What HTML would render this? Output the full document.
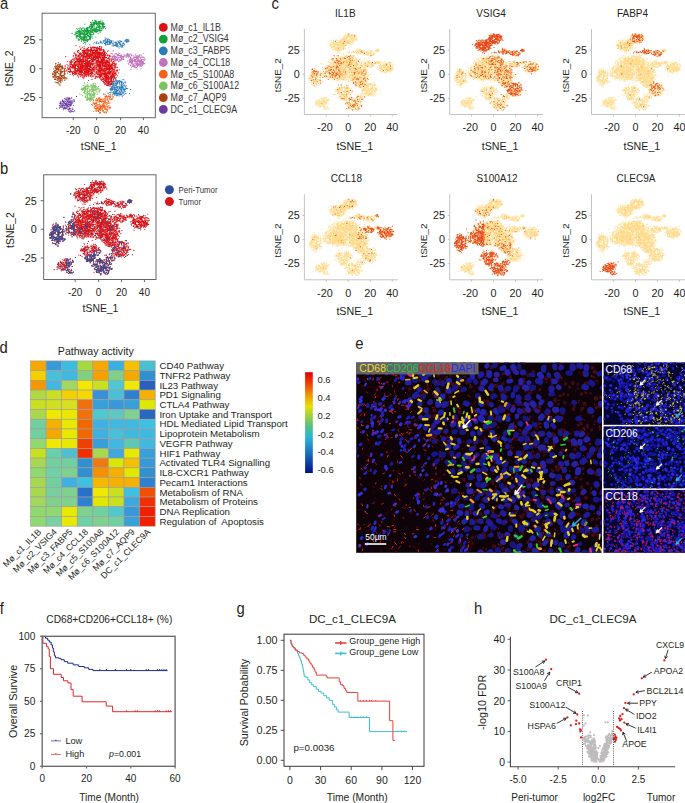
<!DOCTYPE html>
<html><head><meta charset="utf-8"><style>
html,body{margin:0;padding:0;background:#fff;}
svg{display:block;font-family:'Liberation Sans',sans-serif;}
</style></head><body>
<svg width="685" height="803" viewBox="0 0 685 803">
<defs>
<style>use{fill:none;stroke-linecap:round;vector-effect:non-scaling-stroke;}</style>
<path id="p_c1" d="M126 28h0M-3 150h0M29 0h0M-111 24h0M128 -77h0M37 -25h0M-196 -43h0M46 -50h0M18 -13h0M-99 154h0M-97 -60h0M48 -19h0M56 107h0M-46 127h0M68 114h0M105 83h0M103 22h0M-22 181h0M-108 152h0M-37 6h0M18 73h0M-173 90h0M-109 23h0M14 94h0M-122 186h0M-45 116h0M-37 78h0M-69 152h0M66 112h0M-138 17h0M-215 -27h0M-122 141h0M-9 133h0M-17 186h0M-66 118h0M-50 167h0M-98 10h0M-226 -48h0M-81 119h0M-48 173h0M-85 29h0M-65 107h0M116 -26h0M85 -85h0M-29 -39h0M151 7h0M-232 -29h0M-39 47h0M98 120h0M77 97h0M114 -151h0M-2 70h0M-73 7h0M-14 15h0M161 8h0M78 -75h0M-111 98h0M110 -80h0M-139 65h0M-149 114h0M35 -57h0M-91 130h0M100 -127h0M110 38h0M-13 -36h0M-226 22h0M-184 56h0M-55 57h0M-75 -50h0M105 -112h0M4 148h0M-79 -5h0M-18 99h0M-103 172h0M124 33h0M-97 103h0M-39 -13h0M113 81h0M0 13h0M41 121h0M109 9h0M-31 187h0M-197 31h0M156 -18h0M54 -11h0M63 73h0M106 6h0M67 119h0M-116 67h0M-89 103h0M-140 -23h0M-133 76h0M-168 115h0M10 -16h0M-208 25h0M-165 61h0M53 70h0M-23 -6h0M144 -67h0M-93 22h0M64 77h0M91 55h0M84 69h0M85 -119h0M-83 42h0M-91 3h0M127 4h0M-49 43h0M-139 76h0M-104 -30h0M49 61h0M-84 99h0M-49 86h0M65 -96h0M-60 90h0M-133 65h0M127 -85h0M77 -134h0M21 -21h0M-139 138h0M-89 19h0M-139 98h0M74 -3h0M53 60h0M60 -48h0M-1 140h0M-130 41h0M154 29h0M25 41h0M-149 79h0M117 -1h0M-50 -14h0M-123 26h0M19 36h0M-227 -4h0M-135 49h0M-181 -30h0M109 57h0M-60 46h0M-28 89h0M22 -55h0M72 -40h0M-106 60h0M-85 -9h0M-124 157h0M37 110h0M94 3h0M-128 43h0M18 103h0M-109 -5h0M-55 30h0M-34 -2h0M-128 65h0M-11 87h0M-210 33h0M-232 -24h0M-19 181h0M-129 13h0M46 30h0M-36 124h0M9 -49h0M2 35h0M72 -85h0M111 -46h0M-94 -1h0M-133 77h0M-57 -7h0M-47 85h0M75 -54h0M82 58h0M-92 80h0M-50 -41h0M152 57h0M-7 185h0M0 -67h0M0 177h0M-152 -3h0M10 -52h0M88 -78h0M-180 112h0M-110 71h0M-73 160h0M39 -47h0M-14 75h0M84 -74h0M-84 120h0M-126 53h0M-188 -24h0M-201 0h0M64 128h0M154 -114h0M29 -13h0M-40 142h0M84 -67h0M-188 -2h0M23 -57h0M68 59h0M11 -3h0M157 17h0M156 73h0M128 -71h0M-96 110h0M161 -41h0M78 71h0M25 3h0M0 -33h0M80 57h0M-131 119h0M-92 22h0M89 -61h0M78 142h0M166 74h0M-22 111h0M37 6h0M-134 2h0M52 141h0M22 101h0M-43 -38h0M82 22h0M-128 20h0M-149 8h0M17 22h0M-219 68h0M-34 147h0M-42 -46h0M-125 61h0M-159 83h0M54 86h0M-139 80h0M87 -94h0M71 -87h0M166 -46h0M0 169h0M-14 40h0M43 -3h0M-151 71h0M-13 157h0M109 -121h0M-147 55h0M-106 -43h0M-43 -9h0M5 131h0M-189 43h0M52 48h0M-158 -9h0M-4 91h0M-6 153h0M-70 -8h0M-152 101h0M63 47h0M47 101h0M-115 19h0M39 177h0M85 -10h0M-86 -36h0M-106 189h0M-159 -37h0M-244 23h0M101 -37h0M-33 81h0M71 3h0M105 -3h0M-152 156h0M-111 118h0M132 21h0M91 -130h0M-28 -66h0M-207 22h0M-36 -31h0M63 -60h0M-269 30h0M-124 64h0M87 -103h0M44 124h0M-142 -50h0M107 69h0M35 52h0M79 -87h0M-167 53h0M-132 -21h0M-66 60h0M98 53h0M-92 71h0M-55 72h0M27 -52h0M31 -25h0M51 68h0M12 37h0M83 -55h0M6 65h0M-133 70h0M-83 150h0M-94 53h0M-128 110h0M108 30h0M-123 60h0M-69 64h0M38 131h0M-46 54h0M45 7h0M-30 70h0M-189 -30h0M61 -220h0M-93 -34h0M-173 -19h0M-20 -52h0M47 -88h0M-104 62h0M-23 172h0M-28 64h0M69 -70h0M3 54h0M-26 93h0M3 182h0M-7 27h0M96 -114h0M-151 7h0M90 -73h0M91 88h0M-94 28h0M-132 125h0M-174 -12h0M9 124h0M174 -12h0M75 33h0M-97 -2h0M-162 67h0M120 -82h0M167 -77h0M170 -53h0M-106 -35h0M57 34h0M-95 21h0M113 27h0M-192 52h0M-123 21h0M39 77h0M-103 128h0M-70 -34h0M27 -19h0M-74 159h0M14 118h0M-91 167h0M69 -3h0M78 68h0M36 159h0M-165 42h0M-117 78h0M-68 21h0M-214 63h0M-149 -21h0M102 -32h0M13 172h0M63 -40h0M96 14h0M-178 37h0M-31 96h0M126 -158h0M44 -15h0M-14 -84h0M50 27h0M94 -128h0M-118 88h0M-183 62h0M-103 120h0M76 -87h0M-128 -52h0M-108 24h0M87 45h0M19 -11h0M30 171h0M-172 82h0M-123 -18h0M-60 17h0M37 -21h0M-79 70h0M74 101h0M-67 161h0M-44 96h0M-155 25h0M-53 103h0M42 83h0M-186 48h0M157 37h0M42 118h0M88 -1h0M-77 107h0M-117 -8h0M40 76h0M-105 -27h0M-118 78h0M-77 16h0M-175 -42h0M72 101h0M-41 -22h0M-87 128h0M88 -41h0M88 28h0M-73 27h0M90 -62h0M-161 24h0M72 -15h0M-226 5h0M-207 -49h0M-104 104h0M101 33h0M-106 22h0M151 -10h0M-133 -35h0M-103 8h0M-72 139h0M101 -95h0M-42 100h0M-60 17h0M122 -110h0M-71 -64h0M-43 79h0M-105 116h0M-141 -7h0M73 -63h0M-204 8h0M70 -15h0M-3 127h0M-127 -1h0M127 11h0M199 81h0M-91 36h0M-168 -24h0M-97 145h0M63 -55h0M-133 64h0M-1 110h0M112 -7h0M-20 76h0M10 135h0M-88 15h0M-57 -49h0M108 -37h0M75 -101h0M-132 103h0M26 -66h0M105 -47h0M-80 -40h0M144 -21h0M133 -52h0M143 -9h0M-52 145h0M135 25h0M134 -8h0M18 -8h0M-38 179h0M-16 -54h0M125 35h0M133 -64h0M-161 28h0M-193 19h0M152 25h0M36 -24h0M-80 114h0M52 67h0M143 -129h0M117 -69h0M-171 120h0M148 -51h0M10 -72h0M-120 85h0M-208 -29h0M-5 48h0M-51 -34h0M-124 35h0M158 5h0M-2 91h0M-78 26h0M68 129h0M-176 33h0M50 76h0M84 -72h0M112 108h0M-110 139h0M90 -41h0M-90 44h0M-86 -51h0M-72 23h0M189 -36h0M-58 103h0M62 27h0M-44 84h0M107 -19h0M-119 23h0M100 -92h0M-64 106h0M123 64h0M77 -57h0M152 -44h0M-104 -62h0M-84 144h0M-108 -13h0M-118 70h0M107 -4h0M-125 -28h0M102 -92h0M47 1h0M-85 137h0M54 43h0M-162 -6h0M-155 66h0M-73 153h0M-1 153h0M34 -64h0M13 -55h0M180 -61h0M-203 -41h0M4 -33h0M-57 157h0M-90 -5h0M160 -56h0M98 -1h0M36 -21h0M-67 112h0M-46 -9h0M10 161h0M-141 121h0M95 -10h0M-166 106h0M125 -63h0M-48 110h0M-173 61h0M37 67h0M122 -113h0M63 -90h0M-218 -20h0M75 19h0M-74 -59h0M-173 31h0M101 -69h0M68 59h0M124 73h0M85 -48h0M-147 -17h0M-43 -52h0M-188 5h0M124 129h0M-163 -15h0M-38 133h0M78 -17h0M-139 88h0M79 98h0M107 -42h0M136 10h0M112 -13h0M-31 112h0M52 -75h0M114 115h0M116 108h0M-117 -33h0M-122 118h0M69 -102h0M-78 119h0M-223 50h0M-61 118h0M50 -22h0M-253 38h0M12 112h0M-21 8h0M152 -10h0M-148 42h0M-192 40h0M137 37h0M151 -45h0M-98 82h0M146 -67h0M-151 78h0M142 56h0M-21 25h0M119 -8h0M72 35h0M-111 -42h0M134 28h0M-205 59h0M15 18h0M90 3h0M-160 -10h0M-123 109h0M109 39h0M-14 -47h0M44 -54h0M-34 -37h0M68 139h0M-7 91h0M-155 138h0M72 -38h0M63 -70h0M-90 -50h0M-121 159h0M57 28h0M-3 9h0M-76 59h0M-132 120h0M131 3h0M-138 -32h0M-144 189h0M110 6h0M104 61h0M-162 3h0M99 10h0M68 136h0M61 -11h0M79 -80h0M-179 129h0M-2 49h0M-183 -10h0M180 12h0M-126 59h0M-71 -17h0M126 -175h0M-62 -24h0M145 63h0M-20 106h0M138 -34h0M-9 117h0M-97 11h0M-102 103h0M-117 43h0M-66 -13h0M-8 161h0M166 -107h0M115 -114h0M-17 -10h0M-65 -7h0M-118 63h0M-27 44h0M-132 76h0M52 46h0M-92 158h0M-34 43h0M72 3h0M-56 151h0M81 113h0M-65 37h0M-113 160h0M-141 10h0M-133 35h0M58 44h0M63 21h0M1 106h0M86 -58h0M128 32h0M-126 26h0M-21 128h0M40 -63h0M106 85h0M3 -6h0M103 56h0M-33 -9h0M98 88h0M67 -46h0M74 -103h0M-164 25h0M-176 200h0M44 100h0M23 134h0M118 -135h0M116 -11h0M-189 29h0M-40 42h0M-37 161h0M34 -73h0M33 25h0M-90 -28h0M-1 104h0M-56 118h0M-202 30h0M168 -17h0M147 -85h0M-62 -4h0M111 -11h0M-245 -21h0M70 -100h0M60 98h0M-118 -30h0M-129 -3h0M-176 -31h0M-43 170h0M-174 58h0M17 -46h0M-24 131h0M83 46h0M-227 -33h0M-110 16h0M1 106h0M-39 -93h0M111 -28h0M-86 45h0M72 -21h0M-98 95h0M53 -110h0M-161 87h0M-121 120h0M-80 22h0M61 165h0M-38 -19h0M43 43h0M-37 129h0M41 -38h0M-179 27h0M15 177h0M-156 44h0M-163 65h0M152 -64h0M-68 -3h0M-148 94h0M126 -105h0M24 -74h0M123 -105h0M-73 33h0M92 -146h0M106 48h0M-119 96h0M-13 -1h0M32 -24h0M27 120h0M-81 85h0M-70 -31h0M-154 117h0M-83 -28h0M-56 -43h0M-104 -71h0M161 23h0M24 144h0M-30 -67h0M58 157h0M-22 106h0M25 161h0M103 -132h0M70 17h0M22 164h0M46 143h0M-147 36h0M-117 59h0M145 80h0M5 37h0M17 -17h0M-78 -40h0M28 -4h0M137 81h0M84 -89h0M-23 131h0M-68 -58h0M-229 16h0M-90 85h0M84 20h0M143 -36h0M23 165h0M125 -102h0M104 -9h0M98 13h0M-109 91h0M109 -46h0M-53 -6h0M-127 -38h0M28 157h0M-137 30h0M-97 79h0M82 -21h0M-179 119h0M-68 32h0M149 -28h0M-4 60h0M21 12h0M-72 -3h0M-74 19h0M130 4h0M-109 103h0M29 114h0M23 107h0M-246 -5h0M126 41h0M8 -19h0M-29 69h0M61 17h0M127 -127h0M-215 60h0M95 -84h0M121 -101h0M47 -7h0M25 193h0M-23 21h0M-65 93h0M6 88h0M-83 38h0M-7 -80h0M-155 63h0M-104 -30h0M-103 44h0M-3 105h0M-100 -10h0M53 -39h0M25 -38h0M138 -141h0M14 23h0M114 -5h0M30 144h0M44 112h0M-110 111h0M-87 73h0M-76 -46h0M-114 10h0M-47 162h0M-138 17h0M26 34h0M16 19h0M-123 -19h0M95 62h0M-200 -27h0M39 58h0M-57 -50h0M-127 79h0M-69 -2h0M-13 129h0M-4 150h0M-134 -45h0M3 -46h0M-153 -16h0M54 38h0M-102 43h0M119 -53h0M8 97h0M-27 157h0M-78 -43h0M-135 58h0M98 -75h0M-62 63h0M84 11h0M-59 69h0M-232 -27h0M-62 154h0M8 105h0M80 39h0M-115 -9h0M111 -81h0M-63 99h0M76 123h0M-162 20h0M-88 2h0M-30 74h0M122 -106h0M-31 -59h0M-152 8h0M-156 -73h0M-46 53h0M5 -75h0M74 -32h0M-76 69h0M25 162h0M-142 -59h0M-120 44h0M43 138h0M-81 175h0M-7 126h0M153 -61h0M-93 138h0M-32 139h0M73 -18h0M-169 42h0M145 61h0M33 -70h0M67 -5h0M118 -1h0M-1 12h0M-192 11h0M107 -134h0M94 25h0M13 53h0M-99 138h0M-128 20h0M-180 55h0M128 35h0M81 -16h0M111 27h0M-223 -10h0M-88 121h0M38 85h0M-146 34h0M-179 18h0M-225 -14h0M22 13h0M-53 188h0M-22 109h0M-185 81h0M88 -108h0M-73 -55h0M101 -25h0M50 -1h0M-38 10h0M133 -44h0M29 46h0M105 -128h0M1 65h0M28 125h0M-193 -40h0M-48 39h0M-37 137h0M-76 -33h0M49 135h0M67 122h0M123 32h0M68 21h0M-123 83h0M11 98h0M-94 61h0M-48 124h0M93 151h0M-6 -63h0M-115 5h0M-88 -60h0M-13 97h0M94 -116h0M55 -36h0M5 43h0M-172 61h0M-130 -26h0M67 58h0M-90 132h0M55 -36h0M-61 159h0M-226 53h0M-99 102h0M-216 52h0M62 51h0M36 47h0M-113 -62h0M16 -69h0M10 59h0M11 -37h0M-180 -35h0M70 -18h0M-36 60h0M54 143h0M-109 75h0M109 40h0M-126 -61h0M-14 3h0M-2 99h0M-53 -58h0M-47 87h0M-47 -29h0M-133 7h0M-165 144h0M-126 8h0M-72 -32h0M-50 124h0M146 196h0M-38 -32h0M155 -74h0M46 81h0M31 -59h0M-134 -19h0M-22 145h0M11 153h0M-71 166h0M-136 83h0M-206 83h0M-240 -6h0M-68 163h0M54 54h0M-192 -43h0M3 103h0M40 160h0M47 132h0M-29 160h0M-129 20h0M-42 125h0M-72 57h0M37 22h0M99 -38h0M54 66h0M-209 12h0M-55 33h0M-50 152h0M90 -75h0M166 -40h0M110 -12h0M-44 118h0M67 -27h0M-60 1h0M-59 88h0M145 45h0M69 15h0M-93 32h0M-14 57h0M148 -111h0M-10 106h0M-55 -22h0M61 92h0M-162 38h0M32 -11h0M49 86h0M30 -64h0M-8 92h0M-59 -47h0M70 21h0M127 -136h0M-67 118h0M-167 95h0M-200 10h0M-115 161h0M-98 44h0M-43 -55h0M-185 91h0M-176 -50h0M-11 111h0M20 78h0M72 -21h0M-226 57h0M152 -27h0M72 92h0M-114 152h0M87 -141h0M76 47h0M122 -109h0M140 -70h0M-76 33h0M-200 69h0M-6 157h0M4 135h0M162 -44h0M92 -80h0M-98 65h0M-88 121h0M-64 51h0M66 76h0M166 46h0M137 -80h0M-154 53h0M34 26h0M-190 15h0M23 13h0M-77 48h0M-104 -21h0M123 34h0M-104 -25h0M-114 132h0M-119 31h0M68 -47h0M61 -116h0M67 -51h0M-83 -16h0M-173 -42h0M-61 108h0M16 -37h0M-176 -21h0M-185 -50h0M73 -2h0M6 74h0M-106 44h0M-134 -16h0M-177 64h0M105 1h0M-51 -64h0M-18 136h0M-128 -18h0M138 -46h0M52 64h0M93 4h0M-112 -8h0M45 -42h0M-150 -17h0M113 46h0M-153 90h0M88 35h0M-150 -16h0M-151 81h0M-206 -41h0M-132 -11h0M-63 96h0M103 90h0M103 -82h0M-36 70h0M-159 20h0M60 -19h0M-191 51h0M49 98h0M-16 -23h0M26 53h0M123 -69h0M-197 83h0M-119 153h0M137 -51h0M-139 24h0M16 75h0M-133 -17h0M4 131h0M130 67h0M30 168h0M35 75h0M36 74h0M-228 -24h0M-35 25h0M64 147h0M-211 9h0M126 -35h0M-72 142h0M49 139h0M-190 73h0M112 81h0M-86 105h0M-69 -6h0M86 97h0M83 -60h0M46 42h0M72 -53h0M-51 140h0M-71 49h0M-181 16h0M-120 8h0M11 142h0M-163 -55h0M-52 148h0M113 -32h0M26 -53h0M49 -62h0M19 121h0M-52 168h0M-74 131h0M128 -82h0M-199 114h0M87 -112h0M20 132h0M-107 40h0M35 -46h0M-200 10h0M-71 85h0M3 10h0M63 -61h0M140 -110h0M19 -30h0M68 80h0M7 31h0M-88 -24h0M33 27h0M-264 104h0M-188 11h0M114 -26h0M-25 144h0M-100 64h0M42 -37h0M128 -3h0M88 66h0M-160 38h0M46 -51h0M82 17h0M-129 -16h0M-182 99h0M77 -96h0M46 60h0M-149 30h0M-48 25h0M2 172h0M-23 155h0M92 -30h0M-47 -28h0M37 -71h0M40 73h0M4 20h0M14 85h0M-133 37h0M55 41h0M-68 154h0M-50 15h0M-77 109h0M45 -2h0M-191 -36h0M74 -54h0M-151 11h0M-73 119h0M82 -59h0M-62 -14h0M32 41h0M72 99h0M96 71h0M58 62h0M62 1h0M-102 129h0M-4 32h0M73 -50h0M25 135h0M-150 17h0M40 -46h0M52 -94h0M-187 87h0M-139 -18h0M141 -69h0M21 11h0M-224 -24h0M144 -104h0M-65 157h0M110 11h0M72 89h0M-132 -36h0M-99 -60h0M-219 70h0M-114 116h0M-27 -21h0M124 18h0M43 -44h0M45 11h0M-163 -18h0M6 163h0M22 119h0M114 47h0M-191 142h0M-88 16h0M97 62h0M101 19h0M57 -47h0M54 96h0M-83 133h0M-117 -65h0M39 5h0M64 30h0M-179 -13h0M-96 28h0M-244 28h0M83 5h0M-122 47h0M56 -9h0M103 35h0M70 42h0M-37 184h0M25 140h0M4 94h0M-70 46h0M151 -75h0M-156 158h0M-31 -1h0M131 -73h0M21 -11h0M-79 70h0M145 -46h0M3 162h0M93 -91h0M139 14h0M-100 -8h0M-20 169h0M-115 74h0M12 142h0M5 180h0M36 137h0M-36 136h0M87 76h0M-10 145h0M2 141h0M-88 10h0M3 -4h0M144 -57h0M-227 4h0M41 166h0M-25 104h0M-115 8h0M-87 52h0M22 101h0M-118 4h0M154 43h0M-137 22h0M142 79h0M79 -43h0M-138 -27h0M9 112h0M3 116h0M-44 40h0M-77 -30h0M-36 58h0M154 44h0M13 120h0M-58 122h0M52 59h0M-145 88h0M-144 34h0M-68 185h0M32 15h0M20 62h0M5 114h0M54 14h0M34 138h0M134 -20h0M-144 -37h0M110 17h0M20 44h0M138 -36h0M-42 -16h0M165 38h0M-148 -29h0M90 53h0M33 3h0M42 -12h0M-23 115h0M94 113h0M19 4h0M-219 20h0M-76 93h0M-108 -6h0M28 115h0M-115 -6h0M-82 16h0M51 77h0M115 -93h0M-111 30h0M35 37h0M19 27h0M98 -22h0M-182 28h0M67 15h0M109 -37h0M-191 32h0M112 -122h0M43 54h0M0 50h0M57 -88h0M-103 121h0M73 55h0M71 -78h0M-61 131h0M76 50h0M-31 -6h0M27 134h0M127 81h0M-9 95h0M41 -103h0M-131 131h0M-110 139h0M120 -127h0M58 -86h0M164 -29h0M-9 153h0M111 -29h0M-22 119h0M-128 -18h0M86 32h0M57 77h0M-184 40h0M-5 14h0M-58 7h0M-148 102h0M30 122h0M-73 155h0M104 155h0M2 165h0M29 53h0M43 189h0M-79 71h0M-83 156h0M-54 108h0M49 -13h0M23 18h0M3 107h0M33 131h0M-4 -36h0M-193 130h0M-20 21h0M78 5h0M-79 4h0M72 -124h0M-50 127h0M-170 44h0M67 145h0M-156 11h0M47 37h0M132 -112h0M-59 159h0M39 -95h0M61 91h0M33 95h0M83 134h0M-117 16h0M-79 65h0M118 -67h0M-198 14h0M-114 81h0M-87 5h0M-235 -2h0M-81 149h0M82 -73h0M49 -38h0M-97 32h0M-40 144h0M77 43h0M94 54h0M106 -123h0M-101 154h0M56 -98h0M94 -72h0M30 142h0M155 -41h0M21 21h0M-83 -13h0M-94 -18h0M-112 132h0M-104 148h0M71 -36h0M-12 141h0M44 -89h0M-124 3h0M-173 86h0M-140 70h0M91 -129h0M-59 22h0M113 -74h0M62 82h0M-245 0h0M-151 91h0M3 154h0M-52 16h0M148 -64h0M-85 145h0M103 -83h0M94 53h0M-142 39h0M-122 -74h0M-19 -12h0M74 22h0M-185 28h0M-71 -21h0M-271 6h0M-152 156h0M-99 103h0M-164 76h0M-78 78h0M15 142h0M1 136h0M105 35h0M120 -27h0M117 -5h0M99 -43h0M61 149h0M-59 -5h0M-247 8h0M-108 173h0M12 74h0M15 128h0M-81 54h0M-92 58h0M-124 12h0M9 125h0M175 -10h0M74 100h0M21 175h0M-72 127h0M-92 100h0M-144 50h0M-77 -16h0M98 -74h0M-23 133h0M-133 -17h0M26 28h0M60 -82h0M59 154h0M60 -88h0M60 74h0M155 -38h0M31 -37h0M85 -57h0M-141 17h0M96 -144h0M-19 130h0M81 -33h0M-147 132h0M126 19h0M37 88h0M-37 129h0M-149 -2h0M27 25h0M-6 179h0M47 -14h0M-102 -51h0M66 -64h0M-55 132h0M9 151h0M5 128h0M54 165h0M150 7h0M58 -109h0M179 -16h0M133 -58h0M-187 -49h0M-197 20h0M25 56h0M55 -38h0M-175 1h0M13 114h0M6 74h0M-65 3h0M34 -88h0M154 -82h0M181 -11h0M11 27h0M60 -26h0M-76 171h0M107 -49h0M-127 -2h0M-151 109h0M-97 132h0M-53 -9h0M-41 158h0M97 28h0M41 -43h0M-162 70h0M-35 130h0M67 98h0M139 46h0M-269 18h0M-172 30h0M-121 -32h0M127 -95h0M126 -55h0M-74 -4h0M137 -72h0M-24 -12h0M15 146h0M-33 181h0M53 35h0M-1 31h0M-54 90h0M-44 78h0M-104 135h0M-65 161h0M137 0h0M-12 94h0M-110 43h0M117 -93h0M80 -63h0M-181 39h0M13 137h0M49 22h0M0 -34h0M-203 19h0M-152 77h0M24 123h0M-95 -23h0M-218 9h0M40 -91h0M-135 55h0M-123 -30h0M17 57h0M30 -57h0M-250 64h0M7 37h0M-193 36h0M-224 52h0M36 49h0M31 190h0M-76 -47h0M-65 -39h0M-70 62h0M130 -101h0M0 -39h0M-145 131h0M96 119h0M141 -124h0M-65 -34h0M51 -38h0M-52 -64h0M-108 151h0M109 71h0M-10 180h0M105 -86h0M-118 89h0M-83 34h0M155 31h0M-116 119h0M38 58h0M81 -55h0M33 98h0M108 -42h0M56 -7h0M159 18h0M-5 -18h0M-231 6h0M79 46h0M57 -88h0M-76 31h0M-191 40h0M28 109h0M-200 -20h0M97 -71h0M22 30h0M30 38h0M76 3h0M3 117h0M-137 11h0M-177 -9h0M19 136h0M-56 119h0M-56 160h0M53 118h0M100 -92h0M106 -60h0M55 135h0M-159 -63h0M-178 100h0M68 -26h0M-45 157h0M-49 11h0M99 -142h0M-191 35h0M-40 -71h0M-79 67h0M-114 144h0M-53 24h0M33 91h0M97 -6h0M163 -31h0M-79 153h0M-135 4h0M-155 107h0M-85 13h0M-132 14h0M-95 101h0M-142 79h0M-1 -23h0M43 -44h0M-54 44h0M83 57h0M62 130h0M-37 119h0M-202 33h0M142 155h0M-77 14h0M-129 -13h0M-102 130h0M25 -27h0M142 -109h0M76 -71h0M112 -29h0M88 25h0M-28 98h0M44 -6h0M-98 -30h0M36 -31h0M-79 59h0M-128 7h0M-114 18h0M-189 -3h0M20 74h0M-182 -1h0M-32 126h0M-55 -39h0M18 63h0M13 33h0M25 -80h0M19 100h0M71 28h0M54 113h0M30 118h0M-199 108h0M-27 90h0M8 133h0M45 74h0M37 168h0M66 54h0M-37 -46h0M-43 64h0M-142 126h0M48 94h0M-63 -23h0M-92 -34h0M-68 -20h0M119 32h0M-159 -31h0M65 31h0M-88 114h0M-178 37h0M-199 -62h0M-169 -40h0M66 155h0M110 5h0M-33 181h0M52 -42h0M43 -1h0M111 22h0M28 144h0M-46 121h0M55 103h0M88 6h0M117 22h0M-127 36h0M26 175h0M53 36h0M106 -122h0M29 104h0M-102 -40h0M33 125h0M29 41h0M144 -93h0M-101 101h0M143 -54h0M-87 -67h0M-38 66h0M14 127h0M15 87h0M-84 19h0M-103 -27h0M4 130h0M-37 79h0M42 186h0M14 -21h0M-30 81h0M93 36h0M-148 63h0M-101 0h0M-136 104h0M118 -140h0M-63 27h0M-12 83h0M23 97h0M144 -58h0M123 -37h0M10 68h0M-21 143h0M197 -9h0M83 -73h0M-45 92h0M25 -56h0M-129 111h0M62 47h0M126 -19h0M137 37h0M-55 13h0M-124 40h0M67 -123h0M68 104h0M110 40h0M114 -9h0M-56 52h0M-26 188h0M-204 36h0M132 -135h0M-72 95h0M-88 5h0M176 -26h0M71 64h0M-124 -1h0M-149 54h0M-76 133h0M-165 2h0M-138 -3h0M136 -2h0M-20 181h0M-64 121h0M-33 -40h0M-228 28h0M134 49h0M144 -125h0M56 53h0M-115 -48h0M-18 126h0M-150 -47h0M59 92h0M10 105h0M-31 68h0M139 57h0M132 107h0M-80 -35h0M-229 64h0M-140 -9h0M38 68h0M-24 161h0M-151 153h0M-39 37h0M-39 112h0M123 87h0M-29 77h0M-40 106h0M-72 22h0M-63 -11h0M79 46h0M-93 31h0M74 -33h0M-80 -42h0M163 -89h0M98 -10h0M-213 42h0M-173 36h0M-37 39h0M120 -134h0M41 57h0M40 4h0M73 90h0M-74 117h0M-46 168h0M-168 54h0M-60 124h0M-28 6h0M-4 -2h0M149 -3h0M-17 110h0M-140 77h0M-115 66h0M-171 -38h0M145 -72h0M-112 158h0M98 4h0M-90 -14h0M-139 28h0M-94 135h0M109 -49h0M-93 -39h0M-50 113h0M47 46h0M-22 84h0M-146 -48h0M-127 11h0M-44 7h0M-155 7h0M-102 140h0M-40 76h0M109 -107h0M-71 41h0M-169 42h0M82 -4h0M142 -44h0M-77 44h0M119 8h0M-16 22h0M-114 63h0M19 -18h0M24 -48h0M-45 -39h0M-194 47h0M35 19h0M-26 12h0M85 -142h0M-127 32h0M120 -24h0M-96 86h0M153 -75h0M128 -94h0M-58 19h0M-59 20h0M-165 17h0M16 -16h0M6 48h0M78 -111h0M-121 -54h0M28 -22h0M-204 81h0M-155 40h0M98 -74h0M-208 15h0M-123 -20h0M168 12h0M-115 122h0M8 99h0M137 -18h0M-64 66h0M-114 -80h0M62 117h0M-31 33h0M-16 139h0M-97 29h0M-175 62h0M143 -56h0M105 -113h0M-99 14h0M-8 -69h0M50 116h0M-144 -24h0M-34 66h0M27 10h0M-115 107h0M-146 126h0M17 177h0M-144 7h0M67 106h0M-136 -68h0M124 -80h0M-5 80h0M98 -27h0M-170 64h0M29 64h0M-91 22h0M80 21h0M130 4h0M-114 54h0M109 -112h0M58 124h0M98 -62h0M-238 -25h0M24 186h0M29 -53h0M-135 128h0M-162 67h0M17 127h0M16 103h0M-25 58h0M14 117h0M131 -24h0M-68 -46h0M-94 -47h0M-75 110h0M-110 -81h0M96 -140h0M94 -53h0M43 -64h0M-3 61h0M34 4h0M-40 139h0M116 -41h0M-102 41h0M-34 89h0M-75 138h0M-79 93h0M167 -80h0M128 -131h0M68 -69h0M-185 -5h0M-220 36h0M31 42h0M51 42h0M-58 94h0M95 -121h0M-164 152h0M120 -34h0M-59 44h0M-136 168h0M-49 -37h0M130 -37h0M-14 163h0M-184 -8h0M39 -6h0M-84 138h0M58 52h0M112 -138h0M156 37h0M-154 -43h0M-105 128h0M-53 70h0M-89 -7h0M-7 150h0M-223 -18h0M-189 55h0M-33 125h0M-19 97h0M21 104h0M85 -104h0M-33 -34h0M-232 41h0M-108 -12h0M-98 71h0M-160 6h0M107 116h0M-69 -102h0M90 27h0M42 -13h0M-116 -13h0M84 131h0M39 167h0M72 142h0M-172 35h0M-205 -30h0M42 -55h0M-120 -20h0M-95 36h0M-91 132h0M-104 158h0M-139 0h0M-187 -17h0M-50 35h0M-25 132h0M-207 18h0M-70 -32h0M-58 207h0M-95 38h0M153 23h0M69 -135h0M110 18h0M-24 101h0M-6 105h0M-36 154h0M-215 75h0M-88 60h0M-86 -34h0M-77 119h0M29 17h0M-98 68h0M-67 -42h0M50 -17h0M85 -95h0M-86 120h0M-247 11h0M81 -125h0M-181 9h0M78 115h0M-56 -65h0M104 96h0M3 115h0M68 22h0M28 96h0M-36 -3h0M-152 76h0M-222 37h0M-24 139h0M-159 -27h0M-190 129h0M-72 106h0M42 170h0M109 106h0M29 -69h0M-91 -9h0M127 -93h0M31 -37h0M-137 166h0M103 -147h0M-112 63h0M-148 -6h0M-75 -16h0M90 -7h0M76 34h0M-59 71h0M8 -47h0M-228 41h0M-189 23h0M-71 136h0M101 -124h0M167 33h0M-136 -51h0M108 -1h0M63 -123h0M-81 39h0M-146 52h0M32 59h0M-116 -10h0M-121 0h0M-125 -35h0M-68 0h0M63 52h0M-103 147h0M84 -10h0M115 -3h0M-13 70h0M102 -65h0M-147 69h0M-26 42h0M82 -15h0M-62 118h0M101 -105h0M145 27h0M120 17h0M-103 24h0M49 30h0M-116 131h0M75 -33h0M-55 33h0M-62 102h0M-7 109h0M-75 178h0M-48 182h0M-32 99h0M-203 19h0M-78 -18h0M-15 45h0M19 125h0M9 187h0M-81 139h0M86 -69h0M11 124h0M72 -113h0M98 -80h0M23 137h0M64 94h0M45 68h0M91 -101h0M-70 26h0M-49 -15h0M-155 -45h0M36 27h0M-134 177h0M-127 54h0M105 -35h0M-173 69h0M20 94h0M-179 -42h0M82 -49h0M100 49h0M-81 167h0M-203 27h0M64 70h0M123 27h0M-91 106h0M127 33h0"/><path id="p_c2" d="M30 347h0M-20 319h0M-114 305h0M-38 403h0M-1 355h0M-146 272h0M-3 344h0M-12 389h0M-76 303h0M-20 387h0M27 362h0M-10 321h0M-8 389h0M-11 392h0M-6 274h0M-131 297h0M-136 280h0M-117 299h0M-93 331h0M-85 274h0M-99 330h0M-116 270h0M-86 326h0M27 386h0M-79 285h0M-36 417h0M57 349h0M9 322h0M1 320h0M23 399h0M-104 291h0M-2 402h0M-90 269h0M62 364h0M-61 267h0M24 368h0M-72 354h0M-19 324h0M-27 308h0M-82 331h0M-39 319h0M21 358h0M-31 362h0M-80 292h0M-86 339h0M-145 318h0M34 391h0M-134 267h0M17 382h0M-149 313h0M31 316h0M-117 251h0M-71 356h0M28 315h0M-129 319h0M-102 243h0M-89 294h0M-98 243h0M-140 307h0M-112 298h0M48 392h0M-112 254h0M27 365h0M-23 400h0M-55 280h0M-110 263h0M-47 318h0M-26 297h0M-36 319h0M-97 297h0M-64 295h0M-140 353h0M-70 352h0M-157 246h0M-48 318h0M-14 352h0M19 353h0M-128 275h0M-187 298h0M13 393h0M-45 382h0M-181 310h0M17 407h0M-72 253h0M-142 256h0M-160 279h0M-84 353h0M-106 324h0M-131 321h0M-161 307h0M71 363h0M-106 301h0M4 395h0M-79 350h0M-69 328h0M-50 315h0M51 369h0M-122 310h0M-81 299h0M-141 313h0M-102 260h0M24 396h0M-184 293h0M5 386h0M-68 333h0M38 382h0M18 337h0M-31 329h0M-155 292h0M-43 313h0M-26 334h0M-84 335h0M-100 285h0M-109 274h0M-165 324h0M-88 274h0M-77 343h0M-113 246h0M-96 289h0M-79 289h0M5 398h0M1 315h0M8 338h0M-56 329h0M-78 341h0M-20 378h0M-105 273h0M-18 338h0M-137 318h0M-164 276h0M21 369h0M61 379h0M-80 355h0M11 393h0M-102 289h0M17 329h0M13 389h0M-29 387h0M-38 315h0M-62 301h0M-134 268h0M-168 289h0M-74 245h0M-42 311h0M-67 331h0M65 359h0M-177 305h0M-175 318h0M-56 371h0M51 372h0M-113 218h0M21 365h0M-88 320h0M-79 300h0M-49 269h0M-17 337h0M-21 340h0M-70 321h0M-21 350h0M-143 288h0M-102 267h0M-28 376h0M-47 292h0M-38 295h0M-130 304h0M-76 254h0M24 376h0M-115 321h0M-49 292h0M-148 297h0M-13 332h0M12 339h0M48 398h0M-149 318h0M-139 296h0M-85 329h0M-118 270h0M-43 358h0M24 333h0M-158 321h0M-61 277h0M-155 254h0M-27 392h0M-85 241h0M-50 351h0M-4 343h0M-127 343h0M-116 275h0M-3 407h0M-72 287h0M-8 393h0M-86 275h0M-112 276h0M-121 306h0M-39 384h0M15 389h0M-8 327h0M-19 381h0M-59 330h0M-41 351h0M-54 294h0M-81 274h0M-11 415h0M-1 342h0M51 366h0M-7 327h0M40 391h0M-18 387h0M-86 348h0M-43 294h0M-31 335h0M-101 304h0M-85 263h0M-52 285h0M-112 329h0M-33 376h0M66 364h0M-13 393h0M19 357h0M-60 366h0M-41 279h0M-130 269h0M15 410h0M-150 349h0M-56 334h0M-167 321h0M-90 251h0M-35 315h0M-62 264h0M-91 348h0M-22 334h0M-99 248h0M-116 323h0M-153 312h0M-103 313h0M1 353h0M-116 279h0M-92 229h0M-120 331h0M-41 330h0M-96 214h0M-151 298h0M-34 371h0M49 384h0M-174 278h0M-105 229h0M33 397h0M1 380h0M-48 402h0M-141 277h0M-101 340h0M14 395h0M-117 300h0M-105 342h0M-170 277h0M2 407h0M-75 334h0M-66 289h0M-148 248h0M-147 335h0M-51 292h0M-32 330h0M28 349h0M27 340h0M-5 394h0M-112 240h0M15 357h0M-62 362h0M25 397h0M-2 397h0M-52 401h0M19 388h0M22 394h0M-141 302h0M-109 289h0M-113 247h0M-54 323h0M-122 304h0M-11 346h0M-144 270h0M67 387h0M25 330h0M-4 332h0M61 395h0M35 367h0M-17 333h0M56 397h0M-80 312h0M-48 366h0M38 392h0M55 390h0M51 373h0M-40 359h0M-39 349h0M9 388h0M-106 262h0M-178 294h0M-126 253h0M67 365h0M-128 251h0M-132 303h0M44 331h0M-210 305h0M-79 339h0M-71 311h0M-61 362h0M-1 359h0M-45 346h0M52 395h0M-148 333h0M-171 305h0M9 323h0M-108 260h0M-135 261h0M-30 361h0M-165 341h0M-83 319h0M-40 318h0M-100 385h0M-99 313h0M-79 236h0M-12 410h0M-20 318h0M-20 367h0M-37 295h0M-171 287h0M-16 403h0M-109 352h0M-140 286h0M-115 295h0M36 367h0M-54 279h0M-142 327h0M-37 363h0M-80 340h0M-74 319h0M-76 339h0M-7 338h0M-151 308h0M-5 317h0M-53 250h0M-2 382h0M-22 396h0M-63 308h0M42 381h0M-144 278h0M-28 338h0M-174 265h0M-127 260h0M-116 352h0M-33 356h0M45 337h0M-72 286h0M-132 338h0M57 366h0M-74 251h0M-98 230h0M-52 382h0M-50 270h0M20 408h0M-114 304h0M-35 322h0M-17 344h0M-95 323h0M2 389h0M-129 238h0M41 349h0M37 361h0M-113 321h0M-98 245h0M-18 395h0M-149 281h0M-65 310h0M-85 302h0M-6 416h0M-170 348h0M-54 262h0M77 348h0M-121 352h0M-65 316h0M11 367h0M-28 401h0M-115 304h0M-46 378h0M-54 335h0M-10 328h0M-87 335h0M-167 275h0M-17 336h0M-99 271h0M-145 292h0M-101 279h0M-95 246h0M-36 338h0M-160 289h0M-83 250h0M43 380h0M-14 411h0M48 413h0M9 330h0M-83 272h0M-100 251h0M-124 313h0M3 339h0M-46 380h0M-53 321h0M29 318h0M-120 330h0M-143 252h0M34 391h0M-16 402h0M-27 382h0M-54 320h0M-34 370h0M29 407h0M1 326h0M13 304h0M-43 314h0M-28 309h0M-74 327h0M-130 305h0M-60 308h0M-63 351h0M10 340h0M-53 300h0M-54 260h0M-116 331h0M-71 280h0M-14 418h0M-51 380h0M-106 329h0M49 362h0M-93 273h0M47 401h0M-95 297h0M5 358h0M-28 339h0M20 388h0M-27 329h0M-94 248h0M-88 330h0M-92 246h0M-88 330h0M-166 310h0M-23 375h0M55 357h0M-60 260h0M-1 327h0M-108 277h0M-63 309h0M21 378h0M-116 248h0M-37 370h0M53 384h0M-43 359h0M-46 374h0M32 333h0M-140 282h0M-56 259h0M46 346h0M-76 321h0M19 359h0M-80 332h0M-119 251h0M-84 340h0M36 413h0M-78 306h0M31 360h0M-13 405h0M-88 274h0M-63 317h0M30 409h0M-131 346h0M-102 251h0M15 386h0M-153 329h0M-148 285h0M-5 315h0M-61 269h0M-38 357h0M-144 329h0M-36 265h0M-15 352h0M-52 350h0M-45 369h0M-39 356h0M20 374h0M-82 311h0M-167 286h0M-89 308h0M-56 275h0M-136 280h0M-50 297h0M-110 326h0M-42 391h0M15 356h0M51 384h0M25 399h0M52 376h0M-85 332h0M8 373h0M-163 304h0M-87 272h0M-150 329h0M27 408h0M-83 356h0M-32 385h0M-37 337h0M-87 271h0M-26 389h0M-139 289h0M-92 246h0M-64 281h0M-108 315h0M-91 278h0M45 390h0M-103 291h0M-54 308h0M-128 252h0M-140 285h0M-112 263h0M-64 252h0M2 354h0M-122 265h0M58 390h0M-16 334h0M-95 245h0M-104 326h0M-119 299h0M-131 332h0M-45 344h0M-25 344h0M-87 299h0M-59 356h0M-17 327h0M34 329h0M-47 341h0M-134 262h0M-98 263h0M-158 263h0M-49 334h0M23 358h0M-49 386h0"/><path id="p_c3" d="M120 -209h0M239 -190h0M241 -222h0M191 -187h0M180 -116h0M150 -126h0M179 -184h0M185 -153h0M171 -131h0M184 -207h0M187 -110h0M245 -195h0M131 -173h0M171 -150h0M175 -133h0M217 -125h0M198 -115h0M177 -103h0M174 -185h0M216 -146h0M209 -202h0M201 -201h0M164 -189h0M219 -241h0M124 -186h0M154 -208h0M155 -223h0M195 -119h0M158 -100h0M173 -216h0M173 -223h0M216 -223h0M135 -181h0M174 -221h0M231 -175h0M171 -161h0M213 -116h0M160 -198h0M234 -96h0M146 -128h0M225 -205h0M187 -185h0M151 -200h0M190 -113h0M178 -190h0M181 -228h0M162 -174h0M162 -123h0M213 -193h0M142 -208h0M209 -184h0M177 -188h0M137 -125h0M200 -210h0M212 -122h0M201 -199h0M197 -201h0M142 -179h0M267 -171h0M196 -169h0M168 -174h0M127 -121h0M183 -171h0M138 -166h0M207 -180h0M153 -216h0M230 -128h0M166 -141h0M206 -219h0M196 -164h0M138 -134h0M236 -150h0M134 -122h0M246 -158h0M198 -200h0M162 -218h0M213 -110h0M165 -147h0M143 -199h0M168 -192h0M243 -173h0M175 -159h0M211 -163h0M182 -185h0M181 -166h0M194 -223h0M185 -216h0M147 -203h0M195 -126h0M127 -164h0M223 -160h0M129 -167h0M146 -158h0M252 -147h0M250 -214h0M228 -162h0M233 -201h0M154 -139h0M218 -157h0M177 -233h0M209 -183h0M196 -160h0M125 -193h0M219 -166h0M224 -207h0M247 -122h0M168 -232h0M117 -181h0M161 -207h0M208 -137h0M232 -211h0M150 -170h0M203 -110h0M170 -214h0M167 -199h0M167 -141h0M171 -147h0M212 -153h0M160 -87h0M292 -179h0M208 -158h0M215 -147h0M158 -145h0M173 -108h0M182 -230h0M188 -212h0M131 -152h0M177 -195h0M215 -154h0M211 -148h0M254 -172h0M199 -101h0M233 -177h0M226 -182h0M231 -142h0M189 -106h0M152 -186h0M160 -175h0M194 -164h0M179 -131h0M206 -211h0M115 -225h0M175 -211h0M98 -211h0M204 -219h0M163 -131h0M195 -133h0M195 -226h0M200 -104h0M113 -135h0M218 -136h0M123 -193h0M215 -218h0M210 -160h0M180 -155h0M144 -135h0M193 -104h0M225 -171h0M150 -151h0M188 -184h0M155 -162h0M136 -176h0M209 -166h0M167 -185h0M135 -157h0M249 -159h0M237 -188h0M134 -177h0M211 -147h0M217 -185h0M113 -206h0M153 -180h0M157 -171h0M246 -113h0M214 -129h0M221 -212h0M192 -236h0M180 -156h0M216 -185h0M281 -216h0M205 -175h0M171 -203h0M222 -116h0M164 -128h0M120 -246h0M213 -110h0M243 -181h0M249 -156h0M242 -176h0M166 -97h0M165 -203h0M258 -173h0M149 -155h0M165 -131h0M186 -218h0M196 -216h0M227 -231h0M180 -113h0M138 -115h0M214 -190h0M136 -185h0M142 -147h0M132 -207h0M148 -216h0M141 -220h0M192 -178h0M208 -186h0M155 -227h0M174 -234h0M247 -177h0M141 -144h0M202 -160h0M174 -118h0M141 -149h0M161 -129h0M173 -185h0M256 -170h0M230 -182h0M189 -104h0M212 -226h0M117 -173h0M202 -174h0M223 -151h0M180 -123h0M205 -226h0M167 -127h0M129 -168h0M225 -95h0M168 -177h0M139 -164h0M218 -197h0M192 -192h0M182 -171h0M193 -222h0M158 -209h0M155 -178h0M207 -112h0M198 -150h0M163 -178h0M126 -178h0M123 -178h0M240 -141h0M168 -105h0M163 -163h0M235 -121h0M238 -192h0M212 -177h0M180 -216h0M185 -213h0"/><path id="p_c3t" d="M125 237h0M79 209h0M34 239h0M204 222h0M196 223h0M115 227h0M176 209h0M171 212h0M183 220h0M35 232h0M49 221h0M218 204h0M212 188h0M14 219h0M238 210h0M196 229h0M168 217h0M126 224h0M81 257h0M115 217h0M90 209h0M205 237h0M65 241h0M-4 223h0M78 203h0M109 216h0M71 218h0M89 258h0M93 239h0M214 234h0M-1 218h0M80 222h0M60 232h0M168 222h0M110 219h0M111 237h0M225 219h0M41 230h0M218 206h0M101 237h0M172 191h0M101 256h0M199 243h0M222 197h0M144 213h0M220 191h0M31 225h0M141 240h0M200 211h0M77 212h0M100 240h0M119 224h0M106 228h0M170 202h0M1 223h0M36 226h0M234 219h0M141 211h0M208 202h0M184 200h0M112 211h0M90 237h0M183 201h0M199 217h0M169 193h0M18 223h0M182 188h0M227 225h0M159 201h0M90 225h0M89 230h0M128 234h0M87 226h0M139 218h0M168 222h0M163 224h0M110 225h0M175 215h0M164 228h0M57 231h0M67 219h0M128 235h0M168 224h0M194 179h0M129 225h0M95 215h0M157 200h0M237 205h0M46 220h0M88 228h0M123 224h0M117 228h0M200 192h0M91 241h0M113 238h0M198 209h0M226 202h0M211 187h0M100 211h0M132 222h0M184 195h0M155 204h0M96 253h0M187 226h0M74 252h0M167 223h0M201 216h0M204 235h0M95 244h0M77 240h0M208 208h0M130 241h0M114 231h0M181 199h0M116 213h0M73 266h0M74 250h0M-16 229h0M169 231h0M180 214h0M66 245h0M74 230h0M160 223h0M162 231h0M201 194h0M222 198h0M126 223h0M129 229h0M226 204h0M122 244h0M211 190h0M183 219h0M101 209h0M202 213h0M3 235h0M78 229h0M189 237h0M57 242h0M96 244h0M139 220h0M150 228h0M184 217h0M148 201h0M215 237h0M111 211h0M117 229h0M82 226h0M211 187h0M209 237h0M216 204h0M113 248h0M166 202h0M-28 216h0M105 231h0M93 230h0M133 199h0M181 239h0M109 250h0M224 188h0M160 209h0M85 239h0"/><path id="p_c3r" d="M276 248h0M258 228h0M275 238h0M254 254h0M276 247h0M243 244h0M243 235h0M252 243h0M263 255h0M262 245h0M261 233h0M251 249h0M254 234h0M271 249h0M269 235h0M258 237h0M266 237h0M257 255h0M271 234h0"/><path id="p_c4" d="M263 107h0M183 109h0M320 33h0M185 112h0M165 68h0M295 52h0M356 30h0M344 12h0M411 93h0M261 107h0M402 101h0M340 32h0M387 100h0M391 62h0M339 106h0M291 52h0M262 115h0M380 -1h0M391 102h0M382 82h0M328 42h0M412 78h0M353 90h0M253 100h0M208 92h0M140 98h0M173 95h0M354 32h0M188 122h0M281 114h0M231 106h0M235 123h0M406 42h0M391 41h0M368 117h0M371 27h0M377 42h0M299 86h0M355 47h0M211 71h0M347 112h0M364 38h0M307 22h0M371 17h0M307 85h0M178 123h0M223 100h0M330 127h0M356 100h0M282 120h0M176 119h0M382 61h0M216 84h0M351 41h0M288 77h0M398 51h0M202 67h0M283 75h0M343 91h0M379 45h0M370 121h0M289 26h0M296 70h0M335 10h0M385 66h0M356 67h0M361 62h0M207 116h0M411 73h0M271 100h0M383 19h0M349 32h0M162 87h0M216 88h0M295 29h0M334 71h0M344 31h0M186 136h0M378 92h0M281 113h0M359 35h0M186 94h0M397 38h0M288 73h0M313 20h0M276 125h0M175 122h0M386 51h0M216 100h0M371 119h0M220 105h0M348 93h0M351 83h0M314 72h0M366 51h0M309 45h0M350 46h0M230 83h0M182 123h0M310 61h0M355 99h0M304 42h0M270 120h0M357 86h0M377 26h0M332 98h0M301 50h0M327 58h0M240 116h0M262 126h0M137 102h0M299 14h0M380 30h0M363 65h0M290 29h0M163 98h0M215 103h0M302 49h0M188 62h0M333 79h0M305 63h0M319 24h0M370 67h0M271 46h0M315 93h0M363 106h0M212 116h0M265 124h0M184 98h0M213 113h0M179 112h0M344 62h0M208 95h0M293 93h0M371 99h0M401 45h0M216 117h0M355 95h0M384 52h0M339 9h0M342 102h0M292 128h0M165 107h0M175 120h0M354 45h0M395 40h0M317 41h0M201 75h0M314 116h0M186 112h0M319 91h0M393 57h0M353 21h0M352 110h0M297 122h0M357 106h0M344 32h0M180 74h0M334 100h0M151 94h0M145 112h0M278 68h0M301 114h0M349 19h0M344 59h0M403 133h0M349 71h0M190 116h0M335 117h0M307 21h0M351 54h0M318 90h0M288 98h0M133 93h0M300 75h0M235 123h0M411 44h0M341 60h0M348 24h0M355 49h0M327 69h0M309 74h0M399 63h0M381 43h0M163 90h0M156 105h0M347 94h0M233 80h0M385 73h0M369 58h0M208 108h0M138 91h0M153 85h0M112 96h0M320 69h0M138 108h0M217 118h0M360 65h0M371 72h0M197 65h0M298 65h0M291 91h0M353 98h0M162 102h0M351 44h0M362 35h0M331 63h0M205 103h0M164 79h0M290 87h0M288 53h0M182 69h0M289 85h0M337 54h0M294 79h0M181 88h0M394 54h0M227 89h0M381 61h0M318 94h0M306 54h0M329 11h0M215 83h0M398 40h0M244 114h0M211 82h0M375 62h0M393 50h0M314 32h0M258 123h0M415 80h0M121 88h0M278 108h0M373 102h0M355 27h0M401 79h0M349 40h0M324 78h0M266 66h0M335 43h0M325 20h0M168 102h0M159 83h0M348 35h0M365 74h0M359 65h0M284 105h0M365 42h0M273 114h0M222 105h0M283 80h0M352 108h0M169 128h0M254 112h0M356 75h0M357 28h0M329 77h0M150 103h0M294 -6h0M201 99h0M341 40h0M327 99h0M199 113h0M184 82h0M298 115h0M194 99h0M361 101h0M399 97h0M168 96h0M179 114h0M400 64h0M385 99h0M182 122h0M198 132h0M367 47h0M231 103h0M372 33h0M329 57h0M210 81h0M313 28h0M223 82h0M216 104h0M311 38h0M311 78h0M329 42h0M321 31h0M374 30h0M141 83h0M358 68h0M304 43h0M160 131h0M381 34h0M335 96h0M230 96h0M400 65h0M381 54h0M323 95h0M349 62h0M170 77h0M340 67h0M361 80h0M204 103h0M404 49h0M386 81h0M320 107h0M389 31h0M136 128h0M352 88h0M394 81h0M153 118h0M259 127h0M347 -3h0M360 110h0M315 35h0M222 105h0M350 97h0M333 81h0M373 55h0M242 106h0M289 53h0M376 62h0M331 25h0M343 42h0M149 110h0M321 15h0M203 116h0M194 114h0M149 118h0M294 95h0M342 83h0M339 46h0M280 53h0M391 26h0M383 117h0M272 113h0M292 100h0M309 62h0M225 100h0M371 70h0M351 35h0M152 88h0M172 77h0M282 59h0M347 60h0M324 75h0M182 112h0M303 60h0M379 94h0M353 22h0M299 43h0M275 38h0M243 113h0M366 113h0M268 133h0M154 68h0M325 79h0M301 65h0M338 96h0M175 79h0M381 72h0M264 120h0M401 41h0M396 41h0M323 64h0M321 25h0M380 78h0M152 99h0M292 33h0M379 29h0M332 27h0M171 130h0M273 109h0M159 78h0M375 38h0M363 73h0M291 63h0M399 59h0"/><path id="p_c5" d="M83 -349h0M89 -248h0M37 -320h0M70 -291h0M43 -288h0M15 -311h0M24 -251h0M86 -242h0M42 -348h0M-4 -368h0M120 -332h0M52 -284h0M45 -323h0M92 -269h0M84 -233h0M-21 -333h0M56 -308h0M10 -333h0M75 -329h0M81 -346h0M-30 -279h0M74 -283h0M-1 -344h0M99 -289h0M42 -349h0M-29 -295h0M4 -280h0M79 -382h0M51 -284h0M90 -351h0M-8 -303h0M24 -350h0M66 -324h0M8 -315h0M50 -342h0M101 -216h0M74 -262h0M91 -257h0M-33 -314h0M11 -346h0M9 -263h0M88 -328h0M-2 -319h0M131 -265h0M25 -282h0M39 -265h0M29 -267h0M28 -326h0M63 -327h0M124 -267h0M-51 -265h0M-1 -301h0M85 -323h0M97 -324h0M107 -249h0M-13 -326h0M63 -378h0M23 -283h0M21 -358h0M81 -269h0M-8 -355h0M18 -367h0M71 -294h0M111 -338h0M44 -278h0M65 -348h0M-22 -306h0M39 -286h0M32 -316h0M11 -274h0M33 -378h0M-1 -258h0M133 -226h0M66 -335h0M64 -285h0M76 -333h0M52 -284h0M77 -349h0M-10 -322h0M30 -337h0M98 -293h0M29 -282h0M48 -347h0M73 -302h0M76 -251h0M29 -332h0M61 -327h0M17 -355h0M-7 -264h0M32 -357h0M78 -272h0M33 -265h0M-17 -301h0M98 -242h0M26 -377h0M58 -299h0M13 -349h0M87 -310h0M57 -364h0M21 -248h0M75 -242h0M15 -259h0M41 -348h0M26 -311h0M-43 -310h0M77 -274h0M125 -261h0M105 -238h0M91 -360h0M104 -236h0M54 -370h0M37 -347h0M111 -335h0M76 -351h0M6 -364h0M54 -313h0M136 -261h0M22 -274h0M83 -292h0M-18 -310h0M-4 -315h0M74 -328h0M26 -330h0M2 -305h0M37 -332h0M49 -362h0M22 -258h0M93 -269h0M88 -356h0M8 -335h0M93 -244h0M15 -360h0M73 -220h0M98 -339h0M44 -328h0M72 -368h0M55 -322h0M33 -265h0M29 -387h0M118 -339h0M58 -283h0M3 -335h0M118 -243h0M-18 -341h0M28 -306h0M67 -272h0M61 -295h0M108 -255h0M-9 -342h0M-4 -355h0M21 -271h0M45 -343h0M-33 -317h0M56 -334h0M21 -346h0M71 -293h0M136 -236h0M56 -303h0M22 -293h0M72 -237h0M96 -271h0M57 -268h0M29 -258h0M-31 -297h0M85 -238h0M-5 -358h0M-30 -297h0M27 -379h0M50 -329h0M73 -328h0M96 -353h0M48 -354h0M2 -294h0M67 -380h0M104 -239h0M-6 -343h0M-8 -296h0M-10 -277h0M49 -320h0M57 -328h0M8 -316h0M114 -261h0M143 -243h0M39 -329h0M97 -278h0M29 -340h0M2 -347h0M19 -286h0M121 -237h0M90 -372h0M1 -260h0M-24 -295h0M29 -323h0M31 -272h0M29 -353h0M75 -352h0M71 -319h0M119 -225h0M69 -312h0M82 -238h0M33 -341h0M-23 -301h0M87 -303h0M-2 -368h0M13 -326h0M99 -269h0M31 -280h0M35 -282h0M59 -318h0M16 -370h0M-24 -369h0M70 -316h0M72 -326h0M69 -255h0M35 -333h0M-2 -324h0M114 -269h0M141 -250h0M10 -364h0M0 -275h0M45 -266h0M-27 -273h0M79 -293h0M46 -305h0M115 -295h0M-10 -297h0M52 -280h0M41 -326h0M104 -284h0M113 -343h0M-29 -263h0M96 -270h0M105 -300h0M109 -241h0M59 -363h0M17 -332h0M73 -345h0M34 -362h0M47 -283h0M105 -233h0M6 -273h0M84 -234h0M106 -320h0M30 -345h0M89 -368h0M39 -329h0M6 -343h0M43 -289h0M2 -277h0M97 -333h0M56 -260h0M58 -310h0M84 -380h0M93 -303h0M10 -271h0M47 -339h0"/><path id="p_c6" d="M-61 -214h0M-47 -216h0M-64 -264h0M-10 -155h0M-49 -260h0M-51 -148h0M-109 -166h0M-80 -226h0M-32 -253h0M-19 -231h0M-26 -153h0M-81 -172h0M-31 -176h0M11 -162h0M-89 -200h0M-63 -272h0M-47 -195h0M-46 -216h0M-61 -224h0M-35 -221h0M-76 -266h0M-57 -232h0M-104 -191h0M-37 -259h0M-21 -215h0M-85 -274h0M-39 -245h0M-83 -176h0M-99 -244h0M-45 -237h0M-94 -212h0M-107 -184h0M-131 -179h0M-56 -242h0M-21 -158h0M-89 -183h0M-78 -237h0M-60 -185h0M-60 -270h0M-78 -267h0M-7 -140h0M-91 -155h0M-18 -246h0M10 -199h0M-9 -186h0M-78 -204h0M-31 -177h0M-80 -222h0M-24 -133h0M-61 -265h0M-91 -225h0M-34 -256h0M-77 -143h0M-145 -219h0M-75 -228h0M-100 -131h0M-48 -161h0M-38 -139h0M0 -184h0M-114 -165h0M-32 -231h0M-37 -155h0M-116 -172h0M-80 -184h0M-99 -211h0M-10 -147h0M-25 -184h0M-2 -200h0M-31 -188h0M-58 -258h0M-6 -182h0M-9 -165h0M-42 -264h0M10 -217h0M-48 -140h0M-46 -252h0M-80 -241h0M-104 -209h0M-2 -199h0M-77 -206h0M-39 -229h0M-17 -184h0M10 -219h0M-72 -259h0M-28 -150h0M-130 -184h0M-110 -206h0M-30 -147h0M-50 -219h0M-77 -199h0M-86 -260h0M-20 -149h0M-94 -250h0M-62 -253h0M-44 -201h0M-42 -159h0M-95 -164h0M-76 -168h0M20 -203h0M-83 -212h0M-92 -174h0M-56 -250h0M-39 -164h0M-92 -236h0M3 -222h0M-62 -226h0M28 -178h0M9 -177h0M0 -174h0M-34 -181h0M-50 -222h0M-24 -153h0M-71 -150h0M-5 -172h0M-46 -274h0M-24 -160h0M-103 -191h0M-103 -199h0M-36 -227h0M-30 -184h0M-59 -197h0M-39 -182h0M-22 -189h0M-51 -188h0M-24 -201h0M-39 -169h0M-23 -247h0M-104 -121h0M-67 -220h0M-46 -178h0M-49 -274h0M-51 -256h0M-29 -172h0M-27 -213h0M-45 -241h0M-94 -155h0M-15 -240h0M-9 -217h0M-126 -168h0M-56 -231h0M-44 -146h0M16 -155h0M-27 -149h0M-66 -261h0M11 -165h0M-5 -200h0M-101 -173h0M-78 -155h0M-19 -150h0M-119 -233h0M-19 -147h0M-66 -267h0M-79 -172h0M-56 -185h0M-27 -142h0M23 -194h0M-57 -225h0M29 -188h0M-38 -153h0M-93 -158h0M-77 -273h0M-7 -154h0M-4 -185h0M-13 -179h0M-98 -189h0M-35 -197h0M-119 -185h0M-20 -162h0M-101 -184h0M-98 -161h0M-13 -217h0M-111 -206h0M-65 -174h0M-13 -127h0M-41 -172h0M-28 -244h0M-76 -140h0M-113 -180h0M-104 -161h0M-27 -126h0M-78 -194h0M-54 -257h0M-36 -265h0M-120 -177h0M-53 -259h0M-100 -162h0M-132 -222h0M-52 -226h0M-68 -160h0M-37 -182h0M-95 -184h0M-23 -149h0M-101 -217h0M-126 -176h0M-25 -207h0M-21 -207h0M18 -175h0M-58 -201h0M-109 -173h0M-13 -151h0M-27 -229h0M-32 -228h0M14 -169h0M-36 -199h0M-67 -259h0M-74 -248h0M-77 -121h0M-54 -256h0M-66 -220h0M-83 -252h0M-80 -268h0M-70 -195h0M-51 -227h0M-53 -223h0M-55 -284h0M-77 -173h0M-16 -178h0M-42 -250h0M-69 -216h0M-75 -210h0M-34 -183h0M-18 -225h0M-76 -258h0M-48 -268h0M-28 -219h0M-23 -226h0M-95 -178h0M-102 -150h0M-29 -232h0M-94 -150h0M-1 -159h0M-23 -197h0M-87 -144h0M-93 -239h0M-40 -185h0M-63 -153h0M-94 -151h0M-53 -230h0M-55 -258h0M-77 -200h0M-83 -157h0M-115 -146h0M-51 -218h0M-24 -175h0M-73 -211h0M-14 -164h0M-30 -224h0M-100 -196h0M-83 -228h0M-122 -172h0M-34 -160h0"/><path id="p_c7" d="M-346 -49h0M-355 -115h0M-346 -16h0M-353 5h0M-330 -67h0M-312 -5h0M-283 -85h0M-369 -24h0M-291 -2h0M-266 2h0M-327 -17h0M-355 -58h0M-257 -13h0M-312 14h0M-357 -48h0M-324 14h0M-304 -12h0M-364 -72h0M-329 33h0M-372 -48h0M-352 -91h0M-349 -33h0M-375 -70h0M-288 -24h0M-333 31h0M-277 -62h0M-302 -72h0M-355 -48h0M-326 -9h0M-347 16h0M-348 -36h0M-295 -66h0M-310 36h0M-302 6h0M-345 2h0M-291 -77h0M-293 -104h0M-333 5h0M-346 18h0M-299 20h0M-260 -89h0M-254 -82h0M-364 -36h0M-293 10h0M-329 20h0M-328 -70h0M-312 -57h0M-346 47h0M-276 -99h0M-327 -97h0M-270 -98h0M-299 11h0M-286 5h0M-314 -45h0M-302 -78h0M-329 -120h0M-331 -1h0M-326 0h0M-311 -22h0M-319 -106h0M-270 -18h0M-319 -63h0M-274 -12h0M-338 -69h0M-358 -32h0M-311 -113h0M-321 -131h0M-275 -49h0M-326 -43h0M-358 -17h0M-338 14h0M-304 -66h0M-292 -27h0M-333 26h0M-339 -65h0M-315 27h0M-305 -121h0M-375 -38h0M-306 -10h0M-319 17h0M-316 19h0M-368 -69h0M-313 -24h0M-360 -35h0M-327 40h0M-277 -77h0M-372 -77h0M-330 35h0M-327 54h0M-330 -20h0M-322 15h0M-339 3h0M-299 -22h0M-307 -113h0M-313 -94h0M-303 20h0M-312 -108h0M-283 -20h0M-339 -26h0M-271 -47h0M-376 -46h0M-263 -23h0M-354 -17h0M-351 44h0M-377 -52h0M-303 -76h0M-289 9h0M-345 18h0M-305 -4h0M-348 -9h0M-330 -76h0M-327 -82h0M-353 -36h0M-317 -46h0M-342 -7h0M-338 -88h0M-297 17h0M-282 -72h0M-348 -62h0M-310 -45h0M-308 -41h0M-314 -17h0M-353 11h0M-337 30h0M-347 -76h0M-274 -34h0M-332 -35h0M-346 -16h0M-356 -73h0M-263 -79h0M-346 -20h0M-339 -7h0M-350 8h0M-274 -72h0M-312 45h0M-306 -22h0M-276 -2h0M-271 -80h0M-317 35h0M-283 -57h0M-287 -58h0M-332 -85h0M-291 25h0M-305 -95h0M-311 -53h0M-334 25h0M-321 -81h0M-304 -56h0M-295 -58h0M-310 -35h0M-338 1h0M-311 -101h0M-297 -32h0M-296 23h0M-293 20h0M-346 -120h0M-271 -49h0M-322 -68h0M-312 -39h0M-315 12h0M-322 -87h0M-315 -142h0M-304 -28h0M-291 13h0M-343 -72h0M-347 19h0M-359 -25h0M-358 18h0M-337 -119h0M-353 32h0M-340 -89h0M-307 -61h0M-300 -87h0M-374 -39h0M-335 -22h0M-331 -7h0M-361 -62h0M-278 -66h0M-331 -129h0M-355 -86h0M-302 -88h0M-319 -3h0M-314 23h0M-350 -32h0M-298 9h0M-339 -93h0M-275 -24h0M-342 -7h0M-307 -77h0M-358 -26h0M-332 -86h0M-363 -57h0M-275 -83h0M-311 -40h0M-317 -107h0M-320 -75h0M-314 21h0M-355 -60h0M-324 7h0M-308 24h0M-351 -36h0M-304 -42h0M-320 -72h0M-353 -40h0M-352 -93h0M-309 -85h0M-319 -80h0M-321 21h0M-329 19h0M-271 -41h0M-291 -89h0M-280 -75h0M-305 -39h0M-315 -83h0M-309 18h0M-362 -59h0M-335 -28h0M-310 -141h0M-279 -44h0M-307 -5h0M-292 2h0M-273 -16h0M-323 -111h0M-360 -93h0M-323 -110h0M-350 -65h0M-355 -18h0M-295 -67h0M-337 -101h0M-312 -85h0M-312 -111h0M-299 -59h0M-305 -85h0M-366 -2h0M-302 -99h0M-345 -37h0M-313 17h0M-338 -34h0M-249 -38h0M-363 -46h0M-305 -30h0M-345 0h0M-346 23h0M-274 -7h0"/><path id="p_dc" d="M-217 -291h0M-269 -313h0M-294 -270h0M-252 -337h0M-232 -351h0M-315 -301h0M-260 -263h0M-219 -306h0M-278 -321h0M-208 -355h0M-217 -254h0M-226 -293h0M-318 -341h0M-308 -284h0M-306 -308h0M-219 -281h0M-266 -310h0M-220 -370h0M-232 -371h0M-220 -286h0M-285 -281h0M-250 -284h0M-254 -310h0M-303 -299h0M-233 -292h0M-278 -339h0M-277 -299h0M-291 -281h0M-226 -261h0M-304 -309h0M-257 -338h0M-287 -291h0M-243 -306h0M-245 -304h0M-257 -312h0M-285 -354h0M-280 -306h0M-232 -348h0M-308 -289h0M-269 -299h0M-282 -321h0M-241 -365h0M-247 -260h0M-288 -280h0M-272 -317h0M-272 -346h0M-267 -342h0M-294 -326h0M-267 -281h0M-244 -282h0M-242 -325h0M-230 -320h0M-304 -293h0M-314 -319h0M-226 -359h0M-307 -296h0M-283 -286h0M-193 -272h0M-230 -264h0M-215 -285h0M-240 -305h0M-204 -341h0M-282 -307h0M-233 -262h0M-226 -277h0M-259 -300h0M-306 -292h0M-246 -326h0M-311 -296h0M-266 -299h0M-243 -294h0M-204 -284h0M-192 -282h0M-341 -344h0M-310 -301h0M-266 -308h0M-318 -321h0M-281 -344h0M-284 -341h0M-256 -303h0M-238 -327h0M-305 -315h0M-315 -302h0M-223 -308h0M-267 -347h0M-241 -266h0M-218 -320h0M-234 -305h0M-259 -315h0M-242 -288h0M-191 -279h0M-199 -372h0M-253 -270h0M-210 -273h0M-217 -362h0M-298 -336h0M-237 -253h0M-271 -318h0M-216 -300h0M-293 -280h0M-290 -306h0M-250 -314h0M-229 -306h0M-273 -294h0M-243 -309h0M-261 -315h0M-296 -316h0M-239 -351h0M-233 -255h0M-293 -320h0M-227 -317h0M-230 -346h0M-234 -310h0M-216 -307h0M-312 -295h0M-238 -347h0M-224 -304h0M-276 -321h0M-231 -283h0M-264 -286h0M-221 -344h0M-230 -279h0M-234 -347h0M-254 -291h0M-203 -351h0M-199 -317h0M-259 -267h0M-194 -265h0M-234 -332h0M-246 -317h0M-264 -265h0M-212 -251h0M-212 -372h0M-221 -320h0M-283 -291h0M-274 -334h0M-245 -327h0M-265 -309h0M-261 -253h0M-289 -336h0M-311 -333h0M-247 -251h0M-277 -279h0M-206 -297h0M-241 -366h0M-226 -377h0M-245 -352h0M-305 -328h0M-172 -240h0M-275 -259h0M-252 -322h0M-259 -325h0M-222 -309h0M-281 -284h0M-235 -288h0M-268 -333h0M-256 -344h0M-242 -275h0M-288 -317h0M-291 -301h0M-204 -287h0M-262 -307h0M-204 -370h0M-253 -279h0M-305 -315h0M-293 -283h0M-209 -273h0M-245 -301h0M-237 -259h0M-189 -365h0M-242 -329h0"/><path id="p_peri" d="M-217 -291h0M-47 -216h0M18 -13h0M83 -349h0M-355 -115h0M89 -248h0M37 -320h0M-64 -264h0M120 -209h0M-3 344h0M-49 -260h0M241 -222h0M276 248h0M70 -291h0M-85 29h0M258 228h0M15 -311h0M-346 -16h0M24 -251h0M-13 -36h0M86 -242h0M42 -348h0M-184 56h0M-353 5h0M-19 -231h0M-330 -67h0M-4 -368h0M-312 -5h0M-81 -172h0M-197 31h0M52 -284h0M45 -323h0M106 6h0M-369 -24h0M-140 -23h0M84 69h0M-63 -272h0M-266 2h0M-327 -17h0M-21 -333h0M-257 -13h0M56 -308h0M-46 -216h0M10 -333h0M81 -346h0M-227 -4h0M-181 -30h0M-30 -279h0M187 -110h0M-219 -306h0M-312 14h0M74 -283h0M-61 -224h0M254 254h0M-357 -48h0M-278 -321h0M-208 -355h0M-210 33h0M-232 -24h0M-1 -344h0M99 -289h0M-304 -12h0M49 221h0M-364 -72h0M-35 -221h0M-329 33h0M-226 -293h0M42 -349h0M-76 -266h0M-57 -232h0M-180 112h0M-372 -48h0M-352 -91h0M-29 -295h0M-201 0h0M-349 -33h0M4 -280h0M-375 -70h0M68 59h0M-288 -24h0M-21 -215h0M-85 -274h0M-39 -245h0M-83 -176h0M-43 -38h0M-34 147h0M-89 294h0M-333 31h0M79 -382h0M-277 -62h0M51 -284h0M177 -103h0M-302 -72h0M-355 -48h0M-99 -244h0M-112 254h0M-326 -9h0M-56 -242h0M-159 -37h0M-244 23h0M-219 -281h0M105 -3h0M-8 -303h0M-269 30h0M24 -350h0M-347 16h0M66 -324h0M-348 -36h0M-66 60h0M8 -315h0M-295 -66h0M-78 -237h0M50 -342h0M-173 -19h0M74 -262h0M-220 -370h0M-310 36h0M-60 -270h0M-78 -267h0M195 -119h0M91 -257h0M-7 -140h0M91 88h0M-18 -246h0M-33 -314h0M-302 6h0M11 -346h0M10 -199h0M-345 2h0M-291 -77h0M9 -263h0M-220 -286h0M-192 52h0M88 -328h0M-9 -186h0M173 -216h0M-346 18h0M243 244h0M135 -181h0M78 68h0M-250 -284h0M-2 -319h0M-299 20h0M-214 63h0M25 -282h0M-260 -89h0M96 14h0M39 -265h0M-233 -292h0M243 235h0M-254 -82h0M87 45h0M29 -267h0M28 -326h0M-364 -36h0M-186 48h0M157 37h0M-293 10h0M-329 20h0M124 -267h0M-328 -70h0M-161 24h0M-291 -281h0M-226 5h0M-226 -261h0M160 -198h0M234 -96h0M-1 -301h0M-103 8h0M85 -323h0M-276 -99h0M-327 -97h0M97 -324h0M107 -249h0M-270 -98h0M-91 36h0M63 -378h0M-299 11h0M-61 -265h0M-257 -338h0M105 -47h0M-34 -256h0M-16 -54h0M125 35h0M-286 5h0M-314 -45h0M-208 -29h0M81 -269h0M-75 -228h0M-302 -78h0M-108 -13h0M71 -294h0M-73 153h0M-329 -120h0M34 -64h0M13 -55h0M-331 -1h0M44 -278h0M65 -348h0M-243 -306h0M-245 -304h0M182 123h0M-326 0h0M122 -113h0M32 -316h0M-311 -22h0M-319 -106h0M11 -274h0M-188 5h0M-270 -18h0M-1 -258h0M-319 -63h0M-274 -12h0M116 108h0M-338 -69h0M66 -335h0M-192 40h0M-358 -32h0M-311 -113h0M-321 -131h0M-275 -49h0M119 -8h0M76 -333h0M-111 -42h0M-205 59h0M-232 -348h0M-358 -17h0M-338 14h0M-304 -66h0M79 -80h0M230 -128h0M-292 -27h0M52 -284h0M166 -141h0M-10 -322h0M-333 26h0M-241 -365h0M-339 -65h0M-315 27h0M-305 -121h0M30 -337h0M-375 -38h0M-58 -258h0M98 -293h0M29 -282h0M-247 -260h0M-306 -10h0M48 -347h0M-319 17h0M-316 19h0M29 -332h0M-6 -182h0M61 -327h0M98 88h0M1 223h0M-368 -69h0M-313 -24h0M-202 30h0M-115 321h0M-360 -35h0M-327 40h0M10 -217h0M-80 22h0M-179 27h0M36 226h0M-277 -77h0M-139 296h0M-118 270h0M17 -355h0M-80 -241h0M32 -357h0M-372 -77h0M78 -272h0M-104 -71h0M-2 -199h0M-272 -346h0M-330 35h0M-39 -229h0M-327 54h0M33 -265h0M-17 -301h0M98 -242h0M-72 -259h0M182 -185h0M-229 16h0M-330 -20h0M98 13h0M-244 -282h0M26 -377h0M58 -299h0M-242 -325h0M13 -349h0M87 -310h0M-50 -219h0M57 -364h0M-322 15h0M-230 -320h0M-246 -5h0M21 -248h0M-339 3h0M75 -242h0M15 -259h0M41 -348h0M-23 21h0M26 -311h0M-299 -22h0M-307 -113h0M127 -164h0M-313 -94h0M-303 20h0M-312 -108h0M129 -167h0M-43 -310h0M-86 -260h0M-283 -20h0M-339 -26h0M263 255h0M-200 -27h0M105 -238h0M-271 -47h0M-376 -46h0M-94 -250h0M-62 -253h0M-226 -359h0M199 217h0M-193 -272h0M262 245h0M20 -203h0M-354 -17h0M-230 -264h0M54 -370h0M37 -347h0M111 -335h0M-152 8h0M76 -351h0M-215 -285h0M218 -157h0M-240 -305h0M6 -364h0M-377 -52h0M54 -313h0M-303 -76h0M-289 9h0M118 -1h0M136 -261h0M-192 11h0M-345 18h0M-305 -4h0M-348 -9h0M22 -274h0M38 85h0M125 -193h0M-18 -310h0M-330 -76h0M168 -232h0M-4 -315h0M-92 -236h0M-327 -82h0M74 -328h0M3 -222h0M-353 -36h0M28 -178h0M9 -177h0M26 -330h0M150 -170h0M-50 -222h0M-317 -46h0M-342 -7h0M2 -305h0M-338 -88h0M-226 53h0M-297 17h0M-246 -326h0M-46 -274h0M37 -332h0M-216 52h0M36 47h0M49 -362h0M-282 -72h0M22 -258h0M93 -269h0M-348 -62h0M88 -356h0M8 -335h0M-311 -296h0M-133 7h0M-243 -294h0M-126 8h0M261 233h0M15 -360h0M-206 83h0M-310 -45h0M-308 -41h0M251 249h0M-192 -43h0M73 -220h0M208 -158h0M-314 -17h0M98 -339h0M-5 394h0M-29 160h0M44 -328h0M72 -368h0M37 22h0M55 -322h0M-204 -284h0M254 234h0M29 -387h0M-192 -282h0M118 -339h0M-162 38h0M22 394h0M-337 30h0M58 -283h0M-24 -201h0M-318 -321h0M-347 -76h0M-274 -34h0M271 249h0M-226 57h0M-200 69h0M118 -243h0M-284 -341h0M-23 -247h0M-190 15h0M-77 48h0M123 34h0M-18 -341h0M-49 -274h0M-51 -256h0M-27 -213h0M182 -230h0M61 -295h0M-45 -241h0M-241 -266h0M-346 -16h0M-191 51h0M-356 -73h0M-263 -79h0M131 -152h0M-346 -20h0M269 235h0M-133 -17h0M-228 -24h0M-211 9h0M-234 -305h0M-190 73h0M-339 -7h0M-181 16h0M-15 -240h0M-210 305h0M19 121h0M-274 -72h0M-200 10h0M-9 -217h0M-264 104h0M-312 45h0M-126 -168h0M-4 -355h0M-306 -22h0M-56 -231h0M-191 -279h0M-276 -2h0M-271 -80h0M-182 99h0M-317 35h0M-283 -57h0M-23 155h0M-199 -372h0M-287 -58h0M-332 -85h0M21 -271h0M-291 25h0M-305 -95h0M115 -225h0M-191 -36h0M-5 -200h0M-311 -53h0M-334 25h0M-321 -81h0M98 -211h0M-33 -317h0M-304 -56h0M-139 -18h0M-295 -58h0M-310 -35h0M-224 -24h0M56 -334h0M21 -346h0M71 -293h0M136 -236h0M-219 70h0M56 -303h0M-191 142h0M-244 28h0M22 -293h0M-237 -253h0M-216 -300h0M23 -194h0M-311 -101h0M-57 -225h0M-297 -32h0M2 141h0M29 -258h0M-296 23h0M-227 4h0M-346 -120h0M-31 -297h0M3 116h0M-5 -358h0M-271 -49h0M-77 -273h0M150 -151h0M27 -379h0M-312 -39h0M-148 -29h0M-13 -179h0M-82 16h0M258 237h0M-229 -306h0M50 -329h0M-191 32h0M73 -328h0M-273 -294h0M-243 -309h0M57 -88h0M-315 12h0M-322 -87h0M-296 -316h0M96 -353h0M48 -354h0M2 -294h0M-304 -28h0M67 -380h0M135 -157h0M-128 -18h0M-184 40h0M-239 -351h0M-291 13h0M-343 -72h0M104 -239h0M-227 -317h0M-6 -343h0M-8 -296h0M-347 19h0M-230 -346h0M3 107h0M-193 130h0M-359 -25h0M-10 -277h0M-216 -307h0M118 -67h0M49 -320h0M-238 -347h0M113 -206h0M57 -328h0M-13 -217h0M8 -316h0M-353 32h0M97 -278h0M-340 -89h0M-307 -61h0M2 -347h0M-300 -87h0M-231 -283h0M-247 8h0M-374 -39h0M-335 -22h0M-85 302h0M-28 -244h0M19 -286h0M-331 -7h0M-361 -62h0M-133 -17h0M121 -237h0M90 -372h0M-278 -66h0M-331 -129h0M-221 -344h0M-187 -49h0M205 -175h0M-175 1h0M-230 -279h0M-234 -347h0M-355 -86h0M-302 -88h0M-121 -32h0M-319 -3h0M-24 -295h0M-314 23h0M120 -246h0M-36 -265h0M29 -323h0M-350 -32h0M-250 64h0M-224 52h0M31 190h0M-203 -351h0M-53 -259h0M-199 -317h0M-298 9h0M155 31h0M31 -272h0M29 -353h0M75 -352h0M-231 6h0M71 -319h0M-275 -24h0M-177 -9h0M-342 -7h0M-307 -77h0M129 229h0M-358 -26h0M-191 35h0M-52 -226h0M82 -238h0M-332 -86h0M-363 -57h0M-275 -83h0M-202 33h0M-77 14h0M-194 -265h0M-28 98h0M-128 7h0M-311 -40h0M-189 -3h0M-234 -332h0M-317 -107h0M25 -80h0M-199 108h0M-25 -207h0M-320 -75h0M266 237h0M-314 21h0M227 -231h0M-199 -62h0M-23 -301h0M-21 -207h0M18 -175h0M-355 -60h0M117 22h0M-324 7h0M-212 -251h0M-212 -372h0M-103 -27h0M-2 -368h0M-351 -36h0M136 -185h0M-304 -42h0M-320 -72h0M118 -140h0M-32 -228h0M-353 -40h0M-67 -259h0M13 -326h0M-74 -248h0M-352 -93h0M-309 -85h0M-245 -327h0M99 -269h0M16 -370h0M-18 126h0M-319 -80h0M-54 -256h0M-321 21h0M-329 19h0M-229 64h0M-271 -41h0M-291 -89h0M70 -316h0M-83 -252h0M72 -326h0M-280 -75h0M-80 -268h0M-305 -39h0M36 413h0M-247 -251h0M-315 -83h0M35 -333h0M-51 -227h0M-53 -223h0M-206 -297h0M-309 18h0M-2 -324h0M-362 -59h0M-335 -28h0M-55 -284h0M-90 -14h0M141 -250h0M-241 -366h0M10 -364h0M-226 -377h0M-42 -250h0M-310 -141h0M-75 -210h0M-245 -352h0M-307 -5h0M-18 -225h0M79 -293h0M-292 2h0M-194 47h0M-273 -16h0M-323 -111h0M-76 -258h0M209 237h0M46 -305h0M115 -295h0M216 204h0M-48 -268h0M-10 -297h0M-204 81h0M-208 15h0M-172 -240h0M-360 -93h0M-323 -110h0M141 -149h0M-23 -226h0M-95 -178h0M52 -280h0M-144 7h0M173 -185h0M-5 80h0M-29 -232h0M-350 -65h0M41 -326h0M58 124h0M104 -284h0M-23 -197h0M-295 -67h0M-93 -239h0M113 -343h0M-29 -263h0M96 -270h0M105 -300h0M-222 -309h0M109 -241h0M-312 -85h0M-94 -151h0M-53 -230h0M59 -363h0M-184 -8h0M-299 -59h0M-223 -18h0M223 -151h0M-232 41h0M-55 -258h0M257 255h0M39 167h0M-205 -30h0M47 -283h0M-305 -85h0M-256 -344h0M-242 -275h0M-207 18h0M-95 38h0M-366 -2h0M-288 -317h0M271 234h0M-51 -218h0M106 -320h0M30 -345h0M-302 -99h0M89 -368h0M39 -329h0M-345 -37h0M-313 17h0M-190 129h0M43 -289h0M2 -277h0M97 -333h0M-30 -224h0M56 -260h0M401 41h0M58 -310h0M155 -178h0M-338 -34h0M-189 23h0M84 -380h0M-249 -38h0M-204 -370h0M-363 -46h0M93 -303h0M-305 -30h0M102 -65h0M123 -178h0M-245 -301h0M-345 0h0M-103 24h0M-83 -228h0M10 -271h0M-237 -259h0M-189 -365h0M-155 -45h0M-346 23h0M-274 -7h0M180 -216h0M-203 27h0"/><path id="h_IL1B" d="M320 33h0M-215 -27h0M-122 141h0M-50 167h0M43 -288h0M-109 -166h0M-232 -29h0M110 -80h0M35 -57h0M42 -348h0M105 -112h0M-79 -5h0M52 -284h0M-266 2h0M-89 19h0M10 -333h0M117 -1h0M-124 157h0M-11 87h0M-304 -12h0M-329 33h0M0 177h0M-188 -2h0M-131 119h0M-333 31h0M63 47h0M-106 189h0M-159 -37h0M-111 118h0M63 -60h0M-123 60h0M-104 62h0M-302 6h0M-97 -2h0M170 -53h0M-178 37h0M94 -128h0M-118 78h0M124 -267h0M-51 -265h0M-133 -35h0M101 -95h0M-346 47h0M-270 -98h0M10 135h0M135 25h0M-8 -355h0M-110 139h0M348 93h0M47 1h0M-162 -6h0M-1 153h0M111 237h0M-331 -1h0M-141 121h0M-326 0h0M-311 -22h0M-188 5h0M-163 -15h0M-1 -258h0M-319 -63h0M-274 -12h0M137 37h0M76 -333h0M-205 59h0M-121 159h0M-358 -17h0M-338 14h0M-144 189h0M104 61h0M-102 103h0M-333 26h0M-339 -65h0M119 224h0M-306 -10h0M29 -332h0M-37 161h0M48 398h0M78 -272h0M141 211h0M384 52h0M-90 85h0M125 -102h0M58 -299h0M21 -248h0M-77 -199h0M47 -7h0M53 -39h0M-114 10h0M-47 162h0M77 -274h0M-123 -19h0M-153 -16h0M-232 -27h0M-351 44h0M122 -106h0M111 -335h0M-152 8h0M-142 -59h0M-169 42h0M38 85h0M-146 34h0M83 -292h0M-18 -310h0M-38 10h0M9 -177h0M-317 -46h0M-90 132h0M-226 53h0M-180 -35h0M-109 75h0M-2 99h0M54 54h0M-22 -189h0M148 -111h0M217 118h0M-190 15h0M61 -116h0M-356 -73h0M137 -51h0M-35 25h0M-190 73h0M-86 105h0M83 -60h0M72 -53h0M-274 -72h0M-334 25h0M-33 -317h0M21 -346h0M45 11h0M151 -75h0M145 -46h0M-20 169h0M-227 4h0M-293 20h0M54 14h0M-219 20h0M50 -329h0M57 -88h0M41 -103h0M-83 156h0M-132 338h0M-156 11h0M39 -95h0M-97 32h0M30 142h0M143 -243h0M39 -329h0M-152 156h0M99 -43h0M12 74h0M-6 416h0M-133 -17h0M85 -57h0M-141 17h0M-149 -2h0M133 -58h0M-175 1h0M-127 -2h0M-314 23h0M-152 77h0M-95 -23h0M51 -38h0M-10 180h0M201 194h0M3 117h0M-56 119h0M-54 320h0M69 -312h0M-191 35h0M82 -238h0M33 -341h0M-102 130h0M-182 -1h0M-92 -34h0M-199 -62h0M88 6h0M-308 24h0M386 81h0M-67 -259h0M132 -135h0M-77 -121h0M-124 -1h0M-115 -48h0M-321 21h0M-24 -369h0M69 -255h0M149 -3h0M114 -269h0M-115 66h0M119 8h0M-307 -5h0M-273 -16h0M-165 17h0M6 48h0M137 -18h0M-75 110h0M113 -343h0M-337 -101h0M-102 41h0M-164 152h0M172 77h0M-108 -12h0M84 131h0M89 -368h0M-152 76h0M-345 -37h0M2 -277h0M-249 -38h0M63 -123h0M-116 -10h0M-121 0h0M-13 70h0M10 -271h0M9 187h0M-47 341h0M-173 69h0"/><path id="m_IL1B" d="M83 -349h0M-64 -264h0M66 112h0M-138 17h0M-51 -148h0M-10 321h0M161 8h0M86 -242h0M-26 -153h0M113 81h0M-4 -368h0M92 -269h0M-208 25h0M-165 61h0M-49 43h0M154 29h0M-30 -279h0M-85 -9h0M42 -349h0M-349 -33h0M79 -382h0M51 -284h0M-107 -184h0M-244 23h0M-8 -303h0M-128 110h0M8 -315h0M50 -342h0M-173 -19h0M343 91h0M120 -82h0M-345 2h0M27 -19h0M-2 -319h0M96 14h0M-103 120h0M-60 17h0M-293 10h0M-87 128h0M107 -249h0M-13 -326h0M63 -378h0M359 35h0M162 -123h0M158 5h0M-2 91h0M-145 -219h0M-90 44h0M77 -57h0M180 -61h0M41 230h0M10 161h0M-22 -306h0M122 -113h0M-218 -20h0M33 -378h0M-148 42h0M-192 40h0M-123 109h0M-155 138h0M-132 120h0M-138 -32h0M-126 59h0M138 -134h0M115 -114h0M72 3h0M-102 267h0M-56 118h0M147 -85h0M70 -100h0M1 106h0M152 -64h0M123 -105h0M-7 -264h0M-80 -241h0M32 -357h0M-119 96h0M10 -219h0M-327 54h0M-53 -6h0M26 -377h0M-50 -219h0M-72 -3h0M-215 60h0M75 -242h0M15 -259h0M-339 -26h0M8 97h0M54 -370h0M-60 366h0M-377 -52h0M-1 12h0M-305 -4h0M22 13h0M-115 5h0M-130 -26h0M2 -305h0M-71 -150h0M-46 -274h0M-216 52h0M88 -356h0M8 -335h0M-50 124h0M-136 83h0M55 -322h0M29 -387h0M-51 -188h0M145 45h0M118 -339h0M-353 11h0M153 85h0M271 249h0M-200 69h0M-23 -247h0M67 219h0M-104 -121h0M-332 -35h0M351 44h0M-27 -213h0M-45 -241h0M205 103h0M188 -212h0M103 -82h0M-36 70h0M-197 83h0M-119 153h0M-94 -155h0M-259 -315h0M19 121h0M140 -110h0M-264 104h0M-4 -355h0M-129 -16h0M-332 -85h0M21 -271h0M82 -59h0M-5 -200h0M-19 -150h0M215 83h0M56 -334h0M-37 295h0M244 114h0M-88 16h0M-122 47h0M29 -188h0M90 53h0M-76 93h0M43 54h0M58 -86h0M-22 119h0M249 -159h0M-4 -36h0M49 -320h0M-81 149h0M-111 -206h0M3 154h0M74 22h0M-13 -127h0M15 142h0M-300 -87h0M-331 -7h0M-77 -16h0M-23 133h0M90 -372h0M-331 -129h0M5 128h0M-27 -126h0M182 122h0M137 0h0M80 -63h0M-181 39h0M40 -91h0M-224 52h0M-118 89h0M-231 6h0M-137 11h0M-342 -7h0M-307 -77h0M-53 24h0M-85 13h0M-54 260h0M-63 -23h0M-159 -31h0M-178 37h0M111 22h0M26 175h0M42 186h0M139 220h0M13 -326h0M31 -280h0M59 -318h0M70 -316h0M73 90h0M-74 117h0M-93 -39h0M242 106h0M-69 -216h0M149 110h0M-76 -258h0M-28 -219h0M383 117h0M52 -280h0M-29 -232h0M-170 64h0M-94 -150h0M109 -112h0M-94 -47h0M105 -300h0M-94 -151h0M59 -363h0M21 104h0M-56 -65h0M-36 -3h0M29 -69h0M103 -147h0M58 -310h0M-62 102h0M235 -121h0M-346 23h0"/><path id="h_VSIG4" d="M30 347h0M79 209h0M-20 319h0M-114 305h0M-38 403h0M68 114h0M-1 355h0M-3 344h0M-12 389h0M-173 90h0M239 -190h0M34 239h0M241 -222h0M191 -187h0M-215 -27h0M-17 186h0M276 248h0M-76 303h0M-98 10h0M180 -116h0M-48 173h0M27 362h0M150 -126h0M-10 321h0M151 7h0M275 238h0M-8 389h0M-11 392h0M-6 274h0M-2 70h0M161 8h0M-131 297h0M-136 280h0M110 38h0M-117 299h0M-93 331h0M-85 274h0M-99 330h0M86 -242h0M-86 326h0M115 227h0M27 386h0M391 102h0M113 81h0M-79 285h0M0 13h0M176 209h0M-312 -5h0M57 349h0M328 42h0M-116 67h0M84 -233h0M1 320h0M23 399h0M53 70h0M-104 291h0M-2 402h0M208 92h0M-90 269h0M171 -131h0M-61 267h0M24 368h0M184 -207h0M-72 354h0M354 32h0M-19 324h0M-46 -216h0M25 41h0M35 232h0M-27 308h0M187 -110h0M-82 331h0M22 -55h0M406 42h0M254 254h0M-39 319h0M-128 65h0M21 358h0M-31 362h0M49 221h0M-86 339h0M111 -46h0M-145 318h0M14 219h0M131 -173h0M-134 267h0M17 382h0M39 -47h0M68 59h0M171 -150h0M-149 313h0M161 -41h0M0 -33h0M31 316h0M-117 251h0M-92 22h0M-71 356h0M28 315h0M52 141h0M217 -125h0M-102 243h0M-89 294h0M54 86h0M198 -115h0M79 -382h0M364 38h0M238 210h0M177 -103h0M-13 157h0M-140 307h0M48 392h0M-112 254h0M39 177h0M196 229h0M27 365h0M330 127h0M132 21h0M168 217h0M-23 400h0M356 100h0M-110 263h0M87 -103h0M-47 318h0M-26 297h0M-36 319h0M107 69h0M-97 297h0M-64 295h0M-140 353h0M-70 352h0M-157 246h0M-48 318h0M-14 352h0M124 -186h0M-128 275h0M6 65h0M-187 298h0M108 30h0M13 393h0M-45 382h0M126 224h0M61 -220h0M-181 310h0M17 407h0M-72 253h0M-160 279h0M155 -223h0M-84 353h0M-131 321h0M-161 307h0M351 41h0M195 -119h0M71 363h0M4 395h0M-79 350h0M-302 6h0M-69 328h0M-50 315h0M-291 -77h0M51 369h0M57 34h0M205 237h0M158 -100h0M-122 310h0M-81 299h0M216 -223h0M243 244h0M135 -181h0M-4 223h0M-141 313h0M96 14h0M78 203h0M50 27h0M-102 260h0M30 171h0M231 -175h0M207 116h0M24 396h0M411 73h0M71 218h0M-44 96h0M-53 103h0M42 118h0M-184 293h0M89 258h0M-68 333h0M-105 -27h0M38 382h0M93 239h0M72 101h0M18 337h0M-41 -22h0M-31 329h0M213 -116h0M-155 292h0M160 -198h0M101 33h0M-43 313h0M146 -128h0M-26 334h0M214 234h0M151 -200h0M190 -113h0M63 -55h0M-57 -49h0M105 -47h0M-84 335h0M18 -8h0M-38 179h0M60 232h0M-100 285h0M276 125h0M142 -208h0M-109 274h0M-165 324h0M216 100h0M-88 274h0M-77 343h0M84 -72h0M-113 246h0M90 -41h0M-96 289h0M200 -210h0M-79 289h0M47 1h0M5 398h0M110 219h0M212 -122h0M-155 66h0M-1 153h0M1 315h0M225 219h0M8 338h0M-56 329h0M-78 341h0M41 230h0M-20 378h0M-105 273h0M-18 338h0M-137 318h0M366 51h0M-164 276h0M201 -199h0M197 -201h0M21 369h0M350 46h0M61 379h0M182 123h0M39 -286h0M-80 355h0M11 393h0M-102 289h0M17 329h0M172 191h0M-139 88h0M136 10h0M270 120h0M-29 387h0M-38 315h0M196 -169h0M-78 119h0M152 -10h0M183 -171h0M332 98h0M138 -166h0M72 35h0M-74 245h0M-42 311h0M-14 -47h0M207 -180h0M153 -216h0M-34 -37h0M240 116h0M57 28h0M144 213h0M-67 331h0M-175 318h0M-56 371h0M380 30h0M220 191h0M363 65h0M51 372h0M61 -11h0M-113 218h0M21 365h0M-183 -10h0M230 -128h0M-20 106h0M141 240h0M-9 117h0M196 -164h0M-88 320h0M200 211h0M-79 300h0M138 -134h0M236 -150h0M-49 269h0M-17 337h0M77 212h0M100 240h0M-21 350h0M-143 288h0M319 24h0M81 113h0M119 224h0M-102 267h0M-47 292h0M-38 295h0M-130 304h0M106 228h0M162 -218h0M170 202h0M61 -327h0M-33 -9h0M1 223h0M24 376h0M74 -103h0M116 -11h0M33 25h0M-115 321h0M111 -11h0M60 98h0M-49 292h0M-148 297h0M-327 40h0M12 339h0M165 -147h0M48 398h0M36 226h0M252 243h0M-149 318h0M-139 296h0M-85 329h0M-118 270h0M234 219h0M32 -24h0M-43 358h0M24 333h0M-158 321h0M-61 277h0M-27 392h0M-85 241h0M-39 -229h0M22 164h0M243 -173h0M-117 59h0M-50 351h0M-4 343h0M-127 343h0M-116 275h0M211 -163h0M-3 407h0M-72 287h0M-8 393h0M-86 275h0M143 -36h0M194 -223h0M185 -216h0M342 102h0M-112 276h0M-121 306h0M-39 384h0M57 -364h0M21 12h0M195 -126h0M184 200h0M61 17h0M-8 327h0M-19 381h0M-59 330h0M-41 351h0M-81 274h0M127 -164h0M90 237h0M223 -160h0M138 -141h0M-11 415h0M-87 73h0M-43 -310h0M-1 342h0M146 -158h0M263 255h0M51 366h0M-7 327h0M40 391h0M-18 387h0M-86 348h0M199 217h0M297 122h0M169 193h0M119 -53h0M-43 294h0M-31 335h0M252 -147h0M-27 157h0M228 -162h0M262 245h0M159 201h0M-354 -17h0M-101 304h0M154 -139h0M-85 263h0M-52 285h0M-112 329h0M-33 376h0M66 364h0M122 -106h0M-13 393h0M19 357h0M-60 366h0M334 100h0M-41 279h0M-32 139h0M15 410h0M-150 349h0M-56 334h0M-192 11h0M107 -134h0M196 -160h0M-167 321h0M87 226h0M-90 251h0M125 -193h0M-91 348h0M83 -292h0M-22 334h0M-99 248h0M-153 312h0M247 -122h0M1 353h0M168 -232h0M-116 279h0M117 -181h0M28 125h0M-96 214h0M123 32h0M-151 298h0M26 -330h0M-34 371h0M49 384h0M163 224h0M110 225h0M-174 278h0M-105 229h0M33 397h0M318 90h0M150 -170h0M1 380h0M203 -110h0M-48 402h0M-141 277h0M14 395h0M-117 300h0M-105 342h0M-170 277h0M2 407h0M170 -214h0M36 47h0M49 -362h0M341 60h0M109 40h0M-66 289h0M88 -356h0M-148 248h0M348 24h0M93 -244h0M171 -147h0M355 49h0M-51 292h0M-38 -32h0M-32 330h0M28 349h0M11 153h0M309 74h0M-136 83h0M251 249h0M208 -158h0M-5 394h0M-42 125h0M164 228h0M54 66h0M15 357h0M254 234h0M-62 362h0M29 -387h0M25 397h0M158 -145h0M-2 397h0M-52 401h0M369 58h0M118 -339h0M19 388h0M22 394h0M-141 302h0M32 -11h0M-109 289h0M271 249h0M-113 247h0M152 -27h0M-54 323h0M-122 304h0M217 118h0M67 219h0M-154 53h0M-11 346h0M-144 270h0M28 -306h0M-332 -35h0M128 235h0M-119 31h0M67 387h0M25 330h0M-4 332h0M-173 -42h0M61 395h0M35 367h0M-17 333h0M173 -108h0M56 397h0M-80 312h0M-48 366h0M38 392h0M-112 -8h0M45 -42h0M331 63h0M188 -212h0M55 390h0M51 373h0M-40 359h0M-36 70h0M-39 349h0M-106 262h0M-178 294h0M168 224h0M-133 -17h0M-126 253h0M67 365h0M64 147h0M215 -154h0M-190 73h0M-120 8h0M-128 251h0M113 -32h0M-132 303h0M44 331h0M337 54h0M-210 305h0M128 -82h0M-79 339h0M87 -112h0M20 132h0M-71 311h0M-61 362h0M3 10h0M63 -61h0M140 -110h0M254 -172h0M-1 359h0M-45 346h0M7 31h0M-88 -24h0M233 -177h0M226 -182h0M52 395h0M231 -142h0M189 -106h0M46 -51h0M152 -186h0M2 172h0M381 61h0M160 -175h0M194 -164h0M179 -131h0M-171 305h0M9 323h0M237 205h0M-108 260h0M46 220h0M32 41h0M-135 261h0M-30 361h0M-165 341h0M-83 319h0M-40 318h0M56 -334h0M-99 313h0M-79 236h0M-12 410h0M204 -219h0M200 192h0M91 241h0M163 -131h0M-20 318h0M113 238h0M-20 367h0M-37 295h0M195 -133h0M97 62h0M-171 287h0M103 35h0M4 94h0M-16 403h0M145 -46h0M226 202h0M195 -226h0M211 187h0M-109 352h0M200 -104h0M113 -135h0M-140 286h0M-115 295h0M218 -136h0M36 137h0M123 -193h0M87 76h0M100 211h0M-38 -153h0M215 -218h0M210 -160h0M355 27h0M36 367h0M41 166h0M180 -155h0M-25 104h0M-54 279h0M142 79h0M132 222h0M-142 327h0M-37 363h0M154 44h0M-80 340h0M-74 319h0M150 -151h0M-76 339h0M20 62h0M-7 338h0M-151 308h0M134 -20h0M-144 -37h0M188 -184h0M-5 317h0M90 53h0M-53 250h0M42 -12h0M-2 382h0M-22 396h0M187 226h0M258 237h0M136 -176h0M-63 308h0M74 252h0M42 381h0M-144 278h0M167 223h0M-28 338h0M-174 265h0M283 80h0M-127 260h0M-119 -185h0M-116 352h0M-184 40h0M204 235h0M95 244h0M249 -159h0M-58 7h0M-33 356h0M237 -188h0M134 -177h0M-73 155h0M45 337h0M-72 286h0M-8 -296h0M77 240h0M57 366h0M72 -124h0M132 -112h0M-74 251h0M-98 230h0M357 28h0M211 -147h0M114 231h0M-52 382h0M-50 270h0M20 408h0M-114 304h0M106 -123h0M-35 322h0M-17 344h0M-95 323h0M2 389h0M73 266h0M-129 238h0M41 349h0M37 361h0M-113 321h0M153 -180h0M-98 245h0M246 -113h0M-149 281h0M-65 310h0M-85 302h0M-6 416h0M361 101h0M-170 348h0M214 -129h0M-54 262h0M77 348h0M-23 133h0M221 -212h0M-121 352h0M96 -144h0M81 -33h0M27 25h0M192 -236h0M-65 316h0M180 -156h0M216 -185h0M-55 132h0M11 367h0M150 7h0M-28 401h0M205 -175h0M-115 304h0M-197 20h0M169 231h0M-46 378h0M171 -203h0M41 -43h0M-54 335h0M-10 328h0M-87 335h0M-17 336h0M-99 271h0M164 -128h0M-12 94h0M74 230h0M117 -93h0M-101 279h0M213 -110h0M-95 246h0M-36 338h0M40 -91h0M162 231h0M-160 289h0M-83 250h0M-14 411h0M48 413h0M9 330h0M-83 272h0M-100 251h0M-124 313h0M249 -156h0M3 339h0M75 -352h0M-46 380h0M56 -7h0M201 194h0M311 38h0M-120 330h0M-143 252h0M34 391h0M-16 402h0M-27 382h0M-54 320h0M-56 160h0M100 -92h0M29 407h0M1 326h0M-178 100h0M165 -203h0M-85 13h0M258 -173h0M-28 309h0M-74 327h0M-54 44h0M-130 305h0M-60 308h0M226 204h0M62 130h0M-53 300h0M165 -131h0M-54 260h0M-114 18h0M-116 331h0M-32 126h0M-71 280h0M-14 418h0M-106 329h0M49 362h0M8 133h0M196 -216h0M47 401h0M-95 297h0M-43 64h0M266 237h0M101 209h0M227 -231h0M66 155h0M5 358h0M-21 -207h0M55 103h0M78 229h0M20 388h0M-27 329h0M-94 248h0M-92 246h0M-88 330h0M-166 310h0M386 81h0M-23 375h0M-60 260h0M214 -190h0M-1 327h0M136 -185h0M96 244h0M-353 -40h0M-21 143h0M197 -9h0M-63 309h0M139 220h0M132 -207h0M67 -123h0M21 378h0M148 -216h0M-165 2h0M-116 248h0M347 -3h0M-37 370h0M-46 374h0M-140 282h0M-56 259h0M150 228h0M46 346h0M139 57h0M184 217h0M-76 321h0M19 359h0M-24 161h0M-80 332h0M-119 251h0M148 201h0M222 105h0M36 413h0M111 211h0M-78 306h0M120 -134h0M41 57h0M31 360h0M-13 405h0M-88 274h0M30 409h0M-131 346h0M-102 251h0M109 -49h0M174 -234h0M15 386h0M-153 329h0M-148 285h0M-42 -250h0M-61 269h0M-38 357h0M331 25h0M343 42h0M-36 265h0M142 -44h0M117 229h0M-15 352h0M-52 350h0M82 226h0M-45 369h0M-39 356h0M216 204h0M20 374h0M-155 40h0M166 202h0M-123 -20h0M-82 311h0M8 99h0M-167 286h0M62 117h0M-28 216h0M-89 308h0M280 53h0M-56 275h0M161 -129h0M29 64h0M-50 297h0M41 -326h0M58 124h0M-110 326h0M-42 391h0M15 356h0M51 384h0M25 399h0M52 376h0M-85 332h0M34 4h0M8 373h0M-163 304h0M-87 272h0M256 -170h0M230 -182h0M-220 36h0M-150 329h0M27 408h0M-83 356h0M-32 385h0M189 -104h0M117 -173h0M-37 337h0M202 -174h0M181 239h0M112 -138h0M-7 150h0M172 77h0M-87 271h0M-223 -18h0M180 -123h0M-189 55h0M-26 389h0M-139 289h0M-19 97h0M-92 246h0M-116 -13h0M84 131h0M257 255h0M72 142h0M-64 281h0M225 -95h0M-91 278h0M-104 158h0M45 390h0M139 -164h0M353 22h0M-103 291h0M-54 308h0M-128 252h0M-86 -34h0M271 234h0M-140 285h0M-112 263h0M85 -95h0M-64 252h0M-181 9h0M193 -222h0M-159 -27h0M-122 265h0M29 -69h0M58 390h0M90 -7h0M158 -209h0M-16 334h0M163 -178h0M-95 245h0M-104 326h0M123 -178h0M240 -141h0M-26 42h0M168 -105h0M-119 299h0M-131 332h0M101 -105h0M145 27h0M120 17h0M-45 344h0M-25 344h0M-87 299h0M-59 356h0M224 188h0M-17 327h0M34 329h0M-32 99h0M238 -192h0M-47 341h0M-134 262h0M91 -101h0M212 -177h0M-98 263h0M-158 263h0M159 78h0M375 38h0M-49 334h0M185 -213h0M23 358h0M85 239h0M-49 386h0"/><path id="m_VSIG4" d="M128 -77h0M-47 -216h0M105 83h0M103 22h0M196 223h0M258 228h0M391 62h0M-111 98h0M15 -311h0M-91 130h0M339 106h0M-75 -50h0M-36 417h0M-168 115h0M-208 25h0M62 364h0M10 -333h0M154 29h0M81 -346h0M-123 26h0M-135 49h0M72 -40h0M-80 292h0M2 35h0M72 -85h0M391 41h0M34 391h0M42 -349h0M152 57h0M0 -67h0M211 71h0M-43 -38h0M-333 31h0M276 247h0M201 -201h0M-55 280h0M19 353h0M154 -208h0M382 61h0M-142 256h0M-106 301h0M81 257h0M115 217h0M379 45h0M113 27h0M296 70h0M29 -267h0M-329 20h0M171 -161h0M88 28h0M234 -96h0M225 -205h0M334 71h0M-127 -1h0M199 81h0M178 -190h0M-1 218h0M181 -228h0M-120 85h0M386 51h0M-90 44h0M102 -92h0M230 83h0M-319 -106h0M85 -48h0M-188 5h0M13 389h0M79 98h0M304 42h0M-1 -258h0M-62 301h0M101 256h0M127 -121h0M151 -45h0M68 139h0M65 359h0M-177 305h0M-162 3h0M290 29h0M206 -219h0M-21 340h0M166 -107h0M-70 321h0M52 46h0M305 63h0M-28 376h0M58 44h0M1 106h0M106 85h0M-76 254h0M72 -21h0M43 43h0M-13 -1h0M-70 -31h0M-56 -43h0M143 -199h0M141 211h0M182 -185h0M181 -166h0M292 128h0M28 157h0M-30 -147h0M-97 79h0M-54 294h0M44 112h0M77 -274h0M182 188h0M-83 -212h0M-30 74h0M218 -157h0M13 53h0M128 35h0M-225 -14h0M-116 323h0M-103 313h0M-22 109h0M101 -25h0M-120 331h0M49 135h0M-13 97h0M55 -36h0M-75 334h0M-126 -61h0M8 -335h0M-47 -29h0M292 -179h0M15 -360h0M385 73h0M61 92h0M72 92h0M118 -243h0M93 4h0M-151 81h0M-159 20h0M177 -195h0M126 -35h0M-51 140h0M128 -3h0M-4 -355h0M-276 -2h0M-148 333h0M-48 25h0M115 -225h0M175 -211h0M-62 -14h0M-119 -233h0M-114 116h0M124 18h0M43 -44h0M211 82h0M-79 -172h0M151 -75h0M324 78h0M266 66h0M335 43h0M144 -135h0M193 -104h0M155 -162h0M-115 -6h0M-111 30h0M98 -22h0M109 -37h0M43 54h0M0 50h0M71 -78h0M201 216h0M2 -294h0M167 -185h0M-132 338h0M150 103h0M217 -185h0M-235 -2h0M62 82h0M327 99h0M148 -64h0M157 -171h0M-18 395h0M399 97h0M11 27h0M-162 70h0M67 98h0M-167 275h0M160 223h0M-76 -47h0M-108 151h0M-298 9h0M155 31h0M79 46h0M29 318h0M-34 370h0M13 304h0M-43 314h0M112 -29h0M88 25h0M-98 -30h0M20 74h0M144 -93h0M-88 330h0M136 128h0M59 -318h0M-140 -9h0M-80 -42h0M-2 -324h0M-112 158h0M376 62h0M128 -94h0M202 -160h0M28 -22h0M-175 62h0M173 -185h0M93 230h0M-114 54h0M-94 -47h0M95 -121h0M-59 44h0M212 -226h0M-89 -7h0M218 -197h0M110 18h0M192 -192h0M366 113h0M29 17h0M8 -47h0M58 -310h0M155 -178h0M93 -303h0M160 209h0"/><path id="h_FABP4" d="M30 347h0M79 209h0M-38 403h0M-1 355h0M-12 389h0M295 52h0M196 223h0M27 362h0M27 386h0M176 209h0M-36 417h0M57 349h0M62 364h0M35 232h0M-82 331h0M-61 -224h0M21 358h0M49 221h0M218 204h0M14 219h0M171 -150h0M175 -133h0M238 210h0M27 365h0M-23 400h0M-64 295h0M19 353h0M13 393h0M126 224h0M17 407h0M90 209h0M158 -100h0M65 241h0M29 -267h0M71 218h0M-53 103h0M5 386h0M171 -161h0M38 382h0M146 -128h0M214 234h0M80 222h0M181 -228h0M168 222h0M5 398h0M212 -122h0M225 219h0M65 -348h0M201 -199h0M142 -179h0M172 191h0M-29 387h0M127 -121h0M199 243h0M220 191h0M230 -128h0M31 225h0M166 -141h0M141 240h0M198 -200h0M-28 376h0M1 223h0M24 376h0M-13 332h0M234 219h0M24 333h0M141 211h0M-27 392h0M147 -203h0M195 -126h0M184 200h0M112 211h0M90 237h0M223 -160h0M-11 415h0M129 -167h0M183 201h0M18 223h0M-33 376h0M19 357h0M87 226h0M219 -166h0M168 222h0M208 -137h0M49 384h0M33 397h0M1 380h0M14 395h0M167 -141h0M160 -87h0M28 349h0M-5 394h0M164 228h0M15 357h0M254 234h0M215 -147h0M158 -145h0M-2 397h0M22 394h0M57 231h0M67 219h0M-144 270h0M61 395h0M56 397h0M177 -195h0M211 -148h0M194 179h0M44 331h0M95 215h0M-1 359h0M199 -101h0M157 200h0M52 395h0M152 -186h0M160 -175h0M237 205h0M204 -219h0M91 241h0M163 -131h0M113 238h0M-20 367h0M195 -133h0M226 202h0M100 211h0M180 -155h0M144 -135h0M155 204h0M74 252h0M42 381h0M-28 338h0M249 -159h0M77 240h0M57 366h0M130 241h0M181 199h0M116 213h0M2 389h0M73 266h0M41 349h0M-18 395h0M-6 416h0M-16 229h0M169 231h0M180 214h0M-17 336h0M74 230h0M120 -246h0M-36 338h0M162 231h0M48 413h0M3 339h0M-16 402h0M126 223h0M-34 370h0M29 407h0M165 -203h0M-142 79h0M226 204h0M10 340h0M149 -155h0M211 190h0M183 219h0M202 213h0M3 235h0M180 -113h0M78 229h0M189 237h0M-23 375h0M138 -115h0M57 242h0M96 244h0M-138 -3h0M32 333h0M139 57h0M19 359h0M111 211h0M-63 317h0M174 -234h0M15 386h0M-38 357h0M-15 352h0M82 226h0M211 187h0M209 237h0M216 204h0M113 248h0M202 -160h0M166 202h0M-28 216h0M141 -149h0M105 231h0M51 384h0M8 373h0M-32 385h0M189 -104h0M181 239h0M223 -151h0M180 -123h0M205 -226h0M-26 389h0M129 -168h0M139 -164h0M218 -197h0M-16 334h0M198 -150h0M240 -141h0M-25 344h0M-59 356h0M224 188h0"/><path id="m_FABP4" d="M204 222h0M-76 303h0M23 399h0M-48 318h0M51 68h0M195 -119h0M4 395h0M115 217h0M173 -223h0M243 244h0M243 235h0M213 -116h0M190 -113h0M-1 218h0M60 232h0M-88 274h0M137 -125h0M218 206h0M-168 289h0M138 -166h0M-74 245h0M-56 371h0M-88 320h0M77 212h0M-148 297h0M48 398h0M36 226h0M208 202h0M199 217h0M227 225h0M159 201h0M-13 393h0M111 27h0M125 -193h0M224 -207h0M-116 279h0M-48 402h0M171 -147h0M-178 294h0M-45 346h0M46 220h0M-19 -150h0M-99 313h0M-12 410h0M211 187h0M-140 286h0M36 367h0M20 44h0M96 253h0M167 223h0M-174 265h0M-33 356h0M-72 286h0M114 231h0M60 -82h0M205 -175h0M222 198h0M258 -173h0M-60 308h0M-14 418h0M122 244h0M49 362h0M-108 277h0M-37 370h0M184 217h0M-13 405h0M30 409h0M174 -118h0M15 356h0M-40 139h0M-150 329h0M27 408h0M39 -6h0M39 -329h0M123 -178h0M109 250h0M235 -121h0"/><path id="h_CCL18" d="M30 347h0M320 33h0M165 68h0M295 52h0M261 107h0M151 7h0M340 32h0M387 100h0M161 8h0M-93 331h0M262 115h0M380 -1h0M391 102h0M382 82h0M412 78h0M208 92h0M185 -153h0M140 98h0M354 32h0M281 114h0M254 254h0M-86 339h0M391 41h0M34 391h0M368 117h0M14 219h0M371 27h0M299 86h0M211 71h0M307 22h0M178 123h0M132 21h0M356 100h0M176 119h0M382 61h0M216 84h0M351 41h0M398 51h0M202 67h0M283 75h0M10 -199h0M379 45h0M370 121h0M243 244h0M296 70h0M335 10h0M385 66h0M361 62h0M349 32h0M295 29h0M334 71h0M151 -200h0M186 136h0M378 92h0M313 20h0M276 125h0M175 122h0M220 105h0M123 64h0M348 93h0M351 83h0M111 237h0M314 72h0M309 45h0M270 120h0M301 50h0M262 126h0M137 102h0M299 14h0M380 30h0M363 65h0M290 29h0M31 225h0M302 49h0M-21 350h0M333 79h0M319 24h0M-133 35h0M265 124h0M83 46h0M213 113h0M208 95h0M355 95h0M339 9h0M165 107h0M175 120h0M354 45h0M15 389h0M201 75h0M186 112h0M263 255h0M352 110h0M297 122h0M262 245h0M90 225h0M151 94h0M145 112h0M278 68h0M349 19h0M403 133h0M335 117h0M139 218h0M168 222h0M26 -330h0M318 90h0M288 98h0M5 43h0M14 395h0M300 75h0M411 44h0M-147 335h0M327 69h0M27 340h0M399 63h0M156 105h0M347 94h0M385 73h0M369 58h0M208 108h0M153 85h0M112 96h0M320 69h0M138 108h0M360 65h0M371 72h0M298 65h0M291 91h0M162 102h0M93 4h0M362 35h0M331 63h0M205 103h0M164 79h0M103 90h0M103 -82h0M211 -148h0M182 69h0M289 85h0M337 54h0M294 79h0M181 88h0M88 66h0M394 54h0M227 89h0M381 61h0M46 220h0M-135 261h0M329 11h0M398 40h0M114 47h0M211 82h0M101 19h0M393 50h0M83 5h0M195 -226h0M415 80h0M278 108h0M100 211h0M401 79h0M324 78h0M266 66h0M348 35h0M365 74h0M258 237h0M222 105h0M283 80h0M135 -157h0M356 75h0M208 208h0M-132 338h0M329 77h0M150 103h0M327 99h0M199 113h0M194 99h0M-6 416h0M361 101h0M399 97h0M179 114h0M192 -236h0M150 7h0M97 28h0M367 47h0M120 -246h0M231 103h0M329 57h0M313 28h0M223 82h0M96 119h0M3 339h0M216 104h0M311 38h0M311 78h0M-342 -7h0M29 407h0M358 68h0M381 54h0M101 209h0M119 32h0M349 62h0M110 5h0M361 80h0M204 103h0M88 6h0M404 49h0M386 81h0M320 107h0M389 31h0M-124 40h0M347 -3h0M132 107h0M360 110h0M315 35h0M-24 161h0M222 105h0M149 110h0M294 95h0M339 46h0M280 53h0M391 26h0M383 117h0M272 113h0M292 100h0M309 62h0M225 100h0M152 88h0M282 59h0M347 60h0M379 94h0M299 43h0M366 113h0M271 234h0M154 68h0M338 96h0M381 72h0M401 41h0M396 41h0M207 -112h0M321 25h0M152 99h0M63 -123h0M379 29h0M171 130h0M273 109h0M-47 341h0M363 73h0M291 63h0M399 59h0"/><path id="m_CCL18" d="M241 -222h0M402 101h0M275 238h0M339 106h0M291 52h0M-79 285h0M0 13h0M176 209h0M328 42h0M65 -96h0M154 29h0M-324 14h0M238 210h0M371 17h0M-70 352h0M343 91h0M65 241h0M96 14h0M87 45h0M207 116h0M271 100h0M89 258h0M18 337h0M160 -198h0M152 25h0M-109 274h0M4 -33h0M218 206h0M-245 -304h0M168 -174h0M332 98h0M222 197h0M220 191h0M215 103h0M236 -150h0M-179 27h0M179 112h0M293 93h0M371 99h0M-155 254h0M-121 306h0M314 116h0M18 223h0M180 74h0M301 114h0M-56 334h0M349 71h0M-76 -33h0M307 21h0M341 60h0M251 249h0M58 -283h0M138 91h0M-104 -21h0M351 44h0M95 215h0M52 395h0M-62 -14h0M215 83h0M91 241h0M124 18h0M314 32h0M145 -46h0M-311 -101h0M-20 169h0M-25 104h0M-5 -358h0M110 17h0M284 105h0M365 42h0M273 114h0M130 241h0M-10 -277h0M184 82h0M-77 -16h0M169 231h0M166 -97h0M30 38h0M142 155h0M-182 -1h0M-55 -39h0M196 -216h0M340 67h0M5 358h0M28 144h0M-84 19h0M136 128h0M394 81h0M-149 54h0M-315 -83h0M343 42h0M-82 311h0M105 231h0M94 -53h0M133 199h0M-94 -151h0M181 239h0M-154 -43h0M182 112h0M153 23h0M109 106h0M175 79h0M264 120h0M155 -178h0M380 78h0M-95 245h0M185 -213h0M100 49h0"/><path id="h_S100A12" d="M-346 -49h0M-61 -214h0M-111 24h0M-196 -43h0M-97 -60h0M89 -248h0M37 -320h0M56 107h0M-64 -264h0M103 22h0M-108 152h0M-173 90h0M-49 -260h0M-138 17h0M-51 -148h0M70 -291h0M-76 303h0M-80 -226h0M78 -75h0M15 -311h0M-139 65h0M-346 -16h0M-149 114h0M86 -242h0M-226 22h0M42 -348h0M-32 -253h0M-353 5h0M-19 -231h0M-330 -67h0M-312 -5h0M-283 -85h0M120 -332h0M-81 -172h0M-197 31h0M52 -284h0M92 -269h0M-31 -176h0M11 -162h0M-369 -24h0M84 -233h0M-133 76h0M-168 115h0M-208 25h0M144 -67h0M-89 -200h0M-291 -2h0M-63 -272h0M-266 2h0M-327 -17h0M-139 76h0M-47 -195h0M-104 -30h0M-355 -58h0M-21 -333h0M-139 138h0M-257 -13h0M56 -308h0M-46 -216h0M10 -333h0M75 -329h0M281 114h0M-50 -14h0M-123 26h0M-227 -4h0M-181 -30h0M-30 -279h0M-312 14h0M74 -283h0M-106 60h0M-61 -224h0M-357 -48h0M-128 43h0M-128 65h0M-210 33h0M-324 14h0M-232 -24h0M-1 -344h0M-304 -12h0M72 -85h0M-364 -72h0M-35 -221h0M-329 33h0M0 -67h0M-152 -3h0M10 -52h0M88 -78h0M-104 -191h0M-180 112h0M-110 71h0M-372 -48h0M-352 -91h0M-29 -295h0M-126 53h0M-188 -24h0M-201 0h0M-349 -33h0M4 -280h0M-375 -70h0M-37 -259h0M-288 -24h0M-134 2h0M-39 -245h0M-83 -176h0M-128 20h0M-149 8h0M-219 68h0M-333 31h0M79 -382h0M-151 71h0M51 -284h0M-302 -72h0M-98 243h0M-355 -48h0M5 131h0M-189 43h0M-112 298h0M-99 -244h0M-45 -237h0M-158 -9h0M-152 101h0M63 47h0M-115 19h0M-107 -184h0M90 -351h0M-326 -9h0M-56 -242h0M-106 189h0M-159 -37h0M-244 23h0M-21 -158h0M-152 156h0M-111 118h0M-8 -303h0M-269 30h0M-347 16h0M-89 -183h0M-142 -50h0M66 -324h0M-132 -21h0M-348 -36h0M-133 70h0M8 -315h0M-295 -66h0M-78 -237h0M-189 -30h0M101 -216h0M74 -262h0M-60 -185h0M-310 36h0M-104 62h0M-161 307h0M-60 -270h0M-78 -267h0M91 -257h0M90 -73h0M-7 -140h0M-132 125h0M-174 -12h0M-91 -155h0M-18 -246h0M-302 6h0M283 75h0M11 -346h0M9 -263h0M-106 -35h0M-95 21h0M-123 21h0M88 -328h0M-293 -104h0M-333 5h0M-81 299h0M-346 18h0M-2 -319h0M-299 20h0M131 -265h0M-117 78h0M-149 -21h0M25 -282h0M126 -158h0M-254 -82h0M-183 62h0M335 10h0M63 -327h0M-364 -36h0M42 83h0M-186 48h0M-80 -222h0M-293 10h0M-329 20h0M-175 -42h0M124 -267h0M-328 -70h0M-161 24h0M-226 5h0M-312 -57h0M-51 -265h0M-207 -49h0M-104 104h0M-1 -301h0M-106 22h0M-103 8h0M-346 47h0M-276 -99h0M-141 -7h0M97 -324h0M-204 8h0M107 -249h0M-13 -326h0M-127 -1h0M-270 -98h0M199 81h0M63 -378h0M23 -283h0M-299 11h0M-91 -225h0M75 -101h0M-34 -256h0M134 -8h0M-286 5h0M-161 28h0M36 -24h0M143 -129h0M-314 -45h0M117 -69h0M21 -358h0M-77 -143h0M148 -51h0M10 -72h0M81 -269h0M-124 35h0M-176 33h0M-8 -355h0M-145 -219h0M-75 -228h0M-110 139h0M-302 -78h0M-100 -131h0M100 -92h0M-104 -62h0M-48 -161h0M-108 -13h0M-118 70h0M-125 -28h0M71 -294h0M-38 -139h0M0 -184h0M111 -338h0M-329 -120h0M-203 -41h0M-331 -1h0M44 -278h0M65 -348h0M-22 -306h0M-141 121h0M-37 -155h0M-326 0h0M-173 61h0M39 -286h0M32 -316h0M63 -90h0M-218 -20h0M-311 -22h0M-74 -59h0M-173 31h0M101 -69h0M-80 -184h0M11 -274h0M-99 -211h0M33 -378h0M-270 -18h0M-10 -147h0M-31 112h0M-1 -258h0M-319 -63h0M-274 -12h0M-117 -33h0M-122 118h0M133 -226h0M-223 50h0M-338 -69h0M-134 268h0M66 -335h0M137 37h0M-358 -32h0M-98 82h0M-311 -113h0M64 -285h0M-151 78h0M-321 -131h0M-275 -49h0M-326 -43h0M76 -333h0M-111 -42h0M-205 59h0M-160 -10h0M-123 109h0M-3 9h0M-358 -17h0M-338 14h0M-162 3h0M-304 -66h0M-292 -27h0M52 -284h0M77 -349h0M-10 -322h0M-333 26h0M-339 -65h0M-118 63h0M-132 76h0M-315 27h0M-143 288h0M-305 -121h0M30 -337h0M-375 -38h0M-141 10h0M29 -282h0M86 -58h0M-306 -10h0M-38 295h0M73 -302h0M-319 17h0M-316 19h0M76 -251h0M29 -332h0M-6 -182h0M-76 254h0M61 -327h0M67 -46h0M-313 -24h0M-164 25h0M-176 200h0M-202 30h0M147 -85h0M-245 -21h0M-176 -31h0M-174 58h0M-360 -35h0M-227 -33h0M-327 40h0M-86 45h0M-13 332h0M-161 87h0M-121 120h0M-179 27h0M-46 -252h0M-163 65h0M-277 -77h0M-148 94h0M17 -355h0M-7 -264h0M-80 -241h0M32 -357h0M-119 96h0M-372 -77h0M-104 -209h0M-104 -71h0M-330 35h0M25 161h0M-77 -206h0M-39 -229h0M10 -219h0M-327 54h0M33 -265h0M98 -242h0M-72 -259h0M-68 -58h0M-28 -150h0M-229 16h0M143 -36h0M-330 -20h0M-130 -184h0M-110 -206h0M-127 -38h0M-30 -147h0M-137 30h0M58 -299h0M-179 119h0M13 -349h0M87 -310h0M57 -364h0M-322 15h0M-109 103h0M23 107h0M21 -248h0M-77 -199h0M-215 60h0M75 -242h0M15 -259h0M41 -348h0M26 -311h0M-299 -22h0M-307 -113h0M-155 63h0M-104 -30h0M-313 -94h0M-110 111h0M-312 -108h0M-76 -46h0M-43 -310h0M-114 10h0M-86 -260h0M77 -274h0M-138 17h0M-123 -19h0M-20 -149h0M-271 -47h0M-376 -46h0M-44 -201h0M-134 -45h0M-42 -159h0M-102 43h0M91 -360h0M104 -236h0M-95 -164h0M-135 58h0M-76 -168h0M-232 -27h0M-354 -17h0M-351 44h0M-92 -174h0M-115 -9h0M54 -370h0M-162 20h0M37 -347h0M122 -106h0M111 -335h0M-152 8h0M76 -351h0M-142 -59h0M-120 44h0M153 -61h0M-377 -52h0M54 -313h0M-303 -76h0M-289 9h0M-192 11h0M-345 18h0M-39 -164h0M-305 -4h0M-99 138h0M-180 55h0M-348 -9h0M22 -274h0M-146 34h0M-179 18h0M83 -292h0M-99 248h0M-18 -310h0M-330 -76h0M-4 -315h0M-92 -236h0M-327 -82h0M208 -137h0M74 -328h0M3 -222h0M-62 -226h0M-353 -36h0M28 -178h0M9 -177h0M-123 83h0M26 -330h0M-34 -181h0M150 -170h0M-50 -222h0M-317 -46h0M-342 -7h0M-172 61h0M-24 -153h0M2 -305h0M-338 -88h0M-226 53h0M-46 -274h0M-24 -160h0M-103 -191h0M-216 52h0M49 -362h0M-103 -199h0M22 -258h0M93 -269h0M-109 75h0M-36 -227h0M-126 -61h0M-2 99h0M88 -356h0M-30 -184h0M93 -244h0M-126 8h0M-134 -19h0M15 -360h0M-71 166h0M-136 83h0M-310 -45h0M-308 -41h0M-314 -17h0M-129 20h0M72 -368h0M33 -265h0M-59 -197h0M-39 -182h0M-209 12h0M29 -387h0M-22 -189h0M118 -339h0M-162 38h0M-353 11h0M30 -64h0M58 -283h0M-67 118h0M-167 95h0M3 -335h0M-347 -76h0M-43 -55h0M-226 57h0M-114 152h0M140 -70h0M-200 69h0M118 -243h0M-23 -247h0M-154 53h0M-144 270h0M-104 -21h0M-18 -341h0M28 -306h0M-332 -35h0M-104 -25h0M-114 132h0M-119 31h0M68 -47h0M-67 -220h0M-173 -42h0M-46 -178h0M-49 -274h0M-176 -21h0M-106 44h0M-51 -256h0M-29 -172h0M-27 -213h0M-128 -18h0M61 -295h0M-45 -241h0M-153 90h0M-150 -16h0M103 90h0M-159 20h0M-356 -73h0M-263 -79h0M-197 83h0M-346 -20h0M-178 294h0M-119 153h0M-139 24h0M-133 -17h0M-94 -155h0M-228 -24h0M108 -255h0M-211 9h0M83 -60h0M-120 8h0M-15 -240h0M-163 -55h0M-274 -72h0M-9 -342h0M-107 40h0M68 80h0M-264 104h0M-312 45h0M-100 64h0M-126 -168h0M-4 -355h0M-56 -231h0M-160 38h0M-44 -146h0M46 -51h0M-276 -2h0M16 -155h0M-271 -80h0M-317 35h0M-283 -57h0M-27 -149h0M-287 -58h0M-332 -85h0M21 -271h0M45 -343h0M-291 25h0M-305 -95h0M-66 -261h0M-191 -36h0M11 -165h0M-311 -53h0M-321 -81h0M-78 -155h0M-150 17h0M-33 -317h0M-304 -56h0M141 -69h0M-295 -58h0M-19 -150h0M-224 -24h0M56 -334h0M144 -104h0M21 -346h0M-12 410h0M-132 -36h0M71 -293h0M-19 -147h0M-338 1h0M56 -303h0M-163 -18h0M-191 142h0M101 19h0M-117 -65h0M-179 -13h0M-66 -267h0M-122 47h0M22 -293h0M-56 -185h0M-156 158h0M-27 -142h0M23 -194h0M-311 -101h0M-100 -8h0M-57 -225h0M-297 -32h0M-20 169h0M-115 74h0M72 -237h0M29 -188h0M96 -271h0M29 -258h0M-296 23h0M-115 8h0M-293 20h0M-118 4h0M-346 -120h0M85 -238h0M-93 -158h0M-5 -358h0M-271 -49h0M-30 -297h0M-322 -68h0M27 -379h0M-312 -39h0M-7 -154h0M-53 250h0M-108 -6h0M-111 30h0M50 -329h0M73 -328h0M-103 121h0M-315 12h0M-322 -87h0M96 -353h0M41 -103h0M48 -354h0M-131 131h0M2 -294h0M-304 -28h0M-128 -18h0M-119 -185h0M-184 40h0M-291 13h0M-343 -72h0M104 -239h0M-6 -343h0M-8 -296h0M-347 19h0M49 -13h0M33 131h0M-193 130h0M-117 16h0M-20 -162h0M-114 81h0M-98 -161h0M49 -320h0M-358 18h0M57 -328h0M-13 -217h0M-101 154h0M8 -316h0M-337 -119h0M-353 32h0M114 -261h0M-173 86h0M-140 70h0M91 -129h0M143 -243h0M-151 91h0M39 -329h0M148 -64h0M-122 -74h0M97 -278h0M-340 -89h0M-185 28h0M-271 6h0M-41 -172h0M29 -340h0M-152 156h0M2 -347h0M-300 -87h0M-247 8h0M-374 -39h0M-335 -22h0M-28 -244h0M-76 -140h0M-361 -62h0M121 -237h0M90 -372h0M-278 -66h0M1 -260h0M-149 -2h0M-102 -51h0M-331 -129h0M-55 132h0M-355 -86h0M-54 335h0M-302 -88h0M-269 18h0M-172 30h0M-121 -32h0M-319 -3h0M-33 181h0M-104 135h0M-314 23h0M-110 43h0M-181 39h0M49 22h0M-54 -257h0M-203 19h0M-152 77h0M29 -323h0M-135 55h0M-350 -32h0M-250 64h0M-193 36h0M-224 52h0M-145 131h0M-108 151h0M-298 9h0M-118 89h0M31 -272h0M-116 119h0M29 -353h0M71 -319h0M-339 -93h0M-275 -24h0M-200 -20h0M-137 11h0M119 -225h0M-100 -162h0M-132 -222h0M-342 -7h0M-307 -77h0M-159 -63h0M-178 100h0M99 -142h0M69 -312h0M-358 -26h0M-52 -226h0M82 -238h0M33 -341h0M-68 -160h0M-332 -86h0M-28 309h0M-275 -83h0M-142 79h0M-202 33h0M-129 -13h0M-311 -40h0M-189 -3h0M-317 -107h0M-182 -1h0M-71 280h0M-14 418h0M-101 -217h0M-126 -176h0M-320 -75h0M-142 126h0M-314 21h0M-23 -301h0M-169 -40h0M-21 -207h0M-355 -60h0M-127 36h0M-324 7h0M144 -93h0M-101 101h0M-109 -173h0M-13 -151h0M-103 -27h0M-2 -368h0M-351 -36h0M-304 -42h0M118 -140h0M-32 -228h0M14 -169h0M83 -73h0M-36 -199h0M-67 -259h0M13 -326h0M-77 -121h0M-352 -93h0M-309 -85h0M-124 -1h0M-149 54h0M-165 2h0M99 -269h0M31 -280h0M35 -282h0M-64 121h0M-228 28h0M59 -318h0M-115 -48h0M-150 -47h0M-319 -80h0M-54 -256h0M-329 19h0M-229 64h0M-271 -41h0M-291 -89h0M-140 -9h0M-24 -369h0M70 -316h0M-83 -252h0M72 -326h0M-151 153h0M-280 -75h0M69 -255h0M-80 -268h0M-63 -11h0M-305 -39h0M-213 42h0M-78 306h0M-173 36h0M-315 -83h0M35 -333h0M-70 -195h0M-53 -223h0M-17 110h0M-309 18h0M114 -269h0M-335 -28h0M-55 -284h0M-77 -173h0M-171 -38h0M145 -72h0M-139 28h0M-16 -178h0M141 -250h0M10 -364h0M-102 140h0M109 -107h0M-169 42h0M-310 -141h0M-279 -44h0M-69 -216h0M-75 -210h0M-27 -273h0M-307 -5h0M-34 -183h0M-18 -225h0M79 -293h0M-292 2h0M-194 47h0M-323 -111h0M46 -305h0M-48 -268h0M-165 17h0M-121 -54h0M-10 -297h0M-155 40h0M-123 -20h0M-115 122h0M-360 -93h0M-323 -110h0M141 -149h0M-28 -219h0M-23 -226h0M-95 -178h0M-175 62h0M-144 -24h0M272 113h0M-102 -150h0M52 -280h0M-144 7h0M-136 -68h0M-29 -232h0M98 -27h0M-350 -65h0M-355 -18h0M-94 -150h0M-114 54h0M41 -326h0M-238 -25h0M104 -284h0M-1 -159h0M-135 128h0M-162 67h0M-295 -67h0M-93 -239h0M-110 -81h0M113 -343h0M-29 -263h0M43 -64h0M-337 -101h0M96 -270h0M-40 -185h0M128 -131h0M-87 272h0M109 -241h0M-63 -153h0M-185 -5h0M-312 -85h0M-94 -151h0M-53 -230h0M59 -363h0M-184 -8h0M-154 -43h0M-312 -111h0M-105 128h0M-299 -59h0M17 -332h0M-87 271h0M-223 -18h0M-189 55h0M85 -104h0M-232 41h0M-108 -12h0M-55 -258h0M-116 -13h0M-77 -200h0M-83 -157h0M-91 132h0M-104 158h0M-139 0h0M34 -362h0M47 -283h0M-305 -85h0M-115 -146h0M105 -233h0M168 -177h0M-50 35h0M-207 18h0M6 -273h0M-366 -2h0M-51 -218h0M84 -234h0M106 -320h0M-98 68h0M-302 -99h0M89 -368h0M39 -329h0M6 -343h0M-24 -175h0M-345 -37h0M-313 17h0M-159 -27h0M-190 129h0M43 -289h0M-73 -211h0M2 -277h0M-137 166h0M97 -333h0M103 -147h0M-14 -164h0M-30 -224h0M-148 -6h0M56 -260h0M-338 -34h0M-189 23h0M84 -380h0M-249 -38h0M-146 52h0M-363 -46h0M-121 0h0M-125 -35h0M-103 147h0M-305 -30h0M-100 -196h0M-116 131h0M10 -271h0M-134 262h0M-70 26h0M-122 -172h0M-155 -45h0M-134 177h0M-127 54h0M-346 23h0M-274 -7h0M-173 69h0M-179 -42h0M-34 -160h0M-203 27h0"/><path id="m_S100A12" d="M126 28h0M-355 -115h0M-109 23h0M-109 -166h0M-232 -29h0M100 -127h0M380 -1h0M412 78h0M-165 61h0M85 -119h0M74 -3h0M99 -289h0M9 -49h0M-57 -232h0M377 42h0M80 57h0M-125 61h0M-277 -62h0M63 -60h0M154 -208h0M38 131h0M50 -342h0M-160 279h0M47 -88h0M96 -114h0M-33 -314h0M-97 -2h0M90 209h0M-345 2h0M-192 52h0M39 -265h0M19 -11h0M-184 293h0M-42 100h0M-24 -133h0M-61 -265h0M133 -52h0M-38 179h0M-84 144h0M110 219h0M-105 273h0M-116 -172h0M-319 -106h0M-147 -17h0M-163 -15h0M-25 -184h0M138 -166h0M-155 138h0M-97 11h0M-102 103h0M-58 -258h0M98 -293h0M48 -347h0M-368 -69h0M74 -103h0M118 -135h0M33 25h0M-43 170h0M-148 297h0M-98 95h0M24 -74h0M92 -146h0M161 23h0M-61 277h0M-155 254h0M137 81h0M-50 -219h0M-339 3h0M25 193h0M26 34h0M125 -261h0M-339 -26h0M154 -139h0M66 364h0M-46 53h0M-56 334h0M-92 229h0M1 65h0M-115 5h0M-141 277h0M14 395h0M-113 -62h0M-282 -72h0M8 -335h0M-206 83h0M44 -328h0M-51 -188h0M138 91h0M-200 10h0M-98 44h0M-176 -50h0M-64 51h0M-11 346h0M-315 -302h0M61 -116h0M-151 81h0M-346 -16h0M137 -51h0M46 42h0M226 -182h0M-73 119h0M-5 -200h0M73 -50h0M-101 -173h0M-139 -18h0M6 163h0M-79 -172h0M145 -46h0M3 162h0M12 142h0M2 141h0M57 -268h0M-31 -297h0M132 222h0M-148 -29h0M-219 20h0M-98 -189h0M120 -127h0M-54 108h0M-359 -25h0M-79 65h0M-101 -184h0M-111 -206h0M184 82h0M-307 -61h0M99 -43h0M60 -82h0M-27 -126h0M-127 -2h0M30 -57h0M31 190h0M105 -86h0M-191 40h0M-191 35h0M18 63h0M-23 -149h0M25 -80h0M54 113h0M-95 297h0M-308 24h0M143 -54h0M-38 66h0M-212 -372h0M87 -303h0M-148 63h0M-12 83h0M-204 36h0M-74 -248h0M176 -26h0M-245 -327h0M-321 21h0M-362 -59h0M-140 77h0M-114 63h0M-273 -16h0M-96 86h0M115 -295h0M-204 81h0M168 12h0M96 -140h0M94 -53h0M105 -300h0M-102 41h0M-19 97h0M225 -95h0M-95 36h0M81 -125h0M-91 -9h0M58 -310h0M-71 136h0M108 -1h0M93 -303h0M84 -10h0M168 -105h0M-345 0h0M-48 182h0"/><path id="h_CLEC9A" d="M-217 -291h0M-269 -313h0M-294 -270h0M-252 -337h0M-232 -351h0M-315 -301h0M-219 -306h0M-278 -321h0M-208 -355h0M-217 -254h0M-226 -293h0M-318 -341h0M-308 -284h0M-219 -281h0M-266 -310h0M-220 -370h0M-232 -371h0M-220 -286h0M-285 -281h0M-250 -284h0M-254 -310h0M-303 -299h0M-233 -292h0M-278 -339h0M-277 -299h0M-291 -281h0M-226 -261h0M-304 -309h0M-257 -338h0M-287 -291h0M-243 -306h0M-245 -304h0M-257 -312h0M-280 -306h0M-232 -348h0M-308 -289h0M-269 -299h0M-282 -321h0M-241 -365h0M-288 -280h0M-272 -317h0M-272 -346h0M-267 -342h0M-294 -326h0M-267 -281h0M-244 -282h0M-242 -325h0M-230 -320h0M-314 -319h0M-307 -296h0M-283 -286h0M-193 -272h0M-230 -264h0M-204 -341h0M-282 -307h0M-233 -262h0M-226 -277h0M-259 -300h0M-306 -292h0M-246 -326h0M-311 -296h0M-266 -299h0M-243 -294h0M-204 -284h0M-192 -282h0M-341 -344h0M-310 -301h0M-266 -308h0M-318 -321h0M-281 -344h0M-284 -341h0M-305 -315h0M-315 -302h0M-223 -308h0M-267 -347h0M-241 -266h0M-218 -320h0M-234 -305h0M-259 -315h0M-242 -288h0M-191 -279h0M-199 -372h0M-253 -270h0M-217 -362h0M-237 -253h0M-271 -318h0M-216 -300h0M-293 -280h0M-290 -306h0M-250 -314h0M-229 -306h0M-261 -315h0M-296 -316h0M-239 -351h0M-233 -255h0M-293 -320h0M-227 -317h0M-230 -346h0M-234 -310h0M-216 -307h0M-312 -295h0M-238 -347h0M-224 -304h0M-276 -321h0M-231 -283h0M-264 -286h0M-221 -344h0M-230 -279h0M-234 -347h0M-254 -291h0M-203 -351h0M-199 -317h0M-259 -267h0M-194 -265h0M-234 -332h0M-246 -317h0M-264 -265h0M-212 -251h0M-212 -372h0M-283 -291h0M-274 -334h0M-245 -327h0M-261 -253h0M-289 -336h0M-311 -333h0M-277 -279h0M-206 -297h0M-241 -366h0M-226 -377h0M-245 -352h0M-305 -328h0M-172 -240h0M-275 -259h0M-259 -325h0M-222 -309h0M-235 -288h0M-268 -333h0M-256 -344h0M-242 -275h0M-288 -317h0M-291 -301h0M-204 -287h0M-262 -307h0M-204 -370h0M-253 -279h0M-305 -315h0M-293 -283h0M-209 -273h0M-245 -301h0M-237 -259h0M-189 -365h0M-242 -329h0"/><path id="m_CLEC9A" d="M-260 -263h0M-306 -308h0M-345 2h0M-247 -260h0M-304 -293h0M-226 -359h0M-101 304h0M-215 -285h0M-240 -305h0M-60 1h0M-347 -76h0M-298 -336h0M-273 -294h0M-5 14h0M23 18h0M55 135h0M-221 -320h0M-247 -251h0M-252 -322h0M-281 -284h0M-181 9h0"/>
</defs>
<rect width="685" height="803" fill="#fff"/>
<text transform="matrix(0.86 0 0 1 0.0 9.0)" font-size="17.2" fill="#231f20">a</text><use href="#p_c1" transform="matrix(0.11680 0 0 -0.11560 96.6 68.7)" stroke="#dc0f14" stroke-width="10"/><use href="#p_c2" transform="matrix(0.11680 0 0 -0.11560 96.6 68.7)" stroke="#13a03a" stroke-width="10"/><use href="#p_c3" transform="matrix(0.11680 0 0 -0.11560 96.6 68.7)" stroke="#2b7bb6" stroke-width="10"/><use href="#p_c3t" transform="matrix(0.11680 0 0 -0.11560 96.6 68.7)" stroke="#2b7bb6" stroke-width="10"/><use href="#p_c3r" transform="matrix(0.11680 0 0 -0.11560 96.6 68.7)" stroke="#2b7bb6" stroke-width="10"/><use href="#p_c4" transform="matrix(0.11680 0 0 -0.11560 96.6 68.7)" stroke="#c274bd" stroke-width="10"/><use href="#p_c5" transform="matrix(0.11680 0 0 -0.11560 96.6 68.7)" stroke="#f0621a" stroke-width="10"/><use href="#p_c6" transform="matrix(0.11680 0 0 -0.11560 96.6 68.7)" stroke="#7cc463" stroke-width="10"/><use href="#p_c7" transform="matrix(0.11680 0 0 -0.11560 96.6 68.7)" stroke="#a9420f" stroke-width="10"/><use href="#p_dc" transform="matrix(0.11680 0 0 -0.11560 96.6 68.7)" stroke="#6b3a9e" stroke-width="10"/><rect x="42.1" y="13.2" width="113.2" height="104.5" fill="none" stroke="#5a5657" stroke-width="0.9"/><line x1="39.1" y1="39.8" x2="42.1" y2="39.8" stroke="#5a5657" stroke-width="0.9"/><text x="35.5" y="43.6" font-size="10.8" text-anchor="end" fill="#231f20">25</text><line x1="39.1" y1="68.7" x2="42.1" y2="68.7" stroke="#5a5657" stroke-width="0.9"/><text x="35.5" y="72.5" font-size="10.8" text-anchor="end" fill="#231f20">0</text><line x1="39.1" y1="97.6" x2="42.1" y2="97.6" stroke="#5a5657" stroke-width="0.9"/><text x="35.5" y="101.4" font-size="10.8" text-anchor="end" fill="#231f20">-25</text><line x1="73.3" y1="117.7" x2="73.3" y2="120.2" stroke="#5a5657" stroke-width="0.9"/><text x="73.3" y="134.2" font-size="10" text-anchor="middle" fill="#231f20">-20</text><line x1="96.6" y1="117.7" x2="96.6" y2="120.2" stroke="#5a5657" stroke-width="0.9"/><text x="96.6" y="134.2" font-size="10" text-anchor="middle" fill="#231f20">0</text><line x1="120.6" y1="117.7" x2="120.6" y2="120.2" stroke="#5a5657" stroke-width="0.9"/><text x="120.6" y="134.2" font-size="10" text-anchor="middle" fill="#231f20">20</text><line x1="143.4" y1="117.7" x2="143.4" y2="120.2" stroke="#5a5657" stroke-width="0.9"/><text x="143.4" y="134.2" font-size="10" text-anchor="middle" fill="#231f20">40</text><text x="98.7" y="149.5" font-size="10.4" text-anchor="middle" fill="#231f20">tSNE_1</text><text transform="translate(12.6 68.3) rotate(-90)" font-size="10.4" text-anchor="middle" fill="#231f20">tSNE_2</text><circle cx="163.3" cy="27.4" r="4.4" fill="#dc0f14"/><text transform="matrix(0.872 0 0 1 170.6 30.7)" font-size="10.2" fill="#3a3637">Mø_c1_IL1B</text><circle cx="163.3" cy="39.1" r="4.4" fill="#13a03a"/><text transform="matrix(0.872 0 0 1 170.6 42.4)" font-size="10.2" fill="#3a3637">Mø_c2_VSIG4</text><circle cx="163.3" cy="50.8" r="4.4" fill="#2b7bb6"/><text transform="matrix(0.872 0 0 1 170.6 54.1)" font-size="10.2" fill="#3a3637">Mø_c3_FABP5</text><circle cx="163.3" cy="62.5" r="4.4" fill="#c274bd"/><text transform="matrix(0.872 0 0 1 170.6 65.8)" font-size="10.2" fill="#3a3637">Mø_c4_CCL18</text><circle cx="163.3" cy="74.2" r="4.4" fill="#f0621a"/><text transform="matrix(0.872 0 0 1 170.6 77.5)" font-size="10.2" fill="#3a3637">Mø_c5_S100A8</text><circle cx="163.3" cy="86.0" r="4.4" fill="#7cc463"/><text transform="matrix(0.872 0 0 1 170.6 89.2)" font-size="10.2" fill="#3a3637">Mø_c6_S100A12</text><circle cx="163.3" cy="97.7" r="4.4" fill="#a9420f"/><text transform="matrix(0.872 0 0 1 170.6 101.0)" font-size="10.2" fill="#3a3637">Mø_c7_AQP9</text><circle cx="163.3" cy="109.4" r="4.4" fill="#6b3a9e"/><text transform="matrix(0.872 0 0 1 170.6 112.7)" font-size="10.2" fill="#3a3637">DC_c1_CLEC9A</text><text transform="matrix(0.86 0 0 1 -0.1 173.8)" font-size="17.2" fill="#231f20">b</text><use href="#p_c1" transform="matrix(0.12560 0 0 -0.11670 97.1 229.5)" stroke="#d7161b" stroke-width="10"/><use href="#p_c2" transform="matrix(0.12560 0 0 -0.11670 97.1 229.5)" stroke="#d7161b" stroke-width="10"/><use href="#p_c3" transform="matrix(0.12560 0 0 -0.11670 97.1 229.5)" stroke="#d7161b" stroke-width="10"/><use href="#p_c3t" transform="matrix(0.12560 0 0 -0.11670 97.1 229.5)" stroke="#d7161b" stroke-width="10"/><use href="#p_c3r" transform="matrix(0.12560 0 0 -0.11670 97.1 229.5)" stroke="#d7161b" stroke-width="10"/><use href="#p_c4" transform="matrix(0.12560 0 0 -0.11670 97.1 229.5)" stroke="#d7161b" stroke-width="10"/><use href="#p_c5" transform="matrix(0.12560 0 0 -0.11670 97.1 229.5)" stroke="#d7161b" stroke-width="10"/><use href="#p_c6" transform="matrix(0.12560 0 0 -0.11670 97.1 229.5)" stroke="#d7161b" stroke-width="10"/><use href="#p_c7" transform="matrix(0.12560 0 0 -0.11670 97.1 229.5)" stroke="#d7161b" stroke-width="10"/><use href="#p_dc" transform="matrix(0.12560 0 0 -0.11670 97.1 229.5)" stroke="#d7161b" stroke-width="10"/><use href="#p_peri" transform="matrix(0.12560 0 0 -0.11670 97.1 229.5)" stroke="#2a4d98" stroke-width="10"/><rect x="43.7" y="174.8" width="112.3" height="104.7" fill="none" stroke="#5a5657" stroke-width="0.9"/><line x1="40.7" y1="200.7" x2="43.7" y2="200.7" stroke="#5a5657" stroke-width="0.9"/><text x="36.7" y="204.5" font-size="10.8" text-anchor="end" fill="#231f20">25</text><line x1="40.7" y1="229.2" x2="43.7" y2="229.2" stroke="#5a5657" stroke-width="0.9"/><text x="36.7" y="233.0" font-size="10.8" text-anchor="end" fill="#231f20">0</text><line x1="40.7" y1="258.0" x2="43.7" y2="258.0" stroke="#5a5657" stroke-width="0.9"/><text x="36.7" y="261.8" font-size="10.8" text-anchor="end" fill="#231f20">-25</text><line x1="75.2" y1="279.5" x2="75.2" y2="282.0" stroke="#5a5657" stroke-width="0.9"/><text x="75.2" y="296.0" font-size="10" text-anchor="middle" fill="#231f20">-20</text><line x1="98.6" y1="279.5" x2="98.6" y2="282.0" stroke="#5a5657" stroke-width="0.9"/><text x="98.6" y="296.0" font-size="10" text-anchor="middle" fill="#231f20">0</text><line x1="121.5" y1="279.5" x2="121.5" y2="282.0" stroke="#5a5657" stroke-width="0.9"/><text x="121.5" y="296.0" font-size="10" text-anchor="middle" fill="#231f20">20</text><line x1="144.4" y1="279.5" x2="144.4" y2="282.0" stroke="#5a5657" stroke-width="0.9"/><text x="144.4" y="296.0" font-size="10" text-anchor="middle" fill="#231f20">40</text><text x="100.5" y="311.5" font-size="10.4" text-anchor="middle" fill="#231f20">tSNE_1</text><text transform="translate(13.6 230.0) rotate(-90)" font-size="10.4" text-anchor="middle" fill="#231f20">tSNE_2</text><circle cx="169.4" cy="189.8" r="4.5" fill="#2a4d98"/><circle cx="169.4" cy="201.6" r="4.5" fill="#d7161b"/><text transform="matrix(0.82 0 0 1 178.6 192.9)" font-size="9.6" fill="#3a3637">Peri-Tumor</text><text transform="matrix(0.82 0 0 1 178.6 204.6)" font-size="9.6" fill="#3a3637">Tumor</text><text transform="matrix(0.86 0 0 1 271.5 9.0)" font-size="17.2" fill="#231f20">c</text><use href="#p_c1" transform="matrix(0.10650 0 0 -0.09510 349.40000000000003 73.6)" stroke="#fedb88" stroke-width="9"/><use href="#p_c2" transform="matrix(0.10650 0 0 -0.09510 349.40000000000003 73.6)" stroke="#fedb88" stroke-width="9"/><use href="#p_c3" transform="matrix(0.10650 0 0 -0.09510 349.40000000000003 73.6)" stroke="#fedb88" stroke-width="9"/><use href="#p_c3t" transform="matrix(0.10650 0 0 -0.09510 349.40000000000003 73.6)" stroke="#fedb88" stroke-width="9"/><use href="#p_c3r" transform="matrix(0.10650 0 0 -0.09510 349.40000000000003 73.6)" stroke="#fedb88" stroke-width="9"/><use href="#p_c4" transform="matrix(0.10650 0 0 -0.09510 349.40000000000003 73.6)" stroke="#fedb88" stroke-width="9"/><use href="#p_c5" transform="matrix(0.10650 0 0 -0.09510 349.40000000000003 73.6)" stroke="#fedb88" stroke-width="9"/><use href="#p_c6" transform="matrix(0.10650 0 0 -0.09510 349.40000000000003 73.6)" stroke="#fedb88" stroke-width="9"/><use href="#p_c7" transform="matrix(0.10650 0 0 -0.09510 349.40000000000003 73.6)" stroke="#fedb88" stroke-width="9"/><use href="#p_dc" transform="matrix(0.10650 0 0 -0.09510 349.40000000000003 73.6)" stroke="#fedb88" stroke-width="9"/><use href="#m_IL1B" transform="matrix(0.10650 0 0 -0.09510 349.40000000000003 73.6)" stroke="#fba850" stroke-width="11"/><use href="#h_IL1B" transform="matrix(0.10650 0 0 -0.09510 349.40000000000003 73.6)" stroke="#e8461e" stroke-width="11"/><path d="M304.40000000000003 29.0V114.5H397.8" fill="none" stroke="#bdbbbb" stroke-width="0.9"/><line x1="302.40000000000003" y1="50.199999999999996" x2="304.40000000000003" y2="50.199999999999996" stroke="#bdbbbb" stroke-width="0.9"/><text x="299.8" y="53.9" font-size="10.8" text-anchor="end" fill="#231f20">25</text><line x1="302.40000000000003" y1="74.3" x2="304.40000000000003" y2="74.3" stroke="#bdbbbb" stroke-width="0.9"/><text x="299.8" y="78.0" font-size="10.8" text-anchor="end" fill="#231f20">0</text><line x1="302.40000000000003" y1="98.4" x2="304.40000000000003" y2="98.4" stroke="#bdbbbb" stroke-width="0.9"/><text x="299.8" y="102.1" font-size="10.8" text-anchor="end" fill="#231f20">-25</text><line x1="326.3" y1="114.5" x2="326.3" y2="116.5" stroke="#bdbbbb" stroke-width="0.9"/><text x="324.9" y="131.4" font-size="10.8" text-anchor="middle" fill="#231f20">-20</text><line x1="348.3" y1="114.5" x2="348.3" y2="116.5" stroke="#bdbbbb" stroke-width="0.9"/><text x="348.3" y="131.4" font-size="10.8" text-anchor="middle" fill="#231f20">0</text><line x1="370.3" y1="114.5" x2="370.3" y2="116.5" stroke="#bdbbbb" stroke-width="0.9"/><text x="370.3" y="131.4" font-size="10.8" text-anchor="middle" fill="#231f20">20</text><line x1="392.3" y1="114.5" x2="392.3" y2="116.5" stroke="#bdbbbb" stroke-width="0.9"/><text x="392.3" y="131.4" font-size="10.8" text-anchor="middle" fill="#231f20">40</text><text x="354.8" y="149.8" font-size="10.7" text-anchor="middle" fill="#231f20">tSNE_1</text><text transform="translate(281.4 75.3) rotate(-90)" font-size="9.9" text-anchor="middle" fill="#231f20">tSNE_2</text><text transform="matrix(0.88 0 0 1 345.3 17.0)" font-size="11.4" text-anchor="middle" fill="#231f20">IL1B</text><use href="#p_c1" transform="matrix(0.10650 0 0 -0.09510 494.70000000000005 73.6)" stroke="#fedb88" stroke-width="9"/><use href="#p_c2" transform="matrix(0.10650 0 0 -0.09510 494.70000000000005 73.6)" stroke="#fedb88" stroke-width="9"/><use href="#p_c3" transform="matrix(0.10650 0 0 -0.09510 494.70000000000005 73.6)" stroke="#fedb88" stroke-width="9"/><use href="#p_c3t" transform="matrix(0.10650 0 0 -0.09510 494.70000000000005 73.6)" stroke="#fedb88" stroke-width="9"/><use href="#p_c3r" transform="matrix(0.10650 0 0 -0.09510 494.70000000000005 73.6)" stroke="#fedb88" stroke-width="9"/><use href="#p_c4" transform="matrix(0.10650 0 0 -0.09510 494.70000000000005 73.6)" stroke="#fedb88" stroke-width="9"/><use href="#p_c5" transform="matrix(0.10650 0 0 -0.09510 494.70000000000005 73.6)" stroke="#fedb88" stroke-width="9"/><use href="#p_c6" transform="matrix(0.10650 0 0 -0.09510 494.70000000000005 73.6)" stroke="#fedb88" stroke-width="9"/><use href="#p_c7" transform="matrix(0.10650 0 0 -0.09510 494.70000000000005 73.6)" stroke="#fedb88" stroke-width="9"/><use href="#p_dc" transform="matrix(0.10650 0 0 -0.09510 494.70000000000005 73.6)" stroke="#fedb88" stroke-width="9"/><use href="#m_VSIG4" transform="matrix(0.10650 0 0 -0.09510 494.70000000000005 73.6)" stroke="#fba850" stroke-width="11"/><use href="#h_VSIG4" transform="matrix(0.10650 0 0 -0.09510 494.70000000000005 73.6)" stroke="#e8461e" stroke-width="11"/><path d="M449.70000000000005 29.0V114.5H543.1" fill="none" stroke="#bdbbbb" stroke-width="0.9"/><line x1="447.70000000000005" y1="50.199999999999996" x2="449.70000000000005" y2="50.199999999999996" stroke="#bdbbbb" stroke-width="0.9"/><text x="445.1" y="53.9" font-size="10.8" text-anchor="end" fill="#231f20">25</text><line x1="447.70000000000005" y1="74.3" x2="449.70000000000005" y2="74.3" stroke="#bdbbbb" stroke-width="0.9"/><text x="445.1" y="78.0" font-size="10.8" text-anchor="end" fill="#231f20">0</text><line x1="447.70000000000005" y1="98.4" x2="449.70000000000005" y2="98.4" stroke="#bdbbbb" stroke-width="0.9"/><text x="445.1" y="102.1" font-size="10.8" text-anchor="end" fill="#231f20">-25</text><line x1="471.6" y1="114.5" x2="471.6" y2="116.5" stroke="#bdbbbb" stroke-width="0.9"/><text x="470.2" y="131.4" font-size="10.8" text-anchor="middle" fill="#231f20">-20</text><line x1="493.6" y1="114.5" x2="493.6" y2="116.5" stroke="#bdbbbb" stroke-width="0.9"/><text x="493.6" y="131.4" font-size="10.8" text-anchor="middle" fill="#231f20">0</text><line x1="515.6" y1="114.5" x2="515.6" y2="116.5" stroke="#bdbbbb" stroke-width="0.9"/><text x="515.6" y="131.4" font-size="10.8" text-anchor="middle" fill="#231f20">20</text><line x1="537.6" y1="114.5" x2="537.6" y2="116.5" stroke="#bdbbbb" stroke-width="0.9"/><text x="537.6" y="131.4" font-size="10.8" text-anchor="middle" fill="#231f20">40</text><text x="500.1" y="149.8" font-size="10.7" text-anchor="middle" fill="#231f20">tSNE_1</text><text transform="translate(426.7 75.3) rotate(-90)" font-size="9.9" text-anchor="middle" fill="#231f20">tSNE_2</text><text transform="matrix(0.88 0 0 1 491.1 17.0)" font-size="11.4" text-anchor="middle" fill="#231f20">VSIG4</text><use href="#p_c1" transform="matrix(0.10650 0 0 -0.09510 636.5 73.6)" stroke="#fedb88" stroke-width="9"/><use href="#p_c2" transform="matrix(0.10650 0 0 -0.09510 636.5 73.6)" stroke="#fedb88" stroke-width="9"/><use href="#p_c3" transform="matrix(0.10650 0 0 -0.09510 636.5 73.6)" stroke="#fedb88" stroke-width="9"/><use href="#p_c3t" transform="matrix(0.10650 0 0 -0.09510 636.5 73.6)" stroke="#fedb88" stroke-width="9"/><use href="#p_c3r" transform="matrix(0.10650 0 0 -0.09510 636.5 73.6)" stroke="#fedb88" stroke-width="9"/><use href="#p_c4" transform="matrix(0.10650 0 0 -0.09510 636.5 73.6)" stroke="#fedb88" stroke-width="9"/><use href="#p_c5" transform="matrix(0.10650 0 0 -0.09510 636.5 73.6)" stroke="#fedb88" stroke-width="9"/><use href="#p_c6" transform="matrix(0.10650 0 0 -0.09510 636.5 73.6)" stroke="#fedb88" stroke-width="9"/><use href="#p_c7" transform="matrix(0.10650 0 0 -0.09510 636.5 73.6)" stroke="#fedb88" stroke-width="9"/><use href="#p_dc" transform="matrix(0.10650 0 0 -0.09510 636.5 73.6)" stroke="#fedb88" stroke-width="9"/><use href="#m_FABP4" transform="matrix(0.10650 0 0 -0.09510 636.5 73.6)" stroke="#fba850" stroke-width="11"/><use href="#h_FABP4" transform="matrix(0.10650 0 0 -0.09510 636.5 73.6)" stroke="#e8461e" stroke-width="11"/><path d="M591.5 29.0V114.5H684.9" fill="none" stroke="#bdbbbb" stroke-width="0.9"/><line x1="589.5" y1="50.199999999999996" x2="591.5" y2="50.199999999999996" stroke="#bdbbbb" stroke-width="0.9"/><text x="586.9" y="53.9" font-size="10.8" text-anchor="end" fill="#231f20">25</text><line x1="589.5" y1="74.3" x2="591.5" y2="74.3" stroke="#bdbbbb" stroke-width="0.9"/><text x="586.9" y="78.0" font-size="10.8" text-anchor="end" fill="#231f20">0</text><line x1="589.5" y1="98.4" x2="591.5" y2="98.4" stroke="#bdbbbb" stroke-width="0.9"/><text x="586.9" y="102.1" font-size="10.8" text-anchor="end" fill="#231f20">-25</text><line x1="613.4" y1="114.5" x2="613.4" y2="116.5" stroke="#bdbbbb" stroke-width="0.9"/><text x="612.0" y="131.4" font-size="10.8" text-anchor="middle" fill="#231f20">-20</text><line x1="635.4" y1="114.5" x2="635.4" y2="116.5" stroke="#bdbbbb" stroke-width="0.9"/><text x="635.4" y="131.4" font-size="10.8" text-anchor="middle" fill="#231f20">0</text><line x1="657.4" y1="114.5" x2="657.4" y2="116.5" stroke="#bdbbbb" stroke-width="0.9"/><text x="657.4" y="131.4" font-size="10.8" text-anchor="middle" fill="#231f20">20</text><line x1="679.4" y1="114.5" x2="679.4" y2="116.5" stroke="#bdbbbb" stroke-width="0.9"/><text x="679.4" y="131.4" font-size="10.8" text-anchor="middle" fill="#231f20">40</text><text x="641.9" y="149.8" font-size="10.7" text-anchor="middle" fill="#231f20">tSNE_1</text><text transform="translate(568.5 75.3) rotate(-90)" font-size="9.9" text-anchor="middle" fill="#231f20">tSNE_2</text><text transform="matrix(0.88 0 0 1 632.5 17.0)" font-size="11.4" text-anchor="middle" fill="#231f20">FABP4</text><use href="#p_c1" transform="matrix(0.10650 0 0 -0.09510 349.40000000000003 238.9)" stroke="#fedb88" stroke-width="9"/><use href="#p_c2" transform="matrix(0.10650 0 0 -0.09510 349.40000000000003 238.9)" stroke="#fedb88" stroke-width="9"/><use href="#p_c3" transform="matrix(0.10650 0 0 -0.09510 349.40000000000003 238.9)" stroke="#fedb88" stroke-width="9"/><use href="#p_c3t" transform="matrix(0.10650 0 0 -0.09510 349.40000000000003 238.9)" stroke="#fedb88" stroke-width="9"/><use href="#p_c3r" transform="matrix(0.10650 0 0 -0.09510 349.40000000000003 238.9)" stroke="#fedb88" stroke-width="9"/><use href="#p_c4" transform="matrix(0.10650 0 0 -0.09510 349.40000000000003 238.9)" stroke="#fedb88" stroke-width="9"/><use href="#p_c5" transform="matrix(0.10650 0 0 -0.09510 349.40000000000003 238.9)" stroke="#fedb88" stroke-width="9"/><use href="#p_c6" transform="matrix(0.10650 0 0 -0.09510 349.40000000000003 238.9)" stroke="#fedb88" stroke-width="9"/><use href="#p_c7" transform="matrix(0.10650 0 0 -0.09510 349.40000000000003 238.9)" stroke="#fedb88" stroke-width="9"/><use href="#p_dc" transform="matrix(0.10650 0 0 -0.09510 349.40000000000003 238.9)" stroke="#fedb88" stroke-width="9"/><use href="#m_CCL18" transform="matrix(0.10650 0 0 -0.09510 349.40000000000003 238.9)" stroke="#fba850" stroke-width="11"/><use href="#h_CCL18" transform="matrix(0.10650 0 0 -0.09510 349.40000000000003 238.9)" stroke="#e8461e" stroke-width="11"/><path d="M304.40000000000003 194.3V279.8H397.8" fill="none" stroke="#bdbbbb" stroke-width="0.9"/><line x1="302.40000000000003" y1="215.5" x2="304.40000000000003" y2="215.5" stroke="#bdbbbb" stroke-width="0.9"/><text x="299.8" y="219.2" font-size="10.8" text-anchor="end" fill="#231f20">25</text><line x1="302.40000000000003" y1="239.6" x2="304.40000000000003" y2="239.6" stroke="#bdbbbb" stroke-width="0.9"/><text x="299.8" y="243.3" font-size="10.8" text-anchor="end" fill="#231f20">0</text><line x1="302.40000000000003" y1="263.7" x2="304.40000000000003" y2="263.7" stroke="#bdbbbb" stroke-width="0.9"/><text x="299.8" y="267.4" font-size="10.8" text-anchor="end" fill="#231f20">-25</text><line x1="326.3" y1="279.8" x2="326.3" y2="281.8" stroke="#bdbbbb" stroke-width="0.9"/><text x="324.9" y="296.7" font-size="10.8" text-anchor="middle" fill="#231f20">-20</text><line x1="348.3" y1="279.8" x2="348.3" y2="281.8" stroke="#bdbbbb" stroke-width="0.9"/><text x="348.3" y="296.7" font-size="10.8" text-anchor="middle" fill="#231f20">0</text><line x1="370.3" y1="279.8" x2="370.3" y2="281.8" stroke="#bdbbbb" stroke-width="0.9"/><text x="370.3" y="296.7" font-size="10.8" text-anchor="middle" fill="#231f20">20</text><line x1="392.3" y1="279.8" x2="392.3" y2="281.8" stroke="#bdbbbb" stroke-width="0.9"/><text x="392.3" y="296.7" font-size="10.8" text-anchor="middle" fill="#231f20">40</text><text x="354.8" y="315.1" font-size="10.7" text-anchor="middle" fill="#231f20">tSNE_1</text><text transform="translate(281.4 240.6) rotate(-90)" font-size="9.9" text-anchor="middle" fill="#231f20">tSNE_2</text><text transform="matrix(0.88 0 0 1 346.4 182.3)" font-size="11.4" text-anchor="middle" fill="#231f20">CCL18</text><use href="#p_c1" transform="matrix(0.10650 0 0 -0.09510 494.70000000000005 238.9)" stroke="#fedb88" stroke-width="9"/><use href="#p_c2" transform="matrix(0.10650 0 0 -0.09510 494.70000000000005 238.9)" stroke="#fedb88" stroke-width="9"/><use href="#p_c3" transform="matrix(0.10650 0 0 -0.09510 494.70000000000005 238.9)" stroke="#fedb88" stroke-width="9"/><use href="#p_c3t" transform="matrix(0.10650 0 0 -0.09510 494.70000000000005 238.9)" stroke="#fedb88" stroke-width="9"/><use href="#p_c3r" transform="matrix(0.10650 0 0 -0.09510 494.70000000000005 238.9)" stroke="#fedb88" stroke-width="9"/><use href="#p_c4" transform="matrix(0.10650 0 0 -0.09510 494.70000000000005 238.9)" stroke="#fedb88" stroke-width="9"/><use href="#p_c5" transform="matrix(0.10650 0 0 -0.09510 494.70000000000005 238.9)" stroke="#fedb88" stroke-width="9"/><use href="#p_c6" transform="matrix(0.10650 0 0 -0.09510 494.70000000000005 238.9)" stroke="#fedb88" stroke-width="9"/><use href="#p_c7" transform="matrix(0.10650 0 0 -0.09510 494.70000000000005 238.9)" stroke="#fedb88" stroke-width="9"/><use href="#p_dc" transform="matrix(0.10650 0 0 -0.09510 494.70000000000005 238.9)" stroke="#fedb88" stroke-width="9"/><use href="#m_S100A12" transform="matrix(0.10650 0 0 -0.09510 494.70000000000005 238.9)" stroke="#fba850" stroke-width="11"/><use href="#h_S100A12" transform="matrix(0.10650 0 0 -0.09510 494.70000000000005 238.9)" stroke="#e8461e" stroke-width="11"/><path d="M449.70000000000005 194.3V279.8H543.1" fill="none" stroke="#bdbbbb" stroke-width="0.9"/><line x1="447.70000000000005" y1="215.5" x2="449.70000000000005" y2="215.5" stroke="#bdbbbb" stroke-width="0.9"/><text x="445.1" y="219.2" font-size="10.8" text-anchor="end" fill="#231f20">25</text><line x1="447.70000000000005" y1="239.6" x2="449.70000000000005" y2="239.6" stroke="#bdbbbb" stroke-width="0.9"/><text x="445.1" y="243.3" font-size="10.8" text-anchor="end" fill="#231f20">0</text><line x1="447.70000000000005" y1="263.7" x2="449.70000000000005" y2="263.7" stroke="#bdbbbb" stroke-width="0.9"/><text x="445.1" y="267.4" font-size="10.8" text-anchor="end" fill="#231f20">-25</text><line x1="471.6" y1="279.8" x2="471.6" y2="281.8" stroke="#bdbbbb" stroke-width="0.9"/><text x="470.2" y="296.7" font-size="10.8" text-anchor="middle" fill="#231f20">-20</text><line x1="493.6" y1="279.8" x2="493.6" y2="281.8" stroke="#bdbbbb" stroke-width="0.9"/><text x="493.6" y="296.7" font-size="10.8" text-anchor="middle" fill="#231f20">0</text><line x1="515.6" y1="279.8" x2="515.6" y2="281.8" stroke="#bdbbbb" stroke-width="0.9"/><text x="515.6" y="296.7" font-size="10.8" text-anchor="middle" fill="#231f20">20</text><line x1="537.6" y1="279.8" x2="537.6" y2="281.8" stroke="#bdbbbb" stroke-width="0.9"/><text x="537.6" y="296.7" font-size="10.8" text-anchor="middle" fill="#231f20">40</text><text x="500.1" y="315.1" font-size="10.7" text-anchor="middle" fill="#231f20">tSNE_1</text><text transform="translate(426.7 240.6) rotate(-90)" font-size="9.9" text-anchor="middle" fill="#231f20">tSNE_2</text><text transform="matrix(0.88 0 0 1 497.0 182.3)" font-size="11.4" text-anchor="middle" fill="#231f20">S100A12</text><use href="#p_c1" transform="matrix(0.10650 0 0 -0.09510 636.5 238.9)" stroke="#fedb88" stroke-width="9"/><use href="#p_c2" transform="matrix(0.10650 0 0 -0.09510 636.5 238.9)" stroke="#fedb88" stroke-width="9"/><use href="#p_c3" transform="matrix(0.10650 0 0 -0.09510 636.5 238.9)" stroke="#fedb88" stroke-width="9"/><use href="#p_c3t" transform="matrix(0.10650 0 0 -0.09510 636.5 238.9)" stroke="#fedb88" stroke-width="9"/><use href="#p_c3r" transform="matrix(0.10650 0 0 -0.09510 636.5 238.9)" stroke="#fedb88" stroke-width="9"/><use href="#p_c4" transform="matrix(0.10650 0 0 -0.09510 636.5 238.9)" stroke="#fedb88" stroke-width="9"/><use href="#p_c5" transform="matrix(0.10650 0 0 -0.09510 636.5 238.9)" stroke="#fedb88" stroke-width="9"/><use href="#p_c6" transform="matrix(0.10650 0 0 -0.09510 636.5 238.9)" stroke="#fedb88" stroke-width="9"/><use href="#p_c7" transform="matrix(0.10650 0 0 -0.09510 636.5 238.9)" stroke="#fedb88" stroke-width="9"/><use href="#p_dc" transform="matrix(0.10650 0 0 -0.09510 636.5 238.9)" stroke="#fedb88" stroke-width="9"/><use href="#m_CLEC9A" transform="matrix(0.10650 0 0 -0.09510 636.5 238.9)" stroke="#fba850" stroke-width="11"/><use href="#h_CLEC9A" transform="matrix(0.10650 0 0 -0.09510 636.5 238.9)" stroke="#e8461e" stroke-width="11"/><path d="M591.5 194.3V279.8H684.9" fill="none" stroke="#bdbbbb" stroke-width="0.9"/><line x1="589.5" y1="215.5" x2="591.5" y2="215.5" stroke="#bdbbbb" stroke-width="0.9"/><text x="586.9" y="219.2" font-size="10.8" text-anchor="end" fill="#231f20">25</text><line x1="589.5" y1="239.6" x2="591.5" y2="239.6" stroke="#bdbbbb" stroke-width="0.9"/><text x="586.9" y="243.3" font-size="10.8" text-anchor="end" fill="#231f20">0</text><line x1="589.5" y1="263.7" x2="591.5" y2="263.7" stroke="#bdbbbb" stroke-width="0.9"/><text x="586.9" y="267.4" font-size="10.8" text-anchor="end" fill="#231f20">-25</text><line x1="613.4" y1="279.8" x2="613.4" y2="281.8" stroke="#bdbbbb" stroke-width="0.9"/><text x="612.0" y="296.7" font-size="10.8" text-anchor="middle" fill="#231f20">-20</text><line x1="635.4" y1="279.8" x2="635.4" y2="281.8" stroke="#bdbbbb" stroke-width="0.9"/><text x="635.4" y="296.7" font-size="10.8" text-anchor="middle" fill="#231f20">0</text><line x1="657.4" y1="279.8" x2="657.4" y2="281.8" stroke="#bdbbbb" stroke-width="0.9"/><text x="657.4" y="296.7" font-size="10.8" text-anchor="middle" fill="#231f20">20</text><line x1="679.4" y1="279.8" x2="679.4" y2="281.8" stroke="#bdbbbb" stroke-width="0.9"/><text x="679.4" y="296.7" font-size="10.8" text-anchor="middle" fill="#231f20">40</text><text x="641.9" y="315.1" font-size="10.7" text-anchor="middle" fill="#231f20">tSNE_1</text><text transform="translate(568.5 240.6) rotate(-90)" font-size="9.9" text-anchor="middle" fill="#231f20">tSNE_2</text><text transform="matrix(0.88 0 0 1 636.0 182.3)" font-size="11.4" text-anchor="middle" fill="#231f20">CLEC9A</text><text transform="matrix(0.86 0 0 1 -0.6 352.7)" font-size="17.2" fill="#231f20">d</text><text x="95.8" y="354.5" font-size="10.6" text-anchor="middle" fill="#231f20">Pathway activity</text><rect x="30.50" y="360.90" width="15.59" height="9.72" fill="#f5a800" stroke="#a09c9c" stroke-width="0.6"/><rect x="46.09" y="360.90" width="15.59" height="9.72" fill="#3a9ad8" stroke="#a09c9c" stroke-width="0.6"/><rect x="61.67" y="360.90" width="15.59" height="9.72" fill="#3cbce0" stroke="#a09c9c" stroke-width="0.6"/><rect x="77.26" y="360.90" width="15.59" height="9.72" fill="#a8d840" stroke="#a09c9c" stroke-width="0.6"/><rect x="92.85" y="360.90" width="15.59" height="9.72" fill="#f5a800" stroke="#a09c9c" stroke-width="0.6"/><rect x="108.44" y="360.90" width="15.59" height="9.72" fill="#3ab0e0" stroke="#a09c9c" stroke-width="0.6"/><rect x="124.02" y="360.90" width="15.59" height="9.72" fill="#f5c000" stroke="#a09c9c" stroke-width="0.6"/><rect x="139.61" y="360.90" width="15.59" height="9.72" fill="#48c0d0" stroke="#a09c9c" stroke-width="0.6"/><rect x="30.50" y="370.62" width="15.59" height="9.72" fill="#f5d000" stroke="#a09c9c" stroke-width="0.6"/><rect x="46.09" y="370.62" width="15.59" height="9.72" fill="#48c0d8" stroke="#a09c9c" stroke-width="0.6"/><rect x="61.67" y="370.62" width="15.59" height="9.72" fill="#40b8e0" stroke="#a09c9c" stroke-width="0.6"/><rect x="77.26" y="370.62" width="15.59" height="9.72" fill="#80d080" stroke="#a09c9c" stroke-width="0.6"/><rect x="92.85" y="370.62" width="15.59" height="9.72" fill="#f5a000" stroke="#a09c9c" stroke-width="0.6"/><rect x="108.44" y="370.62" width="15.59" height="9.72" fill="#80d088" stroke="#a09c9c" stroke-width="0.6"/><rect x="124.02" y="370.62" width="15.59" height="9.72" fill="#f5a800" stroke="#a09c9c" stroke-width="0.6"/><rect x="139.61" y="370.62" width="15.59" height="9.72" fill="#3090d0" stroke="#a09c9c" stroke-width="0.6"/><rect x="30.50" y="380.35" width="15.59" height="9.72" fill="#f59800" stroke="#a09c9c" stroke-width="0.6"/><rect x="46.09" y="380.35" width="15.59" height="9.72" fill="#40b8e0" stroke="#a09c9c" stroke-width="0.6"/><rect x="61.67" y="380.35" width="15.59" height="9.72" fill="#a0d860" stroke="#a09c9c" stroke-width="0.6"/><rect x="77.26" y="380.35" width="15.59" height="9.72" fill="#f5e800" stroke="#a09c9c" stroke-width="0.6"/><rect x="92.85" y="380.35" width="15.59" height="9.72" fill="#c8e020" stroke="#a09c9c" stroke-width="0.6"/><rect x="108.44" y="380.35" width="15.59" height="9.72" fill="#50c8d0" stroke="#a09c9c" stroke-width="0.6"/><rect x="124.02" y="380.35" width="15.59" height="9.72" fill="#f0e800" stroke="#a09c9c" stroke-width="0.6"/><rect x="139.61" y="380.35" width="15.59" height="9.72" fill="#2860c0" stroke="#a09c9c" stroke-width="0.6"/><rect x="30.50" y="390.07" width="15.59" height="9.72" fill="#b0d840" stroke="#a09c9c" stroke-width="0.6"/><rect x="46.09" y="390.07" width="15.59" height="9.72" fill="#c8e020" stroke="#a09c9c" stroke-width="0.6"/><rect x="61.67" y="390.07" width="15.59" height="9.72" fill="#f5d000" stroke="#a09c9c" stroke-width="0.6"/><rect x="77.26" y="390.07" width="15.59" height="9.72" fill="#f5d800" stroke="#a09c9c" stroke-width="0.6"/><rect x="92.85" y="390.07" width="15.59" height="9.72" fill="#3890d8" stroke="#a09c9c" stroke-width="0.6"/><rect x="108.44" y="390.07" width="15.59" height="9.72" fill="#48c0d8" stroke="#a09c9c" stroke-width="0.6"/><rect x="124.02" y="390.07" width="15.59" height="9.72" fill="#3080d0" stroke="#a09c9c" stroke-width="0.6"/><rect x="139.61" y="390.07" width="15.59" height="9.72" fill="#f5b000" stroke="#a09c9c" stroke-width="0.6"/><rect x="30.50" y="399.79" width="15.59" height="9.72" fill="#c8e020" stroke="#a09c9c" stroke-width="0.6"/><rect x="46.09" y="399.79" width="15.59" height="9.72" fill="#d0e020" stroke="#a09c9c" stroke-width="0.6"/><rect x="61.67" y="399.79" width="15.59" height="9.72" fill="#d8e020" stroke="#a09c9c" stroke-width="0.6"/><rect x="77.26" y="399.79" width="15.59" height="9.72" fill="#f07010" stroke="#a09c9c" stroke-width="0.6"/><rect x="92.85" y="399.79" width="15.59" height="9.72" fill="#38a0d8" stroke="#a09c9c" stroke-width="0.6"/><rect x="108.44" y="399.79" width="15.59" height="9.72" fill="#3898d8" stroke="#a09c9c" stroke-width="0.6"/><rect x="124.02" y="399.79" width="15.59" height="9.72" fill="#38a0d8" stroke="#a09c9c" stroke-width="0.6"/><rect x="139.61" y="399.79" width="15.59" height="9.72" fill="#e0e800" stroke="#a09c9c" stroke-width="0.6"/><rect x="30.50" y="409.52" width="15.59" height="9.72" fill="#a8d850" stroke="#a09c9c" stroke-width="0.6"/><rect x="46.09" y="409.52" width="15.59" height="9.72" fill="#f0e800" stroke="#a09c9c" stroke-width="0.6"/><rect x="61.67" y="409.52" width="15.59" height="9.72" fill="#e8e800" stroke="#a09c9c" stroke-width="0.6"/><rect x="77.26" y="409.52" width="15.59" height="9.72" fill="#f07010" stroke="#a09c9c" stroke-width="0.6"/><rect x="92.85" y="409.52" width="15.59" height="9.72" fill="#50c8d0" stroke="#a09c9c" stroke-width="0.6"/><rect x="108.44" y="409.52" width="15.59" height="9.72" fill="#60c8c0" stroke="#a09c9c" stroke-width="0.6"/><rect x="124.02" y="409.52" width="15.59" height="9.72" fill="#80d090" stroke="#a09c9c" stroke-width="0.6"/><rect x="139.61" y="409.52" width="15.59" height="9.72" fill="#2868c0" stroke="#a09c9c" stroke-width="0.6"/><rect x="30.50" y="419.24" width="15.59" height="9.72" fill="#70d0a0" stroke="#a09c9c" stroke-width="0.6"/><rect x="46.09" y="419.24" width="15.59" height="9.72" fill="#f5b000" stroke="#a09c9c" stroke-width="0.6"/><rect x="61.67" y="419.24" width="15.59" height="9.72" fill="#e8e800" stroke="#a09c9c" stroke-width="0.6"/><rect x="77.26" y="419.24" width="15.59" height="9.72" fill="#f06800" stroke="#a09c9c" stroke-width="0.6"/><rect x="92.85" y="419.24" width="15.59" height="9.72" fill="#40b0e0" stroke="#a09c9c" stroke-width="0.6"/><rect x="108.44" y="419.24" width="15.59" height="9.72" fill="#40b8e0" stroke="#a09c9c" stroke-width="0.6"/><rect x="124.02" y="419.24" width="15.59" height="9.72" fill="#40b8e0" stroke="#a09c9c" stroke-width="0.6"/><rect x="139.61" y="419.24" width="15.59" height="9.72" fill="#40c0e0" stroke="#a09c9c" stroke-width="0.6"/><rect x="30.50" y="428.96" width="15.59" height="9.72" fill="#70d0a0" stroke="#a09c9c" stroke-width="0.6"/><rect x="46.09" y="428.96" width="15.59" height="9.72" fill="#f5a800" stroke="#a09c9c" stroke-width="0.6"/><rect x="61.67" y="428.96" width="15.59" height="9.72" fill="#e8e800" stroke="#a09c9c" stroke-width="0.6"/><rect x="77.26" y="428.96" width="15.59" height="9.72" fill="#f06800" stroke="#a09c9c" stroke-width="0.6"/><rect x="92.85" y="428.96" width="15.59" height="9.72" fill="#40b0e0" stroke="#a09c9c" stroke-width="0.6"/><rect x="108.44" y="428.96" width="15.59" height="9.72" fill="#48c0d8" stroke="#a09c9c" stroke-width="0.6"/><rect x="124.02" y="428.96" width="15.59" height="9.72" fill="#40b8e0" stroke="#a09c9c" stroke-width="0.6"/><rect x="139.61" y="428.96" width="15.59" height="9.72" fill="#40b8e0" stroke="#a09c9c" stroke-width="0.6"/><rect x="30.50" y="438.69" width="15.59" height="9.72" fill="#90d870" stroke="#a09c9c" stroke-width="0.6"/><rect x="46.09" y="438.69" width="15.59" height="9.72" fill="#f0e800" stroke="#a09c9c" stroke-width="0.6"/><rect x="61.67" y="438.69" width="15.59" height="9.72" fill="#e8e800" stroke="#a09c9c" stroke-width="0.6"/><rect x="77.26" y="438.69" width="15.59" height="9.72" fill="#f04000" stroke="#a09c9c" stroke-width="0.6"/><rect x="92.85" y="438.69" width="15.59" height="9.72" fill="#38a0d8" stroke="#a09c9c" stroke-width="0.6"/><rect x="108.44" y="438.69" width="15.59" height="9.72" fill="#40b8e0" stroke="#a09c9c" stroke-width="0.6"/><rect x="124.02" y="438.69" width="15.59" height="9.72" fill="#60c8b0" stroke="#a09c9c" stroke-width="0.6"/><rect x="139.61" y="438.69" width="15.59" height="9.72" fill="#40b8e0" stroke="#a09c9c" stroke-width="0.6"/><rect x="30.50" y="448.41" width="15.59" height="9.72" fill="#c8e020" stroke="#a09c9c" stroke-width="0.6"/><rect x="46.09" y="448.41" width="15.59" height="9.72" fill="#68d0a8" stroke="#a09c9c" stroke-width="0.6"/><rect x="61.67" y="448.41" width="15.59" height="9.72" fill="#50c0d0" stroke="#a09c9c" stroke-width="0.6"/><rect x="77.26" y="448.41" width="15.59" height="9.72" fill="#f03000" stroke="#a09c9c" stroke-width="0.6"/><rect x="92.85" y="448.41" width="15.59" height="9.72" fill="#a8d850" stroke="#a09c9c" stroke-width="0.6"/><rect x="108.44" y="448.41" width="15.59" height="9.72" fill="#40a8e0" stroke="#a09c9c" stroke-width="0.6"/><rect x="124.02" y="448.41" width="15.59" height="9.72" fill="#e8e800" stroke="#a09c9c" stroke-width="0.6"/><rect x="139.61" y="448.41" width="15.59" height="9.72" fill="#38a0d8" stroke="#a09c9c" stroke-width="0.6"/><rect x="30.50" y="458.14" width="15.59" height="9.72" fill="#a8d850" stroke="#a09c9c" stroke-width="0.6"/><rect x="46.09" y="458.14" width="15.59" height="9.72" fill="#70d0a0" stroke="#a09c9c" stroke-width="0.6"/><rect x="61.67" y="458.14" width="15.59" height="9.72" fill="#70d0a0" stroke="#a09c9c" stroke-width="0.6"/><rect x="77.26" y="458.14" width="15.59" height="9.72" fill="#3090d0" stroke="#a09c9c" stroke-width="0.6"/><rect x="92.85" y="458.14" width="15.59" height="9.72" fill="#f07810" stroke="#a09c9c" stroke-width="0.6"/><rect x="108.44" y="458.14" width="15.59" height="9.72" fill="#d8e800" stroke="#a09c9c" stroke-width="0.6"/><rect x="124.02" y="458.14" width="15.59" height="9.72" fill="#f5c000" stroke="#a09c9c" stroke-width="0.6"/><rect x="139.61" y="458.14" width="15.59" height="9.72" fill="#3898d8" stroke="#a09c9c" stroke-width="0.6"/><rect x="30.50" y="467.86" width="15.59" height="9.72" fill="#90d870" stroke="#a09c9c" stroke-width="0.6"/><rect x="46.09" y="467.86" width="15.59" height="9.72" fill="#70d0a8" stroke="#a09c9c" stroke-width="0.6"/><rect x="61.67" y="467.86" width="15.59" height="9.72" fill="#80d090" stroke="#a09c9c" stroke-width="0.6"/><rect x="77.26" y="467.86" width="15.59" height="9.72" fill="#3090d0" stroke="#a09c9c" stroke-width="0.6"/><rect x="92.85" y="467.86" width="15.59" height="9.72" fill="#f59000" stroke="#a09c9c" stroke-width="0.6"/><rect x="108.44" y="467.86" width="15.59" height="9.72" fill="#f5b000" stroke="#a09c9c" stroke-width="0.6"/><rect x="124.02" y="467.86" width="15.59" height="9.72" fill="#e0e800" stroke="#a09c9c" stroke-width="0.6"/><rect x="139.61" y="467.86" width="15.59" height="9.72" fill="#3090d0" stroke="#a09c9c" stroke-width="0.6"/><rect x="30.50" y="477.58" width="15.59" height="9.72" fill="#a8d850" stroke="#a09c9c" stroke-width="0.6"/><rect x="46.09" y="477.58" width="15.59" height="9.72" fill="#70d0a0" stroke="#a09c9c" stroke-width="0.6"/><rect x="61.67" y="477.58" width="15.59" height="9.72" fill="#40b0e0" stroke="#a09c9c" stroke-width="0.6"/><rect x="77.26" y="477.58" width="15.59" height="9.72" fill="#40c0e0" stroke="#a09c9c" stroke-width="0.6"/><rect x="92.85" y="477.58" width="15.59" height="9.72" fill="#f5b800" stroke="#a09c9c" stroke-width="0.6"/><rect x="108.44" y="477.58" width="15.59" height="9.72" fill="#f5b000" stroke="#a09c9c" stroke-width="0.6"/><rect x="124.02" y="477.58" width="15.59" height="9.72" fill="#f5b000" stroke="#a09c9c" stroke-width="0.6"/><rect x="139.61" y="477.58" width="15.59" height="9.72" fill="#3080d0" stroke="#a09c9c" stroke-width="0.6"/><rect x="30.50" y="487.31" width="15.59" height="9.72" fill="#a8d850" stroke="#a09c9c" stroke-width="0.6"/><rect x="46.09" y="487.31" width="15.59" height="9.72" fill="#78d0a0" stroke="#a09c9c" stroke-width="0.6"/><rect x="61.67" y="487.31" width="15.59" height="9.72" fill="#80d090" stroke="#a09c9c" stroke-width="0.6"/><rect x="77.26" y="487.31" width="15.59" height="9.72" fill="#2870c8" stroke="#a09c9c" stroke-width="0.6"/><rect x="92.85" y="487.31" width="15.59" height="9.72" fill="#f0e800" stroke="#a09c9c" stroke-width="0.6"/><rect x="108.44" y="487.31" width="15.59" height="9.72" fill="#c8e020" stroke="#a09c9c" stroke-width="0.6"/><rect x="124.02" y="487.31" width="15.59" height="9.72" fill="#40c0e0" stroke="#a09c9c" stroke-width="0.6"/><rect x="139.61" y="487.31" width="15.59" height="9.72" fill="#f05000" stroke="#a09c9c" stroke-width="0.6"/><rect x="30.50" y="497.03" width="15.59" height="9.72" fill="#a0d860" stroke="#a09c9c" stroke-width="0.6"/><rect x="46.09" y="497.03" width="15.59" height="9.72" fill="#80d090" stroke="#a09c9c" stroke-width="0.6"/><rect x="61.67" y="497.03" width="15.59" height="9.72" fill="#80d090" stroke="#a09c9c" stroke-width="0.6"/><rect x="77.26" y="497.03" width="15.59" height="9.72" fill="#3080d0" stroke="#a09c9c" stroke-width="0.6"/><rect x="92.85" y="497.03" width="15.59" height="9.72" fill="#e0e800" stroke="#a09c9c" stroke-width="0.6"/><rect x="108.44" y="497.03" width="15.59" height="9.72" fill="#c8e020" stroke="#a09c9c" stroke-width="0.6"/><rect x="124.02" y="497.03" width="15.59" height="9.72" fill="#40a8e0" stroke="#a09c9c" stroke-width="0.6"/><rect x="139.61" y="497.03" width="15.59" height="9.72" fill="#f03000" stroke="#a09c9c" stroke-width="0.6"/><rect x="30.50" y="506.75" width="15.59" height="9.72" fill="#90d870" stroke="#a09c9c" stroke-width="0.6"/><rect x="46.09" y="506.75" width="15.59" height="9.72" fill="#90d870" stroke="#a09c9c" stroke-width="0.6"/><rect x="61.67" y="506.75" width="15.59" height="9.72" fill="#e8e800" stroke="#a09c9c" stroke-width="0.6"/><rect x="77.26" y="506.75" width="15.59" height="9.72" fill="#80d090" stroke="#a09c9c" stroke-width="0.6"/><rect x="92.85" y="506.75" width="15.59" height="9.72" fill="#70d0a0" stroke="#a09c9c" stroke-width="0.6"/><rect x="108.44" y="506.75" width="15.59" height="9.72" fill="#50c8d0" stroke="#a09c9c" stroke-width="0.6"/><rect x="124.02" y="506.75" width="15.59" height="9.72" fill="#3898d8" stroke="#a09c9c" stroke-width="0.6"/><rect x="139.61" y="506.75" width="15.59" height="9.72" fill="#f02000" stroke="#a09c9c" stroke-width="0.6"/><rect x="30.50" y="516.48" width="15.59" height="9.72" fill="#90d870" stroke="#a09c9c" stroke-width="0.6"/><rect x="46.09" y="516.48" width="15.59" height="9.72" fill="#78d0a0" stroke="#a09c9c" stroke-width="0.6"/><rect x="61.67" y="516.48" width="15.59" height="9.72" fill="#e8e800" stroke="#a09c9c" stroke-width="0.6"/><rect x="77.26" y="516.48" width="15.59" height="9.72" fill="#70d0a8" stroke="#a09c9c" stroke-width="0.6"/><rect x="92.85" y="516.48" width="15.59" height="9.72" fill="#80d090" stroke="#a09c9c" stroke-width="0.6"/><rect x="108.44" y="516.48" width="15.59" height="9.72" fill="#70d0a0" stroke="#a09c9c" stroke-width="0.6"/><rect x="124.02" y="516.48" width="15.59" height="9.72" fill="#38a0d8" stroke="#a09c9c" stroke-width="0.6"/><rect x="139.61" y="516.48" width="15.59" height="9.72" fill="#f02000" stroke="#a09c9c" stroke-width="0.6"/><text x="159.4" y="369.1" font-size="9.7" fill="#231f20" xml:space="preserve">CD40 Pathway</text><text x="159.4" y="378.8" font-size="9.7" fill="#231f20" xml:space="preserve">TNFR2 Pathway</text><text x="159.4" y="388.5" font-size="9.7" fill="#231f20" xml:space="preserve">IL23 Pathway</text><text x="159.4" y="398.2" font-size="9.7" fill="#231f20" xml:space="preserve">PD1 Signaling</text><text x="159.4" y="408.0" font-size="9.7" fill="#231f20" xml:space="preserve">CTLA4 Pathway</text><text x="159.4" y="417.7" font-size="9.7" fill="#231f20" xml:space="preserve">Iron Uptake and Transport</text><text x="159.4" y="427.4" font-size="9.7" fill="#231f20" xml:space="preserve">HDL Mediated Lipid Transport</text><text x="159.4" y="437.1" font-size="9.7" fill="#231f20" xml:space="preserve">Lipoprotein Metabolism</text><text x="159.4" y="446.9" font-size="9.7" fill="#231f20" xml:space="preserve">VEGFR Pathway</text><text x="159.4" y="456.6" font-size="9.7" fill="#231f20" xml:space="preserve">HIF1 Pathway</text><text x="159.4" y="466.3" font-size="9.7" fill="#231f20" xml:space="preserve">Activated TLR4 Signalling</text><text x="159.4" y="476.0" font-size="9.7" fill="#231f20" xml:space="preserve">IL8-CXCR1 Pathway</text><text x="159.4" y="485.7" font-size="9.7" fill="#231f20" xml:space="preserve">Pecam1 Interactions</text><text x="159.4" y="495.5" font-size="9.7" fill="#231f20" xml:space="preserve">Metabolism of RNA</text><text x="159.4" y="505.2" font-size="9.7" fill="#231f20" xml:space="preserve">Metabolism of Proteins</text><text x="159.4" y="514.9" font-size="9.7" fill="#231f20" xml:space="preserve">DNA Replication</text><text x="159.4" y="524.6" font-size="9.7" fill="#231f20" xml:space="preserve">Regulation of  Apoptosis</text><text transform="translate(41.8 532.5) rotate(-45)" font-size="8.8" text-anchor="end" fill="#231f20">Mø_c1_IL1B</text><text transform="translate(57.4 532.5) rotate(-45)" font-size="8.8" text-anchor="end" fill="#231f20">Mø_c2_VSIG4</text><text transform="translate(73.0 532.5) rotate(-45)" font-size="8.8" text-anchor="end" fill="#231f20">Mø_c3_FABP5</text><text transform="translate(88.6 532.5) rotate(-45)" font-size="8.8" text-anchor="end" fill="#231f20">Mø_c4_CCL18</text><text transform="translate(104.1 532.5) rotate(-45)" font-size="8.8" text-anchor="end" fill="#231f20">Mø_c5_S100A8</text><text transform="translate(119.7 532.5) rotate(-45)" font-size="8.8" text-anchor="end" fill="#231f20">Mø_c6_S100A12</text><text transform="translate(135.3 532.5) rotate(-45)" font-size="8.8" text-anchor="end" fill="#231f20">Mø_c7_AQP9</text><text transform="translate(150.9 532.5) rotate(-45)" font-size="8.8" text-anchor="end" fill="#231f20">DC_c1_CLEC9A</text><defs><linearGradient id="jet" x1="0" y1="0" x2="0" y2="1"><stop offset="0" stop-color="#e00000"/><stop offset="0.1" stop-color="#f03800"/><stop offset="0.22" stop-color="#f59000"/><stop offset="0.34" stop-color="#e8e000"/><stop offset="0.44" stop-color="#98d040"/><stop offset="0.54" stop-color="#50c080"/><stop offset="0.64" stop-color="#28b8d8"/><stop offset="0.8" stop-color="#1870c0"/><stop offset="1" stop-color="#00108c"/></linearGradient></defs><rect x="305.1" y="372.2" width="7.7" height="100.8" fill="url(#jet)"/><text x="317.4" y="382.7" font-size="9.5" fill="#231f20">0.6</text><text x="317.4" y="400.9" font-size="9.5" fill="#231f20">0.4</text><text x="317.4" y="419.4" font-size="9.5" fill="#231f20">0.2</text><text x="317.4" y="437.7" font-size="9.5" fill="#231f20">-0.2</text><text x="317.4" y="455.3" font-size="9.5" fill="#231f20">-0.4</text><text x="317.4" y="473.0" font-size="9.5" fill="#231f20">-0.6</text><text transform="matrix(0.86 0 0 1 355.3 349.4)" font-size="17.2" fill="#231f20">e</text><defs><clipPath id="ecl"><rect x="356.2" y="362.5" width="245.8" height="190.3"/></clipPath><clipPath id="ecl1"><rect x="603.6" y="362.5" width="81.4" height="62.3"/></clipPath><clipPath id="ecl2"><rect x="603.6" y="426.4" width="81.4" height="61.9"/></clipPath><clipPath id="ecl3"><rect x="603.6" y="489.9" width="81.4" height="62.9"/></clipPath></defs><rect x="356.2" y="362.5" width="245.8" height="190.3" fill="#0e0309"/><defs><filter id="eblur" x="0" y="0" width="1" height="1"><feGaussianBlur stdDeviation="0.5"/></filter></defs><g clip-path="url(#ecl)"><g filter="url(#eblur)"><path d="M509.1 432.7l0.0 0.0M549.9 490.1l0.0 0.0M569.4 387.0l0.0 0.0M404.3 374.3l0.0 0.0M587.5 427.3l0.0 0.0M478.7 377.5l0.0 0.0M525.9 504.2l0.0 0.0M548.6 447.7l0.0 0.0M529.6 515.3l0.0 0.0M447.5 379.8l0.0 0.0M479.0 388.0l0.0 0.0M569.3 508.3l0.0 0.0M446.0 391.7l0.0 0.0M586.3 514.7l0.0 0.0M484.9 438.1l0.0 0.0M470.9 499.1l0.0 0.0M498.3 362.9l0.0 0.0M533.7 492.5l0.0 0.0M500.0 421.2l0.0 0.0M575.1 494.9l0.0 0.0M586.3 523.7l0.0 0.0M587.6 509.5l0.0 0.0M530.4 500.0l0.0 0.0M554.3 435.4l0.0 0.0M582.3 408.7l0.0 0.0M597.3 534.7l0.0 0.0M453.5 422.0l0.0 0.0M470.3 363.8l0.0 0.0M420.9 395.0l0.0 0.0M524.8 470.6l0.0 0.0M527.6 387.8l0.0 0.0M541.1 417.3l0.0 0.0M528.6 386.6l0.0 0.0M498.7 477.7l0.0 0.0M580.9 479.0l0.0 0.0M552.7 404.6l0.0 0.0M488.6 404.1l0.0 0.0M512.4 472.9l0.0 0.0M558.2 380.6l0.0 0.0M472.1 376.8l0.0 0.0M552.8 470.9l0.0 0.0M488.6 535.7l0.0 0.0M429.2 374.3l0.0 0.0M472.8 474.1l0.0 0.0M502.9 383.4l0.0 0.0M463.5 479.2l0.0 0.0M552.5 433.6l0.0 0.0M491.6 367.1l0.0 0.0M555.9 368.4l0.0 0.0M563.4 430.1l0.0 0.0M524.6 466.1l0.0 0.0M475.5 491.8l0.0 0.0M594.3 533.8l0.0 0.0M430.6 439.5l0.0 0.0M470.6 471.9l0.0 0.0M421.5 391.3l0.0 0.0M547.3 540.5l0.0 0.0M533.7 526.1l0.0 0.0M504.4 479.6l0.0 0.0M458.7 453.0l0.0 0.0M588.3 410.3l0.0 0.0M581.5 487.1l0.0 0.0M459.0 392.2l0.0 0.0M515.6 513.1l0.0 0.0M525.9 443.3l0.0 0.0M517.7 385.7l0.0 0.0M539.9 389.6l0.0 0.0M527.7 542.4l0.0 0.0M538.4 527.4l0.0 0.0M540.2 490.3l0.0 0.0M474.8 411.5l0.0 0.0M553.9 446.3l0.0 0.0M459.3 426.8l0.0 0.0M539.7 406.8l0.0 0.0M442.5 400.1l0.0 0.0M475.1 445.5l0.0 0.0M546.7 541.2l0.0 0.0M516.6 417.5l0.0 0.0M472.4 537.6l0.0 0.0M587.1 536.9l0.0 0.0M504.7 373.0l0.0 0.0M552.3 447.5l0.0 0.0M530.2 417.3l0.0 0.0M517.0 488.3l0.0 0.0M448.9 391.4l0.0 0.0M597.0 519.2l0.0 0.0M587.4 425.4l0.0 0.0M519.3 466.3l0.0 0.0M512.3 478.6l0.0 0.0M481.8 381.8l0.0 0.0M580.3 423.6l0.0 0.0M511.2 519.0l0.0 0.0M557.0 373.7l0.0 0.0M454.7 438.3l0.0 0.0M599.5 514.0l0.0 0.0M538.7 423.5l0.0 0.0M493.9 422.9l0.0 0.0M574.2 508.0l0.0 0.0M562.2 530.2l0.0 0.0M472.2 543.7l0.0 0.0M560.4 395.7l0.0 0.0M509.4 490.8l0.0 0.0M554.4 521.9l0.0 0.0M450.3 397.6l0.0 0.0M596.6 525.9l0.0 0.0M499.0 515.2l0.0 0.0M563.7 394.1l0.0 0.0M493.4 512.5l0.0 0.0M471.2 512.4l0.0 0.0M593.0 450.6l0.0 0.0M483.8 400.4l0.0 0.0M519.3 497.9l0.0 0.0M419.3 380.4l0.0 0.0M523.5 504.8l0.0 0.0M581.1 423.6l0.0 0.0M419.3 386.1l0.0 0.0M519.8 430.0l0.0 0.0M498.1 443.5l0.0 0.0M533.8 408.6l0.0 0.0M511.4 467.8l0.0 0.0M532.5 451.7l0.0 0.0M522.5 529.6l0.0 0.0M544.4 550.9l0.0 0.0M548.4 490.9l0.0 0.0M502.8 373.9l0.0 0.0M595.4 450.5l0.0 0.0M562.7 449.6l0.0 0.0M505.0 523.1l0.0 0.0M449.9 452.7l0.0 0.0M500.0 406.2l0.0 0.0M495.7 479.7l0.0 0.0M541.2 537.0l0.0 0.0M592.9 416.2l0.0 0.0M428.3 389.5l0.0 0.0M563.7 546.6l0.0 0.0M501.4 541.7l0.0 0.0M470.4 529.1l0.0 0.0M524.1 363.0l0.0 0.0M577.5 472.3l0.0 0.0M528.8 381.4l0.0 0.0M589.0 533.0l0.0 0.0M567.2 478.8l0.0 0.0M563.3 438.2l0.0 0.0M477.2 520.4l0.0 0.0M519.5 523.8l0.0 0.0M564.6 402.6l0.0 0.0M576.3 476.9l0.0 0.0M578.3 425.2l0.0 0.0M406.4 374.2l0.0 0.0M549.6 413.2l0.0 0.0M533.7 513.1l0.0 0.0M509.4 432.5l0.0 0.0M562.4 417.5l0.0 0.0M526.9 482.0l0.0 0.0M523.8 408.8l0.0 0.0M520.4 398.2l0.0 0.0M468.3 489.0l0.0 0.0M551.9 535.5l0.0 0.0M583.1 468.5l0.0 0.0M486.9 529.6l0.0 0.0M462.0 427.2l0.0 0.0M451.9 383.8l0.0 0.0M574.5 406.5l0.0 0.0M546.8 414.2l0.0 0.0M488.1 429.0l0.0 0.0M455.2 411.8l0.0 0.0M527.9 507.2l0.0 0.0M505.9 485.5l0.0 0.0M572.6 365.4l0.0 0.0M570.0 546.1l0.0 0.0" stroke="#4a0c1c" stroke-width="3.5" stroke-linecap="round" fill="none" opacity="0.7"/><path d="M519.1 414.9l0.0 0.0M500.7 421.2l0.0 0.0M570.1 483.6l0.0 0.0M492.7 483.7l0.0 0.0M514.4 429.5l0.0 0.0M452.2 457.2l0.0 0.0M505.1 477.2l0.0 0.0M521.7 461.1l0.0 0.0M596.9 380.8l0.0 0.0M491.2 368.0l0.0 0.0M577.9 506.3l0.0 0.0M489.3 417.3l0.0 0.0M502.2 490.6l0.0 0.0M574.4 432.1l0.0 0.0M579.7 415.9l0.0 0.0M523.2 530.5l0.0 0.0M507.1 396.6l0.0 0.0M547.9 442.7l0.0 0.0M523.8 435.8l0.0 0.0M555.0 529.5l0.0 0.0M507.9 482.2l0.0 0.0M505.7 460.0l0.0 0.0M469.6 452.9l0.0 0.0M502.4 549.1l0.0 0.0M576.9 546.0l0.0 0.0M535.1 544.7l0.0 0.0M523.6 514.2l0.0 0.0M473.5 371.2l0.0 0.0M549.5 534.2l0.0 0.0M597.2 447.9l0.0 0.0M481.9 516.7l0.0 0.0M590.9 493.1l0.0 0.0M427.1 382.9l0.0 0.0M586.2 392.8l0.0 0.0M465.1 376.6l0.0 0.0M570.3 498.8l0.0 0.0M523.9 378.5l0.0 0.0M577.8 384.1l0.0 0.0M431.4 430.8l0.0 0.0M547.6 540.2l0.0 0.0M467.3 483.0l0.0 0.0M539.7 470.0l0.0 0.0M495.8 490.0l0.0 0.0M525.4 481.1l0.0 0.0M511.3 447.2l0.0 0.0M587.7 453.4l0.0 0.0M523.4 444.0l0.0 0.0M601.0 371.5l0.0 0.0M489.8 427.7l0.0 0.0M458.0 438.8l0.0 0.0M427.6 387.7l0.0 0.0M589.6 444.1l0.0 0.0M556.4 412.8l0.0 0.0M497.9 407.5l0.0 0.0M551.6 384.2l0.0 0.0M558.0 440.0l0.0 0.0M586.8 366.1l0.0 0.0M453.1 362.6l0.0 0.0M517.1 473.6l0.0 0.0M502.7 542.4l0.0 0.0M545.1 365.7l0.0 0.0M544.0 521.2l0.0 0.0M583.2 407.7l0.0 0.0M566.4 497.9l0.0 0.0M539.8 548.4l0.0 0.0M515.5 472.0l0.0 0.0M459.1 495.8l0.0 0.0M499.3 419.9l0.0 0.0M474.5 433.1l0.0 0.0M440.7 372.3l0.0 0.0M472.1 408.1l0.0 0.0M536.1 446.3l0.0 0.0M580.9 502.7l0.0 0.0M551.4 552.0l0.0 0.0M419.5 377.0l0.0 0.0M558.0 497.4l0.0 0.0M558.4 404.5l0.0 0.0M565.5 450.6l0.0 0.0M469.8 523.8l0.0 0.0M532.3 386.1l0.0 0.0M502.7 487.1l0.0 0.0M481.5 471.2l0.0 0.0M511.2 469.8l0.0 0.0M522.1 405.0l0.0 0.0M554.0 388.4l0.0 0.0M557.4 385.5l0.0 0.0M544.1 366.3l0.0 0.0M498.3 427.3l0.0 0.0M599.0 475.2l0.0 0.0M441.8 458.9l0.0 0.0M535.5 551.2l0.0 0.0M465.9 510.7l0.0 0.0M467.6 403.6l0.0 0.0M457.9 418.9l0.0 0.0M542.2 419.3l0.0 0.0M600.7 471.0l0.0 0.0M559.2 376.3l0.0 0.0M478.3 371.3l0.0 0.0M496.4 506.6l0.0 0.0M452.2 493.1l0.0 0.0M541.3 449.1l0.0 0.0M487.5 477.5l0.0 0.0M511.1 467.8l0.0 0.0M467.5 381.2l0.0 0.0M497.0 396.4l0.0 0.0M538.3 406.8l0.0 0.0M410.1 375.0l0.0 0.0M543.0 401.5l0.0 0.0M496.5 419.9l0.0 0.0M439.8 451.7l0.0 0.0M438.0 375.2l0.0 0.0M543.7 463.8l0.0 0.0M581.5 462.1l0.0 0.0M554.9 401.3l0.0 0.0M547.9 423.2l0.0 0.0M519.6 531.6l0.0 0.0M438.2 418.6l0.0 0.0M543.1 448.3l0.0 0.0M486.8 496.2l0.0 0.0M591.1 488.3l0.0 0.0M535.5 439.2l0.0 0.0M500.5 545.2l0.0 0.0M543.9 451.7l0.0 0.0M557.8 490.2l0.0 0.0M590.4 393.2l0.0 0.0M515.7 473.4l0.0 0.0M551.2 488.7l0.0 0.0M590.5 468.9l0.0 0.0M535.7 540.3l0.0 0.0M526.5 431.0l0.0 0.0M440.0 379.7l0.0 0.0M503.5 411.3l0.0 0.0M519.5 402.9l0.0 0.0M575.6 477.7l0.0 0.0M523.1 487.7l0.0 0.0M556.1 474.9l0.0 0.0M530.4 484.4l0.0 0.0M444.3 474.6l0.0 0.0M587.3 527.8l0.0 0.0M464.5 481.0l0.0 0.0M583.0 373.1l0.0 0.0M468.0 443.7l0.0 0.0M563.4 521.2l0.0 0.0M487.2 484.5l0.0 0.0M532.6 421.4l0.0 0.0" stroke="#4a0c1c" stroke-width="3.0" stroke-linecap="round" fill="none" opacity="0.7"/><path d="M557.0 467.0l0.0 0.0M424.3 378.3l0.0 0.0M526.4 511.1l0.0 0.0M433.7 437.7l0.0 0.0M450.8 391.7l0.0 0.0M572.8 383.1l0.0 0.0M455.9 502.8l0.0 0.0M581.1 432.0l0.0 0.0M578.0 528.1l0.0 0.0M483.7 533.8l0.0 0.0M464.9 403.4l0.0 0.0M542.5 497.0l0.0 0.0M561.1 467.8l0.0 0.0M480.1 433.3l0.0 0.0M522.5 452.8l0.0 0.0M582.7 490.0l0.0 0.0M576.3 445.6l0.0 0.0M531.1 480.5l0.0 0.0M508.4 414.4l0.0 0.0M538.6 550.8l0.0 0.0M541.1 536.5l0.0 0.0M495.2 470.1l0.0 0.0M496.3 385.8l0.0 0.0M536.1 483.2l0.0 0.0M459.4 412.6l0.0 0.0M584.6 403.7l0.0 0.0M494.1 435.3l0.0 0.0M528.7 548.7l0.0 0.0M531.5 510.3l0.0 0.0M432.2 426.9l0.0 0.0M440.3 397.8l0.0 0.0M595.9 398.6l0.0 0.0M468.6 368.0l0.0 0.0M542.8 492.9l0.0 0.0M592.5 367.7l0.0 0.0M434.5 410.4l0.0 0.0M434.3 415.9l0.0 0.0M508.6 508.6l0.0 0.0M467.0 382.3l0.0 0.0M586.0 383.4l0.0 0.0M483.3 429.5l0.0 0.0M529.7 393.5l0.0 0.0M471.3 459.2l0.0 0.0M446.3 378.0l0.0 0.0M427.2 414.1l0.0 0.0M598.5 471.1l0.0 0.0M497.5 438.5l0.0 0.0M501.6 394.6l0.0 0.0M524.2 410.9l0.0 0.0M503.9 535.7l0.0 0.0M554.1 435.4l0.0 0.0M535.5 445.8l0.0 0.0M528.3 375.3l0.0 0.0M527.2 389.2l0.0 0.0M432.3 435.8l0.0 0.0M559.0 504.1l0.0 0.0M491.8 415.2l0.0 0.0M538.8 527.5l0.0 0.0M493.9 546.2l0.0 0.0M600.3 428.4l0.0 0.0M557.5 469.6l0.0 0.0M483.7 492.5l0.0 0.0M596.6 407.5l0.0 0.0M522.0 516.5l0.0 0.0M493.1 419.1l0.0 0.0M483.0 384.4l0.0 0.0M479.8 513.5l0.0 0.0M586.0 497.8l0.0 0.0M595.2 371.9l0.0 0.0M470.3 461.8l0.0 0.0M542.7 486.2l0.0 0.0M454.5 421.8l0.0 0.0M593.7 472.5l0.0 0.0M492.9 460.6l0.0 0.0M516.1 371.1l0.0 0.0M474.6 522.3l0.0 0.0" stroke="#4a0c1c" stroke-width="4.5" stroke-linecap="round" fill="none" opacity="0.7"/><path d="M406.5 467.9l0.0 0.0M402.9 380.2l0.0 0.0M393.0 481.7l0.0 0.0M373.8 372.7l0.0 0.0M466.6 546.6l0.0 0.0M395.5 540.9l0.0 0.0M373.6 491.6l0.0 0.0M386.3 547.8l0.0 0.0M381.8 436.5l0.0 0.0M380.2 416.8l0.0 0.0M436.0 471.9l0.0 0.0M382.7 447.8l0.0 0.0M367.4 531.6l0.0 0.0M365.0 375.4l0.0 0.0M364.3 412.5l0.0 0.0M386.2 371.1l0.0 0.0M425.5 503.7l0.0 0.0M376.7 453.7l0.0 0.0M376.3 406.2l0.0 0.0M410.8 475.9l0.0 0.0M422.4 461.6l0.0 0.0M398.0 505.0l0.0 0.0M373.0 431.2l0.0 0.0M458.6 542.1l0.0 0.0M363.3 388.6l0.0 0.0M450.8 528.1l0.0 0.0M379.2 457.6l0.0 0.0M383.9 411.0l0.0 0.0M412.4 540.6l0.0 0.0M374.6 503.8l0.0 0.0M384.4 485.5l0.0 0.0M369.0 536.9l0.0 0.0M374.2 387.6l0.0 0.0M372.9 408.9l0.0 0.0M365.4 527.6l0.0 0.0M385.0 443.6l0.0 0.0M429.1 518.4l0.0 0.0M390.1 485.3l0.0 0.0M419.7 498.0l0.0 0.0M361.0 399.0l0.0 0.0M389.3 483.5l0.0 0.0M408.4 512.2l0.0 0.0M445.4 549.4l0.0 0.0M401.7 434.4l0.0 0.0M449.6 512.4l0.0 0.0M369.2 449.3l0.0 0.0M375.0 498.0l0.0 0.0M470.6 543.8l0.0 0.0M392.0 375.8l0.0 0.0M375.1 432.8l0.0 0.0M370.4 462.4l0.0 0.0M369.5 386.9l0.0 0.0M385.5 435.6l0.0 0.0M369.1 392.3l0.0 0.0M358.4 456.1l0.0 0.0M449.1 491.1l0.0 0.0M441.3 530.0l0.0 0.0M364.3 376.8l0.0 0.0" stroke="#3a0610" stroke-width="2.0" stroke-linecap="round" fill="none" opacity="0.7"/><path d="M501.6 407.3l0.0 0.0M461.9 390.6l0.0 0.0M470.8 386.7l0.0 0.0M576.4 367.6l0.0 0.0M534.9 456.4l0.0 0.0M455.5 409.1l0.0 0.0M538.5 466.4l0.0 0.0M549.5 532.8l0.0 0.0M593.0 535.2l0.0 0.0M532.8 515.6l0.0 0.0M509.2 430.5l0.0 0.0M552.7 511.7l0.0 0.0M514.7 427.2l0.0 0.0M468.0 444.0l0.0 0.0M584.6 439.9l0.0 0.0M501.8 463.4l0.0 0.0M492.4 481.3l0.0 0.0M591.5 430.0l0.0 0.0M539.5 541.9l0.0 0.0M464.0 460.2l0.0 0.0M417.0 366.5l0.0 0.0M497.6 454.4l0.0 0.0M486.5 475.5l0.0 0.0M521.1 370.4l0.0 0.0M584.0 428.7l0.0 0.0M492.1 390.0l0.0 0.0M540.4 544.7l0.0 0.0M587.5 483.6l0.0 0.0M543.0 401.0l0.0 0.0M431.6 428.3l0.0 0.0M596.5 474.3l0.0 0.0M441.5 429.0l0.0 0.0M530.1 403.2l0.0 0.0M563.1 413.4l0.0 0.0M442.4 437.6l0.0 0.0M554.8 458.0l0.0 0.0M573.4 409.3l0.0 0.0M599.9 406.7l0.0 0.0M498.0 460.2l0.0 0.0M491.5 426.6l0.0 0.0M429.4 440.0l0.0 0.0M484.3 537.1l0.0 0.0M522.7 533.6l0.0 0.0M601.6 546.8l0.0 0.0M554.0 444.0l0.0 0.0M578.0 419.6l0.0 0.0M541.3 503.6l0.0 0.0M568.5 440.4l0.0 0.0M536.4 427.4l0.0 0.0M475.8 520.7l0.0 0.0M573.6 500.8l0.0 0.0M437.4 401.2l0.0 0.0M523.0 380.2l0.0 0.0M499.1 462.9l0.0 0.0M600.8 397.3l0.0 0.0M480.5 483.5l0.0 0.0M440.5 430.0l0.0 0.0M534.8 407.7l0.0 0.0M459.3 407.7l0.0 0.0M424.7 393.5l0.0 0.0M543.3 524.7l0.0 0.0M545.5 450.2l0.0 0.0M447.2 437.4l0.0 0.0M516.4 491.9l0.0 0.0M549.0 552.1l0.0 0.0M568.0 547.6l0.0 0.0M504.3 392.1l0.0 0.0M561.3 430.0l0.0 0.0M472.9 447.8l0.0 0.0M591.6 506.0l0.0 0.0M586.2 520.9l0.0 0.0M458.5 445.4l0.0 0.0M404.8 371.2l0.0 0.0M492.8 509.9l0.0 0.0M456.4 384.7l0.0 0.0M588.8 412.5l0.0 0.0M468.1 490.7l0.0 0.0M577.9 513.9l0.0 0.0M509.9 504.7l0.0 0.0M467.0 425.2l0.0 0.0M483.4 499.5l0.0 0.0M473.8 523.0l0.0 0.0M527.2 479.7l0.0 0.0M517.3 524.8l0.0 0.0M551.3 488.4l0.0 0.0M580.0 441.1l0.0 0.0M487.8 401.3l0.0 0.0M462.7 493.6l0.0 0.0M518.5 439.5l0.0 0.0M530.2 441.6l0.0 0.0M537.6 395.3l0.0 0.0M581.5 493.4l0.0 0.0M494.4 508.4l0.0 0.0M438.1 375.0l0.0 0.0M557.0 552.5l0.0 0.0M485.1 485.1l0.0 0.0M581.1 394.0l0.0 0.0M533.5 371.4l0.0 0.0M579.6 531.1l0.0 0.0M566.1 461.9l0.0 0.0M487.0 518.2l0.0 0.0M551.5 379.4l0.0 0.0M494.4 491.6l0.0 0.0M520.8 516.3l0.0 0.0M475.1 447.8l0.0 0.0M517.1 547.7l0.0 0.0M486.3 414.3l0.0 0.0M420.1 368.0l0.0 0.0M540.1 450.8l0.0 0.0M595.9 397.9l0.0 0.0M469.7 465.8l0.0 0.0M452.7 384.3l0.0 0.0M409.8 389.1l0.0 0.0M586.6 436.8l0.0 0.0M511.7 516.4l0.0 0.0M510.3 376.8l0.0 0.0M517.3 388.1l0.0 0.0M542.4 378.3l0.0 0.0M528.1 432.3l0.0 0.0M527.4 510.4l0.0 0.0M542.1 378.3l0.0 0.0M590.7 382.1l0.0 0.0M489.7 498.2l0.0 0.0M538.9 515.9l0.0 0.0M460.0 468.2l0.0 0.0M447.4 442.3l0.0 0.0M523.9 381.8l0.0 0.0M555.2 399.5l0.0 0.0M419.9 412.9l0.0 0.0M433.4 372.8l0.0 0.0M525.4 386.7l0.0 0.0M574.9 449.7l0.0 0.0M557.0 479.3l0.0 0.0M439.6 392.3l0.0 0.0M426.4 369.1l0.0 0.0M548.7 539.4l0.0 0.0M560.9 365.3l0.0 0.0M518.5 387.6l0.0 0.0M565.5 384.0l0.0 0.0M481.1 441.0l0.0 0.0M592.4 519.2l0.0 0.0M600.9 493.1l0.0 0.0M464.6 365.3l0.0 0.0M544.3 530.0l0.0 0.0M546.0 379.1l0.0 0.0M551.1 512.3l0.0 0.0" stroke="#4a0c1c" stroke-width="4.0" stroke-linecap="round" fill="none" opacity="0.7"/><path d="M405.9 534.0l0.0 0.0M433.5 504.6l0.0 0.0M391.6 409.0l0.0 0.0M421.9 512.8l0.0 0.0M397.6 475.6l0.0 0.0M366.4 514.5l0.0 0.0M445.7 487.8l0.0 0.0M458.4 512.1l0.0 0.0M428.6 520.1l0.0 0.0M396.8 405.9l0.0 0.0M403.3 404.5l0.0 0.0M375.7 442.2l0.0 0.0M422.5 425.1l0.0 0.0M400.8 389.1l0.0 0.0M428.3 531.1l0.0 0.0M375.9 465.8l0.0 0.0M399.2 470.4l0.0 0.0M387.9 415.8l0.0 0.0M361.4 398.1l0.0 0.0M429.6 530.7l0.0 0.0M389.0 470.4l0.0 0.0M402.9 414.6l0.0 0.0M391.0 379.5l0.0 0.0M447.8 531.8l0.0 0.0M371.1 550.1l0.0 0.0M387.1 419.5l0.0 0.0M414.2 531.5l0.0 0.0" stroke="#3a0610" stroke-width="1.5" stroke-linecap="round" fill="none" opacity="0.7"/><path d="M405.5 428.3l0.0 0.0M378.1 395.4l0.0 0.0M409.6 422.5l0.0 0.0M364.9 430.9l0.0 0.0M418.6 544.0l0.0 0.0M386.6 469.5l0.0 0.0M435.1 529.3l0.0 0.0M389.3 363.8l0.0 0.0M391.0 373.6l0.0 0.0M387.0 512.9l0.0 0.0M363.4 414.4l0.0 0.0M440.4 478.3l0.0 0.0M362.1 552.0l0.0 0.0M379.8 533.6l0.0 0.0M412.9 460.5l0.0 0.0M418.6 429.9l0.0 0.0M393.5 519.2l0.0 0.0M470.4 546.3l0.0 0.0M362.0 386.3l0.0 0.0M411.2 512.9l0.0 0.0M404.8 483.5l0.0 0.0M367.1 454.9l0.0 0.0M373.6 446.1l0.0 0.0M434.8 479.9l0.0 0.0" stroke="#3a0610" stroke-width="3.0" stroke-linecap="round" fill="none" opacity="0.7"/><path d="M527.6 427.1l0.0 0.0M413.1 369.9l0.0 0.0M568.1 395.1l0.0 0.0M537.9 478.6l0.0 0.0M581.2 447.8l0.0 0.0M503.3 405.6l0.0 0.0M434.2 436.2l0.0 0.0M581.7 386.9l0.0 0.0M512.2 406.0l0.0 0.0M560.5 364.8l0.0 0.0M500.6 378.0l0.0 0.0M588.8 384.4l0.0 0.0M445.6 394.5l0.0 0.0M474.4 440.1l0.0 0.0M437.0 383.4l0.0 0.0M499.3 437.0l0.0 0.0M499.6 519.4l0.0 0.0M525.4 413.6l0.0 0.0M458.1 421.7l0.0 0.0M485.9 548.9l0.0 0.0M535.6 443.1l0.0 0.0M515.5 439.9l0.0 0.0M553.7 499.7l0.0 0.0M545.3 416.7l0.0 0.0M561.1 367.0l0.0 0.0M516.2 479.4l0.0 0.0M581.7 530.0l0.0 0.0M556.0 377.5l0.0 0.0M489.6 421.6l0.0 0.0M550.7 536.1l0.0 0.0M451.6 483.3l0.0 0.0M579.5 372.5l0.0 0.0M549.5 417.1l0.0 0.0M578.7 525.4l0.0 0.0M520.3 433.6l0.0 0.0M594.2 377.2l0.0 0.0M450.2 438.5l0.0 0.0M515.2 482.1l0.0 0.0M447.3 444.8l0.0 0.0M585.9 386.3l0.0 0.0M491.0 531.5l0.0 0.0M426.8 390.2l0.0 0.0M572.9 510.2l0.0 0.0M581.0 410.5l0.0 0.0M522.7 386.3l0.0 0.0M486.9 401.6l0.0 0.0M473.6 391.6l0.0 0.0M486.5 370.6l0.0 0.0M482.8 455.9l0.0 0.0M595.1 421.4l0.0 0.0M496.0 550.7l0.0 0.0M437.8 440.3l0.0 0.0M487.0 516.8l0.0 0.0M405.5 369.7l0.0 0.0M482.1 421.4l0.0 0.0M476.1 453.3l0.0 0.0M508.6 528.7l0.0 0.0M450.2 375.8l0.0 0.0M596.5 546.7l0.0 0.0M530.3 386.5l0.0 0.0M549.1 513.9l0.0 0.0M496.4 409.2l0.0 0.0M539.9 410.6l0.0 0.0M448.3 371.6l0.0 0.0M544.0 455.2l0.0 0.0M517.5 540.2l0.0 0.0M468.5 529.2l0.0 0.0M570.5 433.9l0.0 0.0M474.7 411.3l0.0 0.0" stroke="#4a0c1c" stroke-width="2.5" stroke-linecap="round" fill="none" opacity="0.7"/><path d="M395.5 552.1l0.0 0.0M391.6 451.0l0.0 0.0M427.6 514.5l0.0 0.0M390.1 479.9l0.0 0.0M385.7 442.1l0.0 0.0M375.8 392.8l0.0 0.0M387.6 433.8l0.0 0.0M447.8 538.9l0.0 0.0M402.0 462.4l0.0 0.0M445.0 481.6l0.0 0.0M364.8 366.1l0.0 0.0M407.7 405.0l0.0 0.0M431.4 544.3l0.0 0.0M368.8 529.9l0.0 0.0M364.3 542.8l0.0 0.0M443.7 541.6l0.0 0.0M386.5 435.8l0.0 0.0M440.8 471.5l0.0 0.0M448.1 528.8l0.0 0.0M389.4 483.3l0.0 0.0M407.4 507.7l0.0 0.0M440.0 507.8l0.0 0.0M392.1 549.5l0.0 0.0M427.4 528.5l0.0 0.0M363.6 413.1l0.0 0.0M406.4 527.2l0.0 0.0M373.6 373.9l0.0 0.0M374.1 537.2l0.0 0.0M360.2 403.0l0.0 0.0M438.3 479.3l0.0 0.0M414.9 547.1l0.0 0.0M381.4 550.4l0.0 0.0M386.4 382.6l0.0 0.0M358.8 509.7l0.0 0.0M404.8 440.2l0.0 0.0M435.0 486.1l0.0 0.0M454.2 510.0l0.0 0.0M377.5 402.9l0.0 0.0M398.1 471.1l0.0 0.0M406.4 387.9l0.0 0.0M368.3 442.7l0.0 0.0M374.1 405.2l0.0 0.0M452.2 502.2l0.0 0.0M361.4 408.3l0.0 0.0M450.8 522.7l0.0 0.0M407.9 395.9l0.0 0.0M412.8 546.3l0.0 0.0M356.3 458.0l0.0 0.0" stroke="#3a0610" stroke-width="2.5" stroke-linecap="round" fill="none" opacity="0.7"/><path d="M404.2 358.8l-1.9 1.3M565.2 359.1l0.2 1.0M487.3 365.4l-0.9 1.0M515.1 371.9l1.7 0.8M495.1 379.7l1.3 0.3M511.0 380.9l-2.4 0.4M529.2 382.7l-0.6 0.1M538.4 396.8l0.9 0.7M525.6 404.0l1.5 1.0M474.7 419.5l1.2 2.1M517.0 415.8l0.0 0.9M457.2 446.3l-2.1 1.1M534.1 463.9l0.7 0.6M566.6 462.6l0.6 1.4M477.6 470.2l1.1 0.1M497.9 492.7l-0.8 0.5M523.3 492.6l-1.2 1.4M584.3 491.4l-1.3 1.4M594.1 492.5l0.3 1.4M517.9 497.1l1.7 0.4M500.1 506.5l1.7 0.4M530.3 544.8l0.0 1.4M546.1 542.0l-1.8 1.7" stroke="#2424ac" stroke-width="4.5" stroke-linecap="round" fill="none"/><path d="M418.8 357.2l0.3 2.0M586.6 366.9l-0.4 1.8M496.3 374.6l0.7 0.0M409.0 382.6l-1.5 0.1M554.0 381.6l1.0 0.0M481.3 388.6l0.7 0.1M442.7 396.1l0.0 0.7M507.4 418.1l0.6 1.2M542.1 416.1l-1.4 2.0M511.8 425.9l-1.1 2.2M587.7 439.3l-1.5 0.6M509.9 453.0l0.0 0.6M518.1 469.2l-2.6 0.0M551.7 475.2l1.2 0.5M520.2 483.6l0.6 0.3M533.1 537.8l-1.0 0.9M534.4 550.4l1.6 1.0" stroke="#2020a2" stroke-width="5.5" stroke-linecap="round" fill="none"/><path d="M431.0 357.2l-0.3 2.5M463.8 360.4l-0.5 0.2M533.2 357.0l-0.6 1.0M594.8 359.0l1.1 0.6M550.2 403.8l0.1 0.9M600.6 403.8l2.1 0.3M527.7 409.1l0.8 1.0M529.3 426.8l-1.9 1.5M494.0 438.6l0.4 0.5M580.0 441.6l-0.1 1.5M448.0 446.7l0.6 0.3M575.3 463.6l-1.2 1.0M498.6 478.3l-0.8 1.9M571.8 482.4l0.5 0.2M505.8 490.0l-1.2 0.7M585.2 506.2l0.7 0.0M459.4 512.7l1.2 0.4M502.8 542.0l0.7 0.2" stroke="#2424ac" stroke-width="5.5" stroke-linecap="round" fill="none"/><path d="M438.4 359.4l-0.7 1.7M590.7 382.5l1.9 1.6M516.0 388.1l-0.5 1.9M493.9 395.8l-0.8 0.9M547.6 411.2l-0.5 0.8M533.9 433.9l-0.4 0.3M598.2 441.1l-0.6 2.0M452.5 471.0l0.2 1.1M522.0 478.8l0.7 2.0M577.9 499.5l-0.2 0.7M595.5 499.5l1.6 0.2M562.5 528.0l1.0 2.0M566.5 551.9l-0.3 1.5" stroke="#18188a" stroke-width="5.5" stroke-linecap="round" fill="none"/><path d="M454.3 357.9l1.0 2.0M398.3 365.9l-0.3 0.7M554.5 365.9l0.3 1.8M413.3 373.0l-1.0 0.6M420.1 402.9l-0.3 1.7M430.5 401.7l-1.0 0.9M491.0 404.6l0.6 0.3M465.7 418.8l-0.7 0.8M425.8 426.6l-0.5 1.5M433.9 425.0l-0.3 0.9M577.0 433.1l-0.4 1.0M606.2 484.3l-1.7 0.0M547.8 498.2l0.4 0.4M559.0 521.3l1.6 1.8M604.8 528.9l-1.2 1.1M573.7 536.7l-0.6 1.1M550.7 550.6l-0.3 1.4" stroke="#1c1c96" stroke-width="5.0" stroke-linecap="round" fill="none"/><path d="M474.6 357.0l-0.7 1.7M505.4 358.5l1.0 2.1M435.0 381.9l2.3 1.1M455.4 387.3l-0.7 1.6M517.5 401.4l1.3 1.3M562.5 410.3l-0.0 0.7M605.7 408.4l0.8 1.1M498.5 417.8l2.0 1.1M441.5 454.6l1.5 0.1M552.3 454.9l0.3 0.8M505.6 463.0l-0.6 2.0M559.0 476.6l-0.6 1.1M454.8 490.8l-0.8 0.1M527.2 498.9l-1.5 0.5M602.5 508.0l-0.4 0.4M546.2 514.6l0.4 0.4M467.0 529.2l-0.9 0.3M493.2 527.1l0.7 0.3M481.4 536.6l-1.2 0.1M500.2 535.5l-0.0 0.6M512.6 544.5l1.0 1.0M497.5 550.1l0.6 0.8" stroke="#16167e" stroke-width="6.0" stroke-linecap="round" fill="none"/><path d="M482.7 358.6l0.1 1.3M488.6 359.1l2.1 1.1M452.7 364.9l1.7 0.9M460.3 379.6l-2.0 0.8M552.8 394.0l-2.4 0.3M535.6 424.4l-1.8 0.4M506.0 432.5l-0.9 1.1M509.5 440.4l0.5 0.2M546.5 439.4l-0.4 1.4M507.5 445.5l-0.1 1.8M560.9 453.1l-0.5 0.8M607.7 467.8l1.4 0.1M505.1 475.9l1.8 0.2M458.0 498.5l-1.1 1.6M584.5 534.2l1.1 1.2M583.9 551.9l2.0 0.7" stroke="#18188a" stroke-width="4.5" stroke-linecap="round" fill="none"/><path d="M499.0 357.7l-0.5 0.4M436.0 364.0l1.3 0.3M513.1 366.9l0.7 1.6M489.2 373.0l0.0 1.9M485.0 381.5l-1.4 1.4M448.4 389.5l0.3 1.4M607.4 395.7l0.8 1.8M532.3 403.4l1.4 1.5M495.6 410.8l1.5 1.0M437.8 419.5l-0.9 1.9M453.3 423.7l-0.5 0.8M469.2 424.3l-0.6 0.5M573.5 441.1l1.1 2.0M540.8 447.4l2.2 0.0M485.2 455.8l-0.9 0.9M536.7 484.6l-1.7 1.1M470.9 491.2l-1.5 0.3M572.8 514.2l-1.8 1.8M480.6 552.3l-1.4 1.8" stroke="#2020a2" stroke-width="6.0" stroke-linecap="round" fill="none"/><path d="M516.5 358.1l-0.4 2.0M443.7 366.0l0.8 0.4M543.8 367.5l-0.2 2.5M579.0 365.4l1.7 1.0M429.8 373.6l-1.9 1.0M465.5 403.2l1.7 0.7M426.0 409.9l-0.0 0.5M519.4 410.7l1.0 0.6M525.3 431.3l-0.8 1.6M523.9 460.9l0.3 0.5M564.2 469.5l0.1 0.7M598.7 471.0l0.9 2.3M479.1 476.4l0.3 2.5M484.0 484.8l-1.5 0.5M543.1 492.3l0.5 0.1M552.1 499.9l1.7 0.5M481.7 505.9l0.6 0.8M539.7 505.7l1.6 0.0M591.8 507.7l0.8 0.1M479.9 521.1l0.9 0.2M596.6 529.7l-2.5 0.3M602.9 534.4l-0.7 0.2" stroke="#1c1c96" stroke-width="5.5" stroke-linecap="round" fill="none"/><path d="M522.4 360.3l-0.6 0.6M495.3 365.2l-1.3 0.7M443.4 382.5l-0.8 1.5M475.2 381.0l0.8 1.4M464.3 389.4l-1.4 0.4M602.2 387.7l2.4 0.7M423.4 396.1l-0.2 1.1M428.7 416.2l-2.4 0.4M445.8 419.4l-1.3 0.3M455.1 416.7l-0.9 0.4M524.9 418.1l2.1 0.9M494.5 424.2l-1.9 1.4M463.3 432.2l-1.7 0.3M434.6 441.3l-0.5 0.0M469.7 441.5l-0.9 0.4M476.5 440.2l-1.1 1.9M485.6 441.3l-0.5 1.7M531.2 446.3l-1.6 0.2M601.8 448.8l-1.3 1.7M446.8 462.0l1.1 1.5M463.5 462.7l1.1 1.7M517.8 461.2l-0.7 0.6M602.0 478.7l1.9 1.4M501.4 485.5l0.6 1.2M551.6 492.1l0.4 0.3M466.5 497.6l-0.8 0.2M477.5 497.3l-0.3 0.8M537.4 500.5l-0.8 1.5M524.2 506.2l0.8 1.6M493.0 515.6l2.3 0.6M553.2 513.7l-2.5 0.2M510.5 527.8l-0.0 1.7M516.1 535.7l0.8 1.1" stroke="#16167e" stroke-width="5.0" stroke-linecap="round" fill="none"/><path d="M539.3 357.7l-1.0 0.8M507.4 372.0l0.2 0.7M539.8 374.6l1.2 1.7M525.1 387.4l1.6 0.8M438.1 403.0l0.1 1.7M483.3 412.0l-0.5 0.7M556.4 409.7l-1.4 0.1M480.5 417.9l1.6 1.6M555.5 439.3l0.2 1.1M466.2 455.7l1.8 0.8M495.4 456.5l-2.0 0.5M498.4 461.6l1.0 0.1M542.9 463.4l0.4 2.5M578.3 470.0l-0.5 2.3M558.8 489.8l1.5 0.1M558.0 505.3l1.1 1.6" stroke="#2424ac" stroke-width="6.0" stroke-linecap="round" fill="none"/><path d="M551.9 358.5l-0.0 1.8M519.2 366.2l0.2 1.3M531.0 374.5l2.3 0.4M451.9 452.8l0.0 1.6M538.0 454.9l-0.6 1.8M437.7 460.5l-1.8 1.8M594.6 461.9l1.3 0.6M573.9 490.6l-1.0 0.5M582.0 529.5l0.1 1.1M491.7 535.0l-1.4 0.2M580.1 543.8l-0.4 0.4M507.8 550.1l1.4 0.3" stroke="#16167e" stroke-width="4.5" stroke-linecap="round" fill="none"/><path d="M556.9 359.7l0.9 0.7M418.2 365.9l-1.5 0.6M604.9 364.5l1.4 1.1M414.6 379.4l0.2 1.0M527.5 397.1l0.9 0.7M502.1 409.3l-2.1 0.8M459.4 424.9l0.7 1.6M431.2 431.3l0.3 0.9M521.2 438.6l0.3 0.5M488.0 448.8l0.2 0.9M529.1 454.6l1.2 1.9M578.5 454.9l-0.6 0.7M482.2 461.1l0.0 2.4M484.2 468.9l1.0 0.8M504.3 471.0l-0.3 2.5M517.5 477.0l2.2 1.3M504.3 499.2l2.5 0.0M537.6 514.7l1.8 1.7M520.8 527.9l1.1 1.1M591.9 549.7l-0.7 1.2" stroke="#18188a" stroke-width="6.0" stroke-linecap="round" fill="none"/><path d="M576.9 356.9l-1.6 1.0M419.7 389.3l-0.9 1.0M437.5 389.2l0.2 1.7M512.9 394.3l-0.1 1.9M443.9 438.7l-0.5 1.0M477.0 454.9l-1.4 1.1M528.5 485.1l0.2 1.3M553.5 483.3l-1.5 0.3M568.5 490.1l-0.1 2.3M462.7 506.0l-2.5 0.3M567.6 504.6l-1.0 0.3M511.8 514.1l-1.1 1.1" stroke="#1e1e9a" stroke-width="4.5" stroke-linecap="round" fill="none"/><path d="M603.3 356.6l-1.8 0.5M561.5 367.3l-0.8 0.6M518.4 396.9l0.3 1.5M600.3 418.7l-0.8 2.1M566.7 433.3l-1.1 1.1M560.2 463.5l1.6 0.6M480.4 493.6l0.7 0.1M587.7 514.4l-2.0 1.1M472.0 521.2l0.4 1.5M498.4 520.6l1.4 0.9M475.7 527.9l2.2 0.2M548.8 534.3l-0.7 0.2M555.8 542.1l-0.5 0.7M604.4 542.0l-0.3 1.0M490.8 551.3l-1.6 1.0M523.5 552.8l1.9 1.1" stroke="#1e1e9a" stroke-width="5.0" stroke-linecap="round" fill="none"/><path d="M457.6 367.8l-0.3 0.6M585.6 373.1l0.4 1.1M537.9 381.0l2.3 0.9M584.3 386.8l1.8 0.5M503.5 396.5l0.4 1.5M590.3 410.0l1.1 1.0M542.3 433.7l-1.8 0.2M536.9 441.7l-1.1 1.5M604.2 440.8l-2.2 0.9M583.1 448.3l-0.6 0.2M518.9 453.4l-0.2 0.9M572.0 455.6l1.3 0.7M584.3 460.3l-1.9 1.5M602.4 463.0l1.5 0.8M485.7 499.8l0.6 0.3M502.6 513.0l1.0 0.6M530.0 514.7l-0.6 0.4M488.7 521.9l1.6 1.7M525.5 523.1l1.5 0.9M547.9 521.3l1.5 2.0M536.9 528.7l1.2 0.5M566.5 534.5l-0.1 1.2" stroke="#1c1c96" stroke-width="6.0" stroke-linecap="round" fill="none"/><path d="M469.0 367.4l0.2 2.0M449.6 380.3l-1.1 0.4M582.6 433.6l-1.5 1.3M599.3 454.7l0.4 1.3M460.6 471.2l0.5 0.8M568.4 476.3l-0.6 1.0M516.5 507.3l0.3 0.6M466.9 513.2l-0.1 0.8M487.4 511.9l-1.2 0.6M465.7 520.4l-2.0 1.5M583.8 521.6l-0.8 1.7" stroke="#2020a2" stroke-width="5.0" stroke-linecap="round" fill="none"/><path d="M504.1 367.7l-2.1 0.8M472.2 374.6l0.2 2.6M520.9 380.4l-0.0 2.5M558.5 387.1l0.7 0.4M480.6 403.3l0.9 1.1M513.3 408.7l-0.9 1.4M546.1 423.8l0.5 2.4M538.9 470.1l-0.3 0.5M545.6 470.8l-0.9 0.4M562.8 500.2l-1.6 1.1M577.3 506.0l1.7 0.1M475.2 513.4l1.2 0.6M514.5 521.3l0.9 1.1M577.9 549.4l-0.5 1.4" stroke="#2424ac" stroke-width="5.0" stroke-linecap="round" fill="none"/><path d="M572.5 366.5l0.1 1.8M481.2 374.3l-0.5 0.7M556.9 374.8l1.0 1.7M424.0 378.9l1.3 0.2M551.4 388.6l0.0 0.9M445.8 403.9l-2.0 1.2M557.3 418.5l2.5 0.4M596.4 484.0l0.3 0.8M516.9 492.7l0.4 1.0M604.9 515.2l1.0 0.9M570.0 527.6l-1.3 1.6M517.6 550.5l0.2 1.5" stroke="#1e1e9a" stroke-width="6.0" stroke-linecap="round" fill="none"/><path d="M403.0 373.6l0.4 0.6M469.1 379.9l0.1 0.8M508.5 388.4l-1.2 0.6M533.4 387.4l-1.9 0.9M477.6 395.5l0.4 0.8M490.2 417.6l0.6 0.7M516.3 434.3l-0.5 1.2M549.3 448.3l-1.1 1.9M453.7 462.0l-1.3 0.3M471.7 477.3l-1.6 0.3M478.0 484.0l0.5 0.9M471.3 505.6l-0.1 2.3M602.6 522.8l1.3 0.5M561.8 544.8l-0.9 0.0" stroke="#16167e" stroke-width="5.5" stroke-linecap="round" fill="none"/><path d="M420.3 374.0l2.1 1.3M567.8 372.9l2.6 0.3M601.4 373.2l-2.5 0.7M605.8 379.0l-1.2 1.9M508.4 404.9l-1.3 1.7M573.7 402.3l0.8 0.3M550.3 419.0l-2.0 1.1M577.8 418.8l2.2 0.0M605.1 424.8l0.2 0.5M455.2 431.8l-1.4 0.1M560.1 432.3l0.1 1.2M527.0 438.0l0.0 2.2M435.5 453.8l-1.6 0.8M590.3 454.6l-1.3 1.7M605.7 456.5l0.6 0.9M471.4 460.6l0.7 0.8M548.7 461.1l2.4 0.1M511.2 468.5l0.3 0.8M488.4 493.2l1.6 1.3M533.8 493.1l0.8 2.2M505.1 521.9l-1.7 0.9M534.8 519.5l-0.9 0.2M597.0 544.5l-1.0 0.8" stroke="#18188a" stroke-width="5.0" stroke-linecap="round" fill="none"/><path d="M523.7 372.3l-1.0 0.3M491.5 386.5l-0.8 1.7M500.4 387.3l0.6 1.6M416.4 394.6l-1.7 1.6M441.5 412.2l-1.1 0.4M487.3 425.4l-1.9 0.7M520.2 423.4l0.5 0.6M438.3 431.5l-2.0 0.9M472.7 433.3l0.2 0.7M479.6 432.1l0.1 0.5M491.8 432.5l0.7 0.1M549.1 434.2l0.7 0.9M472.6 449.1l-1.0 0.0M526.1 446.3l0.0 0.9M592.8 449.1l-1.1 1.5M467.2 467.6l-1.3 0.8M493.3 468.9l-0.5 0.5M528.3 470.4l1.6 1.1M589.6 471.4l1.5 0.7M603.0 491.4l0.1 1.1M494.4 497.4l1.0 0.6M512.8 499.2l0.6 1.4M604.2 497.4l-1.3 1.9M562.4 513.5l0.1 2.3M587.0 528.2l0.5 1.7M602.2 552.4l-1.9 0.7" stroke="#1e1e9a" stroke-width="5.5" stroke-linecap="round" fill="none"/><path d="M548.6 374.5l0.3 1.2M536.4 410.6l1.4 0.6M552.5 424.9l1.6 2.0M446.3 430.8l-0.8 0.8M450.9 441.3l-0.7 0.0M458.8 454.3l-1.6 2.0M512.8 486.2l-1.3 0.5M506.4 505.1l2.4 0.1M520.3 545.2l-1.4 1.3" stroke="#1c1c96" stroke-width="4.5" stroke-linecap="round" fill="none"/><path d="M436.0 395.9l0.7 0.1M541.6 401.7l-1.0 1.6M478.0 409.9l0.2 1.6M420.4 417.1l2.4 0.9M458.9 440.1l0.5 1.9M503.5 438.2l1.8 1.1M468.7 484.8l-1.0 0.6M598.5 512.7l0.2 0.5M486.2 527.5l-0.9 2.4M506.8 534.1l1.4 0.5M540.0 534.3l-0.1 1.2" stroke="#2020a2" stroke-width="4.5" stroke-linecap="round" fill="none"/><path d="M454.3 519.7l2.1 -1.5M384.4 398.6l0.3 -2.1M417.2 499.4l0.3 -2.2M465.1 551.2l1.4 -2.1M438.1 484.5l0.2 -1.7M403.8 447.4l1.4 -2.1M394.5 399.8l0.9 -1.9M399.0 403.6l1.1 -1.8M408.4 442.1l0.3 -0.6M414.1 472.2l0.8 -0.4M433.8 504.6l0.3 -1.7M452.7 530.5l1.5 -1.8M364.5 473.8l1.7 -0.9M448.8 530.3l1.6 -1.4M354.7 368.0l1.4 -0.9M382.1 412.8l1.1 -0.6M423.5 446.0l1.2 -1.2M358.1 407.6l0.5 -0.9M378.9 516.1l2.3 -1.2M409.2 398.7l1.1 -0.7M463.0 547.0l1.2 -0.6M467.3 535.3l0.3 -0.6M355.3 450.0l1.2 -2.0M358.3 382.9l1.0 -0.7M355.0 380.2l0.3 -1.0M407.0 406.1l1.7 -1.2M425.9 475.3l1.4 -0.7M445.9 491.4l1.0 -0.8M451.3 506.5l1.8 -1.3M444.2 544.7l1.0 -0.7" stroke="#2222b8" stroke-width="2.5" stroke-linecap="round" fill="none"/><path d="M355.4 405.0l0.6 -0.6M396.0 436.8l0.6 -1.8M394.1 403.0l0.3 -0.9M377.5 409.9l0.6 -0.4M445.4 486.6l0.6 -0.7M465.4 550.3l1.3 -1.1M408.1 408.1l0.3 -0.7M422.6 470.9l0.7 -0.7M388.7 493.4l0.8 -0.6M372.8 461.8l1.0 -2.0M396.4 512.6l1.5 -1.1M386.4 469.4l0.1 -1.3M428.5 446.5l0.1 -1.0M420.6 475.6l0.1 -1.1M400.5 425.0l0.8 -1.2M393.9 505.1l1.8 -1.6M441.1 483.7l0.4 -1.7M401.8 446.6l0.1 -0.7M415.5 425.5l0.1 -0.9M390.0 476.0l0.3 -0.7M367.4 554.5l0.7 -0.4" stroke="#3030dc" stroke-width="2.5" stroke-linecap="round" fill="none"/><path d="M359.6 411.2l0.6 -0.5M449.6 550.6l0.2 -0.9M362.8 432.2l0.7 -0.7M382.0 366.1l0.4 -0.5M372.8 434.3l0.6 -0.9M387.3 368.2l0.9 -1.9M398.8 417.3l1.2 -0.7M361.2 538.5l0.9 -0.8M430.6 528.8l0.7 -0.6M416.2 436.1l1.6 -0.9M372.4 405.9l0.1 -0.7M385.3 467.3l0.3 -1.1M402.4 379.0l1.1 -0.9M356.9 380.1l0.6 -0.9M363.3 364.3l2.0 -1.3M360.1 399.1l1.4 -1.7M375.4 433.2l2.1 -1.5" stroke="#2a2ad2" stroke-width="3.0" stroke-linecap="round" fill="none"/><path d="M435.1 488.8l0.2 -1.0M355.4 395.8l0.7 -0.4M356.9 367.0l0.9 -2.4M370.8 471.2l0.2 -1.6M379.9 364.9l2.2 -1.3M423.7 438.8l0.4 -0.5M414.9 438.3l1.5 -1.4M394.4 380.9l1.3 -0.8M421.8 467.5l0.8 -0.4" stroke="#1c1ca6" stroke-width="2.0" stroke-linecap="round" fill="none"/><path d="M353.9 401.0l0.5 -0.7M433.6 465.1l0.5 -0.9M447.6 544.9l0.7 -1.3M380.5 409.9l0.9 -1.4M382.0 431.0l1.0 -1.3M385.0 488.2l0.8 -2.3M427.4 536.9l0.7 -0.9M451.8 541.2l0.4 -1.8M400.7 378.1l0.4 -2.3M414.1 447.2l0.7 -1.5M381.2 387.9l0.8 -0.9M371.0 456.0l0.2 -2.2M394.1 370.1l0.9 -0.8M381.4 431.9l1.0 -1.1M400.4 443.9l0.2 -2.1M457.8 516.8l0.4 -0.2M381.9 431.7l0.2 -0.8M419.0 440.8l0.3 -1.1M407.4 400.8l0.1 -0.8M375.2 409.7l0.8 -2.2M379.1 536.2l0.6 -0.9M395.0 372.9l0.6 -0.6M382.1 420.8l0.2 -1.4M415.6 495.4l2.0 -1.0M376.1 444.0l0.3 -1.2M374.6 523.8l0.9 -2.0M456.4 536.6l1.9 -1.7M383.8 532.9l1.2 -1.5M452.0 530.7l0.2 -1.3" stroke="#2a2ad2" stroke-width="2.5" stroke-linecap="round" fill="none"/><path d="M372.1 529.3l0.7 -2.1M367.1 373.8l0.2 -0.8M436.7 547.0l0.9 -0.8M365.1 467.9l0.4 -0.4M441.7 523.1l0.5 -1.1M370.5 363.2l1.4 -1.4M369.7 378.9l0.2 -0.7M418.6 458.2l0.3 -2.2M447.5 521.0l1.9 -1.5M446.3 504.7l1.6 -1.0M404.4 450.2l0.4 -0.5M359.7 411.3l0.8 -0.9M435.3 517.6l1.0 -1.5M393.2 373.4l1.2 -0.8M442.4 528.2l0.9 -0.8M360.2 444.8l0.7 -0.7M379.6 404.2l1.1 -0.5M386.7 373.8l0.6 -1.2M434.8 494.5l0.2 -0.7M364.8 489.5l0.6 -0.4M354.2 436.5l0.4 -1.5M381.7 455.1l0.1 -0.7M372.4 426.1l0.5 -1.9M403.0 402.0l2.1 -1.5M437.0 553.2l0.4 -2.2M354.6 395.1l0.5 -0.6M381.0 416.1l1.8 -1.4M380.3 367.6l0.4 -2.1M414.0 468.7l0.7 -1.5M366.8 544.7l0.6 -1.1" stroke="#2222b8" stroke-width="3.0" stroke-linecap="round" fill="none"/><path d="M451.5 503.7l0.1 -1.1M441.2 510.3l1.7 -1.4M443.4 511.3l0.1 -0.9M367.0 427.5l0.6 -1.1M383.0 399.4l0.5 -0.6M360.4 402.0l0.7 -1.5M454.6 555.7l0.4 -0.6M385.3 410.4l0.1 -0.5M447.4 490.8l0.2 -1.0M359.2 494.8l2.1 -1.4M419.1 426.3l2.1 -1.1M359.5 546.0l0.3 -0.4M439.6 510.6l1.8 -1.6M368.0 373.4l0.8 -1.9M391.9 409.8l0.6 -0.6M371.9 423.5l0.6 -0.9M418.3 503.0l0.2 -1.7M453.8 504.6l0.7 -1.0M380.1 410.3l1.1 -1.6M415.1 536.8l0.6 -0.4M436.4 494.9l0.2 -0.8M368.9 364.3l0.6 -1.5M457.5 531.3l0.2 -0.8" stroke="#3030dc" stroke-width="3.0" stroke-linecap="round" fill="none"/><path d="M409.5 406.2l0.4 -0.5M408.7 450.9l0.2 -0.7M365.0 385.5l1.1 -2.0M404.8 402.6l0.2 -1.6M391.7 487.4l0.3 -1.8M384.7 434.9l0.5 -0.2M425.2 463.7l0.9 -0.8M399.6 462.9l1.4 -1.0M417.3 514.6l0.6 -0.5M367.3 507.5l0.2 -2.5M354.5 384.0l0.5 -0.9M354.8 397.0l0.1 -1.0M383.2 384.1l1.2 -0.6M375.0 529.0l0.7 -1.7M418.0 428.3l1.8 -0.9" stroke="#3030dc" stroke-width="2.0" stroke-linecap="round" fill="none"/><path d="M361.5 421.9l0.5 -0.4M357.6 456.2l0.6 -0.6M428.4 459.0l0.9 -1.4M449.8 528.1l0.1 -0.7M426.0 490.2l2.1 -1.5M464.2 543.6l1.0 -1.9M439.1 537.0l0.7 -2.1M387.7 534.7l0.4 -1.3M353.4 429.6l0.3 -1.0M371.3 420.6l0.7 -1.6M395.7 380.4l0.5 -1.8M379.6 422.5l1.9 -1.5M453.7 503.8l0.5 -0.5M411.8 417.8l1.9 -1.1M459.4 542.9l0.3 -2.4M392.5 430.3l1.5 -0.7M403.0 388.9l0.3 -0.7M389.6 530.9l0.3 -0.7M412.4 456.9l1.1 -1.1" stroke="#1c1ca6" stroke-width="2.5" stroke-linecap="round" fill="none"/><path d="M439.1 495.5l1.5 -1.4M391.2 362.8l0.2 -0.6M436.3 519.0l0.8 -0.6M425.3 490.3l0.9 -0.8M410.3 511.3l0.5 -1.1M455.1 520.9l0.6 -1.7M396.4 421.6l0.8 -0.5M382.7 519.1l2.1 -1.1M449.3 539.7l1.4 -0.8M402.7 378.8l0.4 -1.5M374.1 531.3l1.4 -1.5M372.9 431.8l0.4 -0.4" stroke="#2222b8" stroke-width="2.0" stroke-linecap="round" fill="none"/><path d="M374.2 417.8l0.8 -1.0M374.3 473.1l1.2 -1.9M426.1 507.2l0.4 -0.5M386.4 421.7l0.3 -2.0M451.4 547.8l1.0 -0.6M444.7 526.4l0.3 -0.6M427.1 517.7l0.6 -0.6M366.9 373.6l0.8 -1.2M389.7 407.5l1.7 -1.7M367.5 406.6l0.4 -2.0M410.9 399.6l0.3 -0.6M407.4 418.4l1.5 -1.2M377.3 379.7l0.5 -1.3M372.7 534.6l0.4 -1.0M452.1 506.0l1.6 -1.4M386.8 437.5l0.1 -0.8M461.6 536.2l0.1 -1.0M401.1 439.1l1.1 -0.7M410.1 401.9l0.3 -0.5M371.7 418.5l0.7 -0.5M378.0 365.7l0.7 -1.9M361.1 404.6l0.6 -0.7M407.8 423.6l1.9 -1.3M378.1 444.1l1.7 -1.8M378.5 436.7l1.4 -0.9M384.0 531.5l0.2 -0.5M461.4 551.0l0.2 -1.9M353.8 424.6l0.2 -1.8M371.1 408.2l1.7 -1.8M411.1 439.1l0.7 -0.6M374.9 406.0l0.4 -2.2M396.8 368.2l0.8 -2.4M391.2 464.2l0.6 -0.7" stroke="#1c1ca6" stroke-width="3.0" stroke-linecap="round" fill="none"/><path d="M410.1 405.1l1.5 -1.8M353.7 364.5l0.4 -1.7M423.4 554.3l1.1 -1.5M434.4 487.1l1.2 -1.4M440.4 535.6l1.3 -1.2M436.0 487.0l0.6 -1.9M367.6 370.2l1.0 -0.6M400.7 450.6l0.7 -0.4M354.0 424.0l2.3 -1.2M438.6 555.7l0.3 -0.5M400.4 423.9l0.5 -0.7M444.4 512.9l1.4 -1.5M409.2 402.7l0.2 -0.6M442.9 533.7l1.1 -1.1M459.9 540.6l0.2 -2.0M426.6 441.3l1.5 -1.6M405.8 423.0l1.2 -1.5M371.5 415.5l0.3 -0.6" stroke="#2a2ad2" stroke-width="2.0" stroke-linecap="round" fill="none"/><path d="M574.9 512.4l-0.8 0.7M568.8 515.2l0.9 1.0M570.3 470.6l-0.9 0.9M416.6 388.6l-0.3 0.4M599.9 505.6l0.6 0.9M512.2 453.4l-0.5 -0.7M534.4 455.7l-0.2 -1.0M519.3 491.4l-0.2 0.7M585.0 392.1l0.1 0.5M545.5 543.9l0.4 -0.3M557.7 494.0l-0.5 -0.3M491.2 534.0l0.0 -0.1M480.9 536.0l-0.4 -0.6M509.1 535.0l0.9 0.3M542.7 465.2l-0.0 0.4M600.6 465.2l0.4 -0.7M503.8 547.4l-0.9 0.3M446.3 390.2l-0.4 -0.2M528.0 499.3l0.0 -0.3M504.0 541.1l-0.8 0.5M432.3 403.7l-0.9 -0.4M538.0 420.6l0.1 -0.0M490.9 433.5l-0.9 0.6M446.7 426.0l-0.7 -0.8M498.4 544.4l-0.0 -0.8M569.9 490.5l0.1 -0.8M534.9 548.7l0.3 0.7M557.1 519.9l-0.2 -0.6M511.1 455.0l1.0 -0.7M483.2 548.0l0.4 -0.1M461.0 386.7l0.4 0.2M576.3 507.9l-0.6 -1.0M458.7 481.8l-0.2 -0.6M590.2 469.1l-0.9 -0.2M463.3 454.9l-0.6 0.8M568.5 460.5l0.0 0.5M594.6 513.5l-0.5 -0.2M525.2 402.9l0.1 0.5M585.2 531.6l0.1 0.9M598.8 517.5l0.6 1.0M458.2 386.0l0.9 0.5M477.1 416.3l-0.7 0.9M462.1 509.7l-0.0 -0.4M490.3 402.9l0.9 -0.8M470.9 410.7l0.1 -0.5M584.9 430.2l-0.5 -0.8M418.2 400.6l-0.6 -0.1M535.1 512.3l0.6 -1.0M561.8 377.9l-0.2 0.8M434.3 407.1l-1.0 0.9M482.8 371.3l0.2 0.2M503.5 521.7l0.9 0.3M480.9 385.1l-0.8 -0.3M511.3 521.2l-0.9 -0.6M436.1 436.7l-0.1 -0.3M496.0 420.1l-0.7 -0.8M513.8 509.5l0.3 0.0M531.5 467.4l-0.0 0.9M539.5 515.1l0.5 -0.2M511.3 445.2l-0.6 0.1M434.7 439.3l0.0 -1.0M550.2 497.6l-0.2 0.5M526.8 529.4l-0.0 0.8M540.1 407.9l0.2 0.6M535.5 433.1l-0.9 -0.2M523.0 387.8l-0.4 0.5M471.9 404.4l-0.4 -0.6M562.3 480.0l0.4 -0.3M440.3 435.4l-0.7 -0.7M473.7 517.5l0.4 0.2M499.6 477.9l0.5 -0.2M531.2 391.1l-0.1 -0.7M550.4 549.0l0.4 0.1M463.9 441.2l-0.1 0.8M511.7 552.2l-0.8 0.3M505.0 505.8l-0.9 -0.7M491.8 390.4l0.3 0.5M486.7 469.9l0.8 0.5M517.5 544.4l-0.3 -0.6M589.0 433.4l-0.8 0.9M530.7 471.6l0.2 0.7M537.0 434.3l-0.7 0.8M541.8 538.6l1.0 0.7M457.2 371.0l-0.5 0.4M515.3 533.2l0.0 -0.7M555.5 411.3l-0.8 0.2M540.2 490.4l-0.0 0.4M566.8 451.7l0.4 0.4M558.5 399.9l0.4 0.7M456.7 477.1l-0.4 0.9M476.1 535.6l-0.8 0.9M577.0 532.0l0.2 0.9M470.8 496.4l-0.9 0.3M596.5 540.6l0.9 -1.0M538.4 511.3l-0.7 -0.7M528.4 540.1l0.0 0.3M432.9 447.2l-0.5 -0.9M565.3 430.2l-0.6 -0.4M492.0 512.1l0.5 0.4M527.6 471.1l-0.1 0.8M565.8 456.3l0.6 -1.0M431.6 427.3l0.9 0.2M514.1 538.3l-0.8 -0.5M593.5 460.0l-0.2 -0.9M436.6 391.1l0.1 -0.2M497.0 377.5l-0.6 0.3M494.7 379.8l0.9 -0.9M429.5 417.4l0.6 -0.2M514.0 486.8l-0.1 -0.5M561.8 377.3l-0.8 0.2M494.9 463.1l0.7 -0.4M552.7 460.7l-0.4 0.9M558.4 429.9l0.8 -0.0M584.7 370.5l0.5 0.5M457.4 500.7l1.0 -0.7M568.4 542.6l0.4 0.9M479.8 433.8l0.3 0.2M516.9 537.5l1.0 -0.1M425.6 411.9l0.8 0.2M513.3 447.4l-0.7 0.9M485.4 376.3l-0.1 0.4M518.4 541.4l0.4 0.5M551.3 468.9l0.7 0.9M441.3 381.7l0.0 0.8M575.4 549.9l-0.1 0.7M504.4 442.4l0.9 0.2M506.5 522.5l-0.6 -0.9M582.8 419.0l0.4 0.2M549.4 411.1l-0.9 -0.5M577.5 546.3l-0.1 -0.0M448.3 441.3l-0.7 -0.6M557.9 530.5l-0.2 0.7M495.3 486.4l0.2 0.4M508.5 409.5l-0.1 -0.5M537.8 453.3l-0.1 0.4M447.4 460.0l0.1 0.6M418.3 377.9l0.6 -0.3M471.6 413.9l-0.4 -0.2M599.7 512.3l-1.0 -0.6M573.4 509.4l0.1 0.6M451.1 382.0l-0.6 0.6M493.0 474.3l0.5 -0.2M483.7 454.9l-0.0 0.5M528.9 438.7l0.1 0.8M575.4 390.7l0.2 0.2M514.0 502.1l-0.3 0.6M467.6 475.3l0.4 -0.7M574.6 501.3l0.2 -0.1M547.1 382.1l-0.8 0.3M569.3 504.2l-0.9 0.4M432.6 437.6l-0.6 -0.2M489.5 435.2l0.2 -0.7M534.2 501.8l0.1 -0.6M502.8 416.0l0.7 0.6M558.4 373.3l-0.5 0.5M583.4 473.7l-0.0 0.4M496.1 375.5l-0.4 -0.7M475.2 427.1l-0.8 -0.1M490.5 458.4l0.9 -0.9M470.0 457.4l-0.4 0.8M572.4 442.8l-0.5 0.8M523.2 481.7l-0.8 -0.6M518.4 464.6l-0.2 0.5M520.6 401.8l0.7 0.6M477.6 442.6l-0.8 -0.1M537.9 447.7l-0.7 -0.4M561.1 499.2l-0.2 0.4M578.8 400.3l0.8 -0.0M520.7 493.6l0.7 -0.3M493.5 441.7l0.5 -0.3M597.3 489.1l-0.1 -0.5M594.7 404.2l-0.6 0.5M433.7 409.9l-0.2 -0.0M580.6 526.7l-0.2 0.8M579.5 517.2l0.8 -1.0M521.7 484.8l-0.6 0.2M584.2 375.6l-0.8 0.1M516.3 478.5l0.5 -0.6M511.0 450.0l-0.4 -0.5M578.9 402.8l-0.3 -0.6M469.4 509.4l1.0 0.9M538.6 548.7l-0.8 0.4M519.1 440.1l0.3 -0.9M427.9 385.4l-0.9 0.9M430.2 436.1l-0.5 0.3M551.6 482.9l-0.2 -1.0M573.5 455.8l-1.0 -0.5M457.8 504.4l0.6 -0.7M539.7 520.9l-0.5 -0.8M583.8 494.4l-0.7 0.8M525.2 391.7l-0.6 0.2M507.7 481.8l0.0 0.7M532.2 518.7l-0.9 1.0M456.0 399.7l-0.3 0.6M430.7 416.7l0.2 -0.6M427.5 384.8l-0.2 -0.8M503.6 448.9l0.8 0.2M430.7 386.1l1.0 -0.3M475.2 402.3l0.5 -0.3M498.6 528.3l-0.5 0.1M469.9 486.9l-0.4 -0.8M523.5 466.7l0.0 0.4M468.3 395.8l0.4 -0.9M494.6 466.4l0.5 0.6M513.6 438.7l1.0 -0.7M564.8 422.7l0.6 0.4M538.9 433.8l-0.6 -0.2M449.0 401.3l-0.7 0.0M507.3 462.5l0.7 0.7M469.3 486.1l0.3 -0.4M458.5 391.6l0.2 -0.6M443.0 404.3l0.4 -0.1M518.9 402.2l-0.2 -0.5M592.3 534.9l0.3 0.5M466.9 507.5l-0.0 -0.7M545.5 466.4l0.5 -0.7M529.4 461.9l1.0 -0.1M548.0 462.9l-0.6 -0.3M587.0 527.7l0.8 -0.1M432.1 407.3l0.6 0.4M556.1 548.2l0.5 -0.6M420.5 416.9l-0.4 1.0M525.7 422.3l-0.3 -0.1M548.3 415.0l-1.0 -0.6M584.2 526.1l0.3 0.8M599.4 426.8l0.5 -1.0M515.7 426.5l1.0 0.9M578.5 520.9l-0.5 0.7M413.7 386.7l0.3 -0.7M435.7 436.3l0.2 -0.3M540.9 423.4l-0.9 0.2M523.5 411.6l0.1 0.6M498.9 400.5l0.7 -0.1M440.0 457.3l-0.4 0.3M541.6 435.7l1.0 -0.8M529.4 484.5l-0.4 1.0M523.7 432.2l-0.3 -1.0M544.2 481.3l-0.3 0.3M423.7 402.2l0.2 0.1M472.9 411.1l0.3 -0.9M420.9 371.1l0.8 0.8M592.0 375.3l-0.2 0.9M491.0 427.7l-0.6 -0.1M542.1 491.7l0.3 -0.5M514.2 371.4l-0.5 0.3M577.6 389.2l0.8 -0.6M569.4 527.9l0.9 -0.6M510.1 540.1l-0.3 0.4M550.2 394.7l0.5 -0.3M552.4 524.2l-0.8 0.4M507.5 473.3l-1.0 -0.7M497.8 532.5l-0.1 0.9M495.8 486.7l0.5 -0.5M562.5 473.3l-0.4 -0.4M453.6 480.1l0.7 0.5M482.8 551.0l0.4 0.9M514.9 425.9l0.2 -0.8M527.5 550.4l-0.8 -0.5M574.3 550.9l0.4 0.6M492.5 384.0l-0.5 -0.8M470.2 396.6l-1.0 0.0M593.8 371.5l-0.4 0.9M470.8 385.0l-0.9 -1.0M468.1 511.2l-0.3 0.7M584.3 456.2l-0.8 -0.8M590.6 444.1l-0.4 -0.7M532.3 467.2l-0.7 0.4M596.2 531.0l0.2 0.1M461.1 380.3l-0.2 -0.7M544.7 550.3l0.6 -0.1M455.3 419.5l0.5 0.4M564.1 431.6l0.4 0.1M593.8 423.9l0.9 0.9M593.4 453.4l0.5 0.9M543.7 443.7l0.7 -0.7M505.0 410.0l-0.9 0.5M529.9 420.4l-0.8 -0.3M465.0 463.9l0.7 0.3M588.0 462.2l-0.8 -0.4M449.9 371.7l-0.8 0.8M516.6 512.3l0.8 -0.9M445.6 470.6l-0.1 -0.1M498.2 544.8l0.8 -0.0M513.6 410.2l-0.4 -0.9M502.5 386.3l-0.0 -0.0M474.3 478.1l0.2 -0.5M440.3 436.8l0.9 -0.8M483.4 523.2l0.5 -1.0M453.3 417.1l0.1 0.5M529.0 492.9l0.8 0.0M462.0 449.1l0.4 -0.6M535.6 444.5l-0.2 -0.3M480.3 519.8l-0.1 -0.2M570.7 531.6l0.9 0.5M495.1 384.5l-0.1 0.4M499.8 532.3l-0.9 0.5M534.3 462.8l-0.4 -0.3M584.4 420.0l0.6 0.4M525.0 399.5l1.0 0.1M470.4 458.1l-0.5 -0.7M494.0 467.5l-0.2 -0.6M571.1 477.7l0.6 0.6M555.0 466.5l0.9 0.8M436.9 443.5l-0.3 -1.0M419.5 405.9l0.2 -0.1M559.0 534.2l-0.3 -0.6M414.7 389.7l-0.8 0.7M543.8 447.7l-0.5 0.6M505.7 432.7l-0.8 -0.4M468.4 419.8l0.5 0.5M481.0 450.5l-0.3 0.4M451.4 428.7l0.1 0.1M582.5 415.8l0.1 0.1M484.8 534.9l-0.6 0.9M441.5 446.0l0.2 0.2M470.3 447.5l0.8 -0.2" stroke="#8a0c1c" stroke-width="1.0" stroke-linecap="round" fill="none"/><path d="M437.0 480.8l-1.9 0.6M371.5 420.3l-0.8 -0.5M383.5 503.1l-2.2 1.2M366.5 460.9l2.1 -1.8M364.4 524.4l-0.7 0.5M409.6 546.7l0.4 -0.9M409.7 432.5l-0.5 1.6M413.8 470.9l1.2 1.6M383.4 405.3l1.5 -0.5M377.3 422.1l0.9 -1.8M376.1 415.9l-1.1 0.3M405.5 409.8l2.0 -0.7M386.3 382.0l2.1 0.1M381.6 406.1l1.0 0.2M369.3 371.9l-1.4 -1.9M395.7 395.4l0.6 1.2M359.9 415.9l1.7 -1.7M407.6 426.1l0.5 1.1M402.9 517.3l0.9 1.2M423.9 480.2l0.7 -0.6M380.3 488.6l2.1 0.8M386.3 435.4l0.7 -2.0M367.4 526.3l1.9 -0.8M418.6 495.4l1.5 1.2M361.7 485.5l-1.4 -1.9M357.3 408.7l-1.8 0.5M415.5 419.8l-0.8 0.9M434.7 484.9l-1.5 1.1M356.9 530.2l-0.0 0.5M402.5 472.5l0.6 0.7M453.3 516.1l-2.0 1.5M375.2 462.6l1.3 1.8M392.6 374.6l1.3 1.1M377.1 533.2l-1.1 -1.0M417.4 527.3l-0.6 -0.4M468.0 542.8l1.7 -0.7M379.1 421.3l-1.3 0.7M463.3 548.6l-0.2 -0.4M385.1 395.4l-0.7 -1.7M416.1 438.4l-1.8 -1.4M389.5 545.0l0.4 0.4M424.7 489.7l-0.0 0.8M420.0 433.0l0.5 0.5M382.5 473.9l2.2 -0.9M397.4 462.7l0.1 -1.8M362.6 448.0l-0.2 1.3M398.8 548.2l1.5 -2.0M359.1 524.9l-2.0 -1.3M433.1 519.8l0.2 1.3M395.4 526.4l-1.5 1.6M388.7 533.7l1.2 -1.5M460.1 524.4l-1.4 -1.4M381.6 417.6l-0.1 -1.3M405.0 424.1l-0.2 0.6M356.5 404.6l0.5 -0.4M367.1 425.1l1.8 0.7M390.9 437.7l1.6 -0.5M409.5 421.3l-0.8 0.2M392.6 386.7l-0.3 -1.6M395.9 506.2l-0.7 0.2M392.0 483.2l1.9 -1.6M448.7 503.7l-0.3 0.6M374.0 502.1l-1.4 1.6M392.2 480.5l1.2 1.9M392.7 401.3l0.4 0.7M414.3 425.2l-0.4 -0.8" stroke="#b01020" stroke-width="1.0" stroke-linecap="round" fill="none"/><path d="M512.7 438.1l-0.4 1.0M571.8 445.3l-0.0 0.5M439.4 421.8l0.9 -0.5M578.2 464.9l0.2 -0.5M561.4 451.9l-0.5 0.6M419.6 396.3l-0.8 -0.3M499.8 538.0l-0.2 -0.7M443.5 423.4l-0.3 -0.2M591.5 376.1l0.6 0.4M513.5 405.5l0.9 -0.1M508.1 414.4l0.5 0.8M458.7 492.4l0.9 0.6M550.6 416.3l0.8 0.2M564.1 436.4l-0.9 -0.4M586.4 449.0l-0.1 0.1M540.8 427.4l-0.8 -0.3M498.3 516.6l0.8 -0.6M524.4 469.7l-0.9 0.2M436.6 381.8l-0.9 1.0M419.6 408.8l0.3 0.3M505.6 551.1l0.3 -0.6M498.6 456.2l-0.5 -0.7M528.2 411.0l0.8 -0.7M459.8 408.1l-0.6 0.1M475.5 410.9l-0.6 -0.5M433.0 393.0l-0.3 0.7M537.6 410.1l0.9 -0.2M541.7 466.4l-0.9 -1.0M446.1 433.2l-0.1 -0.0M543.6 533.4l-0.7 -0.6M561.5 466.8l-0.5 1.0M473.6 495.2l0.2 -0.8M513.8 423.0l-0.4 0.2M436.4 397.3l-0.5 0.1M436.4 396.4l0.2 -0.1M560.9 479.6l0.6 -0.8" stroke="#8a0c1c" stroke-width="1.5" stroke-linecap="round" fill="none"/><path d="M383.3 405.2l1.1 1.5M415.2 511.3l-1.1 -1.7M367.8 436.1l-0.8 -2.1M426.0 440.2l-1.4 -1.2M453.7 519.3l0.4 0.8M381.9 522.6l-0.0 -1.2M381.8 383.7l-0.3 -0.7M408.1 404.3l0.9 -2.0M412.0 411.2l-1.5 1.3M387.2 373.4l-1.1 1.5M433.9 537.2l2.0 0.3M387.3 435.6l1.0 1.8M451.3 542.7l-1.4 0.4M408.3 409.8l-0.5 -2.1M372.3 430.1l1.6 0.6M373.7 402.8l0.3 -1.7M360.5 478.8l-1.0 -0.9M391.8 412.0l-2.1 -1.2M364.2 403.7l1.4 1.9M402.5 541.3l1.0 0.9M449.3 516.6l-1.7 -1.0M448.6 515.1l-1.5 0.8M367.0 470.7l-0.7 0.7M427.2 512.6l-1.6 1.9M399.0 498.8l0.9 1.4M380.9 540.9l-0.9 1.9M360.3 432.3l0.4 -0.2M425.7 516.5l-2.1 1.5M394.5 411.5l1.4 0.5M441.0 500.0l2.0 -0.2M360.7 528.7l-0.3 -1.1M378.7 515.9l2.2 -0.3M398.3 378.9l-0.3 -1.8M357.6 427.6l1.0 1.5M367.7 439.3l1.2 1.1M451.0 533.0l1.5 -1.5M435.8 474.7l0.3 -1.3M379.0 525.0l1.1 0.8M419.2 477.8l-0.5 -0.4M443.1 506.5l-0.0 0.6M413.3 498.6l-0.0 -0.8M391.1 411.4l1.8 -1.1M407.6 452.3l-1.7 -0.4M381.4 486.3l0.4 0.2M431.5 488.7l-0.2 -1.6M440.3 504.3l0.5 -1.5M395.8 529.6l-2.2 -0.1M381.2 377.3l-2.0 1.6M388.0 395.9l-1.7 0.7M454.3 534.6l-1.0 2.1M414.7 424.7l0.1 -1.1M369.9 456.0l0.5 -0.2M398.7 473.0l1.7 1.7M401.7 543.5l-0.1 -1.6M411.1 432.4l-2.0 1.5M434.2 487.8l1.7 0.6M423.4 505.2l0.6 1.8M423.8 499.5l0.2 -0.6M459.2 520.9l-1.4 1.3M395.1 504.1l1.2 -0.2M375.1 432.7l-2.0 0.1M357.2 419.7l0.6 -1.2M433.9 465.4l-0.8 -1.6M460.4 539.8l0.4 2.2M365.6 512.7l2.0 0.7M374.4 394.8l0.7 -0.5M387.8 452.0l-1.7 0.1M391.4 509.4l0.7 -0.6M413.9 468.1l-0.9 1.3M448.2 523.2l-1.2 1.5M393.3 471.1l0.4 -0.7M405.3 392.3l0.5 0.5M358.6 420.6l-1.6 0.2M397.8 478.8l-0.4 2.2M454.4 528.6l2.0 -1.2M410.8 507.3l-1.7 -0.0M370.4 524.2l-2.0 2.0M364.5 415.8l0.1 -2.0M431.6 515.2l1.8 -1.3M402.6 473.0l0.1 -0.3M423.9 449.6l2.1 1.2M430.1 506.5l-2.2 1.1M395.8 422.4l1.1 -0.2M431.1 479.8l1.8 -0.5M399.5 435.0l1.6 0.9" stroke="#d01818" stroke-width="1.0" stroke-linecap="round" fill="none"/><path d="M390.6 493.4l0.4 0.5M440.2 511.8l0.9 1.0M360.6 544.9l-1.4 -0.3M405.9 538.8l-1.4 -1.8M435.7 526.8l-0.3 -2.2M356.2 372.0l-1.2 1.5M411.8 447.9l-1.8 2.1M395.8 496.1l-1.6 -1.8M399.6 425.0l0.1 -0.7M416.6 529.4l1.9 0.3M361.6 425.7l1.6 -0.1M378.7 425.0l1.5 -1.8M375.9 482.7l-0.2 1.1M356.5 450.9l-0.9 -0.5M391.1 411.5l1.9 2.2M362.6 549.0l-0.1 1.5M392.9 546.4l-0.9 1.6M394.4 390.9l0.3 0.2M385.2 439.6l0.8 -0.8M442.4 519.0l0.4 1.2M419.6 494.5l-1.5 -1.8M435.8 469.0l0.2 -1.9M407.4 406.3l-1.6 -0.5M365.5 511.6l-0.9 -0.5M452.8 510.3l-2.0 0.3M373.5 541.7l-0.5 -1.8M438.1 548.9l-0.6 0.7M382.8 373.3l-1.4 -0.1M411.7 430.0l-1.8 -0.4M389.4 411.4l1.0 -0.8M403.0 507.3l-0.3 0.2M411.2 469.2l0.9 0.3M402.5 457.8l-1.7 -2.2M368.3 461.5l0.1 -1.8M390.3 394.1l0.2 -0.0M373.1 373.0l-0.1 1.4M379.1 382.4l0.2 1.3M389.3 423.6l1.2 -0.1M397.0 375.8l-1.8 -0.1M361.7 503.9l1.0 1.7M410.0 476.4l-0.1 -1.3M467.8 548.0l0.7 -1.6M382.7 530.4l1.4 0.8M388.2 455.2l-0.8 1.8M402.6 435.0l-0.9 -1.6M391.8 525.9l1.7 -0.5M405.7 534.4l-1.3 -1.0M468.5 545.0l-0.4 1.6M417.4 424.7l-0.6 0.9M443.4 527.3l1.1 1.6M358.0 378.7l0.5 -0.4M443.0 497.2l1.3 1.6M447.6 524.9l-0.4 -1.2M387.3 526.5l2.1 0.4M399.6 382.1l-0.2 0.4M372.9 380.2l0.3 -2.2M367.8 379.8l-0.3 -1.3M381.1 387.0l-2.1 -0.1M423.9 445.2l2.2 -1.8M366.5 465.3l1.6 -1.2M398.3 398.4l-0.7 1.7M374.7 406.4l-1.5 0.2M437.5 493.3l0.3 1.3M383.7 386.2l-2.0 1.6M423.2 465.0l0.9 0.6M463.9 528.4l-1.7 1.3M406.5 484.0l-1.8 2.1M457.3 531.5l-1.7 -1.6M466.9 537.4l0.7 1.3M399.9 402.9l-1.5 1.1M407.4 432.0l-0.4 0.8M395.5 435.7l2.2 -0.2M361.8 425.4l-0.4 -1.1M359.2 404.4l-0.4 1.6M394.7 516.7l-0.7 -2.1M405.9 439.8l1.4 1.2M361.2 468.6l1.2 0.7M375.9 396.2l-0.9 1.8M394.6 542.4l1.8 2.1M401.6 405.2l1.6 -0.0M377.7 390.1l-1.1 -0.2M412.5 533.8l1.3 0.0M379.5 380.0l-0.6 -0.5M360.3 529.3l-1.5 -0.2M393.7 531.9l1.8 -0.1M406.2 505.3l-0.0 -0.6M418.5 551.4l-0.4 -1.8M445.9 482.8l0.0 -0.2" stroke="#e02828" stroke-width="1.0" stroke-linecap="round" fill="none"/><path d="M408.6 399.9l0.9 1.9M395.3 393.8l-0.3 -0.9M408.0 433.7l-0.4 -1.5M423.3 494.3l0.2 -1.8M425.7 473.3l0.7 -0.2M456.5 517.1l-1.1 -1.7M368.0 392.8l-1.6 -1.0M415.8 476.1l-0.9 -2.1M363.6 405.9l0.5 -1.4M398.9 382.9l0.1 -1.6M429.9 488.8l0.7 1.6M431.1 491.3l0.9 0.2" stroke="#e02828" stroke-width="0.5" stroke-linecap="round" fill="none"/><path d="M391.7 373.0l-0.7 0.7M441.5 494.0l0.2 1.6M455.7 517.3l2.1 0.9M398.1 430.1l0.9 2.1M404.0 432.8l-1.1 1.4M364.3 380.1l1.8 1.7M417.3 469.8l0.7 0.4M460.2 546.1l1.0 -1.5M399.2 428.7l-1.5 1.3M368.2 471.6l1.6 -1.8" stroke="#d01818" stroke-width="0.5" stroke-linecap="round" fill="none"/><path d="M396.0 551.8l-0.5 2.1M399.0 407.3l0.8 1.3M377.4 388.4l-1.5 2.0M389.4 548.0l2.2 0.9M372.5 486.6l1.5 0.6M390.1 423.9l-0.2 0.5M363.4 517.5l0.7 -0.1M430.2 526.2l0.1 -0.5M405.5 480.0l-0.7 -0.4M405.8 507.1l-1.5 1.8M381.3 514.4l-1.4 -0.2M383.0 541.1l0.8 1.1" stroke="#b01020" stroke-width="0.5" stroke-linecap="round" fill="none"/><path d="M456.3 481.0l3.1 1.6M526.3 469.2l-2.5 2.4M459.5 421.6l-0.0 4.4M531.9 467.1l2.4 0.8M451.2 443.6l3.5 0.9M501.7 401.3l1.4 0.6M463.8 419.6l-0.9 3.7M503.8 499.3l-2.0 0.8M584.7 536.6l2.2 -0.2M538.8 513.3l-1.8 1.4M444.9 412.9l-1.0 4.2M556.1 456.0l-2.8 1.2M467.7 445.6l1.1 0.3M568.6 523.3l-2.2 3.3M549.4 522.6l-3.5 1.9M573.7 541.3l-1.1 0.5M454.5 396.3l-1.2 0.7M421.5 410.6l-3.4 2.9M457.1 404.8l1.0 1.6M539.7 468.0l-1.4 0.1M438.6 428.3l3.0 0.2M527.8 470.4l-1.9 0.6M418.3 399.5l2.7 1.4M476.3 414.8l-1.4 1.0M516.0 478.8l0.9 2.8M492.9 507.2l0.8 0.7M490.8 411.5l0.4 3.1M451.8 475.9l2.1 1.2M453.9 477.1l3.8 -0.3M536.1 488.4l1.8 1.1M467.2 413.2l-0.7 3.7M480.4 428.9l1.2 1.8M551.4 543.2l-0.5 2.8M529.4 508.4l0.8 1.7M536.2 520.9l1.3 1.6M424.5 374.3l-1.4 0.6M462.1 417.6l0.1 2.0M572.1 528.9l0.8 2.2M497.3 466.5l1.0 3.0M417.1 377.6l-3.5 0.6M492.0 456.5l-1.2 1.6M535.8 435.2l1.5 1.3M537.2 436.5l1.1 2.7M484.3 421.5l0.9 0.7M485.2 422.2l3.6 -0.9M598.9 544.7l-1.2 3.3M597.6 547.9l-1.2 2.7M425.2 425.1l3.7 0.1M565.2 540.3l0.7 2.6M463.0 496.0l1.5 1.0M470.0 454.4l2.0 -1.3M506.4 472.4l1.7 1.4M508.1 473.8l2.0 1.0M599.8 547.6l2.2 3.2M602.0 550.7l0.3 3.0M516.3 524.4l0.0 2.4M545.2 530.0l2.4 2.5M569.3 498.4l-1.5 0.9M529.9 530.1l1.2 0.7M531.1 530.8l1.4 2.0M515.0 515.4l-4.3 0.1M447.5 470.4l2.5 2.6M504.4 496.7l3.7 -0.9M494.5 496.4l-1.9 2.0M448.0 448.8l-2.0 0.6" stroke="#e6d21e" stroke-width="2.0" stroke-linecap="round" fill="none"/><path d="M488.6 436.2l4.2 0.7M492.7 436.9l3.6 -1.5M509.6 430.4l4.4 0.0M548.3 446.5l2.9 1.1M566.5 449.6l-0.9 1.0M505.1 461.2l-2.7 1.8M483.3 448.1l-3.1 0.3M599.8 534.5l-0.4 4.5M554.8 533.0l-0.4 3.7M421.6 409.5l-1.6 2.5M526.0 443.5l-2.6 1.0M443.0 417.2l-2.3 1.9M530.8 531.5l-1.2 0.7M529.6 532.2l-2.2 -1.0M591.5 528.1l-2.3 0.1M471.3 407.2l0.7 3.3M472.0 410.5l0.3 2.1M486.3 453.5l2.2 2.4M505.1 492.8l1.0 1.1M482.8 472.3l3.9 2.1M548.9 416.5l-0.9 3.2M491.0 433.2l0.3 2.7M491.3 435.9l-0.1 1.9M578.5 524.1l-1.1 2.0M577.4 526.0l0.6 2.8M443.8 442.4l2.2 2.5M470.8 483.8l-0.5 1.8M509.8 512.8l-0.4 1.6M524.6 520.9l-0.5 3.9M453.6 464.7l-4.0 0.4M429.9 428.8l-1.2 3.1M532.5 443.6l-2.8 0.5M578.2 506.5l-0.8 0.8M577.3 507.3l-1.4 1.0M497.0 498.8l-0.1 2.0M497.7 480.2l-1.0 1.0M449.8 412.8l0.2 2.5M468.0 430.3l-1.5 0.2M490.9 458.1l0.9 2.8M447.6 418.2l0.4 1.2M505.7 473.0l-2.0 1.0M590.7 460.3l0.4 3.3M543.4 478.7l-4.2 1.2M558.7 489.6l1.1 0.3M480.4 509.0l-2.0 1.7M478.4 510.7l-1.1 3.3M451.0 401.1l0.3 3.5M544.9 536.3l-2.0 3.8M576.5 506.7l1.8 0.8M458.5 390.9l-3.6 2.3M464.5 497.0l2.4 -0.8M529.6 505.3l-3.9 0.8M466.1 429.2l1.7 0.3M500.6 444.0l0.5 2.4M418.4 406.7l3.6 1.7M433.8 374.4l0.4 2.3" stroke="#e6d21e" stroke-width="1.5" stroke-linecap="round" fill="none"/><path d="M551.2 447.6l1.8 1.2" stroke="#e6d21e" stroke-width="1.0" stroke-linecap="round" fill="none"/><path d="M487.4 478.1l-1.0 0.8M434.6 391.7l2.9 2.8M462.6 421.6l-3.4 1.2M568.0 532.2l0.8 2.5M485.6 390.8l2.4 3.8M583.1 534.7l0.8 1.0M488.6 462.5l0.7 2.7M583.0 535.5l1.7 1.1M521.3 458.7l-2.5 1.0M498.5 441.5l2.5 1.5M467.3 516.9l0.1 1.8M564.6 491.9l-3.4 0.2M531.9 510.1l1.3 0.3M533.1 510.4l2.1 1.6M554.7 513.7l1.9 1.0M566.4 484.7l-1.7 1.0M426.2 381.4l1.8 0.2M544.2 481.4l-0.6 1.0M538.6 510.3l1.4 0.3M558.3 503.1l3.2 2.4M569.4 489.2l-0.4 1.3M507.4 537.2l-0.6 3.5M475.2 437.1l-0.6 2.7M554.0 419.9l0.3 1.5M551.3 447.1l-2.5 3.2M541.9 472.0l-0.9 4.0M541.1 476.0l-0.4 2.6M527.9 502.4l-2.0 2.2M508.4 482.9l1.6 0.6M526.7 455.3l-2.3 2.6M443.3 422.7l0.5 1.3M410.9 400.7l0.9 1.1M504.9 415.5l-1.3 3.7M479.6 397.7l0.3 3.9M479.9 401.6l2.7 1.1M437.3 415.5l-1.1 3.2M412.4 372.0l0.6 3.9M466.1 467.2l2.5 0.2M496.1 494.6l-2.9 0.0M551.8 540.6l-0.4 2.6M418.0 385.4l-3.5 2.5M439.6 398.3l0.9 1.4M522.4 475.2l2.9 2.4M450.8 437.3l1.0 1.8M469.2 416.2l-0.2 1.9M461.6 472.4l-3.3 1.4M521.1 502.3l0.6 2.1M564.3 517.0l0.2 1.5M596.5 543.2l-0.7 2.8M488.6 451.5l1.2 0.0M489.8 451.5l3.0 0.1M448.5 383.6l-1.2 4.3M495.3 470.3l1.3 1.5M466.4 454.0l3.6 0.3M457.0 382.2l2.3 1.7M560.0 494.6l-3.1 0.7M478.5 463.8l-2.0 0.2M500.9 457.7l0.3 1.4M555.1 516.7l-0.7 3.8M423.1 419.2l4.2 0.1M500.1 496.3l4.3 0.3M457.2 375.7l0.8 1.0" stroke="#e6d21e" stroke-width="2.5" stroke-linecap="round" fill="none"/><path d="M486.0 516.4l-2.6 1.2M560.1 549.1l0.8 3.0M441.3 399.7l-4.2 0.2M530.9 469.8l0.9 1.7M457.8 465.5l2.9 0.3M486.9 480.5l0.0 1.6M448.9 461.4l2.9 3.0M501.2 449.2l-0.5 1.8M453.8 408.3l0.7 3.6M490.6 456.3l-3.7 2.3M443.5 371.8l1.5 1.3M547.4 506.4l-2.4 0.4M563.5 456.1l-0.3 1.8M462.8 457.5l1.4 2.5M536.8 544.2l0.4 3.3" stroke="#2ccc30" stroke-width="2.0" stroke-linecap="round" fill="none"/><path d="M559.3 548.5l0.8 0.6M489.9 478.9l-3.1 1.6M570.7 508.3l1.1 1.4M474.3 469.5l-3.3 2.5M586.4 522.7l-1.3 2.1M521.6 536.2l-3.3 2.2M567.0 437.7l-2.8 1.9M514.8 535.5l1.8 0.9M490.9 422.0l-3.5 1.6M407.8 372.8l3.8 0.0M520.1 552.5l-3.9 0.8M516.2 553.3l-2.1 -3.0M522.0 466.4l-1.9 3.4M508.1 430.7l1.3 3.4" stroke="#2ccc30" stroke-width="2.5" stroke-linecap="round" fill="none"/><path d="M477.4 489.7l3.7 2.6M523.8 495.5l1.0 1.1M488.4 498.4l0.5 1.5M518.8 466.8l-4.2 0.0M454.0 457.4l1.0 0.5M501.9 477.4l-3.0 2.1M515.4 457.1l2.5 0.0M453.3 416.2l-0.1 2.0" stroke="#f0a020" stroke-width="2.0" stroke-linecap="round" fill="none"/><path d="M537.2 532.7l0.6 2.2M537.3 495.2l-1.8 0.1M469.4 505.2l-3.8 1.5M513.7 468.6l0.3 3.8M483.7 463.8l2.6 0.7M546.9 515.1l-1.4 0.5M483.2 489.5l4.1 0.4M565.2 444.5l-4.3 0.5M548.9 532.6l0.7 0.9M464.0 411.5l-0.6 2.1M548.1 509.5l-2.7 0.7M545.0 506.9l-2.3 -1.6M525.0 486.5l-1.5 0.6M523.5 487.1l-1.6 -1.1" stroke="#2ccc30" stroke-width="1.5" stroke-linecap="round" fill="none"/><path d="M471.6 419.3l4.2 0.6M489.8 451.6l-2.8 3.2M585.5 523.7l-0.8 1.3M520.7 489.4l-1.3 2.4" stroke="#d8307a" stroke-width="1.5" stroke-linecap="round" fill="none"/><path d="M431.0 434.9l-4.0 0.7M489.8 489.6l1.8 1.4M470.6 499.8l2.5 2.4M501.2 474.3l0.7 3.1M463.0 380.2l-1.8 0.4M538.9 548.5l1.9 0.3M506.3 403.1l-0.8 0.9M505.5 404.0l-0.4 1.7M535.0 525.7l0.6 0.8M508.5 498.7l2.6 1.6" stroke="#f0a020" stroke-width="2.5" stroke-linecap="round" fill="none"/><path d="M518.0 495.7l0.8 1.1M523.5 522.3l3.5 1.7M569.2 483.8l-1.1 0.4M476.8 427.7l-1.0 0.3M545.8 524.6l0.9 2.8M540.1 472.7l1.2 0.1" stroke="#e6d21e" stroke-width="3.0" stroke-linecap="round" fill="none"/><path d="M439.3 399.4l1.0 3.0M537.9 478.8l0.4 3.1M467.1 425.1l-3.0 1.6M464.1 426.7l-1.5 -0.7M424.2 390.3l3.1 2.5M409.9 379.5l-4.3 0.3M450.9 464.2l-2.6 1.5" stroke="#f0a020" stroke-width="1.5" stroke-linecap="round" fill="none"/><path d="M408.5 374.7l2.5 1.3M474.7 456.2l-1.0 3.3M473.8 459.5l-1.8 0.8M576.2 504.6l4.3 0.0M526.5 422.2l1.2 2.7M577.1 544.6l-3.2 1.1M533.5 499.8l2.5 0.5M453.0 421.5l-1.0 0.9M547.7 499.2l1.1 0.6M548.8 499.8l2.1 3.3M562.4 496.6l1.2 1.7" stroke="#d8307a" stroke-width="2.0" stroke-linecap="round" fill="none"/><path d="M590.3 549.1l0.5 2.9M562.0 495.6l0.3 1.0" stroke="#d8307a" stroke-width="2.5" stroke-linecap="round" fill="none"/></g></g><rect x="356.2" y="362.5" width="122.3" height="11.9" fill="#707070" opacity="0.88"/><text x="359.3" y="371.9" font-size="10.7" textLength="116" lengthAdjust="spacingAndGlyphs"><tspan fill="#ecdc20">CD68</tspan><tspan fill="#22c848">CD206</tspan><tspan fill="#e82020">CCL18</tspan><tspan fill="#2828e8">DAPI</tspan></text><path d="M470.1 420.3L463.2 428.0M464.0 424.1L463.2 428.0L467.0 426.8" stroke="#ffffff" stroke-width="1.5" fill="none" stroke-linecap="round" stroke-linejoin="round"/><path d="M521.8 485.2L515.0 494.4M515.5 490.4L515.0 494.4L518.7 492.8" stroke="#ffffff" stroke-width="1.5" fill="none" stroke-linecap="round" stroke-linejoin="round"/><path d="M580.8 518.2L572.4 526.0M573.6 522.2L572.4 526.0L576.3 525.1" stroke="#2ab0e0" stroke-width="1.5" fill="none" stroke-linecap="round" stroke-linejoin="round"/><text x="365.2" y="540" font-size="8.5" fill="#ffffff">50µm</text><rect x="364.8" y="543.2" width="21.5" height="1.6" fill="#ffffff"/><rect x="603.6" y="362.5" width="81.4" height="62.3" fill="#05052e"/><g clip-path="url(#ecl1)"><path d="M664.9 417.2l-0.1 0.2M635.6 403.0l-0.4 -0.1M629.4 409.9l0.1 0.6M639.7 363.8l-0.2 -0.5M667.5 418.0l-0.2 -0.3M656.8 409.9l-0.5 -0.5M633.5 371.8l0.3 0.6M679.1 380.2l-0.5 -0.1M638.5 425.9l-0.4 -0.1M664.4 363.8l0.0 0.2M661.5 414.7l-0.5 0.5M661.3 404.5l0.1 -0.4M656.4 367.7l-0.5 -0.5M609.1 426.3l0.0 -0.2M635.8 424.6l-0.0 -0.2M676.7 408.8l-0.1 -0.2M604.6 377.2l0.2 0.2M616.0 368.6l-0.5 0.1M673.2 382.0l0.2 0.4M620.7 398.5l0.1 0.1M672.4 419.3l0.3 0.4M618.7 380.2l-0.5 -0.5M648.1 378.1l0.1 -0.4M625.6 401.1l0.0 -0.2M668.4 418.3l-0.2 0.6M645.3 363.9l-0.5 -0.5M626.8 409.3l0.3 0.6M638.6 402.4l-0.5 0.1M628.1 391.6l0.3 0.4M637.2 392.6l-0.4 0.2M674.3 401.6l0.1 0.3M683.6 425.1l-0.1 0.4M612.9 396.0l0.6 -0.2M627.3 412.1l-0.1 -0.5M615.4 377.4l0.4 0.0M679.8 393.8l-0.6 -0.1M674.6 395.5l-0.2 -0.6M664.6 420.9l0.5 -0.0M638.3 403.5l0.2 0.3M615.6 388.3l0.2 -0.1" stroke="#1c1cc8" stroke-width="2.5" stroke-linecap="round" fill="none"/><path d="M652.3 374.1l0.0 -0.3M612.1 411.9l0.1 0.6M623.3 373.6l-0.1 -0.5M653.4 370.9l-0.2 0.1M663.1 416.7l0.5 -0.1M658.0 400.0l-0.1 0.6M653.7 397.1l0.2 0.3M650.2 366.7l0.4 -0.5M655.0 408.4l0.3 -0.3M631.7 383.9l0.0 0.2M651.7 384.5l-0.6 0.4M665.2 418.7l-0.4 -0.2M630.1 424.6l0.2 -0.5M663.1 423.4l0.1 0.4M623.5 376.4l-0.0 -0.4M623.5 407.4l0.3 -0.6M685.9 364.0l0.4 0.4M622.7 378.8l-0.1 -0.5M603.3 426.3l-0.5 0.0M610.9 361.8l0.5 0.2M631.6 384.3l0.1 -0.6M645.8 417.1l0.4 -0.2M659.5 376.5l-0.6 -0.3M623.3 361.4l-0.5 0.2M647.7 394.2l-0.6 0.2M683.7 403.3l-0.6 0.3M613.6 381.2l0.3 -0.2M666.9 396.6l-0.3 0.0M681.6 375.6l-0.4 -0.0M666.1 403.2l0.0 0.1M640.6 400.0l-0.2 -0.5M636.7 401.8l0.6 0.4M662.9 401.7l0.5 -0.4M631.1 414.6l-0.5 -0.3M668.2 366.9l0.4 -0.4M640.4 387.0l0.2 0.3M606.9 397.1l0.1 0.4M659.3 395.2l-0.6 -0.3M647.7 417.7l-0.3 -0.3M658.1 362.2l-0.0 -0.4M604.6 377.5l-0.5 0.4M602.7 405.6l0.5 0.5M656.7 394.3l-0.2 -0.0M608.6 404.7l0.3 0.1M639.3 410.0l-0.5 0.3M669.0 366.0l-0.5 0.0M660.6 360.9l0.2 0.4M658.4 377.1l0.2 -0.2M628.2 407.6l-0.3 0.1M619.6 407.5l0.3 -0.4M651.9 416.8l-0.5 0.2" stroke="#1616b0" stroke-width="2.0" stroke-linecap="round" fill="none"/><path d="M671.0 388.3l0.3 0.0M621.9 399.6l-0.3 -0.2M624.1 372.9l-0.6 0.5M665.9 421.3l0.1 -0.2M638.4 408.4l-0.1 0.5M621.3 360.8l0.5 0.3M660.4 425.1l0.3 0.3M675.4 414.2l-0.6 -0.2M621.7 384.7l-0.2 -0.3M682.8 420.3l0.6 -0.1M643.4 373.2l0.3 -0.3M612.1 410.7l0.4 -0.1M661.6 381.0l0.1 -0.1M654.2 362.2l0.3 -0.0M649.1 398.0l0.5 -0.2M672.8 395.8l0.0 0.4M680.1 372.8l0.4 0.5M622.3 382.0l-0.5 -0.2M664.8 398.3l-0.5 -0.0M645.4 364.9l-0.2 0.6M664.6 413.6l0.4 -0.2M666.5 379.0l-0.5 -0.1M615.9 376.9l-0.4 -0.0M627.5 374.1l0.6 0.5M633.4 370.2l0.6 -0.3M632.2 404.1l-0.6 -0.4M620.8 390.9l-0.3 -0.3M656.7 369.1l-0.4 -0.2M665.8 406.4l-0.3 -0.3M679.7 421.9l0.2 0.1M657.7 363.4l-0.3 -0.3M655.4 400.3l-0.5 0.4M649.5 373.4l0.1 -0.3M631.3 369.3l-0.4 -0.1M642.7 370.1l0.3 -0.3M638.1 369.5l0.3 0.4M675.6 417.1l0.4 -0.2M673.5 384.1l-0.3 -0.4M676.0 405.7l-0.3 0.3M652.9 400.2l-0.6 -0.3M642.5 408.5l0.2 -0.5M656.6 411.1l-0.5 -0.2M665.4 368.0l-0.2 0.6M627.0 378.0l-0.3 -0.3M682.7 394.5l-0.4 0.6M679.9 385.9l-0.2 0.3M651.5 406.5l-0.4 -0.2M608.3 372.5l0.5 -0.3M639.4 371.3l-0.2 0.0" stroke="#1616b0" stroke-width="2.5" stroke-linecap="round" fill="none"/><path d="M681.2 418.2l0.1 0.1M652.0 414.1l-0.1 0.5M623.6 386.6l0.2 0.1M671.9 420.1l-0.4 -0.4M604.1 394.9l-0.1 0.1M626.6 389.3l-0.1 0.4M666.1 409.8l-0.3 -0.5M645.9 378.9l-0.6 0.2M655.5 405.9l-0.1 0.3M660.5 369.5l-0.3 -0.6M614.0 395.1l0.0 -0.3M647.5 384.5l0.4 0.2M682.6 362.6l0.4 -0.6M629.9 385.0l0.2 0.1M679.7 377.3l-0.2 0.5M616.8 374.2l-0.3 0.4M617.7 412.3l0.5 0.2M644.4 392.3l0.4 0.3M673.7 411.9l0.2 -0.5M627.5 374.4l0.4 -0.2M645.3 377.9l0.6 0.5M626.0 395.4l-0.2 0.2M627.0 377.5l0.1 -0.3M650.3 416.8l0.0 0.3M610.4 385.5l0.5 0.0M627.0 369.0l-0.1 -0.4M626.2 375.2l0.6 0.1M678.2 378.0l-0.1 0.3M622.4 393.9l-0.1 -0.4M631.0 394.8l0.3 -0.2M640.9 368.7l-0.5 0.6M674.9 362.1l-0.2 0.0M641.6 415.5l0.6 -0.4M646.2 416.9l-0.3 0.6M603.9 401.3l0.3 -0.3M621.7 418.8l-0.1 -0.2M655.7 393.9l-0.2 0.2M626.0 395.5l0.1 -0.1M650.0 374.1l-0.5 -0.0M642.4 382.8l-0.6 -0.2M678.5 393.8l0.0 0.2M626.4 370.4l-0.5 0.2M642.0 401.9l0.3 0.0M644.9 417.1l-0.6 0.3M637.4 425.4l0.5 0.3M675.5 393.5l0.5 0.4M630.2 414.2l-0.2 0.2M631.2 408.3l0.2 -0.6M608.1 404.2l-0.2 -0.3M634.3 395.4l-0.1 -0.4M647.6 375.1l0.3 0.2M634.7 373.8l0.5 -0.2M629.8 379.0l0.3 0.2M678.8 397.0l-0.1 -0.5M640.7 415.3l0.5 -0.3M679.8 424.9l0.1 -0.4M685.1 385.3l0.3 -0.1M660.7 411.2l-0.1 -0.6M640.0 386.5l0.3 -0.1M661.8 368.3l0.2 0.6M651.7 364.9l0.4 -0.1M621.3 396.3l-0.3 -0.3M663.5 373.0l0.4 -0.3M635.0 377.6l0.5 -0.4M683.7 370.0l0.4 0.1M636.3 406.9l-0.3 -0.4" stroke="#2a2ae6" stroke-width="2.5" stroke-linecap="round" fill="none"/><path d="M681.6 378.8l0.6 0.4M676.6 362.1l-0.5 0.4M616.6 426.1l-0.5 0.4M676.3 420.1l0.2 0.3M662.1 404.4l-0.4 0.3M640.0 420.9l0.5 0.4M623.0 424.0l-0.4 -0.5M673.1 369.0l-0.0 -0.1M647.4 398.3l-0.3 -0.5M671.5 417.5l-0.5 -0.1M670.0 423.8l0.2 0.3M611.2 394.8l0.2 0.5M604.2 418.7l-0.5 0.4M627.4 412.1l0.4 -0.5M605.1 385.9l0.5 -0.2M670.0 413.7l0.6 0.2M661.5 416.5l0.4 -0.6M619.6 383.7l0.1 -0.5M648.9 366.3l-0.4 0.4M628.3 370.5l0.3 0.5M676.6 361.8l-0.3 0.2M605.6 401.6l0.6 -0.4M630.0 397.6l-0.2 -0.1M636.6 422.7l-0.1 0.6M668.9 397.5l-0.2 0.6M640.7 385.6l-0.2 -0.4M638.7 393.2l-0.5 0.2M611.6 392.4l0.1 0.1M680.7 389.4l0.1 -0.6M629.2 393.8l-0.3 -0.3M639.4 390.5l-0.2 -0.2M632.2 396.3l-0.1 -0.2M628.2 420.3l0.4 -0.4M644.1 416.8l-0.6 0.4M664.8 372.1l0.5 0.4M636.1 385.7l-0.0 -0.1M620.0 371.4l0.1 0.1M647.6 419.2l-0.0 0.4M669.2 406.9l0.2 -0.2M643.8 361.3l-0.1 0.1M656.0 405.4l-0.1 -0.3M635.2 416.3l0.0 -0.2M670.9 363.1l-0.2 -0.1M665.2 409.6l0.2 0.3M672.1 395.5l-0.1 -0.5M651.3 381.8l-0.6 0.6M619.9 415.0l-0.5 0.1M609.1 395.4l-0.2 0.1M679.3 424.4l0.6 -0.6M656.4 378.4l0.0 -0.2M667.3 380.2l0.5 0.1M635.6 395.1l-0.3 0.1" stroke="#2222d8" stroke-width="2.0" stroke-linecap="round" fill="none"/><path d="M634.4 393.2l-0.4 -0.2M673.5 420.9l-0.3 -0.1M619.0 407.1l0.2 -0.1M604.2 392.5l-0.2 0.5M614.8 399.3l0.5 -0.3M664.3 364.1l0.4 0.2M657.6 394.4l0.0 0.5M646.7 425.9l0.3 0.6M624.1 421.5l-0.5 -0.5M643.2 392.6l0.1 -0.4M683.3 361.9l0.1 0.3M643.6 425.1l-0.4 0.4M663.1 411.5l0.4 -0.3M620.2 386.1l0.0 0.4M626.0 394.9l-0.3 0.2M629.8 396.1l-0.2 -0.2M621.9 384.6l0.3 -0.5M602.4 376.5l-0.2 -0.0M647.4 396.6l0.6 0.4M666.1 363.4l0.6 0.5M652.4 389.3l0.3 0.1M647.2 407.1l-0.3 -0.2M637.0 401.7l0.2 -0.2M611.9 398.4l-0.1 -0.3M634.4 386.0l0.1 0.6M658.7 388.6l-0.4 -0.0M675.4 391.7l0.4 -0.3M629.9 400.9l0.3 0.4M674.0 420.3l-0.5 0.2M649.2 378.0l0.4 0.4M631.4 398.6l0.2 0.4M645.1 421.1l-0.6 -0.2M685.8 367.6l0.1 0.5M616.6 362.0l-0.4 0.3M643.4 418.8l-0.1 0.2M682.2 415.6l-0.3 -0.5M621.1 393.8l-0.3 0.0M658.2 423.2l0.2 -0.2M668.7 393.2l0.1 0.2M675.3 410.4l0.4 -0.6M629.6 368.9l-0.2 -0.2M660.9 407.7l-0.3 0.5M656.1 363.5l0.4 0.1M640.5 399.7l-0.5 0.5" stroke="#2222d8" stroke-width="2.5" stroke-linecap="round" fill="none"/><path d="M622.6 369.2l0.5 0.6M624.3 369.0l0.2 0.1M673.6 422.0l-0.0 0.0M634.5 361.9l0.0 -0.2M651.4 371.7l0.1 -0.6M662.9 375.3l-0.3 0.4M641.7 411.8l0.2 -0.5M621.4 375.6l0.3 -0.2M617.8 362.0l0.5 -0.0M673.8 363.5l-0.2 -0.4M622.0 426.4l0.2 0.4M681.1 394.0l-0.0 -0.4M665.5 395.7l-0.3 -0.3M621.8 385.5l0.5 -0.5M644.7 411.8l-0.1 0.1M639.9 419.0l0.3 -0.3M646.1 411.7l-0.4 -0.6M634.8 394.6l0.5 0.3M666.8 406.7l-0.5 0.2M628.1 381.1l0.2 0.2M641.1 409.8l0.3 -0.2M626.7 384.1l0.2 -0.5M643.7 361.2l0.5 0.3M681.2 401.3l0.4 -0.1M664.8 361.8l0.3 -0.4M611.7 391.6l0.1 -0.5M621.3 419.1l-0.5 0.1M645.9 378.7l0.3 -0.1M652.9 386.4l0.2 -0.5M680.2 403.4l0.1 0.5M645.2 392.3l-0.3 -0.2M624.0 386.5l-0.3 -0.5M627.9 383.8l-0.0 0.1M659.1 371.8l0.3 -0.5M673.4 394.8l-0.0 0.5M683.1 374.4l-0.2 -0.0M680.5 410.2l-0.1 0.0M671.5 402.3l-0.1 -0.4M642.3 369.6l-0.6 0.4M681.3 418.3l0.3 -0.1M624.1 401.8l-0.4 -0.3M684.4 410.7l-0.1 -0.2M679.3 399.0l0.1 0.3M627.8 397.2l0.2 0.4M681.1 378.0l0.4 0.5M610.8 399.1l0.1 -0.4M665.0 360.5l-0.1 0.4M683.1 378.0l0.2 -0.4M634.2 370.7l-0.5 0.4M621.5 407.6l0.2 -0.4M627.6 389.3l-0.2 -0.5M620.9 425.2l-0.2 -0.4M642.1 410.6l0.2 -0.2M639.6 390.6l-0.0 0.4M684.0 397.2l0.3 -0.4M673.2 399.4l0.6 -0.5M644.5 378.7l-0.4 0.6M646.2 392.9l0.0 0.4M607.4 377.5l0.1 -0.6M681.0 422.9l0.2 0.0M662.9 411.6l0.2 0.6" stroke="#12129a" stroke-width="2.5" stroke-linecap="round" fill="none"/><path d="M685.8 376.7l0.4 0.2M654.9 420.1l-0.4 -0.4M666.8 379.0l0.2 0.3M624.6 396.7l-0.1 -0.4M636.8 398.4l0.2 -0.2M644.1 395.7l0.1 -0.4M654.3 383.9l0.6 -0.0M660.7 361.7l0.4 -0.0M635.9 385.5l0.6 0.5M648.8 385.5l-0.5 -0.4" stroke="#1616b0" stroke-width="3.0" stroke-linecap="round" fill="none"/><path d="M666.8 417.5l0.4 0.3M604.9 369.9l-0.0 -0.5M610.1 390.3l-0.3 -0.3M629.4 405.3l0.4 -0.2M630.9 369.1l0.0 -0.5M651.9 387.8l0.4 0.0M658.8 363.7l-0.2 0.4M650.4 382.8l-0.3 -0.4M620.4 415.6l-0.1 0.2M603.6 384.2l-0.5 -0.6M659.1 382.8l-0.1 -0.6M650.7 419.0l-0.6 -0.2M661.9 414.3l0.4 -0.0M666.3 400.1l0.2 -0.0M653.5 373.9l0.1 -0.1M644.3 392.4l-0.3 0.3M639.7 415.2l0.2 -0.4M685.2 385.0l0.5 0.5M684.7 408.7l0.4 0.4M677.4 377.7l0.1 -0.6M667.9 399.4l-0.2 0.3M657.0 370.5l-0.0 0.5M626.5 411.0l-0.4 0.1M675.1 394.4l-0.5 0.1M645.6 378.8l0.5 0.1M684.4 405.2l-0.2 0.3M618.9 381.5l-0.1 -0.4M637.0 422.9l-0.4 0.5M629.1 414.7l-0.1 -0.2M661.4 370.6l-0.5 0.5M654.4 408.9l0.5 0.2M661.6 415.5l0.4 0.2M669.7 413.7l0.0 -0.2M614.6 365.3l0.6 -0.2M632.8 399.3l0.2 0.5M620.7 379.4l0.5 0.4M638.5 378.4l-0.4 -0.0M643.3 397.3l-0.5 0.3M681.9 408.1l-0.6 -0.1M676.9 382.7l0.4 0.3M634.9 418.0l0.3 -0.4M654.2 375.2l0.6 0.4M611.7 407.9l0.3 -0.1" stroke="#2a2ae6" stroke-width="2.0" stroke-linecap="round" fill="none"/><path d="M629.1 421.5l-0.4 -0.6M655.3 405.1l-0.5 -0.2M641.8 393.3l0.5 -0.2M659.4 402.6l0.2 0.5M636.3 418.8l-0.6 -0.2M647.8 405.0l-0.3 0.2M606.8 378.5l0.0 -0.3M616.8 396.7l0.6 0.3M629.1 408.6l-0.6 -0.2M626.5 387.0l0.0 0.2M627.4 390.0l-0.4 0.4M652.4 379.3l0.1 -0.3M646.5 371.8l0.1 0.5M627.9 400.4l0.6 -0.3M635.8 420.8l0.5 -0.2" stroke="#2222d8" stroke-width="3.0" stroke-linecap="round" fill="none"/><path d="M648.1 383.5l0.5 -0.3M679.6 396.3l0.1 -0.5M619.8 373.9l0.2 0.4M620.3 389.5l-0.0 0.2M678.2 395.0l0.0 -0.3M682.3 380.1l0.4 -0.1M618.7 362.5l0.5 0.6M667.8 412.7l0.3 -0.5M622.3 376.4l0.6 0.2M664.5 408.6l-0.1 0.5M624.3 383.5l-0.4 0.1M629.1 408.1l0.2 -0.5M667.9 395.0l0.5 0.1M676.1 410.9l0.4 0.6M649.6 379.5l0.0 -0.1M636.6 422.9l-0.3 -0.4M631.0 420.6l-0.3 -0.6M608.3 362.7l-0.1 -0.3M674.2 386.3l-0.1 -0.5M621.8 382.9l0.1 0.4M635.0 393.9l0.3 0.2M663.1 392.0l-0.4 -0.3M672.7 368.0l-0.0 -0.3M667.4 395.9l0.1 0.5M680.6 420.1l-0.5 -0.3M630.3 396.9l-0.3 -0.5M678.5 397.8l0.2 -0.2M667.8 386.8l-0.2 0.5M604.1 425.2l0.2 -0.5M636.2 393.0l0.4 -0.4M658.3 387.4l0.4 -0.6M635.4 420.3l-0.3 0.6M627.2 386.6l-0.6 -0.1M647.1 384.8l-0.4 0.4M641.7 381.4l0.5 0.2M639.0 379.1l0.0 0.1M638.8 381.2l-0.4 -0.0M612.9 376.4l-0.4 0.2M631.9 420.4l-0.6 0.5M620.8 418.8l-0.1 0.2M634.2 379.4l-0.1 -0.1" stroke="#1c1cc8" stroke-width="2.0" stroke-linecap="round" fill="none"/><path d="M685.5 408.4l0.0 -0.1M618.9 389.1l-0.5 -0.2M636.5 414.9l-0.2 0.1M634.2 374.8l0.2 0.1M626.6 420.4l0.4 0.4M648.5 420.4l-0.4 0.4M608.2 379.3l0.1 0.2M613.5 405.0l0.3 -0.2M622.0 408.4l-0.3 -0.6M670.4 425.0l0.0 -0.5M646.1 393.6l0.3 0.2M610.4 379.4l-0.5 -0.2M676.3 399.7l-0.2 0.1M674.9 382.4l0.2 0.6M651.0 389.1l0.2 0.2" stroke="#12129a" stroke-width="3.0" stroke-linecap="round" fill="none"/><path d="M674.3 424.2l0.3 -0.1M642.3 421.3l-0.2 0.0M676.2 394.5l0.6 -0.0M619.9 367.0l-0.6 0.5M677.9 377.1l-0.3 0.2M632.2 366.0l0.4 0.3M672.8 361.5l-0.3 0.1M663.7 391.6l0.4 0.4M612.7 404.3l-0.3 0.1M632.3 396.7l-0.3 0.6M604.2 387.3l0.2 0.2M605.1 369.7l0.1 0.5M682.6 391.9l0.5 0.6M657.6 371.6l0.6 -0.4M672.1 405.9l-0.4 -0.5M613.9 362.6l-0.0 0.1M644.6 380.3l-0.6 -0.2M646.9 408.4l-0.3 -0.1M654.5 389.0l0.5 -0.1M644.6 381.4l0.2 -0.3M665.2 375.5l-0.1 0.5M655.2 373.7l-0.1 0.0M649.3 395.1l0.6 -0.6M651.4 425.5l0.6 -0.0M656.6 411.7l0.4 0.4M678.9 409.6l0.4 0.3M684.4 403.8l-0.1 0.5M642.3 383.3l-0.2 -0.5M650.5 405.7l0.4 0.5M677.7 367.3l-0.2 0.0M676.9 400.1l0.5 -0.4M637.8 408.5l-0.4 -0.2M664.5 413.5l0.3 0.2M663.0 416.6l0.4 0.4M638.0 366.7l-0.6 -0.4M638.7 387.2l-0.5 0.2M676.6 387.9l-0.1 0.0M619.4 387.2l0.3 -0.2M660.9 372.1l-0.5 -0.5M627.4 421.9l-0.4 -0.2M628.4 419.3l-0.5 -0.0M631.1 397.4l-0.6 -0.1M685.9 375.3l-0.4 -0.4M649.2 369.5l0.6 -0.6M635.6 389.1l0.1 -0.5M669.5 382.9l-0.2 0.2M642.4 377.8l-0.1 -0.5M643.0 426.2l-0.2 0.4M684.1 385.7l0.4 0.2M680.3 375.1l0.2 -0.6M670.3 397.4l-0.4 -0.3M683.9 417.8l0.4 -0.2M649.2 369.5l0.4 0.1M679.7 409.5l0.1 0.4M655.9 377.9l-0.1 -0.4" stroke="#12129a" stroke-width="2.0" stroke-linecap="round" fill="none"/><path d="M676.6 423.6l0.6 0.3M664.3 406.0l0.6 -0.4M607.2 407.5l-0.4 0.5M677.4 422.5l0.1 -0.1M655.0 395.6l0.2 -0.3M633.2 378.5l-0.1 -0.4M642.1 395.2l0.1 -0.5M682.6 421.1l-0.2 -0.3M607.8 416.3l-0.2 -0.2M623.7 362.8l-0.2 0.4M631.4 369.1l-0.1 0.2M653.2 408.8l0.5 0.4M644.8 381.2l-0.0 -0.2" stroke="#1c1cc8" stroke-width="3.0" stroke-linecap="round" fill="none"/><path d="M656.9 396.9l-0.2 -0.2M636.4 409.3l0.1 0.0M680.3 387.3l0.1 0.4M652.4 417.1l0.3 -0.2M651.7 409.9l-0.3 -0.4M620.6 373.2l0.2 -0.4M637.1 421.2l-0.6 0.5M662.3 410.0l-0.5 -0.3M685.5 396.6l-0.6 0.2M644.8 408.7l0.0 -0.2M663.8 369.4l0.5 -0.2" stroke="#2a2ae6" stroke-width="3.0" stroke-linecap="round" fill="none"/><path d="M653.2 393.0l0.7 -0.0M665.5 421.0l0.4 0.5M674.8 414.5l0.5 0.2M636.6 392.1l-0.6 -0.3M629.4 424.5l0.4 0.5M617.7 396.2l0.1 -0.2M662.6 383.8l0.5 -0.3M652.2 382.1l0.1 -0.2M670.2 398.4l0.6 0.1M642.3 406.7l0.5 -0.2M657.7 398.9l0.0 -0.1M652.2 377.0l-0.6 0.6M668.9 376.3l0.0 -0.2M658.2 403.7l-0.7 -0.7M667.9 394.2l-0.6 -0.1M649.4 391.9l-0.6 -0.1M662.6 397.3l-0.2 -0.1M641.4 399.0l0.5 -0.6M646.5 369.6l-0.3 -0.4M674.8 395.2l-0.3 -0.4M666.0 404.0l0.1 0.1M639.0 378.1l0.5 0.4M657.4 378.0l0.6 -0.5M617.1 392.9l0.2 -0.8M677.5 383.0l0.7 -0.4M657.1 384.8l0.4 0.2M681.5 413.6l0.6 -0.4M649.3 378.6l0.5 0.4M628.5 394.0l0.6 0.5M641.4 395.3l-0.1 0.8M648.8 394.7l0.1 -0.5M667.7 396.3l-0.4 -0.3M665.6 410.0l0.3 -0.5M641.9 406.2l0.3 -0.4M671.5 422.0l0.4 -0.4M617.5 404.1l-0.2 0.3M660.2 418.6l0.6 -0.2M653.5 422.6l-0.7 -0.6M669.1 373.5l0.1 -0.1M659.4 419.4l0.7 -0.1M654.1 419.8l-0.0 -0.6M684.9 419.8l0.1 0.0M681.2 408.0l0.4 0.7M661.4 394.6l0.2 0.2M651.3 372.0l0.7 0.4M661.6 368.2l-0.8 -0.7M639.4 412.2l-0.1 0.5M645.4 381.4l0.6 -0.5M654.2 391.1l-0.2 0.6M653.9 375.3l-0.5 -0.0M635.1 386.0l0.2 -0.8M670.9 377.4l-0.1 0.5M685.0 375.6l0.5 0.1M682.6 413.3l-0.1 -0.1M643.4 368.7l0.2 -0.1M681.0 401.2l-0.8 0.2M615.6 411.9l0.0 -0.1M670.9 406.1l-0.7 -0.8M670.0 405.9l-0.2 0.2M674.6 400.0l0.3 -0.7M630.5 405.6l0.7 -0.3M632.5 398.8l0.2 0.1M652.7 381.0l0.6 0.1M679.8 406.5l0.7 -0.2M626.2 366.7l-0.3 -0.3M665.9 368.5l0.5 0.4M637.7 386.1l0.1 -0.3M657.7 423.1l0.2 0.2M616.6 372.9l-0.3 -0.5M660.5 424.2l0.4 -0.0M636.6 394.7l0.6 0.5M631.7 421.9l0.8 0.8M635.3 386.6l0.1 0.0M652.1 392.5l-0.8 0.6M672.4 405.0l0.7 -0.6M651.6 372.9l0.2 0.7M669.2 387.8l-0.7 -0.1M637.8 390.0l0.2 0.5M676.4 366.0l0.1 0.3M641.1 413.6l0.7 0.6M657.2 402.1l0.5 -0.7M681.0 408.9l0.5 0.4M645.2 367.7l-0.1 -0.3M657.3 414.4l-0.7 -0.6M614.1 374.9l0.7 -0.3M653.7 409.0l0.2 -0.4M661.1 387.8l-0.2 -0.6M673.6 398.3l-0.4 -0.1M666.9 369.8l0.1 -0.1M635.6 391.6l-0.6 -0.5M680.3 386.9l0.4 0.7M656.1 370.7l-0.3 0.4M622.5 373.9l0.8 -0.8M660.2 379.4l-0.1 0.6M652.6 413.3l-0.8 -0.4M666.3 417.8l0.4 -0.4M616.5 371.9l0.4 0.0M616.2 388.2l0.2 -0.1M655.0 371.1l0.1 0.4M656.5 390.1l-0.3 -0.2M634.7 411.7l-0.7 -0.1M648.3 369.2l-0.2 -0.7M620.0 374.0l0.4 -0.8M636.9 402.2l0.6 -0.6M681.7 371.2l0.5 -0.6M673.5 383.9l-0.2 0.2M652.1 370.9l-0.2 -0.7M662.4 372.2l0.1 0.3M670.2 404.6l0.5 0.6M665.9 421.7l0.3 -0.5M657.2 418.6l-0.6 -0.3M661.4 398.1l-0.2 0.6M671.0 419.9l0.5 -0.3M636.9 381.3l0.2 0.6M667.0 365.6l-0.4 -0.7M663.2 413.0l-0.6 -0.8M650.1 378.2l-0.6 0.4M642.1 371.1l0.2 -0.8M685.9 376.8l0.4 0.0M646.1 420.6l-0.1 -0.8M685.9 424.7l-0.3 0.2M657.6 380.4l0.7 -0.5M645.2 394.2l0.6 -0.5M672.5 373.6l-0.3 0.2M675.3 395.3l-0.5 0.5M660.2 372.2l-0.0 0.7M669.5 372.4l0.6 0.7M653.9 373.8l0.1 -0.4M669.2 372.0l-0.7 -0.1M646.1 416.7l-0.1 -0.3M672.2 381.8l0.4 -0.2M619.2 392.1l-0.1 -0.6M643.2 396.8l-0.2 0.4M672.6 382.6l-0.7 -0.7M677.9 394.5l0.0 -0.0M667.0 367.3l-0.4 -0.6M644.1 382.3l0.0 0.4M609.7 397.8l-0.5 -0.7M640.1 404.4l-0.6 -0.4M685.1 375.3l-0.7 0.0M679.1 419.7l-0.2 -0.3M667.5 399.1l-0.7 -0.7M634.7 393.1l0.7 -0.5M671.2 389.3l-0.5 -0.1M664.6 424.7l-0.3 0.7M632.9 414.4l0.7 0.2M669.7 399.7l0.4 0.3M673.4 406.7l0.7 -0.4M633.3 405.2l0.5 -0.4M638.7 403.1l0.2 -0.5M632.0 400.8l-0.7 -0.0M682.1 399.3l0.2 -0.2M621.4 403.7l-0.3 -0.3M629.6 390.9l0.8 -0.5M630.0 376.0l0.0 -0.5M634.1 390.6l0.6 -0.7M682.6 389.7l-0.4 -0.7M640.2 415.1l0.6 -0.4M653.0 375.1l-0.5 0.2M638.6 381.1l-0.8 0.2M643.8 391.0l-0.5 0.3M653.0 418.2l0.4 -0.5M650.1 414.0l0.7 -0.5M649.9 384.4l-0.5 -0.7M660.6 409.1l0.3 0.6M677.7 417.7l0.4 -0.1M648.2 411.8l-0.6 0.3M674.5 411.1l-0.4 -0.7M650.9 411.8l-0.7 -0.1M660.3 422.4l-0.3 0.3M656.0 387.1l-0.4 0.7M676.5 414.7l0.2 0.1M668.5 420.1l0.3 0.4M665.5 409.7l0.8 0.1M643.3 371.3l-0.1 -0.3M681.8 368.0l0.8 0.1M636.8 403.3l-0.4 -0.6M634.6 393.1l0.2 -0.8M624.5 406.3l0.5 0.3M663.4 379.7l-0.2 0.7M652.5 377.2l-0.2 0.1M681.5 410.2l-0.7 0.3M643.3 393.5l-0.0 -0.7M685.6 399.4l-0.5 0.3M637.2 378.3l-0.5 -0.2M667.4 424.7l-0.3 0.7M632.0 372.2l-0.4 0.3M634.8 375.6l0.2 -0.7M682.9 416.0l-0.8 0.2M660.7 421.0l0.8 0.1M668.9 398.1l0.3 -0.8M665.8 385.9l-0.8 -0.4M645.7 377.7l0.0 -0.3M680.2 391.8l-0.4 -0.0M667.6 386.5l0.5 -0.8M658.3 371.9l-0.4 0.2M661.0 411.6l-0.5 0.8M608.2 373.8l-0.0 0.6M671.7 422.4l0.4 0.5M669.1 375.5l-0.7 -0.6M684.4 422.0l0.1 -0.1M683.9 396.1l0.1 -0.5M661.9 390.3l-0.5 -0.5M639.0 405.0l0.2 0.7M634.7 394.6l-0.3 -0.2M637.5 402.7l0.5 -0.0M647.4 396.6l0.4 -0.2M663.6 366.1l-0.1 -0.5M648.5 367.2l0.3 -0.5M682.5 379.8l0.7 -0.5M678.0 391.9l0.4 0.5M668.0 372.7l0.4 0.2M637.0 395.1l0.0 -0.8M667.0 398.8l0.3 -0.3M657.1 377.1l0.1 -0.4M640.0 412.3l0.3 -0.3M665.1 388.7l-0.2 0.6M647.8 381.5l0.7 -0.7M671.2 418.7l-0.6 0.1M643.7 386.5l0.4 0.7M650.4 413.3l-0.5 0.5M665.6 414.4l0.1 0.7M626.9 403.2l0.1 0.2M642.0 422.0l0.3 -0.4M663.7 382.6l0.4 0.2M635.8 383.1l0.0 -0.5M654.7 406.7l-0.2 0.4M647.9 395.1l-0.7 0.1M633.9 406.7l-0.5 0.4M633.3 366.3l-0.7 -0.5M635.6 389.2l-0.4 -0.6M682.9 380.9l0.1 -0.1M666.0 400.8l0.5 -0.2M659.8 401.7l0.0 -0.3M680.3 414.3l-0.6 0.1M625.2 414.0l-0.3 0.6M627.7 401.4l-0.1 0.7M638.5 392.7l0.2 -0.1M659.3 423.6l-0.6 0.7M639.1 407.9l0.3 -0.6M679.7 421.9l-0.4 0.3M614.3 367.7l0.5 0.4M666.8 421.9l-0.3 0.3M637.4 415.9l-0.3 -0.4M626.2 423.9l0.7 -0.7M639.2 408.5l0.6 -0.6M681.4 396.3l-0.7 -0.7M667.3 380.5l0.1 -0.5M606.6 395.3l-0.6 -0.5M638.6 413.3l0.2 0.2M632.5 419.4l0.5 -0.1M643.7 417.5l-0.6 0.2M678.3 392.6l-0.1 -0.6M629.6 407.8l0.5 -0.1M613.6 366.4l-0.7 -0.7M655.6 374.9l-0.7 -0.1M675.2 384.8l0.3 0.3M659.7 406.5l0.5 -0.4M655.8 381.2l0.4 0.4M664.8 417.5l-0.6 -0.4" stroke="#d8c820" stroke-width="1.0" stroke-linecap="round" fill="none"/><path d="M681.6 421.4l-0.5 -0.5M657.0 375.2l-0.1 0.3M629.7 404.3l-0.7 -0.3M669.3 402.1l-0.1 -0.1M654.4 398.4l-0.2 0.6M650.8 402.0l-0.8 0.7M682.8 381.6l0.2 0.2M636.0 413.2l0.4 0.1M684.4 380.8l-0.3 -0.7M637.6 396.3l0.8 -0.7M670.5 421.8l-0.4 -0.6M670.4 417.0l0.1 0.1M681.8 420.8l-0.0 -0.2M641.4 393.7l0.3 0.3M629.2 388.9l-0.6 0.6M665.0 385.6l-0.3 -0.1M656.0 421.1l-0.5 0.4M666.7 390.8l-0.0 0.8M630.7 378.9l-0.3 0.6M660.3 366.5l-0.3 0.5M641.0 400.1l-0.0 0.5M656.3 403.6l-0.3 0.1M669.5 391.6l-0.7 0.3M671.6 379.2l0.1 0.3M681.2 374.2l0.0 0.3M668.7 372.8l-0.2 -0.5M660.5 379.1l0.3 -0.3M656.1 399.9l-0.0 0.1M673.8 408.4l-0.7 -0.1M657.3 391.0l0.3 -0.6M667.4 415.7l-0.4 0.3M658.8 411.4l-0.7 -0.8" stroke="#d8c820" stroke-width="0.5" stroke-linecap="round" fill="none"/><path d="M641.0 423.3l0.1 -0.3M649.9 368.1l-0.6 0.8M661.8 370.1l0.3 0.0M685.7 404.0l-0.6 -0.1M639.1 420.6l-0.6 0.7M674.1 391.7l0.1 -0.6M674.4 395.3l0.2 0.6M673.5 381.5l0.4 -0.2M677.6 402.4l-0.6 -0.7M649.3 424.7l0.4 -0.3M654.5 367.1l-0.3 0.3M635.9 403.9l-0.7 -0.5M674.2 417.8l0.4 0.1M678.7 410.8l-0.4 -0.1M662.3 403.7l-0.7 -0.7M635.7 397.7l0.3 -0.7M660.8 417.4l-0.1 0.3M656.2 412.7l-0.2 0.7M677.5 410.4l0.7 -0.2M680.2 408.4l-0.1 -0.3M643.1 394.9l-0.4 0.4M658.0 419.7l-0.4 0.3M679.0 414.4l-0.3 0.6M673.3 403.0l-0.3 0.8M646.9 412.5l0.0 0.4M653.4 418.0l0.5 -0.2M658.7 396.3l-0.7 -0.8M645.3 398.6l-0.8 0.3M672.9 416.1l-0.4 -0.6M633.9 379.4l0.4 -0.4M652.5 367.6l-0.5 0.2M679.4 419.7l0.2 -0.7M684.0 393.8l0.3 0.4" stroke="#d8c820" stroke-width="1.5" stroke-linecap="round" fill="none"/></g><text x="605.5" y="372.7" font-size="10.4" fill="#ffffff">CD68</text><path d="M645.0 380.0L640.2 384.8M640.9 382.1L640.2 384.8L642.9 384.1" stroke="#ffffff" stroke-width="1.2" fill="none" stroke-linecap="round" stroke-linejoin="round"/><path d="M661.7 400.3L656.5 405.1M657.3 402.4L656.5 405.1L659.2 404.5" stroke="#ffffff" stroke-width="1.2" fill="none" stroke-linecap="round" stroke-linejoin="round"/><path d="M681.4 411.1L676.2 416.9M676.8 414.2L676.2 416.9L678.9 416.0" stroke="#2ab0e0" stroke-width="1.2" fill="none" stroke-linecap="round" stroke-linejoin="round"/><rect x="603.6" y="426.4" width="81.4" height="61.9" fill="#05052e"/><g clip-path="url(#ecl2)"><path d="M648.1 433.6l0.4 0.6M603.0 451.1l0.5 0.0M681.2 449.8l0.0 -0.2M614.9 440.8l-0.2 0.5M652.5 469.5l-0.2 0.3M642.3 463.2l0.2 0.3M656.8 427.8l0.4 -0.0M658.9 443.9l0.1 -0.0M645.4 485.0l0.4 0.3M627.9 443.9l-0.1 -0.5M648.0 448.4l-0.2 0.3M666.0 432.1l-0.5 -0.6M684.1 484.1l0.4 -0.4M668.4 448.0l-0.4 -0.3M655.4 471.6l0.4 -0.5M673.6 426.5l-0.3 0.1M674.7 439.6l0.1 -0.2M602.6 484.6l0.1 0.5M676.8 482.8l-0.3 0.5M676.2 442.8l0.1 -0.5M677.3 469.3l0.6 -0.4M656.6 450.2l-0.3 0.3M654.2 482.6l-0.4 0.1M659.0 459.6l0.1 0.1M654.5 469.4l0.5 -0.4M650.8 445.9l0.5 -0.4M621.8 459.9l0.1 -0.3M662.8 433.8l0.0 -0.0M674.0 425.6l-0.5 0.1M659.9 465.6l-0.1 -0.5M633.5 438.3l-0.4 0.3M645.1 441.4l-0.4 0.5M615.3 449.9l0.6 0.3M641.8 431.9l0.4 -0.5M612.0 443.2l-0.2 0.1M658.6 429.4l-0.3 0.5M621.4 465.3l0.5 -0.4M613.3 435.8l0.4 0.1M615.1 432.8l0.4 -0.3M629.8 473.3l0.1 -0.2M675.5 439.4l0.2 0.3M680.4 428.0l0.3 -0.5M624.8 470.4l-0.1 0.1M626.8 433.1l0.4 0.0M672.8 436.7l-0.2 0.4M679.5 432.8l-0.1 0.5M655.6 463.4l-0.0 0.5M685.9 434.4l-0.4 0.1M609.1 444.0l-0.2 0.1M679.9 430.6l-0.2 0.5M652.9 444.7l-0.5 0.3M668.3 449.7l-0.2 0.2M659.9 431.8l-0.2 0.6M649.1 470.3l-0.3 -0.5M615.9 484.5l-0.2 -0.2M611.8 450.1l0.4 -0.4M653.3 467.8l-0.2 0.2M648.1 435.3l-0.6 0.2M655.7 428.0l-0.3 -0.3M619.1 440.5l0.4 -0.2M602.4 440.0l-0.4 -0.1" stroke="#1616b0" stroke-width="2.5" stroke-linecap="round" fill="none"/><path d="M620.5 477.7l-0.1 0.1M658.0 441.4l-0.2 -0.5M683.3 457.1l0.3 0.1M629.2 435.4l0.5 -0.5M662.2 466.1l-0.2 0.1M650.7 441.4l0.3 -0.6M659.5 439.6l-0.5 0.0M657.3 438.9l-0.1 -0.2M651.3 471.7l-0.0 -0.5M655.1 445.7l0.1 0.2M661.5 441.6l-0.2 -0.1M633.5 475.3l0.1 0.5M667.3 478.7l-0.2 0.2M637.9 481.3l0.5 -0.6M669.3 462.2l0.4 0.5M649.7 453.4l-0.4 0.5M670.8 433.0l-0.1 -0.5M611.7 430.5l-0.2 -0.0M684.5 473.2l-0.5 0.0M623.3 489.4l0.5 0.2M652.0 432.9l-0.2 -0.2M632.7 459.6l-0.2 0.4M667.6 454.8l0.4 -0.0" stroke="#12129a" stroke-width="3.0" stroke-linecap="round" fill="none"/><path d="M619.6 436.7l0.0 0.1M622.8 449.2l0.6 -0.2M648.3 475.8l0.1 0.1M638.5 458.8l0.1 0.3M671.1 440.0l0.4 -0.4M659.7 452.0l0.1 0.4M621.0 449.2l-0.0 0.5M631.7 437.9l-0.1 -0.3M639.3 437.8l-0.5 0.4M607.9 439.6l0.5 0.3M675.0 468.1l-0.6 -0.5M625.3 427.4l-0.3 -0.6M659.1 480.3l0.2 0.0M670.9 430.1l0.3 0.3M679.2 424.9l0.2 -0.2M663.0 440.7l0.1 -0.5M675.3 485.8l0.5 -0.5M619.8 438.1l-0.3 -0.6M625.4 445.0l-0.3 -0.0M650.1 433.0l0.2 -0.4M684.5 452.8l0.5 -0.3M656.9 428.1l-0.3 -0.5M647.5 463.5l0.5 0.3M643.3 479.5l-0.3 -0.2M639.0 451.1l0.2 -0.4M645.1 454.4l-0.1 0.5M643.6 444.0l-0.1 0.2M683.2 431.0l0.3 0.3M667.2 437.9l-0.4 0.1M637.8 437.2l0.3 -0.4M634.5 451.4l-0.1 0.1M604.6 466.3l0.2 -0.3M662.7 458.0l0.2 0.2M616.9 488.7l0.5 0.5M616.7 447.6l0.2 0.4M658.6 440.0l-0.5 0.1M653.6 470.3l-0.2 0.5M636.2 483.6l-0.4 0.2M661.0 463.9l0.4 0.3M642.0 453.3l0.6 -0.1M685.4 484.2l-0.2 0.0M685.8 439.9l-0.3 0.4M630.8 441.3l0.2 0.3M639.5 485.0l0.6 0.4M621.7 483.0l0.2 -0.0M648.2 479.8l-0.3 0.0M640.1 484.7l-0.2 -0.5M668.0 488.7l0.2 0.5M612.0 465.4l0.3 0.5M662.6 455.6l-0.1 0.4" stroke="#2a2ae6" stroke-width="2.0" stroke-linecap="round" fill="none"/><path d="M635.4 459.7l0.2 -0.1M639.9 424.7l-0.0 -0.2M649.9 479.2l-0.1 0.1M659.3 487.0l-0.1 0.3M667.7 429.5l-0.4 0.4M637.8 479.8l-0.5 -0.3M679.3 427.5l0.1 -0.2M625.6 450.4l0.1 0.1M648.4 459.1l-0.1 -0.3M611.9 457.9l0.2 0.6M684.3 476.0l-0.4 0.4M683.4 429.5l-0.1 0.1M636.6 467.1l-0.2 -0.4M645.8 434.6l0.4 0.4M661.1 430.8l0.1 -0.3M654.5 454.3l-0.5 -0.3M662.7 455.7l-0.5 -0.3M667.1 435.5l0.2 0.4M683.9 482.9l0.1 0.6M633.9 457.8l-0.1 0.2M646.5 441.5l0.3 0.0M611.6 434.9l0.5 -0.0M637.3 448.9l-0.6 -0.0M645.5 448.5l0.1 -0.4M677.4 439.8l0.1 -0.5M638.4 431.4l-0.2 -0.2M672.7 449.8l0.5 -0.5M672.8 485.9l0.4 0.3M676.7 432.7l0.3 0.4M665.9 442.2l0.5 -0.4M675.3 456.4l0.4 -0.1M622.3 469.3l-0.0 -0.4M626.8 466.2l0.3 -0.3M638.3 429.9l0.2 0.1M643.4 442.9l-0.5 -0.2M617.2 442.9l-0.1 0.5M612.8 452.7l-0.6 -0.1M612.7 424.9l-0.1 -0.2M620.0 469.7l-0.5 0.0M629.8 458.6l-0.1 -0.5M641.1 484.5l0.1 0.1M681.8 485.6l0.0 0.0M679.5 427.0l-0.3 -0.3M664.5 434.8l0.1 -0.1" stroke="#2222d8" stroke-width="2.5" stroke-linecap="round" fill="none"/><path d="M649.4 490.2l0.3 0.4M673.0 450.0l0.3 0.4M643.0 448.6l-0.4 -0.3M613.6 447.0l0.4 0.5M669.5 484.4l0.4 0.6M630.9 479.3l-0.2 0.4M653.3 454.8l-0.4 -0.4M674.8 441.4l0.3 -0.5M680.4 484.9l0.6 0.0M657.7 433.9l0.1 -0.5M680.9 468.5l0.6 0.3M621.0 463.2l-0.0 0.3M622.4 486.5l0.3 0.6M642.7 436.7l0.1 -0.2M662.9 439.5l0.3 0.5M611.5 484.7l0.5 -0.2M685.5 466.3l-0.4 -0.0M657.4 489.2l-0.2 -0.3M629.5 437.0l-0.3 0.1M679.7 489.3l-0.5 0.1M642.4 437.3l0.2 -0.2M645.1 463.5l0.1 0.5M652.0 464.1l0.5 -0.4M627.8 456.3l-0.3 -0.1M621.9 430.2l0.2 0.3M615.0 474.5l-0.6 0.4M681.4 424.6l-0.2 0.6M644.9 460.1l-0.5 0.2M639.9 467.7l0.3 -0.1M606.1 424.7l-0.6 0.5M652.8 480.7l-0.2 0.1M648.6 470.2l0.2 0.6M627.1 447.7l-0.1 -0.5M685.6 442.5l-0.4 -0.2M685.0 451.8l0.2 -0.4M640.0 430.1l-0.5 0.3M608.2 438.5l0.5 0.2M647.9 450.3l0.1 -0.1M605.7 442.6l0.2 0.1M618.5 440.1l-0.3 -0.0" stroke="#1c1cc8" stroke-width="2.5" stroke-linecap="round" fill="none"/><path d="M675.1 439.3l0.2 0.0M640.1 474.6l-0.4 0.0M676.6 461.9l0.2 -0.1M660.4 462.2l0.3 0.6M608.3 445.5l-0.4 0.1M670.1 430.1l-0.2 -0.5M681.6 484.1l-0.5 0.5M646.6 471.2l-0.3 -0.3M651.7 486.2l-0.3 -0.4M629.0 464.5l0.5 0.3M648.8 477.9l0.1 -0.1M645.5 439.5l-0.1 0.3M666.7 444.2l-0.1 0.1M602.9 451.8l-0.1 -0.1M684.5 437.9l-0.6 0.3M665.6 468.8l-0.1 0.6M683.4 481.9l-0.1 -0.2M672.6 471.1l-0.1 -0.1M680.5 426.0l-0.3 0.2M666.2 463.6l-0.5 0.6M652.4 436.7l0.5 0.3M613.1 470.9l-0.2 -0.4M610.4 428.9l0.6 0.1M646.3 457.8l0.4 0.3M680.7 471.3l0.5 0.5M636.7 469.1l0.2 -0.4M670.9 477.7l0.4 -0.4M676.8 475.0l0.5 0.2M619.1 428.6l-0.2 0.4M679.7 448.7l0.3 -0.5M666.2 470.4l0.5 0.0M680.0 462.2l-0.0 -0.5M637.2 485.0l-0.1 0.1M635.9 461.6l0.0 -0.1M643.9 487.6l-0.1 0.2M671.8 486.8l-0.1 0.2M617.7 480.2l-0.2 -0.1M647.4 445.3l0.5 0.0M660.2 459.7l-0.3 -0.3M671.7 461.1l-0.2 0.1M645.0 434.1l-0.5 0.4M648.4 460.0l0.1 0.1M684.9 478.8l-0.4 -0.4M606.9 443.5l-0.3 -0.4M659.7 476.2l0.4 -0.5M621.3 488.6l-0.1 -0.2M635.9 468.3l0.6 -0.3M643.5 429.9l0.3 0.6M634.1 432.8l0.4 0.5M613.5 427.1l-0.6 0.2M684.8 461.8l0.1 0.3M675.0 433.0l-0.0 0.6M658.8 455.3l-0.1 0.3M658.5 446.1l-0.2 -0.4M663.4 443.7l0.5 0.5" stroke="#2a2ae6" stroke-width="2.5" stroke-linecap="round" fill="none"/><path d="M660.5 457.4l0.5 -0.5M628.4 460.8l-0.4 0.3M621.7 464.8l0.5 0.2M632.5 461.8l0.3 -0.5M616.3 477.0l-0.1 -0.5M625.6 424.8l-0.1 0.6M632.0 464.4l-0.3 0.0M630.1 478.1l-0.5 -0.0M642.5 455.1l0.3 0.4M655.9 470.7l0.3 0.2M676.0 436.6l0.1 -0.6M640.7 462.9l0.2 0.2M658.9 484.1l-0.4 -0.3M615.1 477.5l0.1 -0.1M650.7 464.3l-0.3 -0.0M635.5 471.8l0.0 0.5M610.8 452.0l0.5 0.2M652.2 437.0l-0.2 0.6M678.7 437.3l0.0 -0.1M631.6 457.8l-0.2 0.0M675.1 432.7l-0.3 -0.4M634.6 451.2l0.5 0.1M625.8 481.2l-0.4 -0.0M648.6 440.5l0.2 -0.2M674.6 455.9l-0.2 -0.1M672.6 459.9l0.4 0.2M663.3 479.2l-0.1 -0.2M647.0 456.3l0.3 -0.5M633.1 456.4l-0.2 0.5M657.8 446.2l0.3 0.3M668.3 474.7l0.2 0.6M622.5 424.6l0.2 0.5M668.7 472.3l0.6 -0.5M623.7 466.6l0.0 0.2M685.1 449.7l0.3 0.5M646.5 469.0l0.0 0.1M681.7 467.1l-0.2 0.3M616.5 463.1l-0.3 -0.5M637.5 461.2l0.5 0.4M684.4 480.8l0.5 0.1M683.0 483.3l0.2 -0.5M635.7 480.6l-0.1 0.6M679.0 481.8l0.6 0.0M661.5 431.8l0.1 -0.0M673.2 431.7l0.2 0.5M663.7 451.3l0.3 0.3M630.3 488.2l0.1 -0.0" stroke="#1c1cc8" stroke-width="2.0" stroke-linecap="round" fill="none"/><path d="M660.9 477.7l-0.0 0.5M674.8 436.9l0.2 -0.3M641.4 478.1l0.1 0.3M644.3 428.1l-0.4 0.1M674.8 471.6l0.4 0.6M655.1 454.2l0.2 0.2M645.4 466.9l0.5 0.4M602.8 480.5l-0.4 -0.3M668.8 487.9l-0.6 -0.2M634.3 466.3l-0.3 -0.5M666.1 485.4l0.2 -0.1M681.5 445.3l0.3 0.6M672.3 453.1l-0.5 -0.5M675.7 432.5l-0.5 -0.5M670.9 454.5l-0.2 0.5M644.9 431.5l0.6 0.3M615.5 488.1l0.2 -0.4M645.5 458.1l-0.4 -0.3M675.7 439.1l0.5 0.1M622.8 444.9l0.1 0.5M630.2 470.6l-0.2 -0.5M674.7 429.3l0.1 -0.2M666.2 435.2l-0.4 0.5M607.0 463.5l-0.4 0.5M674.0 436.3l0.5 -0.3M628.2 482.7l0.5 -0.3M624.3 443.5l0.2 -0.5M665.2 457.5l0.6 0.4M629.4 480.1l0.5 -0.2M618.9 429.0l-0.4 0.2M630.5 465.0l-0.4 0.3M666.8 439.1l0.1 -0.4M654.9 465.6l-0.4 0.5M622.9 481.1l-0.4 -0.6M634.5 478.5l0.0 -0.1M617.1 426.0l0.3 0.3M621.7 458.4l0.4 -0.3M651.6 462.8l0.2 0.4M637.1 457.7l-0.4 0.3M660.6 480.0l-0.2 0.2M647.7 483.5l0.4 -0.1M652.9 454.2l-0.5 -0.5M620.3 441.3l0.1 -0.4M652.5 442.7l0.1 -0.5M650.7 454.7l-0.4 -0.0M631.2 472.8l-0.2 -0.2M684.9 481.8l-0.5 0.1M685.9 442.0l-0.0 0.0M672.5 435.6l0.3 -0.0M675.0 485.9l0.1 -0.1M661.8 446.2l0.1 -0.2M671.1 467.2l0.2 0.1M625.6 472.2l-0.1 0.0M650.5 466.9l0.2 -0.0M615.4 460.0l0.4 0.3M619.6 426.0l0.0 0.5M648.9 480.5l-0.5 -0.5M639.1 480.2l-0.4 -0.1" stroke="#12129a" stroke-width="2.5" stroke-linecap="round" fill="none"/><path d="M685.7 469.9l0.4 0.3M618.4 426.6l0.3 -0.4M635.0 432.7l-0.3 -0.4M684.5 436.8l-0.1 0.1M646.5 462.1l-0.1 0.4M636.9 470.5l-0.6 0.4M668.2 464.7l0.3 -0.3M672.9 458.3l0.0 -0.3M646.2 456.1l-0.6 0.0M623.1 482.3l-0.1 0.3M622.2 431.9l-0.2 0.6M664.6 481.3l0.1 -0.4M682.5 435.9l-0.3 -0.2M678.0 465.2l0.0 0.1M670.1 475.8l-0.0 -0.2M680.6 458.4l0.0 -0.5M625.8 458.5l-0.0 0.4M682.3 473.2l0.2 -0.1M620.1 438.3l0.5 -0.4M639.7 430.3l-0.4 0.2M604.6 482.3l0.2 0.3M628.5 465.8l-0.2 0.4M633.4 476.9l-0.0 -0.1M650.1 453.6l0.5 -0.6M629.7 452.8l0.4 0.4M681.2 489.8l0.3 -0.5M673.9 441.8l0.2 -0.5M637.8 440.0l-0.2 -0.0M657.4 473.5l0.1 -0.0M651.9 426.1l0.1 -0.3M651.6 449.0l-0.4 0.1M621.6 463.5l0.5 -0.5M669.7 479.6l0.1 0.3M636.2 448.1l0.5 -0.4M639.0 447.6l0.5 0.2M619.7 427.9l-0.3 0.2M617.7 443.2l-0.2 0.6M677.7 453.9l-0.1 0.4M615.5 479.8l0.5 0.0" stroke="#1616b0" stroke-width="2.0" stroke-linecap="round" fill="none"/><path d="M677.7 478.4l0.1 -0.1M680.1 478.9l-0.2 0.6M670.1 436.8l0.4 -0.4M654.5 479.4l-0.4 -0.6M642.8 424.9l-0.1 0.5M611.2 431.9l-0.1 0.6M636.8 462.2l0.1 0.2M649.0 460.0l-0.3 0.3M672.4 474.0l0.5 0.4M621.0 430.8l-0.4 -0.0M678.0 446.0l-0.5 0.4M634.5 466.8l-0.3 0.4M637.0 465.1l-0.2 -0.4M621.6 448.3l-0.2 0.5M646.4 460.9l0.5 -0.2M668.9 448.6l-0.5 -0.6M659.0 483.2l-0.5 0.5M635.2 459.9l0.4 -0.4M650.1 475.8l0.1 -0.4M629.6 474.5l0.6 0.1M646.8 481.3l-0.2 -0.5" stroke="#2a2ae6" stroke-width="3.0" stroke-linecap="round" fill="none"/><path d="M671.0 479.6l0.1 0.1M626.8 486.4l0.4 0.4M682.7 483.7l0.4 -0.1M644.1 489.9l0.1 0.4M679.2 444.3l-0.2 0.3M634.8 466.1l0.5 0.5M624.1 475.0l-0.2 -0.4M628.3 440.3l-0.1 -0.2M663.3 470.7l-0.1 -0.1M671.4 436.8l0.2 -0.3M637.2 465.8l-0.5 -0.5M647.6 486.8l-0.4 0.1M641.8 478.3l-0.3 0.1M621.0 444.7l0.0 0.0M648.2 439.1l-0.3 0.2M679.4 458.0l-0.6 -0.5M656.3 432.7l0.2 0.4M617.3 435.3l0.6 0.1M674.3 462.0l-0.4 0.0M645.7 437.6l0.4 -0.4M679.6 428.2l-0.5 0.6M664.4 425.7l-0.2 -0.3M661.5 453.1l0.3 -0.4M630.2 453.4l-0.1 -0.1M678.9 463.2l0.2 -0.4M645.0 478.5l-0.5 -0.1M632.9 426.0l0.3 0.2M621.2 426.1l-0.3 -0.1M654.0 431.1l0.0 0.5M654.3 447.0l0.1 0.2M639.4 462.7l0.2 0.1M662.3 488.3l0.5 -0.1M653.5 460.4l-0.2 0.4M602.5 468.2l-0.0 -0.2M659.4 473.2l-0.3 -0.6M608.7 433.2l0.4 -0.4M674.6 466.0l0.5 -0.4M650.2 487.7l0.5 0.4M652.6 482.1l-0.0 0.4M645.7 487.4l-0.1 -0.2M603.8 429.5l0.6 -0.0M677.4 464.6l-0.5 -0.5M644.0 448.7l0.2 0.0M684.5 478.2l-0.3 0.6M671.9 463.8l-0.0 0.5M629.8 471.4l0.6 0.4M625.4 430.4l0.6 0.1M609.5 469.4l0.0 0.4M630.0 437.4l-0.4 0.5M665.9 427.2l0.0 0.4M679.6 442.7l0.1 0.5M647.3 471.8l-0.2 -0.4" stroke="#12129a" stroke-width="2.0" stroke-linecap="round" fill="none"/><path d="M668.7 433.6l0.4 0.4M659.5 466.8l-0.3 -0.2M637.2 477.9l0.4 -0.1M624.0 484.2l-0.6 0.4M658.4 488.9l-0.6 -0.3M613.5 434.7l-0.5 -0.1M634.1 443.7l-0.3 -0.6M626.7 432.4l0.4 -0.1M672.9 468.4l-0.5 -0.1M614.2 436.4l-0.4 -0.1M629.5 477.8l-0.5 -0.1M625.4 485.4l-0.1 0.5M643.1 466.6l0.2 -0.5M654.6 439.7l0.2 0.4M639.9 484.4l0.6 0.5M682.7 453.4l-0.4 0.0M634.3 434.3l-0.4 0.4M628.3 432.4l-0.4 -0.4M610.2 446.7l0.3 0.1M618.8 462.0l0.5 -0.5M665.5 484.5l-0.5 0.1M645.8 481.1l0.5 0.6M629.8 444.0l0.5 -0.5M630.7 486.9l-0.4 -0.5M662.2 433.9l0.2 0.0M644.8 434.8l-0.0 -0.3M643.5 466.8l0.3 0.4M676.7 479.1l-0.0 0.6M650.1 481.4l-0.5 0.6M684.2 437.3l0.2 -0.4M660.4 439.1l-0.6 0.1M637.3 488.1l0.2 -0.3M636.6 476.9l-0.3 -0.3M632.3 441.6l-0.1 0.2M679.5 444.1l-0.2 -0.4M684.9 426.9l-0.5 0.6M626.7 470.4l-0.3 -0.6M628.0 436.9l-0.1 0.3M638.0 463.6l0.1 0.2M613.3 442.2l0.1 0.1M639.2 435.4l0.5 0.0M673.6 483.9l0.3 -0.6M632.8 428.6l-0.1 0.6M616.3 425.2l0.5 -0.2M638.5 457.6l-0.2 -0.0M662.4 429.6l0.5 -0.0M625.0 467.2l-0.3 -0.3M678.7 447.3l-0.6 -0.3M668.1 438.0l0.5 -0.2M681.4 468.2l0.3 -0.3M683.4 424.7l0.5 0.4" stroke="#2222d8" stroke-width="2.0" stroke-linecap="round" fill="none"/><path d="M674.0 443.7l-0.3 -0.3M658.6 477.4l-0.2 0.0M643.2 472.4l0.3 0.1M650.8 469.4l-0.1 0.5M632.7 489.5l-0.4 0.4M623.3 445.0l0.5 0.0M651.1 438.9l0.3 0.4M662.5 454.4l-0.1 -0.1M663.0 478.7l-0.5 -0.6M630.2 470.0l0.4 -0.4M651.3 459.8l-0.5 -0.0" stroke="#2222d8" stroke-width="3.0" stroke-linecap="round" fill="none"/><path d="M671.6 470.2l-0.1 0.3M650.4 480.4l0.4 0.5M635.1 436.3l-0.5 0.1M613.5 462.8l-0.1 0.3M641.6 437.8l-0.2 0.5M684.6 448.8l-0.4 0.3M621.4 458.4l0.5 -0.6M664.7 476.8l0.0 -0.2M666.0 455.0l-0.4 -0.4M642.9 477.4l-0.0 -0.5M618.6 480.4l0.1 0.4M604.7 462.6l-0.5 -0.3M654.1 482.1l-0.0 -0.3M636.0 429.6l-0.3 0.6" stroke="#1c1cc8" stroke-width="3.0" stroke-linecap="round" fill="none"/><path d="M637.3 443.8l-0.0 -0.4M656.0 470.0l-0.2 -0.5M631.3 481.3l-0.0 -0.3M602.8 438.4l0.0 -0.4M620.9 430.0l-0.2 0.5M649.0 448.6l0.2 -0.3M610.5 467.0l-0.1 -0.0M665.0 444.9l0.3 -0.2M603.8 452.2l-0.3 -0.5M652.9 437.4l-0.1 -0.2M630.7 433.5l0.4 -0.6M621.4 438.8l0.6 -0.2" stroke="#1616b0" stroke-width="3.0" stroke-linecap="round" fill="none"/><path d="M658.9 478.9l-0.2 -0.1M619.1 464.2l0.2 -0.8M668.8 483.9l0.5 0.1M611.3 475.9l0.5 -0.3M650.7 487.5l-0.6 -0.0M682.9 443.6l0.8 0.5M618.2 431.5l0.0 0.4M683.5 480.7l-0.5 -0.2M628.8 452.6l-0.6 0.1M658.4 458.6l-0.4 -0.2M619.3 432.4l0.7 -0.6M625.2 477.4l0.7 0.4M629.9 463.3l0.4 -0.4M656.5 436.3l0.7 -0.7M617.4 482.7l0.8 -0.5M628.7 462.1l-0.8 0.4M610.5 454.3l-0.2 -0.6M613.8 447.1l0.4 0.2M629.6 474.1l0.6 0.7M613.6 431.0l-0.8 -0.4M609.9 475.0l0.1 -0.2M674.1 482.8l-0.1 0.6M648.0 442.0l-0.4 -0.1M608.1 472.0l0.7 -0.6M683.0 438.9l0.0 0.8M667.5 452.7l-0.6 0.1M616.1 478.4l-0.5 -0.2M636.5 434.2l-0.7 -0.0M643.7 450.4l-0.6 -0.7M662.8 469.9l-0.2 0.3M625.3 453.8l-0.2 0.2M677.6 437.3l-0.5 0.3M649.0 430.1l-0.5 -0.3M658.3 435.8l-0.6 0.2M608.7 469.1l-0.3 -0.5M636.7 444.6l0.3 0.8M618.6 486.9l0.1 0.2M679.0 438.4l-0.1 0.6M667.6 437.9l-0.7 -0.2M658.8 454.1l-0.2 0.2M671.1 467.5l-0.4 0.2M643.6 451.9l0.3 0.3M657.2 448.5l0.7 0.2M625.0 457.6l-0.6 -0.5M634.4 431.2l-0.6 0.4M645.2 464.6l0.4 0.4M634.8 443.9l0.1 -0.5M675.2 453.4l-0.2 0.4M680.9 470.3l0.1 -0.8M628.2 487.1l-0.1 0.3M629.4 488.3l0.5 -0.4M634.8 440.8l-0.3 -0.2M608.7 439.0l-0.4 -0.1" stroke="#20d040" stroke-width="1.0" stroke-linecap="round" fill="none"/><path d="M648.0 475.4l0.4 -0.7M672.4 432.2l0.8 -0.6M646.8 446.0l-0.4 -0.2M644.9 466.1l0.3 0.4M678.7 436.5l-0.8 -0.6M625.6 479.8l0.5 -0.6M683.2 432.7l-0.6 -0.6" stroke="#20d040" stroke-width="0.5" stroke-linecap="round" fill="none"/><path d="M613.6 442.2l0.3 0.2M681.9 431.3l0.5 -0.1M672.0 459.3l0.1 0.4M652.6 431.8l0.5 0.8M650.0 458.7l-0.6 -0.2M684.5 429.6l0.5 0.1M672.5 457.6l-0.1 -0.4M614.6 429.7l-0.7 0.2M677.7 441.2l0.4 -0.0M652.0 482.5l0.3 0.1" stroke="#20d040" stroke-width="1.5" stroke-linecap="round" fill="none"/></g><text x="605.5" y="436.6" font-size="10.4" fill="#ffffff">CD206</text><path d="M645.0 443.9L640.2 448.7M640.9 446.0L640.2 448.7L642.9 448.0" stroke="#ffffff" stroke-width="1.2" fill="none" stroke-linecap="round" stroke-linejoin="round"/><path d="M661.7 464.2L656.5 469.0M657.3 466.3L656.5 469.0L659.2 468.4" stroke="#ffffff" stroke-width="1.2" fill="none" stroke-linecap="round" stroke-linejoin="round"/><path d="M681.4 475.0L676.2 480.8M676.8 478.1L676.2 480.8L678.9 479.9" stroke="#2ab0e0" stroke-width="1.2" fill="none" stroke-linecap="round" stroke-linejoin="round"/><rect x="603.6" y="489.9" width="81.4" height="62.9" fill="#05052e"/><g clip-path="url(#ecl3)"><path d="M637.0 525.4l0.1 0.6M607.7 524.7l0.4 -0.4M622.6 508.1l-0.5 -0.5M613.3 491.5l-0.5 -0.6M637.2 548.4l0.4 -0.1M673.8 546.0l-0.3 -0.4M671.0 488.3l0.4 0.1M618.4 501.7l-0.2 0.5M649.5 552.8l-0.3 -0.6M654.6 541.7l0.5 -0.1M655.0 499.8l0.1 -0.1M643.7 520.0l-0.6 0.2M628.6 551.6l0.2 0.4M620.9 502.2l-0.3 0.6M665.6 512.6l0.4 0.1M628.5 546.3l-0.6 0.4M680.2 524.0l-0.3 0.5M665.6 498.8l-0.4 0.1M677.2 548.2l0.1 0.0M666.2 493.6l0.2 0.4M650.3 551.7l-0.0 -0.5M642.4 504.8l0.1 -0.3M642.4 506.6l-0.5 0.5M670.7 524.6l0.3 0.3M623.8 526.9l-0.4 -0.1M646.6 538.6l-0.2 -0.0M642.1 538.4l-0.4 -0.3M653.7 522.6l-0.0 -0.2M621.1 490.8l-0.1 -0.4M651.5 494.3l0.5 -0.1M631.8 552.2l0.1 -0.5M607.1 519.2l0.3 0.2M657.0 519.1l0.6 0.0M612.1 519.3l-0.5 -0.0M643.4 499.9l0.5 -0.5M658.1 500.3l0.4 -0.3M673.3 520.4l-0.1 0.3M602.9 534.8l-0.6 -0.5M654.2 518.3l0.5 -0.5M651.5 537.7l0.4 0.1M603.5 521.5l0.5 -0.6M672.0 550.5l-0.5 -0.4M620.8 542.5l0.0 0.5M612.5 519.2l0.1 -0.1M655.4 497.8l0.5 -0.2M658.4 524.1l-0.2 -0.1M631.0 545.5l-0.3 0.4M629.4 547.5l0.5 0.6M662.0 488.1l0.4 0.6M669.6 523.2l-0.5 -0.1M648.7 549.9l-0.5 -0.3M668.6 510.4l-0.4 0.2M676.9 539.5l-0.4 0.4M680.8 487.9l-0.5 -0.1M664.1 498.2l0.2 -0.2M614.9 532.8l0.0 -0.5M617.8 506.8l0.4 -0.5" stroke="#1c1cc8" stroke-width="2.5" stroke-linecap="round" fill="none"/><path d="M627.8 531.6l0.3 -0.0M678.8 523.4l0.2 -0.4M607.8 543.1l0.2 0.3M665.6 553.3l-0.4 0.1M677.2 506.8l0.4 0.2M678.5 546.2l-0.3 -0.4M633.7 502.0l0.2 0.4M621.8 490.6l-0.1 -0.1M661.7 523.2l0.6 0.0M685.9 495.1l-0.4 0.0M625.7 544.1l-0.5 0.2M678.2 538.5l-0.3 -0.5M654.9 542.6l0.5 0.1M673.7 498.8l-0.0 -0.0M677.1 513.1l0.0 -0.2M621.6 505.2l-0.4 0.5M642.0 496.6l0.5 0.5M662.6 488.0l-0.5 -0.0M630.9 540.5l-0.1 -0.2M622.5 492.4l0.4 0.5M665.6 546.5l0.3 0.6M668.7 531.6l0.1 0.2M646.2 509.1l-0.4 -0.1M639.9 502.0l0.1 -0.6M627.5 513.7l-0.4 -0.2M669.3 522.6l0.6 -0.4M648.4 530.8l0.4 -0.4M651.5 510.5l-0.1 -0.0M665.3 490.8l0.3 -0.3M661.5 553.9l0.1 0.5M602.7 488.5l-0.1 0.4M639.6 506.9l-0.5 -0.1M621.2 511.3l0.4 -0.2M622.1 499.8l0.3 0.1M652.2 544.1l-0.4 -0.2M625.3 529.5l-0.6 -0.0M663.3 520.9l-0.1 -0.6M674.3 526.0l0.1 0.6M648.2 548.3l-0.5 -0.4M677.6 514.2l0.6 -0.5M637.7 547.1l-0.5 0.5M604.6 550.9l-0.1 -0.1M624.0 514.2l0.6 0.2M657.8 527.3l0.3 -0.0M661.6 525.5l0.1 0.6M625.4 525.4l-0.5 -0.5" stroke="#12129a" stroke-width="2.5" stroke-linecap="round" fill="none"/><path d="M645.6 490.4l0.2 -0.5M624.4 510.8l-0.5 -0.5M666.3 531.6l0.3 -0.3M634.1 551.8l0.4 0.1M647.2 504.4l-0.1 0.4M673.8 544.1l0.3 -0.4M624.9 520.0l-0.2 0.5M627.4 526.1l0.5 -0.3M640.0 534.8l-0.2 0.5M623.5 532.5l0.2 -0.3M630.8 512.9l0.3 0.3M660.7 549.9l0.4 0.3M678.7 503.6l0.3 -0.5M647.1 539.6l0.4 0.4M665.3 525.5l-0.6 -0.3M641.9 538.1l0.2 -0.1M648.2 510.1l-0.3 0.3M637.4 540.7l-0.5 0.4M665.1 529.6l-0.2 -0.3M628.1 537.3l0.5 -0.1M626.6 506.1l-0.0 -0.5M604.5 496.9l0.5 -0.6M667.8 540.5l0.5 -0.0M666.5 492.6l0.5 -0.5M656.1 500.9l0.5 -0.5M679.0 542.4l-0.5 -0.2M618.3 540.8l-0.6 0.6M636.7 541.9l-0.2 -0.4M632.1 504.4l-0.6 -0.4M629.0 498.2l-0.5 0.4M644.9 499.0l0.5 0.6M622.9 503.0l0.2 -0.4M627.9 534.0l-0.3 0.4M645.4 552.6l0.3 0.5M654.3 527.9l-0.1 0.5M671.8 512.6l-0.4 -0.6M634.5 489.0l0.5 -0.3M667.0 529.7l0.3 -0.1M661.6 540.0l-0.5 0.5" stroke="#1616b0" stroke-width="2.0" stroke-linecap="round" fill="none"/><path d="M668.7 550.5l0.2 -0.0M642.6 496.9l0.4 -0.5M659.3 531.7l0.5 -0.5M619.2 503.5l-0.2 -0.5M652.2 493.1l0.1 -0.6M619.1 527.7l-0.4 0.3M676.8 510.6l0.1 0.0M678.9 528.5l0.1 -0.3M626.2 534.2l-0.3 -0.4M651.9 516.0l-0.3 0.4M639.1 533.6l0.5 -0.4M611.9 506.7l0.2 -0.1M617.4 503.2l0.2 0.3M653.7 549.6l0.4 0.3M627.1 534.7l-0.4 -0.3M618.7 520.2l0.0 0.1M677.5 503.2l0.4 0.1M644.7 491.7l-0.2 0.0M643.6 542.1l-0.5 0.1M623.1 521.5l0.5 0.5M612.6 508.7l0.2 0.4M605.0 498.0l-0.1 -0.5M647.4 498.4l0.5 0.3M623.9 551.0l0.3 0.1M609.2 539.9l0.4 -0.6M623.7 533.4l0.4 -0.4M652.2 504.4l-0.2 -0.1M644.0 519.9l0.5 -0.4M638.7 490.4l-0.3 0.1M640.8 488.0l-0.0 -0.1M620.8 540.3l0.3 0.1M619.5 514.0l0.4 -0.2M653.0 513.1l-0.4 -0.4M630.7 518.9l0.3 -0.2M636.5 529.0l0.2 0.5M629.0 496.0l-0.2 -0.3M656.0 500.9l0.5 0.1M631.1 515.2l-0.5 -0.4M651.0 503.8l0.4 -0.0M641.9 532.0l0.5 0.1M638.0 547.4l0.4 0.1M612.4 510.4l-0.2 -0.5M602.2 537.9l-0.2 -0.5M629.0 513.5l-0.5 0.2M649.2 547.1l-0.1 0.5M615.8 488.0l0.5 0.0M622.1 506.1l-0.3 0.3M674.4 554.2l0.1 0.0M658.6 537.7l0.2 -0.1M645.1 495.9l-0.4 -0.4M646.9 512.1l-0.5 0.2M623.5 524.8l0.5 -0.2M625.7 518.3l-0.5 0.3" stroke="#2222d8" stroke-width="2.5" stroke-linecap="round" fill="none"/><path d="M685.0 543.3l-0.5 -0.3M627.5 544.0l-0.3 0.3M681.9 526.0l-0.0 -0.3M611.2 489.3l0.5 0.5M607.4 510.4l-0.1 -0.2M614.8 495.8l-0.0 -0.1M626.8 496.5l0.5 -0.3M618.1 537.0l-0.1 -0.0M621.0 508.2l0.6 -0.6M635.2 549.7l0.1 0.4M661.5 521.6l-0.0 0.2M627.0 515.9l-0.1 -0.5M670.5 493.7l-0.5 -0.4M643.3 526.6l0.1 -0.5M625.0 513.8l-0.1 0.1M656.2 532.6l-0.3 0.1M677.2 551.1l-0.2 0.6M662.3 530.1l0.2 0.1M642.4 520.8l-0.1 0.4M663.7 516.7l0.3 0.3M610.6 548.5l0.5 -0.1M671.5 520.0l0.5 -0.4M608.3 494.9l0.3 0.4M674.5 522.8l-0.2 0.2M657.1 503.7l0.4 0.4M610.1 530.9l-0.1 0.5M641.1 507.3l-0.2 0.0M641.6 516.7l0.3 0.6M677.9 540.4l0.2 -0.3M627.5 529.6l-0.5 0.2M654.3 497.7l0.1 0.0M670.0 551.4l-0.5 -0.1M650.0 500.5l0.0 0.6M674.0 554.5l-0.0 -0.4M668.5 535.2l0.4 0.3M623.1 528.1l0.5 -0.6M640.6 531.0l0.2 0.5M625.0 531.9l-0.6 -0.4M625.5 545.9l0.2 0.5M671.5 498.6l0.5 0.3M641.1 495.3l-0.4 -0.0M656.7 550.1l-0.1 0.1M633.0 499.7l0.1 0.2M633.3 514.1l-0.0 -0.1M621.0 492.7l0.3 -0.1M655.8 530.4l-0.1 -0.1M662.5 510.8l-0.3 0.4M674.0 522.0l0.3 -0.3M644.4 554.0l0.3 -0.4M642.7 520.2l0.0 -0.1M650.9 533.4l-0.2 -0.3M642.2 513.9l-0.1 0.5M669.4 526.6l0.6 -0.2M637.4 507.1l-0.1 0.2M629.3 541.6l-0.5 -0.5M679.5 534.7l-0.3 0.5M666.2 554.4l-0.2 -0.3" stroke="#2a2ae6" stroke-width="2.5" stroke-linecap="round" fill="none"/><path d="M669.3 504.5l-0.2 0.1M609.6 539.0l0.3 -0.5M637.8 492.2l0.1 0.1M674.2 554.0l0.5 0.6M624.8 518.1l0.1 -0.4M651.7 542.3l0.5 0.4M685.9 521.6l-0.4 -0.2M660.3 524.9l0.3 -0.5M635.2 544.3l0.1 -0.4M639.4 523.4l-0.5 0.2M617.4 494.5l0.0 -0.1M629.9 531.8l-0.2 -0.6M670.6 523.2l-0.1 -0.6M647.5 490.9l0.0 0.5M642.9 530.2l0.4 0.5M629.2 513.6l-0.1 0.2M634.9 499.2l-0.5 0.2M663.7 540.6l0.3 0.4M623.8 522.3l-0.6 0.5M660.3 501.8l-0.4 -0.0M608.0 537.4l0.2 0.5M630.0 520.1l0.1 -0.4M668.9 497.2l0.2 0.1M647.9 536.9l-0.1 -0.1M641.3 537.0l0.3 0.5M609.6 513.4l0.3 -0.6M632.0 494.8l-0.3 0.4M611.7 544.4l0.1 0.3M632.6 490.9l0.5 -0.2M634.4 553.9l0.3 0.6M659.1 537.4l0.1 -0.2M632.5 513.7l0.3 0.1M648.1 546.9l0.3 0.5M621.9 537.0l0.3 -0.6M650.2 515.2l0.4 -0.0M683.5 532.9l0.6 0.2M679.1 532.0l0.5 -0.5M659.8 513.7l0.2 -0.4M631.9 531.8l0.3 0.4M634.5 554.5l-0.3 -0.0M663.7 545.8l-0.1 -0.4M619.9 548.6l0.4 0.5M635.7 532.2l0.1 -0.1M635.2 496.4l0.2 -0.1M672.8 495.2l-0.6 -0.2M677.4 526.5l0.2 0.2M666.8 547.6l0.1 0.5" stroke="#2222d8" stroke-width="2.0" stroke-linecap="round" fill="none"/><path d="M678.8 545.2l-0.4 0.4M638.7 533.1l-0.3 -0.5M683.2 548.4l0.5 0.4M654.9 524.7l-0.6 -0.3M664.5 533.5l-0.1 -0.5M670.1 524.7l-0.0 -0.2M671.8 492.3l0.1 0.3M663.9 507.9l-0.2 0.6M651.0 510.9l-0.3 -0.6M621.3 554.6l-0.2 0.1M652.9 544.7l-0.3 -0.4M629.8 534.7l-0.1 0.1M655.5 490.8l-0.1 0.4M635.7 532.0l-0.0 -0.6M631.0 546.3l-0.6 -0.2M643.6 497.2l-0.3 0.2M668.6 543.3l-0.4 -0.4M651.9 488.0l-0.6 -0.4M671.3 541.0l0.3 0.3M683.6 531.2l-0.4 -0.5M629.8 532.6l-0.5 0.5M649.7 530.1l0.1 -0.1M626.9 535.8l0.1 0.2M647.7 529.7l0.5 0.5M661.3 499.2l0.2 0.5M618.6 518.1l0.4 -0.5M652.7 544.9l-0.3 0.0M659.2 551.1l-0.2 0.3M675.8 544.0l-0.3 0.0M633.9 501.2l0.2 -0.4M650.5 552.7l0.2 0.2M644.7 519.6l0.0 0.6M646.0 501.4l-0.5 -0.5M656.0 522.7l0.1 -0.1M622.0 543.9l0.2 -0.3M607.6 528.7l0.2 -0.4M618.6 552.4l-0.3 0.5M666.0 545.4l-0.1 0.1M624.5 502.4l0.6 -0.6M637.2 537.8l-0.3 -0.6M655.2 515.6l0.1 0.3M634.1 524.1l0.5 0.5M641.5 531.9l-0.6 0.1M617.6 513.8l-0.6 -0.1M663.3 521.4l-0.5 0.5" stroke="#2a2ae6" stroke-width="2.0" stroke-linecap="round" fill="none"/><path d="M676.8 542.2l-0.5 0.4M613.3 490.5l-0.0 -0.3M634.9 536.3l0.3 0.1M624.3 522.4l-0.4 0.2M640.0 528.5l0.2 -0.2M609.9 514.1l-0.4 -0.2M661.0 503.8l-0.0 -0.1M684.8 531.6l0.4 -0.4M620.4 503.9l-0.3 -0.4M646.1 549.7l0.4 -0.2M618.0 515.3l0.1 -0.5M639.0 522.1l-0.1 0.1M638.7 554.5l0.2 -0.1M669.7 515.8l-0.6 -0.4M670.4 527.6l0.3 -0.0M642.7 538.4l-0.2 -0.3M643.8 549.5l-0.2 -0.1M633.7 493.5l-0.1 0.6M670.0 500.8l0.4 0.6M629.1 508.0l0.6 0.2M626.6 525.6l-0.4 0.5M638.5 503.9l0.4 -0.4M636.6 547.9l-0.5 -0.1M685.4 525.8l0.4 -0.2M682.2 506.3l-0.6 -0.5M668.3 537.6l-0.2 -0.2M676.8 515.6l-0.1 -0.0M685.5 544.5l-0.2 -0.1M655.6 509.0l0.4 0.1M665.8 540.4l0.2 0.5M680.0 525.6l-0.6 0.0M627.1 505.5l-0.6 -0.2M664.5 550.3l0.1 0.4M652.1 517.3l-0.5 0.1M649.4 540.1l0.4 -0.1M607.8 513.3l0.3 0.1M670.9 495.6l0.1 -0.5M644.8 524.6l-0.6 0.4M674.6 531.6l-0.1 -0.4M634.9 535.0l-0.3 -0.5M627.4 534.9l0.2 -0.2M655.4 500.7l-0.3 0.5M619.4 535.2l0.5 -0.3M670.4 507.4l0.1 -0.5M625.2 526.5l-0.3 -0.5M641.5 539.4l-0.1 -0.5M674.3 495.7l-0.2 -0.0M629.2 550.6l-0.5 0.4" stroke="#12129a" stroke-width="2.0" stroke-linecap="round" fill="none"/><path d="M657.0 521.6l-0.1 -0.4M683.1 508.7l-0.2 -0.1M628.6 527.6l0.1 0.3M621.7 494.4l0.2 0.5M615.2 550.4l0.1 0.1M682.9 489.7l-0.5 -0.4M639.4 498.8l-0.0 0.4M679.9 526.4l0.2 0.6M631.2 542.2l-0.6 0.6M618.5 516.0l-0.5 0.5M683.3 517.8l0.4 0.0M682.5 528.3l0.6 -0.3M681.8 526.5l-0.1 0.1M636.9 544.1l0.1 -0.1M627.6 503.1l0.1 -0.1M656.1 542.5l-0.0 -0.5M616.1 493.3l-0.2 -0.5M641.6 523.7l-0.3 -0.5M622.3 541.1l0.4 -0.0M685.4 508.2l0.3 -0.0M640.3 508.3l0.1 -0.4M636.8 543.2l-0.6 -0.1M652.2 543.9l-0.4 -0.4M654.7 494.3l0.6 0.6M677.7 542.1l-0.1 -0.0M683.6 525.4l0.5 -0.4M618.0 526.2l-0.3 -0.1M605.8 497.1l0.6 -0.3M651.2 544.4l-0.3 -0.1M607.7 491.7l-0.0 0.5M646.0 552.6l-0.1 0.2M633.8 518.5l-0.2 0.3M647.4 522.3l-0.4 0.5M618.1 520.8l0.3 -0.2M675.7 514.8l-0.6 -0.3M667.5 523.0l-0.2 -0.3M611.2 495.3l-0.2 0.6M623.2 549.0l0.1 0.5M627.0 548.4l0.4 0.4M659.9 533.6l0.2 -0.5M677.1 539.2l-0.3 -0.6M620.1 512.6l0.4 -0.5M642.0 507.7l-0.3 -0.6M641.9 540.4l-0.5 0.2M675.5 550.7l0.3 -0.0M628.7 545.9l0.3 0.5M610.1 496.1l-0.4 0.5M666.4 515.2l-0.1 -0.3M660.7 509.1l-0.2 -0.3M616.6 510.2l-0.4 0.1" stroke="#1c1cc8" stroke-width="2.0" stroke-linecap="round" fill="none"/><path d="M654.6 491.2l-0.2 -0.5M623.1 537.2l-0.2 -0.1M661.3 527.5l-0.5 0.5M631.2 532.4l0.2 -0.1M650.7 552.6l0.4 0.1M679.5 518.0l0.4 -0.1M672.5 535.7l0.4 0.2M670.9 492.7l0.5 0.5M628.6 511.2l0.3 -0.2M680.8 535.8l-0.6 0.0M648.0 504.3l0.4 0.6M623.7 546.8l-0.2 -0.5M630.4 493.4l-0.1 -0.2M641.8 516.9l0.4 0.6M604.2 488.4l-0.4 0.0M658.6 525.2l-0.2 -0.0M670.4 502.5l0.0 -0.4M645.2 551.6l0.5 -0.5M655.1 509.7l-0.2 0.6M658.1 549.3l0.0 -0.6M606.9 492.5l0.1 0.0M643.6 546.3l-0.5 -0.2M642.2 505.4l-0.1 -0.1M674.2 494.2l-0.6 0.3M676.2 507.9l-0.6 -0.2M622.6 509.5l0.6 0.6M663.6 490.2l-0.3 -0.3M610.5 521.1l0.6 0.3M606.2 494.4l-0.4 0.4M655.5 519.4l-0.4 0.2M656.5 544.3l-0.1 0.5M631.1 521.7l0.1 0.2M631.5 525.2l0.3 0.4M638.2 528.6l0.6 -0.4M641.5 554.0l0.5 0.3M624.5 521.7l-0.2 0.2M615.1 517.9l0.4 -0.1M665.0 499.2l-0.3 -0.1M668.1 526.1l-0.1 -0.0M658.2 504.2l-0.1 0.3M672.0 490.3l-0.3 -0.1M685.0 511.4l0.4 -0.5M682.3 545.5l0.4 -0.2M630.7 537.9l0.2 -0.4M668.6 522.1l0.1 0.5M682.5 544.7l0.4 0.6M683.4 536.5l0.5 0.5M661.1 521.3l-0.5 -0.1M616.7 547.0l-0.2 -0.3M660.6 495.4l0.4 -0.5M668.9 537.8l0.3 -0.0M639.7 529.2l0.4 -0.3M607.7 545.4l-0.5 0.4M650.0 540.4l-0.4 -0.6" stroke="#1616b0" stroke-width="2.5" stroke-linecap="round" fill="none"/><path d="M658.8 499.2l0.2 0.2M647.1 491.5l-0.4 -0.2M656.2 541.3l0.4 0.1M624.1 500.3l-0.0 0.1M681.5 534.5l-0.1 0.0M678.0 508.5l0.1 -0.3M660.0 547.0l-0.5 -0.5M656.3 551.1l0.4 0.4M682.7 522.3l-0.5 0.3M678.7 524.3l0.0 -0.5M663.6 534.7l0.4 0.3M681.4 499.4l-0.0 0.3M664.1 550.6l-0.6 -0.4M658.4 537.4l0.4 -0.1M684.0 549.9l0.5 0.2M685.2 528.0l-0.2 0.2M622.5 554.6l0.1 0.3M619.8 512.0l-0.1 -0.5M652.8 547.4l-0.0 -0.2M649.8 488.2l0.3 0.3" stroke="#1c1cc8" stroke-width="3.0" stroke-linecap="round" fill="none"/><path d="M663.1 525.1l0.0 -0.2M659.3 551.8l0.3 0.5M637.7 524.6l0.5 0.1M680.3 500.4l0.4 0.5M667.3 536.6l-0.1 -0.1M627.0 510.2l0.0 -0.4M649.0 537.9l-0.5 -0.1M673.2 513.2l0.4 0.3M656.3 549.2l0.5 -0.4M672.7 513.4l-0.1 -0.4M647.2 494.5l-0.0 0.3M681.8 489.9l0.3 0.2M643.3 527.0l0.3 -0.1M624.8 532.8l-0.2 -0.3M618.6 513.4l0.5 -0.6M647.7 506.1l0.6 0.5" stroke="#1616b0" stroke-width="3.0" stroke-linecap="round" fill="none"/><path d="M626.9 552.5l0.0 -0.2M632.3 523.8l-0.0 -0.6M642.2 532.7l0.2 0.4M615.5 531.0l-0.4 -0.4M681.9 524.9l0.2 0.1M671.9 488.5l0.2 0.1M654.2 522.6l0.1 0.4M629.6 508.9l-0.1 0.0M671.5 521.9l-0.4 -0.1M676.1 511.4l-0.1 0.4M682.9 551.4l-0.2 -0.1M646.3 553.4l0.2 -0.2M633.7 499.0l-0.3 -0.3M625.8 533.1l0.5 0.4M644.7 549.2l0.5 0.5" stroke="#12129a" stroke-width="3.0" stroke-linecap="round" fill="none"/><path d="M659.7 548.9l0.4 -0.2M678.3 538.4l0.3 -0.3M644.0 517.6l-0.1 -0.6M631.9 490.0l0.0 0.3M626.5 507.0l0.5 -0.2M643.0 525.6l0.1 -0.6M649.0 552.8l-0.4 0.2M659.7 516.2l0.2 -0.1M627.4 548.7l0.1 -0.4M625.2 522.8l-0.4 0.1M668.8 496.6l-0.3 0.4M661.7 535.1l0.5 0.2M680.5 515.1l-0.3 -0.4M682.6 530.5l-0.2 0.3M666.3 503.2l-0.4 -0.4M621.9 488.9l-0.5 0.2M664.6 540.8l0.3 0.2" stroke="#2222d8" stroke-width="3.0" stroke-linecap="round" fill="none"/><path d="M681.0 547.0l0.4 0.3M603.6 553.8l0.5 0.2M669.5 542.3l0.0 -0.1M673.5 502.9l0.2 0.2M679.0 503.9l0.4 0.3M630.7 511.7l-0.6 -0.2M673.0 521.6l0.3 -0.3M643.3 530.7l0.3 -0.5M650.9 511.7l-0.6 0.5M614.2 489.1l-0.1 0.5M615.5 551.7l0.1 0.1" stroke="#2a2ae6" stroke-width="3.0" stroke-linecap="round" fill="none"/><path d="M636.2 537.8l0.5 0.3M639.9 507.2l0.8 -0.6M669.4 502.1l0.7 0.5M685.5 551.4l-0.6 -0.7M625.9 537.6l-0.5 -0.3M623.7 521.3l-0.3 -0.1M685.4 544.3l0.6 0.8M655.6 521.2l-0.0 0.2M677.4 504.0l-0.0 0.0M663.4 546.1l-0.5 0.2M684.9 540.9l0.4 0.2M657.2 493.5l0.7 0.1M627.9 542.2l0.1 -0.1M627.6 551.7l-0.7 0.5M650.7 493.2l-0.3 -0.4M650.4 546.9l-0.1 0.6M653.7 507.6l0.0 -0.4M647.2 517.3l-0.0 0.2M677.0 551.7l-0.6 -0.7M646.9 543.6l-0.4 0.7M638.7 501.5l0.1 0.1M664.7 536.5l-0.3 0.3M661.7 513.6l0.6 0.0M685.8 537.3l-0.5 0.5M614.3 536.5l-0.2 -0.1M631.8 510.4l-0.3 -0.7M603.3 532.5l-0.2 -0.5M618.2 538.7l-0.8 -0.0M668.2 529.3l0.6 -0.1M650.2 533.6l0.5 0.7M639.9 520.9l-0.6 -0.6M644.0 533.8l0.1 0.6M665.0 511.8l-0.5 -0.4M655.3 499.0l-0.2 -0.6M643.1 540.7l0.0 -0.8M679.4 527.0l0.6 -0.7M644.8 511.4l-0.0 0.2M609.8 500.8l0.7 -0.5M628.1 501.2l0.5 -0.1M629.1 548.4l0.2 0.3M651.0 512.1l0.4 0.6M626.0 513.7l0.4 0.2M659.3 538.1l-0.3 0.1M638.2 549.6l0.0 0.2M626.9 523.5l-0.0 0.5M652.2 551.8l-0.3 -0.1M620.7 493.6l0.3 0.1M682.5 537.8l-0.1 0.8M639.1 498.2l-0.1 -0.3M662.3 496.4l0.4 0.3M615.2 517.0l-0.5 -0.4M605.8 539.1l0.8 0.1M657.4 552.3l0.2 -0.1M648.1 534.5l0.8 -0.6M666.4 526.7l0.4 0.4M629.6 506.7l-0.7 0.8M626.0 517.2l-0.4 -0.1M624.8 511.8l-0.4 -0.2M683.0 538.5l-0.7 0.1M684.9 515.7l-0.1 0.4M654.0 542.8l0.6 0.3M660.8 532.2l0.6 0.7M682.6 510.6l0.8 -0.2M635.0 535.8l0.4 -0.7M643.6 550.8l0.6 0.2M661.4 502.1l-0.6 -0.2M621.2 497.1l-0.3 0.3M642.4 501.7l-0.0 -0.5M622.9 550.5l-0.3 -0.1M609.9 539.0l0.0 0.0M667.7 532.3l0.1 -0.5M667.3 509.5l-0.8 -0.4M648.2 492.1l-0.1 0.0M628.9 510.1l0.8 0.8M622.7 499.2l0.3 0.2M642.7 507.5l0.7 -0.1M664.3 503.9l0.0 -0.5M610.3 545.1l-0.7 -0.5M603.2 527.8l0.4 0.0M651.6 492.8l0.3 0.2M659.4 522.9l-0.3 -0.6M651.9 517.1l0.1 0.7M647.3 501.4l-0.6 0.7M642.4 504.2l-0.4 0.5M613.0 545.1l0.7 0.0M641.6 528.1l0.5 0.8M673.1 508.4l0.1 0.3M602.3 536.9l-0.2 -0.7M653.0 523.3l0.6 0.2M663.0 541.1l0.6 -0.7M655.3 541.4l-0.5 -0.2M657.1 518.2l-0.3 -0.5M651.4 547.1l-0.2 0.2M661.0 525.7l0.6 0.1M651.0 531.3l0.6 0.8M658.5 511.9l0.0 -0.7M635.8 548.1l-0.6 -0.2M681.4 495.0l-0.1 0.6M661.4 523.8l0.1 0.2M629.6 520.1l0.3 -0.5M681.0 518.2l0.6 0.5M672.8 530.1l0.0 0.6M602.5 497.8l-0.0 0.0M641.2 507.4l-0.6 0.8M615.9 550.7l0.7 -0.4M643.7 498.8l0.1 -0.2M636.5 495.8l-0.7 -0.2M663.8 521.5l0.6 0.7M662.5 541.9l0.5 -0.4M684.0 492.0l0.1 -0.6M645.9 506.0l0.6 0.1M659.1 532.0l-0.2 -0.7M620.0 513.2l-0.5 0.5M661.6 549.4l-0.7 -0.4M637.1 499.1l-0.0 0.5M627.6 544.3l-0.0 0.4M650.0 528.1l-0.4 0.2M614.2 536.9l-0.6 -0.6M679.9 499.8l0.6 0.1M664.1 528.0l0.3 0.2M660.8 547.1l-0.0 -0.7M635.7 520.9l-0.5 0.4M671.6 513.7l0.1 0.2M661.4 517.0l0.7 0.7M671.8 538.3l-0.2 -0.0M616.8 544.8l-0.7 0.4M635.4 539.5l-0.1 0.2M645.1 513.2l0.7 0.2M635.9 505.1l-0.3 0.4M616.1 530.8l0.1 -0.3M645.4 492.7l-0.7 -0.6M673.9 543.2l-0.4 -0.6M648.6 549.5l0.5 0.8M672.6 516.8l0.7 -0.1M679.5 552.2l-0.1 0.8M675.2 537.9l-0.2 -0.6M659.4 542.1l0.4 -0.4M675.3 541.3l-0.5 0.1M672.2 507.3l0.8 -0.1M669.4 518.8l-0.0 0.7M637.5 524.4l-0.0 0.7M608.5 539.1l0.2 -0.8M623.1 518.3l0.6 -0.4M667.5 491.1l0.7 -0.1M647.6 523.8l0.1 0.1M669.0 497.0l-0.7 -0.2M664.0 534.5l-0.5 -0.7M636.4 537.7l-0.1 0.1M619.1 538.3l-0.6 0.4M604.0 545.8l-0.8 0.1M618.1 497.5l0.2 -0.1M626.5 521.6l0.2 -0.6M605.8 523.8l-0.3 0.4M609.8 516.8l0.5 0.5M685.0 552.5l0.7 -0.1M680.2 518.0l-0.7 -0.2M631.5 523.4l0.3 -0.3M616.2 512.3l0.6 0.3M671.1 536.9l0.6 -0.4M684.7 549.2l-0.2 0.6M684.5 535.6l0.4 -0.7M647.1 518.6l0.8 0.4M609.0 501.1l-0.6 -0.4M639.7 512.0l-0.2 -0.7M671.7 522.4l-0.1 0.2M673.9 522.0l0.5 0.2M677.2 511.2l0.6 -0.7M670.5 529.3l0.7 0.1M670.9 516.4l-0.3 -0.1M656.3 515.4l-0.4 0.2M654.5 510.3l0.3 -0.1M635.2 496.4l0.5 -0.6M647.4 552.6l-0.4 0.7M621.3 500.7l0.5 -0.6M609.3 550.2l0.1 0.8M605.6 506.5l-0.2 0.4M651.8 519.1l-0.7 0.6M644.7 506.6l0.6 0.5M648.6 512.3l-0.6 0.3M646.0 502.0l0.6 0.0M613.6 518.6l-0.3 0.3M669.5 501.3l0.4 0.6M673.4 492.0l-0.0 -0.2M663.0 540.1l0.1 0.1M623.7 535.3l0.8 0.7M643.1 542.1l0.3 -0.4M678.5 501.0l-0.3 -0.7M631.9 492.7l-0.2 0.3M644.1 547.3l0.5 0.6M648.3 495.9l-0.7 0.0M603.8 550.0l0.7 -0.4M603.6 539.4l0.2 0.6M654.5 526.9l0.2 0.1M633.5 537.1l0.2 -0.6M659.2 539.8l-0.6 -0.7M682.5 514.0l0.2 -0.3M649.2 534.8l0.7 0.4M602.6 526.4l-0.4 -0.0M673.0 547.7l-0.0 -0.4M612.7 546.0l-0.7 0.7M614.1 511.5l-0.1 -0.5M649.4 518.5l-0.6 0.3M608.4 532.4l0.7 -0.1M616.6 532.5l-0.1 0.3M662.2 493.5l0.2 0.6M663.0 515.1l-0.0 0.4M660.3 550.6l-0.5 0.6M628.6 531.5l0.3 0.5" stroke="#a8186a" stroke-width="1.0" stroke-linecap="round" fill="none"/><path d="M678.4 504.6l0.6 0.1M623.6 508.4l-0.3 -0.4M613.2 502.6l-0.5 0.3M674.2 549.1l0.6 0.4M655.6 506.4l0.3 -0.7M610.6 552.7l0.5 0.6M678.0 496.5l-0.0 -0.6M606.0 501.6l0.7 -0.1M646.5 543.8l-0.4 -0.5M662.9 494.3l-0.2 0.4M666.3 509.5l0.2 0.3M610.8 515.4l-0.1 0.1M619.6 535.5l-0.1 -0.3M652.4 524.7l0.7 -0.2M684.3 507.3l0.2 0.5M618.9 549.9l-0.5 0.0M626.4 530.1l-0.4 -0.4M605.8 532.1l0.8 0.2M678.3 494.1l-0.3 0.4M676.1 545.6l-0.0 -0.8M678.2 521.3l-0.8 -0.2M656.3 503.6l-0.6 0.8M672.0 552.4l-0.4 0.2M668.4 506.3l0.7 -0.2M666.0 541.9l0.4 -0.2M684.7 494.6l0.4 0.5M660.6 541.6l-0.6 -0.2M640.8 548.8l0.6 -0.4M679.2 498.2l-0.5 -0.4M618.3 551.9l0.5 -0.1M611.1 535.4l-0.4 -0.0M662.0 508.8l0.5 0.5M636.6 523.5l0.0 -0.5M622.1 545.2l0.8 -0.6M605.1 549.0l-0.4 -0.8M657.3 496.5l-0.4 -0.5M656.8 512.4l-0.8 0.8M661.1 548.1l-0.5 -0.6M623.2 528.8l0.1 -0.6M607.4 541.5l0.3 0.4M668.0 535.1l-0.2 -0.4M651.2 536.5l-0.4 -0.2M665.2 497.0l0.6 -0.6M611.7 526.9l-0.0 0.4M650.4 523.7l0.1 -0.4M645.4 497.9l0.3 0.4M608.2 534.7l0.8 0.4M640.2 525.9l0.6 0.4M670.9 542.7l-0.3 -0.7M630.2 502.6l-0.6 0.6M616.9 550.1l0.4 0.6M659.6 530.3l-0.4 -0.6M636.9 503.0l0.2 0.3M621.5 526.6l0.5 -0.0M613.1 517.3l-0.3 -0.4M639.2 537.2l0.2 -0.4M671.3 549.6l0.2 0.5M645.8 522.4l0.2 -0.2M604.4 552.2l-0.1 0.5M665.0 527.7l0.7 0.2M652.3 503.8l0.5 -0.3M655.4 517.1l0.5 -0.8M684.0 526.9l0.8 -0.5M676.1 501.7l0.1 -0.4M635.6 550.4l-0.8 0.7M664.9 539.7l-0.3 0.4M662.0 529.0l-0.1 0.4M639.0 506.0l-0.4 0.7M660.1 540.0l-0.4 0.0M609.5 493.0l0.2 -0.2M638.2 499.7l-0.6 0.2M619.3 549.2l0.5 -0.6M648.3 522.2l-0.8 0.7M651.6 550.5l-0.2 0.0M646.9 502.6l0.3 -0.2M682.6 508.5l-0.3 -0.2M614.5 527.2l0.1 -0.5M626.7 496.9l0.3 -0.3M633.3 544.1l-0.7 -0.7M684.3 503.0l-0.7 0.1M630.7 490.6l-0.8 -0.1M668.8 547.2l0.8 -0.1M676.5 543.0l-0.2 0.4M655.5 539.7l0.3 0.6M668.0 534.5l-0.2 -0.3M616.5 511.5l0.5 -0.2M623.4 502.6l0.2 0.4M626.1 497.1l0.0 0.4M606.7 498.7l-0.2 0.4M677.4 496.6l-0.0 0.7M603.1 506.7l-0.2 0.5M658.5 539.4l-0.8 0.2M631.9 539.8l-0.1 -0.2M643.4 497.7l0.1 -0.4M621.5 526.0l0.7 -0.6M682.3 550.8l0.2 0.3M657.6 492.6l-0.7 -0.6M673.0 523.0l0.4 -0.7M633.9 527.4l-0.5 0.7M634.0 521.2l0.5 -0.8M624.8 495.3l-0.6 -0.5M630.3 519.0l0.7 -0.5M652.5 540.0l-0.4 -0.2M602.2 536.0l0.6 -0.2M683.4 491.5l0.0 -0.4M610.5 526.2l-0.4 0.6M636.9 494.0l0.5 -0.0M636.4 552.4l-0.1 0.7M602.9 523.3l0.1 0.4M674.8 524.1l-0.8 -0.3M637.3 521.4l-0.2 0.2M603.3 495.4l-0.6 -0.6M647.6 515.8l-0.6 0.2M604.1 523.8l0.0 -0.7M661.1 502.3l0.4 0.2M619.4 541.9l-0.0 -0.7M640.9 499.5l0.2 -0.1M621.9 534.0l0.3 -0.5M654.1 498.7l0.3 0.6M614.6 497.4l0.1 0.1M676.7 507.9l0.2 0.3M670.0 490.0l0.6 -0.2M612.7 505.5l0.7 0.7M685.3 498.3l-0.5 0.1M618.8 501.3l-0.4 -0.0M654.5 525.1l-0.2 -0.2M625.8 515.9l-0.0 0.7M665.3 528.2l0.3 -0.2M667.7 526.7l-0.2 -0.5M622.8 501.4l-0.3 -0.5M653.3 512.0l0.1 0.7M636.8 528.8l-0.4 -0.0M618.6 529.5l-0.7 -0.1M638.9 552.7l-0.2 0.7M632.9 545.7l-0.7 0.6M680.2 530.3l-0.0 -0.2M669.0 538.0l-0.3 -0.5M627.4 512.3l-0.4 0.4M606.9 539.1l0.3 0.3M625.0 548.2l-0.2 0.0M633.1 492.7l0.7 -0.6M636.8 552.7l0.6 0.6M639.1 521.3l-0.8 0.5M678.3 521.7l-0.5 0.0M678.6 517.2l0.6 -0.4M648.4 547.4l-0.1 0.5M661.0 543.7l0.6 -0.0M684.4 546.6l0.6 -0.2M628.6 503.4l0.1 0.2M645.6 545.3l0.5 0.5M605.7 490.3l-0.0 -0.8M673.6 541.3l0.1 0.5M608.8 536.9l-0.4 0.7M652.6 536.7l0.6 0.3M682.1 535.1l0.1 -0.7M652.2 492.6l0.3 -0.5M640.6 523.5l-0.3 0.7M675.3 505.7l0.7 -0.5M632.6 506.5l0.4 0.2M642.1 501.4l-0.1 -0.6M643.3 541.8l-0.6 -0.1M672.7 533.3l0.2 0.1M679.6 545.2l-0.6 -0.7M606.8 532.1l0.0 0.3M685.9 546.4l-0.1 0.6M662.8 522.0l-0.5 0.1M672.7 530.6l0.3 0.2M679.4 493.7l-0.8 -0.1M624.0 499.4l-0.7 -0.7M632.4 494.8l0.6 0.2M681.5 541.8l-0.3 0.7M637.1 548.8l0.1 0.2M624.8 552.6l0.7 0.6M656.6 506.4l-0.3 0.0M642.6 542.9l-0.1 0.0M630.1 517.9l0.6 -0.7M649.0 548.0l-0.7 0.0M656.5 531.8l-0.6 0.7M652.2 535.2l-0.3 0.6M661.7 490.0l-0.6 -0.7M616.3 498.1l-0.0 -0.0M620.8 523.3l0.7 0.5M642.0 529.6l0.7 -0.8M678.5 510.5l0.2 0.1M671.3 521.6l-0.6 0.1M678.7 552.5l-0.0 -0.6M615.5 541.3l-0.8 -0.7M670.4 493.2l-0.2 0.5M629.4 504.5l0.1 0.4M611.9 519.0l-0.7 -0.3M660.2 552.0l0.8 -0.6M609.0 512.4l0.6 0.3M669.3 551.0l-0.1 -0.5M653.6 522.1l0.1 0.2M667.8 528.6l-0.5 0.3M621.5 551.7l0.6 -0.6M652.4 492.2l0.2 -0.3M634.4 516.2l0.3 -0.4M650.9 498.1l0.5 -0.3M669.2 540.1l0.3 0.5M616.3 550.3l-0.5 -0.4M646.7 541.9l0.5 -0.5M636.6 525.0l0.3 0.1M637.9 534.1l0.6 0.4M660.7 532.4l-0.6 0.8M617.1 493.7l-0.4 0.7M662.4 549.7l0.7 0.3M665.9 504.3l0.1 -0.4M636.2 523.9l0.0 -0.1M605.9 497.2l0.6 -0.8M664.5 547.4l-0.3 -0.2M664.7 503.3l-0.6 -0.2" stroke="#a8186a" stroke-width="1.5" stroke-linecap="round" fill="none"/><path d="M622.0 539.2l-0.7 -0.2M627.8 514.0l-0.0 -0.3M637.6 513.8l0.2 0.7M617.6 537.6l0.8 0.3M641.5 549.8l0.3 -0.7M658.9 532.1l-0.6 0.2M610.4 516.5l-0.5 -0.4M620.2 508.9l-0.0 0.8M624.6 513.4l-0.2 -0.8M660.9 539.6l-0.0 0.5M607.4 504.9l0.7 0.5M684.2 541.8l-0.0 0.3M680.8 499.9l0.5 -0.3M638.1 530.2l0.4 0.4M643.7 530.2l-0.2 0.8M640.1 495.3l0.5 0.7M643.2 542.1l-0.7 -0.4M607.8 535.0l-0.4 -0.3M606.8 493.6l0.2 -0.2M661.3 506.7l0.6 0.3M615.9 513.2l-0.3 -0.2M680.0 540.3l-0.7 -0.4M670.9 508.6l0.2 -0.7M656.4 548.1l-0.8 -0.7M637.1 539.6l0.3 -0.8M613.0 511.7l-0.4 0.3M662.6 521.2l0.3 -0.4M658.8 493.5l-0.3 0.4M617.0 532.5l0.5 -0.7M656.2 500.6l-0.7 -0.6M620.7 519.6l0.4 0.4M648.9 524.6l-0.3 -0.6M631.5 493.7l0.4 0.5M614.8 514.8l0.6 0.6M622.6 513.0l-0.0 0.5M663.1 503.9l0.7 -0.2M637.1 535.7l0.3 -0.6M614.5 545.9l0.2 0.7M670.0 537.5l0.5 -0.3M642.2 537.1l-0.1 0.2M630.7 545.5l0.4 0.8M637.4 543.5l-0.1 0.1M636.9 519.2l0.2 0.7M611.8 538.8l-0.2 0.4M635.3 508.4l-0.2 0.7M649.0 524.9l-0.2 0.5M620.1 524.0l-0.7 -0.1M609.4 535.6l-0.7 0.2M654.5 550.7l0.3 0.5M661.9 500.3l-0.1 0.5" stroke="#e01830" stroke-width="1.0" stroke-linecap="round" fill="none"/><path d="M622.2 507.2l0.2 0.7M625.3 551.3l0.7 -0.3M619.3 493.2l0.5 -0.8M657.1 545.9l0.7 -0.5M621.3 506.9l-0.3 0.4" stroke="#e01830" stroke-width="1.5" stroke-linecap="round" fill="none"/><path d="M627.9 503.1l0.1 -0.8M628.7 528.7l-0.1 -0.2M665.5 539.1l0.7 -0.5M647.1 507.6l0.2 0.3M680.5 520.4l-0.5 0.0" stroke="#e01830" stroke-width="0.5" stroke-linecap="round" fill="none"/></g><text x="605.5" y="500.1" font-size="10.4" fill="#ffffff">CCL18</text><path d="M645.0 507.4L640.2 512.2M640.9 509.5L640.2 512.2L642.9 511.5" stroke="#ffffff" stroke-width="1.2" fill="none" stroke-linecap="round" stroke-linejoin="round"/><path d="M661.7 527.7L656.5 532.5M657.3 529.8L656.5 532.5L659.2 531.9" stroke="#ffffff" stroke-width="1.2" fill="none" stroke-linecap="round" stroke-linejoin="round"/><path d="M681.4 538.5L676.2 544.3M676.8 541.6L676.2 544.3L678.9 543.4" stroke="#2ab0e0" stroke-width="1.2" fill="none" stroke-linecap="round" stroke-linejoin="round"/><text transform="matrix(0.86 0 0 1 -0.2 614.4)" font-size="17.2" fill="#231f20">f</text><text x="109.3" y="622.6" font-size="10.2" text-anchor="middle" fill="#231f20">CD68+CD206+CCL18+ (%)</text><path d="M42.2 636.3H45.5V638.2H47.7V640.2H49.3V642.1H51.1V644.8H52.4V648.0H53.3V651.9H54.4V655.8H55.5V657.8H58.8V658.4H61.0V659.7H64.3V661.6H67.7V663.2H73.2V664.9H78.7V666.5H84.3V667.8H88.7V669.4H92.9V670.6H167.6V670.6" fill="none" stroke="#1f2a8c" stroke-width="1"/><path d="M42.2 636.3H42.9V643.3H46.6V646.7H48.2V648.9H49.3V656.6H50.4V668.7H53.5V674.3H61.2V677.5H63.5V680.8H67.9V683.0H71.0V689.6H73.2V696.2H82.1V701.8H106.2V706.1H112.6V711.7H171.8V711.7" fill="none" stroke="#e8262a" stroke-width="1"/><path d="M99.8 669.0v1.6" stroke="#1f2a8c" stroke-width="0.9"/><path d="M106.4 669.0v1.6" stroke="#1f2a8c" stroke-width="0.9"/><path d="M115.3 669.0v1.6" stroke="#1f2a8c" stroke-width="0.9"/><path d="M126.4 669.0v1.6" stroke="#1f2a8c" stroke-width="0.9"/><path d="M130.8 669.0v1.6" stroke="#1f2a8c" stroke-width="0.9"/><path d="M146.3 669.0v1.6" stroke="#1f2a8c" stroke-width="0.9"/><path d="M148.5 669.0v1.6" stroke="#1f2a8c" stroke-width="0.9"/><path d="M157.4 669.0v1.6" stroke="#1f2a8c" stroke-width="0.9"/><path d="M159.6 669.0v1.6" stroke="#1f2a8c" stroke-width="0.9"/><path d="M161.8 669.0v1.6" stroke="#1f2a8c" stroke-width="0.9"/><path d="M164.0 669.0v1.6" stroke="#1f2a8c" stroke-width="0.9"/><path d="M166.2 669.0v1.6" stroke="#1f2a8c" stroke-width="0.9"/><path d="M126.4 710.1v1.6" stroke="#e8262a" stroke-width="0.9"/><path d="M135.2 710.1v1.6" stroke="#e8262a" stroke-width="0.9"/><path d="M137.4 710.1v1.6" stroke="#e8262a" stroke-width="0.9"/><path d="M155.2 710.1v1.6" stroke="#e8262a" stroke-width="0.9"/><path d="M157.4 710.1v1.6" stroke="#e8262a" stroke-width="0.9"/><path d="M159.6 710.1v1.6" stroke="#e8262a" stroke-width="0.9"/><path d="M166.2 710.1v1.6" stroke="#e8262a" stroke-width="0.9"/><path d="M168.5 710.1v1.6" stroke="#e8262a" stroke-width="0.9"/><path d="M170.7 710.1v1.6" stroke="#e8262a" stroke-width="0.9"/><rect x="42.2" y="636.3" width="132.9" height="130.0" fill="none" stroke="#6f6b6c" stroke-width="1.4"/><line x1="40.0" y1="636.3" x2="42.2" y2="636.3" stroke="#6f6b6c" stroke-width="1.2"/><text x="35.4" y="639.9" font-size="10.2" text-anchor="end" fill="#231f20">100</text><line x1="40.0" y1="668.8" x2="42.2" y2="668.8" stroke="#6f6b6c" stroke-width="1.2"/><text x="35.4" y="672.4" font-size="10.2" text-anchor="end" fill="#231f20">75</text><line x1="40.0" y1="701.3" x2="42.2" y2="701.3" stroke="#6f6b6c" stroke-width="1.2"/><text x="35.4" y="704.9" font-size="10.2" text-anchor="end" fill="#231f20">50</text><line x1="40.0" y1="733.8" x2="42.2" y2="733.8" stroke="#6f6b6c" stroke-width="1.2"/><text x="35.4" y="737.4" font-size="10.2" text-anchor="end" fill="#231f20">25</text><line x1="40.0" y1="766.3" x2="42.2" y2="766.3" stroke="#6f6b6c" stroke-width="1.2"/><text x="35.4" y="769.9" font-size="10.2" text-anchor="end" fill="#231f20">0</text><line x1="42.2" y1="766.3" x2="42.2" y2="768.5" stroke="#6f6b6c" stroke-width="1.2"/><text x="42.2" y="781.9" font-size="10" text-anchor="middle" fill="#231f20">0</text><line x1="86.5" y1="766.3" x2="86.5" y2="768.5" stroke="#6f6b6c" stroke-width="1.2"/><text x="86.5" y="781.9" font-size="10" text-anchor="middle" fill="#231f20">20</text><line x1="130.8" y1="766.3" x2="130.8" y2="768.5" stroke="#6f6b6c" stroke-width="1.2"/><text x="130.8" y="781.9" font-size="10" text-anchor="middle" fill="#231f20">40</text><line x1="175.1" y1="766.3" x2="175.1" y2="768.5" stroke="#6f6b6c" stroke-width="1.2"/><text x="175.1" y="781.9" font-size="10" text-anchor="middle" fill="#231f20">60</text><text x="109.1" y="800.7" font-size="10.1" text-anchor="middle" fill="#231f20">Time (Month)</text><text transform="translate(16.7 701.4) rotate(-90)" font-size="10.8" text-anchor="middle" fill="#231f20">Overall Survive</text><path d="M50.9 740.9h10" stroke="#5a5fb0" stroke-width="0.9"/><path d="M55.9 739.6v1.3" stroke="#1f2a8c" stroke-width="1"/><path d="M50.9 754.4h10" stroke="#f05050" stroke-width="0.9"/><path d="M55.9 753.1v1.3" stroke="#e8262a" stroke-width="1"/><text x="65.4" y="743.7" font-size="9.2" fill="#231f20">Low</text><text x="65.4" y="757.0" font-size="9.2" fill="#231f20">High</text><text x="109.0" y="756.5" font-size="8.8" fill="#231f20"><tspan font-style="italic">p</tspan>=0.001</text><text transform="matrix(0.86 0 0 1 236.6 613.7)" font-size="17.2" fill="#231f20">g</text><text x="352.4" y="622.5" font-size="11.6" text-anchor="middle" fill="#231f20">DC_c1_CLEC9A</text><path d="M289.9 640.3H290.9V643.3H291.9V645.7H293.0V646.9H294.2V647.9H295.5V650.5H297.5V653.4H298.6V655.9H299.7V658.3H300.7V660.9H301.6V664.3H302.5V666.7H303.0V669.6H303.6V672.7H304.1V676.3H306.2V677.5H307.8V679.9H309.6V682.7H311.4V684.7H313.4V686.5H316.2V689.1H318.5V691.3H321.1V693.1H323.8V695.7H326.7V697.9H329.2V700.3H332.6V704.4H334.3V706.9H336.4V709.9H338.1V712.1H349.1V717.5H369.5V731.6H407.2V731.6" fill="none" stroke="#3cc0d0" stroke-width="1"/><path d="M289.9 640.3H291.1V643.9H292.1V646.3H293.2V647.9H295.0V649.9H297.1V651.7H299.6V652.9H302.0V653.4H303.7V655.3H305.2V657.1H306.8V658.9H308.6V660.9H309.8V663.1H311.2V664.9H312.4V667.2H314.0V669.6H315.0V672.1H316.3V675.1H326.1V676.3H327.2V677.9H339.2V681.7H340.5V684.7H342.5V685.9H344.0V688.3H345.6V690.7H346.9V692.5H356.8V692.5H357.8V701.1H389.6V720.7H392.9V740.4H395.1V740.4" fill="none" stroke="#e8403a" stroke-width="1"/><path d="M351.2 716.3v1.2" stroke="#3cc0d0" stroke-width="0.9"/><path d="M354.3 716.3v1.2" stroke="#3cc0d0" stroke-width="0.9"/><path d="M357.3 716.3v1.2" stroke="#3cc0d0" stroke-width="0.9"/><path d="M360.4 716.3v1.2" stroke="#3cc0d0" stroke-width="0.9"/><path d="M363.5 716.3v1.2" stroke="#3cc0d0" stroke-width="0.9"/><path d="M366.5 716.3v1.2" stroke="#3cc0d0" stroke-width="0.9"/><path d="M398.2 730.4v1.2" stroke="#3cc0d0" stroke-width="0.9"/><path d="M401.3 730.4v1.2" stroke="#3cc0d0" stroke-width="0.9"/><path d="M404.3 730.4v1.2" stroke="#3cc0d0" stroke-width="0.9"/><path d="M360.4 699.9v1.2" stroke="#e8403a" stroke-width="0.9"/><path d="M363.5 699.9v1.2" stroke="#e8403a" stroke-width="0.9"/><path d="M366.5 699.9v1.2" stroke="#e8403a" stroke-width="0.9"/><path d="M369.6 699.9v1.2" stroke="#e8403a" stroke-width="0.9"/><path d="M371.6 699.9v1.2" stroke="#e8403a" stroke-width="0.9"/><path d="M375.7 699.9v1.2" stroke="#e8403a" stroke-width="0.9"/><rect x="284.0" y="634.2" width="140.0" height="132.1" fill="none" stroke="#3a3637" stroke-width="1"/><line x1="280.7" y1="640.3" x2="284.0" y2="640.3" stroke="#3a3637" stroke-width="0.9"/><text x="277.6" y="644.1" font-size="10.8" text-anchor="end" fill="#231f20">1.00</text><line x1="280.7" y1="670.3" x2="284.0" y2="670.3" stroke="#3a3637" stroke-width="0.9"/><text x="277.6" y="674.1" font-size="10.8" text-anchor="end" fill="#231f20">0.75</text><line x1="280.7" y1="700.3" x2="284.0" y2="700.3" stroke="#3a3637" stroke-width="0.9"/><text x="277.6" y="704.1" font-size="10.8" text-anchor="end" fill="#231f20">0.50</text><line x1="280.7" y1="730.3" x2="284.0" y2="730.3" stroke="#3a3637" stroke-width="0.9"/><text x="277.6" y="734.1" font-size="10.8" text-anchor="end" fill="#231f20">0.25</text><line x1="280.7" y1="760.3" x2="284.0" y2="760.3" stroke="#3a3637" stroke-width="0.9"/><text x="277.6" y="764.1" font-size="10.8" text-anchor="end" fill="#231f20">0.00</text><line x1="289.9" y1="766.3" x2="289.9" y2="770.0999999999999" stroke="#3a3637" stroke-width="0.9"/><text x="289.9" y="783.7" font-size="10.5" text-anchor="middle" fill="#231f20">0</text><line x1="320.6" y1="766.3" x2="320.6" y2="770.0999999999999" stroke="#3a3637" stroke-width="0.9"/><text x="320.6" y="783.7" font-size="10.5" text-anchor="middle" fill="#231f20">30</text><line x1="351.2" y1="766.3" x2="351.2" y2="770.0999999999999" stroke="#3a3637" stroke-width="0.9"/><text x="351.2" y="783.7" font-size="10.5" text-anchor="middle" fill="#231f20">60</text><line x1="381.9" y1="766.3" x2="381.9" y2="770.0999999999999" stroke="#3a3637" stroke-width="0.9"/><text x="381.9" y="783.7" font-size="10.5" text-anchor="middle" fill="#231f20">90</text><line x1="412.5" y1="766.3" x2="412.5" y2="770.0999999999999" stroke="#3a3637" stroke-width="0.9"/><text x="412.5" y="783.7" font-size="10.5" text-anchor="middle" fill="#231f20">120</text><text x="357.2" y="800.8" font-size="10.3" text-anchor="middle" fill="#231f20">Time (Month)</text><text transform="translate(248.2 702.6) rotate(-90)" font-size="10.7" text-anchor="middle" fill="#231f20">Survival Pobability</text><path d="M335.1 643h11.4" stroke="#e8403a" stroke-width="1.6"/><path d="M340.8 641v4" stroke="#e8403a" stroke-width="1.3"/><path d="M335.1 653.4h11.4" stroke="#3cc0d0" stroke-width="1.6"/><path d="M340.8 651.4v4" stroke="#3cc0d0" stroke-width="1.3"/><text x="349.3" y="643.9" font-size="9.0" fill="#231f20">Group_gene High</text><text x="349.3" y="654.7" font-size="9.0" fill="#231f20">Group_gene Low</text><text x="293.4" y="751.1" font-size="9.8" fill="#231f20">p=0.0036</text><text transform="matrix(0.86 0 0 1 474.0 614.3)" font-size="17.2" fill="#231f20">h</text><text x="593.0" y="622.5" font-size="11.6" text-anchor="middle" fill="#231f20">DC_c1_CLEC9A</text><path d="M602.8 755.7h0M588.2 742.3h0M611.5 739.8h0M608.4 752.2h0M593.5 750.3h0M596.1 753.8h0M602.3 754.5h0M596.3 758.3h0M590.1 752.4h0M592.0 759.6h0M604.2 748.2h0M594.5 761.4h0M607.9 738.1h0M606.0 748.6h0M595.0 751.2h0M591.6 755.2h0M610.5 739.4h0M593.7 756.6h0M607.2 749.9h0M602.7 761.2h0M603.0 757.0h0M604.4 750.2h0M589.9 735.4h0M598.4 759.7h0M593.9 758.6h0M600.5 758.6h0M591.5 749.7h0M594.5 756.3h0M586.6 740.6h0M594.7 757.8h0M596.8 758.8h0M604.5 751.2h0M590.3 754.6h0M586.1 741.3h0M603.6 754.3h0M607.9 744.7h0M605.5 744.6h0M608.1 747.1h0M592.8 753.9h0M588.8 742.2h0M610.8 737.9h0M594.5 757.2h0M593.8 755.8h0M610.2 743.2h0M589.0 747.6h0M592.8 740.3h0M590.5 757.2h0M594.1 752.7h0M595.1 746.1h0M591.8 758.1h0M608.8 740.1h0M585.1 736.7h0M606.7 748.5h0M602.1 750.1h0M605.2 747.5h0M594.9 748.9h0M596.4 755.8h0M594.0 761.0h0M586.3 741.7h0M589.0 752.9h0M594.3 761.2h0M592.9 742.9h0M611.4 737.7h0M595.9 751.8h0M585.9 740.6h0M601.6 753.6h0M593.8 750.6h0M587.5 751.8h0M595.7 761.5h0M603.3 752.3h0M598.1 759.0h0M594.2 756.9h0M587.3 746.2h0M596.6 757.3h0M602.1 758.7h0M592.6 754.2h0M585.9 738.9h0M604.6 745.0h0M612.5 738.1h0M593.6 761.5h0M607.4 744.0h0M595.0 755.7h0M595.7 752.4h0M604.0 752.4h0M593.5 753.3h0M608.4 746.7h0M605.8 753.0h0M607.5 744.3h0M594.0 758.5h0M594.7 741.0h0M589.1 747.4h0M586.3 741.1h0M605.0 757.8h0M589.6 741.2h0M605.5 754.4h0M610.5 743.3h0M610.4 741.5h0M587.9 740.4h0M603.0 752.5h0M606.5 751.8h0M588.0 745.0h0M611.0 741.5h0M593.8 755.6h0M594.2 747.8h0M590.9 746.0h0M603.3 758.9h0M594.1 753.8h0M608.3 735.1h0M607.1 752.6h0M588.1 738.3h0M606.7 741.7h0M595.6 747.2h0M602.9 756.3h0M593.4 749.1h0M593.6 753.9h0M593.7 738.2h0M591.4 759.0h0M593.3 755.3h0M584.9 740.5h0M597.3 757.3h0M602.8 752.8h0M596.9 756.9h0M597.4 758.8h0M590.7 748.8h0M592.6 743.0h0M609.3 741.5h0M595.3 752.6h0M606.1 746.8h0M592.9 748.9h0M597.1 754.0h0M590.3 752.5h0M591.0 754.1h0M595.3 748.7h0M594.0 755.5h0M588.2 740.8h0M588.3 735.4h0M590.3 749.2h0M600.0 761.2h0M605.8 750.4h0M597.5 752.9h0M596.5 755.9h0M587.5 747.6h0M596.1 755.0h0M599.8 761.5h0M592.1 758.5h0M593.4 757.8h0M590.8 746.0h0M609.0 745.7h0M596.0 753.6h0M590.5 749.7h0M594.5 756.0h0M592.6 752.1h0M590.7 735.7h0M585.2 743.6h0M591.6 749.8h0M607.2 740.9h0M607.3 747.9h0M606.3 739.0h0M585.0 738.3h0M605.3 745.9h0M601.9 754.2h0M593.0 755.9h0M592.6 743.5h0M588.2 741.0h0M590.7 751.9h0M594.1 753.7h0M588.3 748.3h0M584.4 739.8h0M604.9 756.6h0M609.0 746.5h0M591.9 740.5h0M605.8 737.3h0M593.7 758.5h0M593.6 760.0h0M593.7 756.7h0M611.0 738.5h0M590.2 753.9h0M586.8 736.2h0M593.9 760.3h0M591.0 749.2h0M592.8 742.3h0M593.7 752.6h0M593.5 748.7h0M592.1 753.9h0M603.9 755.4h0M594.2 758.8h0M589.9 751.1h0M606.0 743.5h0M612.8 735.8h0M604.5 748.7h0M602.0 758.8h0M600.8 759.0h0M606.5 740.2h0M592.5 751.0h0M596.2 756.4h0M595.3 754.6h0M611.2 742.8h0M592.3 754.8h0M595.5 752.5h0M606.8 740.7h0M593.0 757.2h0M607.9 747.0h0M606.9 738.7h0M601.5 756.8h0M595.0 751.1h0M606.2 747.6h0M595.2 753.9h0M606.5 736.4h0M593.4 750.2h0M608.1 740.0h0M600.6 756.6h0M590.9 755.6h0M593.0 751.2h0M605.9 744.2h0M589.0 753.5h0M605.1 745.3h0M607.2 750.0h0M591.1 744.8h0M588.1 740.7h0M593.3 755.9h0M597.1 755.2h0M594.9 755.2h0M590.8 747.7h0M604.5 754.3h0M610.9 741.1h0M600.5 759.1h0M591.6 760.8h0M591.2 741.5h0M593.8 747.5h0M606.5 752.4h0M595.8 748.2h0M596.2 752.9h0M607.3 752.2h0M592.6 753.6h0M610.0 740.3h0M594.9 742.4h0M601.0 758.4h0M590.0 750.9h0M606.5 751.0h0M610.2 736.7h0M588.9 753.8h0M595.0 756.2h0M594.1 757.1h0M600.2 760.8h0M591.2 754.2h0M595.2 748.9h0M602.4 756.6h0M595.6 756.1h0M592.0 756.6h0M601.3 753.3h0M583.5 737.9h0M592.4 747.9h0M602.5 757.9h0M608.3 745.2h0M590.5 746.2h0M609.1 747.2h0M602.0 754.5h0M591.0 745.7h0M602.5 756.4h0M607.7 743.0h0M586.6 741.7h0M596.9 753.2h0M608.6 743.8h0M606.1 753.9h0M593.7 746.3h0M595.4 745.4h0M609.3 738.1h0M584.2 740.2h0M584.9 739.4h0M602.7 754.8h0M592.1 754.5h0M603.0 752.4h0M598.0 758.7h0M596.8 756.3h0M592.8 759.3h0M605.6 749.2h0M607.8 746.2h0M594.9 744.3h0M588.6 749.0h0M593.8 745.6h0M592.6 753.2h0M587.1 747.0h0M613.5 736.4h0M604.3 745.0h0M592.7 742.7h0M594.8 757.2h0M600.7 756.5h0M591.8 753.3h0M609.2 743.2h0M590.9 748.9h0M583.6 743.7h0M612.2 731.1h0M585.8 738.6h0M591.0 749.5h0M607.1 741.6h0M604.5 755.1h0M593.7 759.4h0M604.7 753.1h0M594.0 753.6h0M604.2 745.2h0M593.3 760.6h0M590.7 741.5h0M595.5 760.0h0M605.2 747.7h0M593.7 756.0h0M604.6 754.3h0M596.2 757.3h0M606.7 741.7h0M597.0 758.8h0M608.6 742.9h0M591.6 750.4h0M593.8 746.3h0M594.3 750.3h0M601.7 752.4h0M590.7 737.4h0M610.3 743.3h0M605.8 751.7h0M605.5 745.6h0M594.4 752.8h0M590.1 743.2h0M602.8 748.2h0M604.9 756.7h0M607.2 746.1h0M607.8 749.0h0M596.7 761.5h0M594.4 757.9h0M593.1 742.3h0M593.2 750.3h0M595.2 756.5h0M610.5 741.4h0M592.0 751.5h0M596.4 757.3h0M608.1 747.1h0M594.6 745.5h0M589.1 742.4h0M604.7 743.8h0M594.4 755.6h0M584.7 741.4h0M605.9 752.8h0M594.7 747.4h0M589.6 749.5h0M609.2 733.7h0M590.4 753.6h0M607.6 744.3h0M593.9 747.3h0M605.6 749.7h0M595.5 758.1h0M595.8 759.7h0M591.8 743.7h0M600.5 759.7h0M605.4 751.3h0M584.5 740.6h0M596.7 758.5h0M587.9 749.0h0M606.4 753.4h0M603.4 748.3h0M606.2 744.8h0M603.7 760.4h0M590.6 746.8h0M603.9 756.5h0M596.5 751.3h0M600.6 755.8h0M603.9 756.0h0M607.6 744.1h0M601.0 756.0h0M604.3 744.9h0M591.4 748.0h0M603.6 757.1h0M606.6 745.7h0M596.7 755.8h0M589.4 751.0h0M600.5 757.1h0M604.3 753.8h0M606.2 744.2h0M607.3 754.0h0M601.6 761.4h0M591.6 754.3h0M599.8 760.5h0M612.3 734.3h0M591.2 743.9h0M594.5 739.5h0M606.0 752.8h0M607.9 748.8h0M589.0 756.4h0M600.7 761.5h0M589.7 751.6h0M590.3 743.9h0M594.4 741.0h0M609.1 742.9h0M595.9 761.5h0M595.5 761.2h0M587.9 752.4h0M593.3 748.0h0M604.8 757.5h0M596.2 757.7h0M606.2 755.9h0M592.4 751.6h0M591.5 755.5h0M605.8 753.2h0M595.2 755.5h0M607.4 748.3h0M588.7 751.4h0M606.2 746.0h0M594.1 754.4h0M588.7 749.2h0M592.0 749.9h0M601.5 757.6h0M601.4 757.6h0M602.2 761.1h0M591.7 751.8h0M611.0 735.4h0M588.3 738.4h0M594.1 749.7h0M594.8 745.9h0M606.6 743.0h0M593.0 744.3h0M594.6 758.7h0M600.7 757.3h0M584.4 740.9h0M592.1 739.8h0M592.7 749.2h0M607.9 744.8h0M606.6 743.7h0M601.3 759.0h0M591.2 754.3h0M604.5 751.3h0M603.1 752.8h0M596.5 753.0h0M591.5 753.5h0M592.4 753.0h0M589.0 751.3h0M591.3 750.6h0M596.7 752.5h0M604.2 759.7h0M594.8 751.2h0M587.8 748.4h0M613.4 738.1h0M592.2 743.2h0M591.2 746.3h0M608.4 737.7h0M589.3 750.6h0M592.1 752.1h0M607.6 748.7h0M604.9 753.6h0M592.0 755.9h0M585.9 741.5h0M594.0 735.0h0M588.8 745.5h0M609.9 735.2h0M602.5 757.1h0M596.8 752.3h0M587.8 741.6h0M603.1 757.8h0M606.6 756.6h0M590.8 748.5h0M600.7 756.6h0M590.2 742.2h0M602.2 755.2h0M604.7 749.9h0M592.4 759.2h0M597.7 758.8h0M591.1 743.0h0M594.5 759.7h0M605.7 748.4h0M602.9 752.7h0M606.9 751.3h0M607.8 737.6h0M587.3 748.4h0M595.1 751.6h0M585.8 745.7h0M594.5 750.4h0M591.9 752.6h0M605.7 755.2h0M588.7 737.6h0M595.6 756.1h0M610.5 741.0h0M593.7 759.4h0M601.3 757.3h0M610.6 743.6h0M611.3 741.2h0M606.9 748.3h0M594.0 755.3h0M593.6 750.5h0M594.7 750.9h0M586.5 739.8h0M588.3 740.2h0M589.9 755.5h0M593.6 747.0h0M604.0 746.0h0M590.2 744.5h0M604.3 749.4h0M594.6 746.2h0M595.8 759.9h0M607.7 749.6h0M592.9 753.5h0M602.3 759.3h0M593.8 754.7h0M606.9 748.3h0M591.9 757.7h0M592.8 740.4h0M583.9 715.1h0M587.9 715.4h0M585.5 723.4h0M583.9 725.6h0M605.5 722.2h0M607.9 722.2h0M590.3 732.3h0M611.9 733.2h0M607.9 736.9h0M599.9 746.1h0M598.3 748.0h0M595.1 749.2h0" stroke="#bebcbc" stroke-width="2.1" stroke-linecap="round"/><path d="M546.0 659.7h0M551.2 669.2h0M579.2 693.7h0M577.3 714.5h0M567.4 717.4h0M570.8 725.4h0M576.3 720.7h0M576.0 724.2h0M579.2 723.5h0M580.0 729.4h0M580.9 730.4h0M581.0 737.5h0M580.5 731.5h0M664.4 660.4h0M641.8 678.3h0M633.7 694.4h0M625.4 702.9h0M624.0 708.2h0M622.5 714.2h0M620.3 716.0h0M619.2 718.5h0M621.5 719.2h0M620.0 720.5h0M624.3 722.6h0M617.0 726.8h0M618.6 728.0h0M620.2 729.1h0M621.0 730.4h0M614.8 734.6h0M615.5 736.5h0M614.5 738.5h0M615.8 740.0h0M614.9 741.7h0M616.5 737.8h0M613.6 739.2h0" stroke="#e0201c" stroke-width="2.3" stroke-linecap="round"/><path d="M582.5 711V766.6M613.5 711V766.6" stroke="#333" stroke-width="0.8" stroke-dasharray="1 1.2"/><path d="M510.4 636.8V766.7H675.2" fill="none" stroke="#4a4647" stroke-width="1.1"/><line x1="507.6" y1="639.3" x2="510.4" y2="639.3" stroke="#4a4647" stroke-width="0.9"/><text x="505.0" y="643.1" font-size="10.4" text-anchor="end" fill="#231f20">40</text><line x1="507.6" y1="670.0" x2="510.4" y2="670.0" stroke="#4a4647" stroke-width="0.9"/><text x="505.0" y="673.8" font-size="10.4" text-anchor="end" fill="#231f20">30</text><line x1="507.6" y1="700.7" x2="510.4" y2="700.7" stroke="#4a4647" stroke-width="0.9"/><text x="505.0" y="704.5" font-size="10.4" text-anchor="end" fill="#231f20">20</text><line x1="507.6" y1="731.4" x2="510.4" y2="731.4" stroke="#4a4647" stroke-width="0.9"/><text x="505.0" y="735.2" font-size="10.4" text-anchor="end" fill="#231f20">10</text><line x1="507.6" y1="762.1" x2="510.4" y2="762.1" stroke="#4a4647" stroke-width="0.9"/><text x="505.0" y="765.9" font-size="10.4" text-anchor="end" fill="#231f20">0</text><line x1="518.0" y1="766.7" x2="518.0" y2="769.6" stroke="#4a4647" stroke-width="0.9"/><text x="518.0" y="783.2" font-size="10" text-anchor="middle" fill="#231f20">-5.0</text><line x1="558.2" y1="766.7" x2="558.2" y2="769.6" stroke="#4a4647" stroke-width="0.9"/><text x="558.2" y="783.2" font-size="10" text-anchor="middle" fill="#231f20">-2.5</text><line x1="598.3" y1="766.7" x2="598.3" y2="769.6" stroke="#4a4647" stroke-width="0.9"/><text x="598.3" y="783.2" font-size="10" text-anchor="middle" fill="#231f20">0.0</text><line x1="638.4" y1="766.7" x2="638.4" y2="769.6" stroke="#4a4647" stroke-width="0.9"/><text x="638.4" y="783.2" font-size="10" text-anchor="middle" fill="#231f20">2.5</text><text x="534.6" y="801.0" font-size="10" text-anchor="middle" fill="#231f20">Peri-tumor</text><text x="599.0" y="801.0" font-size="10" text-anchor="middle" fill="#231f20">log2FC</text><text x="661.0" y="801.0" font-size="10" text-anchor="middle" fill="#231f20">Tumor</text><text transform="translate(485.8 702.4) rotate(-90)" font-size="10.8" text-anchor="middle" fill="#231f20">-log10 FDR</text><text x="655.9" y="647.5" font-size="8.8" fill="#231f20">CXCL9</text><path d="M668.0 650.2L665.4 658.6M664.8 656.1L665.4 658.6L667.3 656.8" stroke="#231f20" stroke-width="0.9" fill="none" stroke-linecap="round" stroke-linejoin="round"/><text x="653.8" y="674.0" font-size="8.8" fill="#231f20">APOA2</text><path d="M651.5 672.4L643.3 677.1M644.6 674.9L643.3 677.1L645.9 677.1" stroke="#231f20" stroke-width="0.9" fill="none" stroke-linecap="round" stroke-linejoin="round"/><text x="646.6" y="693.5" font-size="8.8" fill="#231f20">BCL2L14</text><path d="M644.5 690.7L636.0 692.3M638.0 690.6L636.0 692.3L638.5 693.2" stroke="#231f20" stroke-width="0.9" fill="none" stroke-linecap="round" stroke-linejoin="round"/><text x="639.3" y="706.1" font-size="8.8" fill="#231f20">PPY</text><path d="M637.6 703.2L627.6 703.2M629.9 701.9L627.6 703.2L629.9 704.5" stroke="#231f20" stroke-width="0.9" fill="none" stroke-linecap="round" stroke-linejoin="round"/><text x="636.0" y="719.0" font-size="8.8" fill="#231f20">IDO2</text><path d="M634.0 714.2L625.6 709.2M628.2 709.2L625.6 709.2L626.9 711.5" stroke="#231f20" stroke-width="0.9" fill="none" stroke-linecap="round" stroke-linejoin="round"/><text x="637.2" y="732.8" font-size="8.8" fill="#231f20">IL4I1</text><path d="M635.3 728.0L626.0 723.8M628.6 723.5L626.0 723.8L627.5 725.9" stroke="#231f20" stroke-width="0.9" fill="none" stroke-linecap="round" stroke-linejoin="round"/><text x="622.3" y="747.4" font-size="8.8" fill="#231f20">APOE</text><path d="M626.7 741.5L623.0 732.2M625.0 733.8L623.0 732.2L622.6 734.8" stroke="#231f20" stroke-width="0.9" fill="none" stroke-linecap="round" stroke-linejoin="round"/><text x="513.0" y="675.4" font-size="8.8" fill="#231f20">S100A8</text><path d="M535.8 666.8L544.8 661.0M543.6 663.3L544.8 661.0L542.2 661.1" stroke="#231f20" stroke-width="0.9" fill="none" stroke-linecap="round" stroke-linejoin="round"/><text x="515.5" y="688.7" font-size="8.8" fill="#231f20">S100A9</text><path d="M544.7 680.4L549.7 672.3M549.6 674.9L549.7 672.3L547.4 673.5" stroke="#231f20" stroke-width="0.9" fill="none" stroke-linecap="round" stroke-linejoin="round"/><text x="556.1" y="686.0" font-size="8.8" fill="#231f20">CRIP1</text><path d="M568.0 687.2L577.9 692.7M575.3 692.7L577.9 692.7L576.6 690.5" stroke="#231f20" stroke-width="0.9" fill="none" stroke-linecap="round" stroke-linejoin="round"/><text x="529.2" y="708.1" font-size="8.8" fill="#231f20">S100A12</text><path d="M566.0 707.3L576.0 713.3M573.4 713.3L576.0 713.3L574.7 711.0" stroke="#231f20" stroke-width="0.9" fill="none" stroke-linecap="round" stroke-linejoin="round"/><text x="527.6" y="728.5" font-size="8.8" fill="#231f20">HSPA6</text><path d="M557.1 723.2L566.1 718.3M564.7 720.5L566.1 718.3L563.5 718.2" stroke="#231f20" stroke-width="0.9" fill="none" stroke-linecap="round" stroke-linejoin="round"/>
</svg></body></html>
